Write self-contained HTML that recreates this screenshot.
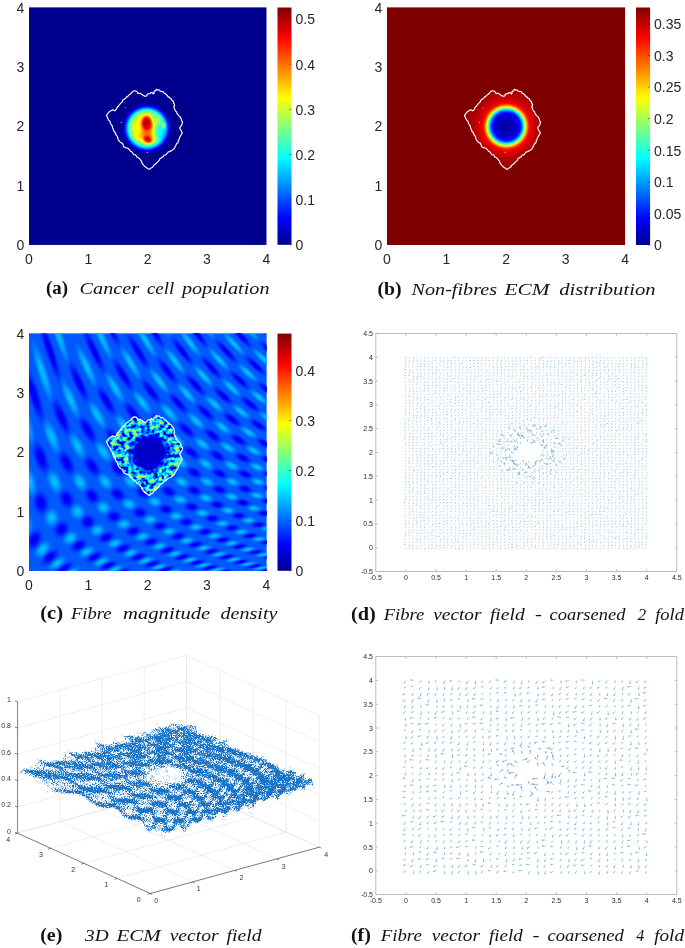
<!DOCTYPE html>
<html lang="en"><head><meta charset="utf-8"><title>Figure</title>
<style>
html,body{margin:0;padding:0;background:#fff}
svg{display:block}
.L{font-family:"Liberation Sans",sans-serif;font-size:14px;fill:#262626}
.S{font-family:"Liberation Sans",sans-serif;font-size:7px;fill:#2a2a2a}
.T{font-family:"Liberation Sans",sans-serif;font-size:7px;fill:#333}
.CB{font-family:"Liberation Serif",serif;font-weight:bold;font-size:18px;fill:#111}
.CI{font-family:"Liberation Serif",serif;font-style:italic;font-size:17px;fill:#111}
</style></head>
<body>
<svg width="685" height="948" viewBox="0 0 685 948">
<defs>
<linearGradient id="jet" x1="0" y1="1" x2="0" y2="0"><stop offset="0" stop-color="#00008f"/><stop offset="0.111" stop-color="#0000ff"/><stop offset="0.365" stop-color="#00ffff"/><stop offset="0.619" stop-color="#ffff00"/><stop offset="0.873" stop-color="#ff0000"/><stop offset="1" stop-color="#800000"/></linearGradient>
<filter id="jm" color-interpolation-filters="sRGB" x="0" y="0" width="1" height="1"><feComponentTransfer><feFuncR type="table" tableValues="0 0 0 0 0.5 1 1 1 0.5"/><feFuncG type="table" tableValues="0 0 0.5 1 1 1 0.5 0 0"/><feFuncB type="table" tableValues="0.5 1 1 1 0.5 0 0 0 0"/></feComponentTransfer></filter>
<filter id="bl1" x="-0.5" y="-0.5" width="2" height="2"><feGaussianBlur stdDeviation="1.2"/></filter>
<filter id="bl2" x="-0.5" y="-0.5" width="2" height="2"><feGaussianBlur stdDeviation="2.2"/></filter>
<clipPath id="cpA"><rect x="29" y="7.5" width="237.4" height="237.3"/></clipPath>
<clipPath id="ctA"><path d="M106.4 115.9l0.3 -0.9l0.7 -0.8l0.7 -1l1.3 -1.5l0.9 -0.5l0.6 -0.4l1.6 -1.1l0.8 0.3l1.4 0.8l1.3 -1l0.5 -1l0.4 -1l0.9 -1.3l0.7 -0.2l0.6 -1.4l0.7 -0.4l0.9 -1.5l0.6 -0.3l1 -0.8l0.2 -1.6l1 -0.5l1.3 -1l0.9 -0.5l0.7 -1.4l1.2 -0.3l0.6 -0.8l1.1 -1.1l0.9 -0.3l1.5 -1.8l0.5 -0.4l0.7 -1l1.5 -0.4l1.6 0.2l0.6 0.4l0.9 0.9l0.6 1.4l1.1 -0.4l1.1 -0.1l0.9 0.9l1.2 0.6l1.1 0.9l1.1 0.6l0.8 0l1.3 -0.3l0.8 -1.8l0.8 -0.4l1.4 0.1l1 -0.8l0.5 -0.5l1.3 0.4l0.9 1.1l0.7 -0.9l-0.2 -1.5l0.7 -0.5l1.2 -0.5l0.5 -1.4l0.7 0.7l1.5 0l0.9 0.1l0.8 1.2l1.2 0.2l1.4 0.1l0.7 0.6l0.8 1.1l1.3 0.6l1.1 1.4l0.6 0.2l0.9 1.6l0.8 -0.1l1.2 1.5l1.1 0.4l0.5 1.4l1.3 1.1l0.6 0.6l-0.1 1.7l1 0.6l-0.5 1.5l0.4 0.3l-0.7 1.1l0.4 1l0.6 1.1l0.2 0.8l0.6 1.1l1.1 0.9l0.1 1l0.6 1.2l0.5 0.5l1 1.2l1.3 1l0.3 0.4l0.6 1.5l0.4 1.1l0.1 1l1 0.8l-0.1 0.5l-0.3 1.4l-0.3 1l-0.6 0.8l-0.7 1.4l-0.9 0.8l-0.1 0.4l1.2 2l0.3 0.5l0.1 0.9l0.8 0.8l0.3 1.2l-0.8 0.8l-0.6 1.2l-0.5 0.9l-0.7 0.9l0 0.5l-0.8 1.5l-0.1 1.3l-0.6 0.4l0 1.3l-0.4 0.6l-1.4 1.2l-0.4 1.1l-0.2 0.5l-0.9 1.2l-0.3 1.2l-0.4 0.7l-0.7 0.4l-1.1 1.1l-1.2 0.6l-0.4 0.3l-1.3 0.5l-1.3 0.4l-0.7 0.8l-1 1l-0.6 1.1l-1.7 0.1l-0.6 1l-0.6 0.9l-1 0.4l-1.3 0.9l-1.1 0.8l0 0.9l-1.1 1.2l-0.9 0.7l-0.6 0.7l-0.7 0.8l-0.5 0.4l-2 1.6l-0.4 0.2l-0.3 1.3l-1.2 0.7l-0.7 0.2l-0.3 0.4l-1.2 1.1l-0.8 0l-1.3 -0.8l-1 -0.7l-1.2 -0.7l-1 -0.9l-0.8 -1.1l-0.4 -0.2l-0.7 -1.3l-0.8 -0.9l-0.1 -1.5l-0.4 -0.2l-0.9 -1.2l-0.3 -0.3l-0.8 -1.1l-1.1 -0.8l-1.3 -0.5l-0.6 -1.2l-0.3 -0.5l-0.7 -0.5l-1.2 0l-0.8 -1l-0.7 -1.2l-1 -1l-1 -0.3l-0.5 -0.8l-0.7 -1l-1.3 -1.1l-0.9 -0.4l-1 0l-1.2 -0.7l-1.1 -0.4l-0.3 -1.1l-0.3 -0.6l-0.8 -1.9l-1.1 -0.4l-0.6 -0.3l-1.4 -1.4l-0.2 -0.5l-0.8 -0.9l-0.3 -1.1l-0.4 -0.9l-0.2 -1.5l-1.2 -0.9l0 -0.5l-0.9 -1.5l0.4 -0.1l-1 -1.4l-0.9 -0.9l-0.3 -1.2l-0.3 -0.8l-0.6 -1l-0.2 -1.6l-0.6 -1l-0.8 -1.2l-0.6 -0.7l-0.1 -1.1l-0.4 -1.1l-1.3 -1.2l-0.2 -0.6l-0.8 -1.1l-0.2 -1.4z"/></clipPath>
<clipPath id="cpB"><rect x="387" y="7.5" width="238.1" height="237.5"/></clipPath>
<clipPath id="ctB"><path d="M464.4 115.9l0.3 -0.9l0.7 -0.8l0.7 -1l1.3 -1.5l0.9 -0.5l0.6 -0.4l1.6 -1.1l0.8 0.3l1.4 0.8l1.3 -1l0.5 -1l0.4 -1l0.9 -1.3l0.7 -0.2l0.6 -1.4l0.7 -0.4l0.9 -1.5l0.6 -0.3l1 -0.8l0.2 -1.6l1 -0.5l1.3 -1l0.9 -0.5l0.7 -1.4l1.2 -0.3l0.6 -0.8l1.1 -1.1l0.9 -0.3l1.5 -1.8l0.5 -0.4l0.7 -1l1.5 -0.4l1.6 0.2l0.6 0.4l0.9 0.9l0.6 1.4l1.1 -0.4l1.1 -0.1l0.9 0.9l1.2 0.6l1.1 0.9l1.1 0.6l0.8 0l1.3 -0.3l0.8 -1.8l0.8 -0.4l1.4 0.1l1 -0.8l0.5 -0.5l1.3 0.4l0.9 1.1l0.7 -0.9l-0.2 -1.5l0.7 -0.5l1.2 -0.5l0.5 -1.4l0.7 0.7l1.5 0l0.9 0.1l0.8 1.2l1.2 0.2l1.4 0.1l0.7 0.6l0.8 1.1l1.3 0.6l1.1 1.4l0.6 0.2l0.9 1.6l0.8 -0.1l1.2 1.5l1.1 0.4l0.5 1.4l1.3 1.1l0.6 0.6l-0.1 1.7l1 0.6l-0.5 1.5l0.4 0.3l-0.7 1.1l0.4 1l0.6 1.1l0.2 0.8l0.6 1.1l1.1 0.9l0.1 1l0.6 1.2l0.5 0.5l1 1.2l1.3 1l0.3 0.4l0.6 1.5l0.4 1.1l0.1 1l1 0.8l-0.1 0.5l-0.3 1.4l-0.3 1l-0.6 0.8l-0.7 1.4l-0.9 0.8l-0.1 0.4l1.2 2l0.3 0.5l0.1 0.9l0.8 0.8l0.3 1.2l-0.8 0.8l-0.6 1.2l-0.5 0.9l-0.7 0.9l0 0.5l-0.8 1.5l-0.1 1.3l-0.6 0.4l0 1.3l-0.4 0.6l-1.4 1.2l-0.4 1.1l-0.2 0.5l-0.9 1.2l-0.3 1.2l-0.4 0.7l-0.7 0.4l-1.1 1.1l-1.2 0.6l-0.4 0.3l-1.3 0.5l-1.3 0.4l-0.7 0.8l-1 1l-0.6 1.1l-1.7 0.1l-0.6 1l-0.6 0.9l-1 0.4l-1.3 0.9l-1.1 0.8l0 0.9l-1.1 1.2l-0.9 0.7l-0.6 0.7l-0.7 0.8l-0.5 0.4l-2 1.6l-0.4 0.2l-0.3 1.3l-1.2 0.7l-0.7 0.2l-0.3 0.4l-1.2 1.1l-0.8 0l-1.3 -0.8l-1 -0.7l-1.2 -0.7l-1 -0.9l-0.8 -1.1l-0.4 -0.2l-0.7 -1.3l-0.8 -0.9l-0.1 -1.5l-0.4 -0.2l-0.9 -1.2l-0.3 -0.3l-0.8 -1.1l-1.1 -0.8l-1.3 -0.5l-0.6 -1.2l-0.3 -0.5l-0.7 -0.5l-1.2 0l-0.8 -1l-0.7 -1.2l-1 -1l-1 -0.3l-0.5 -0.8l-0.7 -1l-1.3 -1.1l-0.9 -0.4l-1 0l-1.2 -0.7l-1.1 -0.4l-0.3 -1.1l-0.3 -0.6l-0.8 -1.9l-1.1 -0.4l-0.6 -0.3l-1.4 -1.4l-0.2 -0.5l-0.8 -0.9l-0.3 -1.1l-0.4 -0.9l-0.2 -1.5l-1.2 -0.9l0 -0.5l-0.9 -1.5l0.4 -0.1l-1 -1.4l-0.9 -0.9l-0.3 -1.2l-0.3 -0.8l-0.6 -1l-0.2 -1.6l-0.6 -1l-0.8 -1.2l-0.6 -0.7l-0.1 -1.1l-0.4 -1.1l-1.3 -1.2l-0.2 -0.6l-0.8 -1.1l-0.2 -1.4z"/></clipPath>
<clipPath id="cpC"><rect x="29" y="333.6" width="237.4" height="237.2"/></clipPath>
<clipPath id="ctC"><path d="M106.4 442l0.3 -0.9l0.7 -0.8l0.7 -1l1.3 -1.5l0.9 -0.5l0.6 -0.4l1.6 -1.1l0.8 0.3l1.4 0.8l1.3 -1l0.5 -1l0.4 -1l0.9 -1.3l0.7 -0.2l0.6 -1.4l0.7 -0.4l0.9 -1.5l0.6 -0.3l1 -0.8l0.2 -1.6l1 -0.5l1.3 -1l0.9 -0.5l0.7 -1.4l1.2 -0.3l0.6 -0.8l1.1 -1.1l0.9 -0.3l1.5 -1.8l0.5 -0.4l0.7 -1l1.5 -0.4l1.6 0.2l0.6 0.4l0.9 0.9l0.6 1.4l1.1 -0.4l1.1 -0.1l0.9 0.9l1.2 0.6l1.1 0.9l1.1 0.6l0.8 0l1.3 -0.3l0.8 -1.8l0.8 -0.4l1.4 0.1l1 -0.8l0.5 -0.5l1.3 0.4l0.9 1.1l0.7 -0.9l-0.2 -1.5l0.7 -0.5l1.2 -0.5l0.5 -1.4l0.7 0.7l1.5 0l0.9 0.1l0.8 1.2l1.2 0.2l1.4 0.1l0.7 0.6l0.8 1.1l1.3 0.6l1.1 1.4l0.6 0.2l0.9 1.6l0.8 -0.1l1.2 1.5l1.1 0.4l0.5 1.4l1.3 1.1l0.6 0.6l-0.1 1.7l1 0.6l-0.5 1.5l0.4 0.3l-0.7 1.1l0.4 1l0.6 1.1l0.2 0.8l0.6 1.1l1.1 0.9l0.1 1l0.6 1.2l0.5 0.5l1 1.2l1.3 1l0.3 0.4l0.6 1.5l0.4 1.1l0.1 1l1 0.8l-0.1 0.5l-0.3 1.4l-0.3 1l-0.6 0.8l-0.7 1.4l-0.9 0.8l-0.1 0.4l1.2 2l0.3 0.5l0.1 0.9l0.8 0.8l0.3 1.2l-0.8 0.8l-0.6 1.2l-0.5 0.9l-0.7 0.9l0 0.5l-0.8 1.5l-0.1 1.3l-0.6 0.4l0 1.3l-0.4 0.6l-1.4 1.2l-0.4 1.1l-0.2 0.5l-0.9 1.2l-0.3 1.2l-0.4 0.7l-0.7 0.4l-1.1 1.1l-1.2 0.6l-0.4 0.3l-1.3 0.5l-1.3 0.4l-0.7 0.8l-1 1l-0.6 1.1l-1.7 0.1l-0.6 1l-0.6 0.9l-1 0.4l-1.3 0.9l-1.1 0.8l0 0.9l-1.1 1.2l-0.9 0.7l-0.6 0.7l-0.7 0.8l-0.5 0.4l-2 1.6l-0.4 0.2l-0.3 1.3l-1.2 0.7l-0.7 0.2l-0.3 0.4l-1.2 1.1l-0.8 0l-1.3 -0.8l-1 -0.7l-1.2 -0.7l-1 -0.9l-0.8 -1.1l-0.4 -0.2l-0.7 -1.3l-0.8 -0.9l-0.1 -1.5l-0.4 -0.2l-0.9 -1.2l-0.3 -0.3l-0.8 -1.1l-1.1 -0.8l-1.3 -0.5l-0.6 -1.2l-0.3 -0.5l-0.7 -0.5l-1.2 0l-0.8 -1l-0.7 -1.2l-1 -1l-1 -0.3l-0.5 -0.8l-0.7 -1l-1.3 -1.1l-0.9 -0.4l-1 0l-1.2 -0.7l-1.1 -0.4l-0.3 -1.1l-0.3 -0.6l-0.8 -1.9l-1.1 -0.4l-0.6 -0.3l-1.4 -1.4l-0.2 -0.5l-0.8 -0.9l-0.3 -1.1l-0.4 -0.9l-0.2 -1.5l-1.2 -0.9l0 -0.5l-0.9 -1.5l0.4 -0.1l-1 -1.4l-0.9 -0.9l-0.3 -1.2l-0.3 -0.8l-0.6 -1l-0.2 -1.6l-0.6 -1l-0.8 -1.2l-0.6 -0.7l-0.1 -1.1l-0.4 -1.1l-1.3 -1.2l-0.2 -0.6l-0.8 -1.1l-0.2 -1.4z"/></clipPath>
<radialGradient id="gA"><stop offset="0" stop-color="#a1a1a1"/><stop offset="0.42" stop-color="#9e9e9e"/><stop offset="0.55" stop-color="#919191"/><stop offset="0.64" stop-color="#787878"/><stop offset="0.71" stop-color="#5c5c5c"/><stop offset="0.78" stop-color="#383838"/><stop offset="0.85" stop-color="#1c1c1c"/><stop offset="0.92" stop-color="#0a0a0a"/><stop offset="1" stop-color="#040404"/></radialGradient>
<radialGradient id="gB"><stop offset="0.000" stop-color="#080808"/><stop offset="0.130" stop-color="#0d0d0d"/><stop offset="0.239" stop-color="#171717"/><stop offset="0.304" stop-color="#242424"/><stop offset="0.337" stop-color="#383838"/><stop offset="0.374" stop-color="#606060"/><stop offset="0.404" stop-color="#858585"/><stop offset="0.430" stop-color="#a3a3a3"/><stop offset="0.461" stop-color="#c2c2c2"/><stop offset="0.500" stop-color="#dddddd"/><stop offset="0.554" stop-color="#e6e6e6"/><stop offset="0.630" stop-color="#eeeeee"/><stop offset="0.761" stop-color="#f5f5f5"/><stop offset="1.000" stop-color="#f9f9f9"/></radialGradient>
<radialGradient id="gcb"><stop offset="0.000" stop-color="#515151" stop-opacity="1.000"/><stop offset="0.125" stop-color="#515151" stop-opacity="0.962"/><stop offset="0.250" stop-color="#515151" stop-opacity="0.854"/><stop offset="0.375" stop-color="#515151" stop-opacity="0.691"/><stop offset="0.500" stop-color="#515151" stop-opacity="0.500"/><stop offset="0.625" stop-color="#515151" stop-opacity="0.309"/><stop offset="0.750" stop-color="#515151" stop-opacity="0.146"/><stop offset="0.875" stop-color="#515151" stop-opacity="0.038"/><stop offset="1.000" stop-color="#515151" stop-opacity="0.000"/></radialGradient>
<radialGradient id="gcd"><stop offset="0.000" stop-color="#1b1b1b" stop-opacity="1.000"/><stop offset="0.125" stop-color="#1b1b1b" stop-opacity="0.962"/><stop offset="0.250" stop-color="#1b1b1b" stop-opacity="0.854"/><stop offset="0.375" stop-color="#1b1b1b" stop-opacity="0.691"/><stop offset="0.500" stop-color="#1b1b1b" stop-opacity="0.500"/><stop offset="0.625" stop-color="#1b1b1b" stop-opacity="0.309"/><stop offset="0.750" stop-color="#1b1b1b" stop-opacity="0.146"/><stop offset="0.875" stop-color="#1b1b1b" stop-opacity="0.038"/><stop offset="1.000" stop-color="#1b1b1b" stop-opacity="0.000"/></radialGradient>
<circle id="sb" r="1" fill="url(#gcb)"/><circle id="sd" r="1" fill="url(#gcd)"/>
<filter id="nz" color-interpolation-filters="sRGB" x="0" y="0" width="1" height="1"><feTurbulence type="fractalNoise" baseFrequency="0.24" numOctaves="2" seed="11"/><feColorMatrix type="matrix" values="1.15 0 0 0 -0.265 1.15 0 0 0 -0.265 1.15 0 0 0 -0.265 0 0 0 0 1"/></filter>
<radialGradient id="gcore"><stop offset="0.000" stop-color="#0e0e0e" stop-opacity="0.95"/><stop offset="0.462" stop-color="#0e0e0e" stop-opacity="0.93"/><stop offset="0.577" stop-color="#0e0e0e" stop-opacity="0.85"/><stop offset="0.673" stop-color="#0e0e0e" stop-opacity="0.6"/><stop offset="0.769" stop-color="#0e0e0e" stop-opacity="0.3"/><stop offset="0.885" stop-color="#0e0e0e" stop-opacity="0.08"/><stop offset="1.000" stop-color="#0e0e0e" stop-opacity="0"/></radialGradient>
<filter id="spk" x="0" y="0" width="1" height="1" color-interpolation-filters="sRGB"><feTurbulence type="fractalNoise" baseFrequency="0.9" numOctaves="2" seed="4" result="n"/><feColorMatrix in="n" type="matrix" values="0 0 0 0 0 0 0 0 0 0 0 0 0 0 0 1 0 0 0 0" result="na"/><feComposite in="na" in2="SourceGraphic" operator="arithmetic" k1="0" k2="5" k3="3.8" k4="-3.6" result="m"/><feFlood flood-color="#1873c6" result="f"/><feComposite in="f" in2="m" operator="in" result="o"/><feComponentTransfer in="SourceGraphic" result="sa"><feFuncA type="linear" slope="7" intercept="-0.35"/></feComponentTransfer><feComposite in="o" in2="sa" operator="in"/></filter>
<filter id="ble" x="-0.1" y="-0.1" width="1.2" height="1.2"><feGaussianBlur stdDeviation="1.1"/></filter>
<clipPath id="cpE"><path d="M18.7 769.4L21.6 768.6L25.1 765.1L31.2 761.4L34.1 760.7L36.5 757.6L42.5 756.6L46.9 754.4L49.9 753.0L54.9 754.3L59.4 752.6L63.2 751.2L66.8 748.5L72.3 749.0L75.7 746.0L79.4 745.5L83.5 746.4L87.4 745.7L93.2 742.2L96.0 742.6L99.2 741.5L105.4 739.4L108.5 738.3L112.4 739.7L115.4 735.8L119.0 736.4L122.8 733.9L128.0 735.4L132.2 732.2L137.2 729.7L141.4 728.4L145.9 729.4L149.3 727.1L155.6 724.8L159.5 726.6L166.3 722.8L169.9 724.5L173.1 722.4L177.0 720.7L183.2 722.2L187.9 721.5L191.3 724.8L196.4 724.3L200.4 726.9L204.8 725.3L209.2 727.9L212.2 729.1L216.1 731.1L219.0 733.7L222.9 735.7L226.6 737.3L232.5 738.0L236.1 739.1L240.1 741.6L242.6 745.3L246.9 745.3L252.0 747.3L255.4 748.6L259.7 750.8L261.5 755.0L265.4 756.9L271.0 757.7L272.0 757.9L276.0 760.9L280.6 764.7L283.5 764.0L287.5 765.9L289.8 769.2L295.6 769.4L299.2 773.2L304.3 773.9L308.8 774.9L311.9 779.7L315.8 781.7L309.6 782.6L306.5 785.3L302.5 787.4L298.8 788.2L292.6 788.5L289.6 790.2L285.5 791.6L281.9 796.7L278.2 799.4L273.0 802.2L271.4 803.4L266.0 804.2L262.6 803.4L257.4 805.7L252.1 807.0L248.7 805.8L244.2 807.7L239.9 809.7L234.9 811.1L231.9 813.5L227.7 814.8L225.2 815.6L221.8 815.2L217.3 818.6L212.5 818.4L206.0 818.1L202.5 818.6L197.1 821.6L194.2 824.7L189.1 827.9L186.0 830.4L181.2 833.5L178.7 836.0L174.6 837.0L167.2 836.9L163.8 836.8L159.9 833.6L155.4 831.9L153.3 833.3L147.6 831.2L143.6 829.1L139.1 828.1L134.5 825.6L130.9 824.0L127.0 824.0L122.2 819.0L120.4 816.4L115.3 816.6L112.4 812.2L107.3 810.0L104.2 810.0L102.3 808.3L98.4 807.2L94.7 805.5L91.2 801.2L84.6 800.3L80.5 799.6L74.9 799.3L70.9 795.8L66.4 795.1L63.0 794.0L58.4 791.3L54.1 790.3L49.3 789.5L45.0 787.9L41.8 783.8L37.3 782.3L32.5 780.9L29.8 779.1L26.3 774.3L22.4 772.0z"/></clipPath>
<mask id="mE" maskUnits="userSpaceOnUse" x="0" y="640" width="343" height="300"><rect x="0" y="640" width="343" height="300" fill="#fff"/><ellipse cx="166" cy="775.5" rx="27" ry="12" fill="url(#ghm)"/></mask>
<radialGradient id="ghm"><stop offset="0" stop-color="#000" stop-opacity="0.9"/><stop offset="0.5" stop-color="#000" stop-opacity="0.8"/><stop offset="0.7" stop-color="#000" stop-opacity="0.45"/><stop offset="1" stop-color="#000" stop-opacity="0"/></radialGradient>
<filter id="blw" x="-0.05" y="-0.1" width="1.1" height="1.2"><feGaussianBlur stdDeviation="0.8"/></filter>
</defs>
<rect width="685" height="948" fill="#fff"/>
<rect x="29" y="7.5" width="237.4" height="237.3" fill="#00008f"/>
<g clip-path="url(#cpA)"><g filter="url(#jm)"><rect x="29" y="7.5" width="237.4" height="237.3" fill="#040404"/><circle cx="146.8" cy="128.3" r="26.5" fill="url(#gA)"/><ellipse cx="160" cy="131.2" rx="5.3" ry="9.1" fill="#000" opacity="0.32" filter="url(#bl2)"/><ellipse cx="153.4" cy="118.8" rx="3.2" ry="4.4" fill="#000" opacity="0.12" filter="url(#bl1)"/><ellipse cx="146.8" cy="129" rx="5" ry="13.9" fill="#fff" opacity="0.42" filter="url(#bl2)" transform="rotate(-4 146.8 129)"/><ellipse cx="146.8" cy="123.2" rx="5" ry="6.7" fill="#fff" opacity="0.62" filter="url(#bl1)"/><ellipse cx="146.4" cy="122.4" rx="2" ry="2.6" fill="#fff" opacity="0.55" filter="url(#bl1)"/><ellipse cx="147.8" cy="139.5" rx="4.4" ry="2.9" fill="#fff" opacity="0.62" filter="url(#bl1)" transform="rotate(28 147.8 139.5)"/><ellipse cx="138.8" cy="136.3" rx="5.3" ry="2.9" fill="#fff" opacity="0.1" filter="url(#bl1)" transform="rotate(-15 138.8 136.3)"/><ellipse cx="163.6" cy="125.4" rx="1.3" ry="2.5" fill="#fff" opacity="0.42" filter="url(#bl1)"/></g></g><path d="M106.4 115.9l0.3 -0.9l0.7 -0.8l0.7 -1l1.3 -1.5l0.9 -0.5l0.6 -0.4l1.6 -1.1l0.8 0.3l1.4 0.8l1.3 -1l0.5 -1l0.4 -1l0.9 -1.3l0.7 -0.2l0.6 -1.4l0.7 -0.4l0.9 -1.5l0.6 -0.3l1 -0.8l0.2 -1.6l1 -0.5l1.3 -1l0.9 -0.5l0.7 -1.4l1.2 -0.3l0.6 -0.8l1.1 -1.1l0.9 -0.3l1.5 -1.8l0.5 -0.4l0.7 -1l1.5 -0.4l1.6 0.2l0.6 0.4l0.9 0.9l0.6 1.4l1.1 -0.4l1.1 -0.1l0.9 0.9l1.2 0.6l1.1 0.9l1.1 0.6l0.8 0l1.3 -0.3l0.8 -1.8l0.8 -0.4l1.4 0.1l1 -0.8l0.5 -0.5l1.3 0.4l0.9 1.1l0.7 -0.9l-0.2 -1.5l0.7 -0.5l1.2 -0.5l0.5 -1.4l0.7 0.7l1.5 0l0.9 0.1l0.8 1.2l1.2 0.2l1.4 0.1l0.7 0.6l0.8 1.1l1.3 0.6l1.1 1.4l0.6 0.2l0.9 1.6l0.8 -0.1l1.2 1.5l1.1 0.4l0.5 1.4l1.3 1.1l0.6 0.6l-0.1 1.7l1 0.6l-0.5 1.5l0.4 0.3l-0.7 1.1l0.4 1l0.6 1.1l0.2 0.8l0.6 1.1l1.1 0.9l0.1 1l0.6 1.2l0.5 0.5l1 1.2l1.3 1l0.3 0.4l0.6 1.5l0.4 1.1l0.1 1l1 0.8l-0.1 0.5l-0.3 1.4l-0.3 1l-0.6 0.8l-0.7 1.4l-0.9 0.8l-0.1 0.4l1.2 2l0.3 0.5l0.1 0.9l0.8 0.8l0.3 1.2l-0.8 0.8l-0.6 1.2l-0.5 0.9l-0.7 0.9l0 0.5l-0.8 1.5l-0.1 1.3l-0.6 0.4l0 1.3l-0.4 0.6l-1.4 1.2l-0.4 1.1l-0.2 0.5l-0.9 1.2l-0.3 1.2l-0.4 0.7l-0.7 0.4l-1.1 1.1l-1.2 0.6l-0.4 0.3l-1.3 0.5l-1.3 0.4l-0.7 0.8l-1 1l-0.6 1.1l-1.7 0.1l-0.6 1l-0.6 0.9l-1 0.4l-1.3 0.9l-1.1 0.8l0 0.9l-1.1 1.2l-0.9 0.7l-0.6 0.7l-0.7 0.8l-0.5 0.4l-2 1.6l-0.4 0.2l-0.3 1.3l-1.2 0.7l-0.7 0.2l-0.3 0.4l-1.2 1.1l-0.8 0l-1.3 -0.8l-1 -0.7l-1.2 -0.7l-1 -0.9l-0.8 -1.1l-0.4 -0.2l-0.7 -1.3l-0.8 -0.9l-0.1 -1.5l-0.4 -0.2l-0.9 -1.2l-0.3 -0.3l-0.8 -1.1l-1.1 -0.8l-1.3 -0.5l-0.6 -1.2l-0.3 -0.5l-0.7 -0.5l-1.2 0l-0.8 -1l-0.7 -1.2l-1 -1l-1 -0.3l-0.5 -0.8l-0.7 -1l-1.3 -1.1l-0.9 -0.4l-1 0l-1.2 -0.7l-1.1 -0.4l-0.3 -1.1l-0.3 -0.6l-0.8 -1.9l-1.1 -0.4l-0.6 -0.3l-1.4 -1.4l-0.2 -0.5l-0.8 -0.9l-0.3 -1.1l-0.4 -0.9l-0.2 -1.5l-1.2 -0.9l0 -0.5l-0.9 -1.5l0.4 -0.1l-1 -1.4l-0.9 -0.9l-0.3 -1.2l-0.3 -0.8l-0.6 -1l-0.2 -1.6l-0.6 -1l-0.8 -1.2l-0.6 -0.7l-0.1 -1.1l-0.4 -1.1l-1.3 -1.2l-0.2 -0.6l-0.8 -1.1l-0.2 -1.4z" fill="none" stroke="#fff" stroke-width="1.15" stroke-linejoin="round"/><circle cx="125.2" cy="107.8" r="0.55" fill="#fff" opacity="0.85"/><circle cx="121.3" cy="122.4" r="0.55" fill="#fff" opacity="0.85"/><circle cx="147.3" cy="152.4" r="0.55" fill="#fff" opacity="0.85"/>
<text x="29" y="264.1" text-anchor="middle" class="L">0</text>
<text x="24.3" y="249.9" text-anchor="end" class="L">0</text>
<text x="88.3" y="264.1" text-anchor="middle" class="L">1</text>
<text x="24.3" y="190.6" text-anchor="end" class="L">1</text>
<text x="147.7" y="264.1" text-anchor="middle" class="L">2</text>
<text x="24.3" y="131.2" text-anchor="end" class="L">2</text>
<text x="207" y="264.1" text-anchor="middle" class="L">3</text>
<text x="24.3" y="71.9" text-anchor="end" class="L">3</text>
<text x="266.4" y="264.1" text-anchor="middle" class="L">4</text>
<text x="24.3" y="12.6" text-anchor="end" class="L">4</text>
<rect x="277.5" y="7.5" width="14" height="237.3" fill="url(#jet)"/>
<text x="295.5" y="250.1" class="L">0</text>
<path d="M289.1 244.8h2.4" stroke="#262626" stroke-width="0.5"/>
<text x="295.5" y="204.9" class="L">0.1</text>
<path d="M289.1 199.6h2.4" stroke="#262626" stroke-width="0.5"/>
<text x="295.5" y="159.8" class="L">0.2</text>
<path d="M289.1 154.5h2.4" stroke="#262626" stroke-width="0.5"/>
<text x="295.5" y="114.6" class="L">0.3</text>
<path d="M289.1 109.3h2.4" stroke="#262626" stroke-width="0.5"/>
<text x="295.5" y="69.5" class="L">0.4</text>
<path d="M289.1 64.2h2.4" stroke="#262626" stroke-width="0.5"/>
<text x="295.5" y="24.3" class="L">0.5</text>
<path d="M289.1 19h2.4" stroke="#262626" stroke-width="0.5"/>
<rect x="387" y="7.5" width="238.1" height="237.5" fill="#800000"/>
<g clip-path="url(#cpB)"><g filter="url(#jm)"><rect x="387" y="7.5" width="238.1" height="237.5" fill="#ffffff"/><g clip-path="url(#ctB)"><ellipse cx="506.3" cy="126.4" rx="46.0" ry="46.0" fill="url(#gB)"/></g></g></g><path d="M464.4 115.9l0.3 -0.9l0.7 -0.8l0.7 -1l1.3 -1.5l0.9 -0.5l0.6 -0.4l1.6 -1.1l0.8 0.3l1.4 0.8l1.3 -1l0.5 -1l0.4 -1l0.9 -1.3l0.7 -0.2l0.6 -1.4l0.7 -0.4l0.9 -1.5l0.6 -0.3l1 -0.8l0.2 -1.6l1 -0.5l1.3 -1l0.9 -0.5l0.7 -1.4l1.2 -0.3l0.6 -0.8l1.1 -1.1l0.9 -0.3l1.5 -1.8l0.5 -0.4l0.7 -1l1.5 -0.4l1.6 0.2l0.6 0.4l0.9 0.9l0.6 1.4l1.1 -0.4l1.1 -0.1l0.9 0.9l1.2 0.6l1.1 0.9l1.1 0.6l0.8 0l1.3 -0.3l0.8 -1.8l0.8 -0.4l1.4 0.1l1 -0.8l0.5 -0.5l1.3 0.4l0.9 1.1l0.7 -0.9l-0.2 -1.5l0.7 -0.5l1.2 -0.5l0.5 -1.4l0.7 0.7l1.5 0l0.9 0.1l0.8 1.2l1.2 0.2l1.4 0.1l0.7 0.6l0.8 1.1l1.3 0.6l1.1 1.4l0.6 0.2l0.9 1.6l0.8 -0.1l1.2 1.5l1.1 0.4l0.5 1.4l1.3 1.1l0.6 0.6l-0.1 1.7l1 0.6l-0.5 1.5l0.4 0.3l-0.7 1.1l0.4 1l0.6 1.1l0.2 0.8l0.6 1.1l1.1 0.9l0.1 1l0.6 1.2l0.5 0.5l1 1.2l1.3 1l0.3 0.4l0.6 1.5l0.4 1.1l0.1 1l1 0.8l-0.1 0.5l-0.3 1.4l-0.3 1l-0.6 0.8l-0.7 1.4l-0.9 0.8l-0.1 0.4l1.2 2l0.3 0.5l0.1 0.9l0.8 0.8l0.3 1.2l-0.8 0.8l-0.6 1.2l-0.5 0.9l-0.7 0.9l0 0.5l-0.8 1.5l-0.1 1.3l-0.6 0.4l0 1.3l-0.4 0.6l-1.4 1.2l-0.4 1.1l-0.2 0.5l-0.9 1.2l-0.3 1.2l-0.4 0.7l-0.7 0.4l-1.1 1.1l-1.2 0.6l-0.4 0.3l-1.3 0.5l-1.3 0.4l-0.7 0.8l-1 1l-0.6 1.1l-1.7 0.1l-0.6 1l-0.6 0.9l-1 0.4l-1.3 0.9l-1.1 0.8l0 0.9l-1.1 1.2l-0.9 0.7l-0.6 0.7l-0.7 0.8l-0.5 0.4l-2 1.6l-0.4 0.2l-0.3 1.3l-1.2 0.7l-0.7 0.2l-0.3 0.4l-1.2 1.1l-0.8 0l-1.3 -0.8l-1 -0.7l-1.2 -0.7l-1 -0.9l-0.8 -1.1l-0.4 -0.2l-0.7 -1.3l-0.8 -0.9l-0.1 -1.5l-0.4 -0.2l-0.9 -1.2l-0.3 -0.3l-0.8 -1.1l-1.1 -0.8l-1.3 -0.5l-0.6 -1.2l-0.3 -0.5l-0.7 -0.5l-1.2 0l-0.8 -1l-0.7 -1.2l-1 -1l-1 -0.3l-0.5 -0.8l-0.7 -1l-1.3 -1.1l-0.9 -0.4l-1 0l-1.2 -0.7l-1.1 -0.4l-0.3 -1.1l-0.3 -0.6l-0.8 -1.9l-1.1 -0.4l-0.6 -0.3l-1.4 -1.4l-0.2 -0.5l-0.8 -0.9l-0.3 -1.1l-0.4 -0.9l-0.2 -1.5l-1.2 -0.9l0 -0.5l-0.9 -1.5l0.4 -0.1l-1 -1.4l-0.9 -0.9l-0.3 -1.2l-0.3 -0.8l-0.6 -1l-0.2 -1.6l-0.6 -1l-0.8 -1.2l-0.6 -0.7l-0.1 -1.1l-0.4 -1.1l-1.3 -1.2l-0.2 -0.6l-0.8 -1.1l-0.2 -1.4z" fill="none" stroke="#fff" stroke-width="1.15" stroke-linejoin="round"/><circle cx="483.2" cy="107.8" r="0.55" fill="#fff" opacity="0.85"/><circle cx="479.3" cy="122.4" r="0.55" fill="#fff" opacity="0.85"/><circle cx="505.3" cy="152.4" r="0.55" fill="#fff" opacity="0.85"/>
<text x="387" y="264.3" text-anchor="middle" class="L">0</text>
<text x="382.3" y="250.1" text-anchor="end" class="L">0</text>
<text x="446.5" y="264.3" text-anchor="middle" class="L">1</text>
<text x="382.3" y="190.7" text-anchor="end" class="L">1</text>
<text x="506.1" y="264.3" text-anchor="middle" class="L">2</text>
<text x="382.3" y="131.3" text-anchor="end" class="L">2</text>
<text x="565.6" y="264.3" text-anchor="middle" class="L">3</text>
<text x="382.3" y="72" text-anchor="end" class="L">3</text>
<text x="625.1" y="264.3" text-anchor="middle" class="L">4</text>
<text x="382.3" y="12.6" text-anchor="end" class="L">4</text>
<rect x="636" y="7.5" width="14.1" height="237.5" fill="url(#jet)"/>
<text x="654" y="250.3" class="L">0</text>
<path d="M647.7 245h2.4" stroke="#262626" stroke-width="0.5"/>
<text x="654" y="218.7" class="L">0.05</text>
<path d="M647.7 213.4h2.4" stroke="#262626" stroke-width="0.5"/>
<text x="654" y="187.1" class="L">0.1</text>
<path d="M647.7 181.8h2.4" stroke="#262626" stroke-width="0.5"/>
<text x="654" y="155.5" class="L">0.15</text>
<path d="M647.7 150.2h2.4" stroke="#262626" stroke-width="0.5"/>
<text x="654" y="123.9" class="L">0.2</text>
<path d="M647.7 118.6h2.4" stroke="#262626" stroke-width="0.5"/>
<text x="654" y="92.3" class="L">0.25</text>
<path d="M647.7 87h2.4" stroke="#262626" stroke-width="0.5"/>
<text x="654" y="60.7" class="L">0.3</text>
<path d="M647.7 55.4h2.4" stroke="#262626" stroke-width="0.5"/>
<text x="654" y="29.1" class="L">0.35</text>
<path d="M647.7 23.8h2.4" stroke="#262626" stroke-width="0.5"/>
<rect x="29" y="333.6" width="237.4" height="237.2" fill="#0057ff"/>
<g clip-path="url(#cpC)"><g filter="url(#jm)"><rect x="29" y="333.6" width="237.4" height="237.2" fill="#363636"/><use href="#sd" transform="matrix(11.46 -12.34 3.99 4.29 19.4 574.3)"/><use href="#sb" transform="matrix(12.31 -11.49 3.71 3.46 25.3 580.2)"/><use href="#sb" transform="matrix(7.39 -11.49 6.19 9.62 25.3 527.1)"/><use href="#sd" transform="matrix(8.17 -10.39 5.60 7.12 34.3 539.8)"/><use href="#sb" transform="matrix(8.88 -9.56 5.15 5.54 42.5 549.4)"/><use href="#sd" transform="matrix(9.54 -8.90 4.79 4.47 50.1 557.0)"/><use href="#sb" transform="matrix(10.15 -8.36 4.50 3.71 57.2 563.3)"/><use href="#sd" transform="matrix(10.73 -7.91 4.26 3.14 63.9 568.5)"/><use href="#sb" transform="matrix(11.28 -7.52 4.05 2.70 70.3 572.9)"/><use href="#sd" transform="matrix(11.81 -7.19 3.87 2.36 76.4 576.8)"/><use href="#sd" transform="matrix(4.65 -13.03 9.82 27.49 15.2 449.2)"/><use href="#sb" transform="matrix(5.51 -11.01 8.30 16.60 29.0 481.8)"/><use href="#sd" transform="matrix(6.24 -9.71 7.32 11.38 40.9 502.8)"/><use href="#sb" transform="matrix(6.90 -8.78 6.62 8.43 51.6 517.8)"/><use href="#sd" transform="matrix(7.50 -8.08 6.09 6.56 61.3 529.2)"/><use href="#sb" transform="matrix(8.06 -7.52 5.67 5.29 70.3 538.2)"/><use href="#sd" transform="matrix(8.58 -7.07 5.33 4.39 78.7 545.6)"/><use href="#sb" transform="matrix(9.07 -6.68 5.04 3.71 86.6 551.8)"/><use href="#sd" transform="matrix(9.54 -6.36 4.79 3.19 94.2 557.0)"/><use href="#sb" transform="matrix(9.98 -6.07 4.58 2.79 101.3 561.6)"/><use href="#sd" transform="matrix(10.40 -5.83 4.39 2.46 108.2 565.6)"/><use href="#sb" transform="matrix(10.81 -5.61 4.23 2.19 114.8 569.2)"/><use href="#sd" transform="matrix(11.21 -5.41 4.08 1.97 121.2 572.3)"/><use href="#sb" transform="matrix(11.59 -5.23 3.94 1.78 127.3 575.2)"/><use href="#sb" transform="matrix(4.10 -11.49 11.13 31.18 25.3 420.9)"/><use href="#sd" transform="matrix(4.86 -9.71 9.41 18.82 40.9 457.9)"/><use href="#sb" transform="matrix(5.51 -8.56 8.30 12.91 54.4 481.8)"/><use href="#sd" transform="matrix(6.09 -7.75 7.51 9.55 66.5 498.8)"/><use href="#sb" transform="matrix(6.62 -7.13 6.91 7.44 77.5 511.7)"/><use href="#sd" transform="matrix(7.11 -6.63 6.43 6.00 87.7 521.9)"/><use href="#sb" transform="matrix(7.57 -6.23 6.04 4.97 97.3 530.3)"/><use href="#sd" transform="matrix(8.00 -5.89 5.71 4.21 106.3 537.3)"/><use href="#sb" transform="matrix(8.41 -5.61 5.43 3.62 114.8 543.3)"/><use href="#sd" transform="matrix(8.80 -5.36 5.19 3.16 123.0 548.4)"/><use href="#sb" transform="matrix(9.18 -5.14 4.98 2.79 130.7 553.0)"/><use href="#sd" transform="matrix(9.54 -4.94 4.79 2.48 138.2 557.0)"/><use href="#sb" transform="matrix(9.88 -4.77 4.62 2.23 145.4 560.6)"/><use href="#sd" transform="matrix(10.22 -4.61 4.47 2.02 152.4 563.9)"/><use href="#sb" transform="matrix(10.54 -4.47 4.33 1.84 159.2 566.8)"/><use href="#sd" transform="matrix(10.86 -4.34 4.21 1.68 165.7 569.5)"/><use href="#sb" transform="matrix(11.16 -4.22 4.09 1.55 172.1 572.0)"/><use href="#sd" transform="matrix(11.46 -4.11 3.99 1.43 178.2 574.3)"/><use href="#sb" transform="matrix(2.88 -13.42 15.89 74.16 13.0 318.9)"/><use href="#sd" transform="matrix(3.71 -10.39 12.31 34.47 34.3 395.7)"/><use href="#sb" transform="matrix(4.39 -8.78 10.40 20.81 51.6 436.6)"/><use href="#sd" transform="matrix(4.98 -7.75 9.17 14.27 66.5 463.0)"/><use href="#sb" transform="matrix(5.51 -7.01 8.30 10.56 79.9 481.8)"/><use href="#sd" transform="matrix(5.99 -6.45 7.63 8.22 92.1 496.0)"/><use href="#sb" transform="matrix(6.43 -6.00 7.11 6.63 103.3 507.4)"/><use href="#sd" transform="matrix(6.84 -5.64 6.68 5.50 113.9 516.6)"/><use href="#sb" transform="matrix(7.24 -5.33 6.31 4.65 123.8 524.3)"/><use href="#sd" transform="matrix(7.61 -5.07 6.01 4.00 133.3 531.0)"/><use href="#sb" transform="matrix(7.96 -4.85 5.74 3.49 142.3 536.7)"/><use href="#sd" transform="matrix(8.30 -4.65 5.50 3.08 150.9 541.7)"/><use href="#sb" transform="matrix(8.63 -4.47 5.30 2.75 159.2 546.2)"/><use href="#sd" transform="matrix(8.94 -4.32 5.11 2.47 167.1 550.2)"/><use href="#sb" transform="matrix(9.24 -4.17 4.94 2.23 174.8 553.8)"/><use href="#sd" transform="matrix(9.54 -4.05 4.79 2.03 182.3 557.0)"/><use href="#sb" transform="matrix(9.82 -3.93 4.65 1.86 189.5 560.0)"/><use href="#sd" transform="matrix(10.10 -3.82 4.52 1.71 196.5 562.7)"/><use href="#sb" transform="matrix(10.37 -3.72 4.41 1.58 203.4 565.3)"/><use href="#sd" transform="matrix(10.63 -3.63 4.30 1.47 210.1 567.6)"/><use href="#sb" transform="matrix(10.89 -3.54 4.20 1.37 216.6 569.8)"/><use href="#sd" transform="matrix(11.14 -3.46 4.10 1.28 222.9 571.8)"/><use href="#sb" transform="matrix(11.38 -3.39 4.01 1.20 229.1 573.7)"/><use href="#sb" transform="matrix(3.41 -9.56 13.38 37.47 42.5 372.7)"/><use href="#sd" transform="matrix(4.04 -8.08 11.31 22.62 61.3 417.2)"/><use href="#sb" transform="matrix(4.58 -7.13 9.97 15.52 77.5 445.8)"/><use href="#sd" transform="matrix(5.06 -6.45 9.02 11.48 92.1 466.3)"/><use href="#sb" transform="matrix(5.51 -5.93 8.30 8.94 105.3 481.8)"/><use href="#sd" transform="matrix(5.91 -5.52 7.73 7.21 117.6 494.1)"/><use href="#sb" transform="matrix(6.30 -5.18 7.26 5.98 129.0 504.1)"/><use href="#sd" transform="matrix(6.66 -4.90 6.86 5.06 139.9 512.5)"/><use href="#sb" transform="matrix(7.00 -4.66 6.53 4.35 150.1 519.7)"/><use href="#sd" transform="matrix(7.32 -4.46 6.24 3.80 159.9 526.0)"/><use href="#sb" transform="matrix(7.63 -4.28 5.98 3.35 169.2 531.4)"/><use href="#sd" transform="matrix(7.93 -4.11 5.76 2.99 178.2 536.3)"/><use href="#sb" transform="matrix(8.22 -3.97 5.56 2.68 186.9 540.6)"/><use href="#sd" transform="matrix(8.50 -3.84 5.37 2.43 195.3 544.5)"/><use href="#sb" transform="matrix(8.77 -3.72 5.21 2.21 203.4 548.1)"/><use href="#sd" transform="matrix(9.03 -3.61 5.06 2.02 211.3 551.3)"/><use href="#sb" transform="matrix(9.29 -3.51 4.92 1.86 218.9 554.3)"/><use href="#sd" transform="matrix(9.54 -3.42 4.79 1.72 226.3 557.0)"/><use href="#sb" transform="matrix(9.78 -3.34 4.67 1.60 233.6 559.6)"/><use href="#sd" transform="matrix(10.01 -3.26 4.56 1.49 240.7 561.9)"/><use href="#sb" transform="matrix(10.24 -3.19 4.46 1.39 247.6 564.1)"/><use href="#sd" transform="matrix(10.47 -3.12 4.36 1.30 254.3 566.2)"/><use href="#sb" transform="matrix(10.69 -3.05 4.27 1.22 261.0 568.1)"/><use href="#sd" transform="matrix(10.90 -2.99 4.19 1.15 267.4 569.9)"/><use href="#sb" transform="matrix(11.12 -2.94 4.11 1.09 273.8 571.6)"/><use href="#sd" transform="matrix(11.32 -2.88 4.03 1.03 280.0 573.3)"/><use href="#sd" transform="matrix(3.18 -8.90 14.37 40.25 50.1 351.4)"/><use href="#sb" transform="matrix(3.76 -7.52 12.15 24.30 70.3 399.2)"/><use href="#sd" transform="matrix(4.26 -6.63 10.71 16.67 87.7 430.0)"/><use href="#sb" transform="matrix(4.71 -6.00 9.69 12.33 103.3 451.9)"/><use href="#sd" transform="matrix(5.13 -5.52 8.91 9.60 117.6 468.6)"/><use href="#sb" transform="matrix(5.51 -5.14 8.30 7.75 130.7 481.8)"/><use href="#sd" transform="matrix(5.86 -4.83 7.80 6.42 143.1 492.6)"/><use href="#sb" transform="matrix(6.20 -4.57 7.37 5.43 154.7 501.6)"/><use href="#sd" transform="matrix(6.51 -4.34 7.01 4.68 165.7 509.3)"/><use href="#sb" transform="matrix(6.82 -4.15 6.70 4.08 176.2 516.0)"/><use href="#sd" transform="matrix(7.11 -3.98 6.43 3.60 186.3 521.9)"/><use href="#sb" transform="matrix(7.39 -3.83 6.19 3.21 195.9 527.1)"/><use href="#sd" transform="matrix(7.66 -3.70 5.97 2.88 205.2 531.8)"/><use href="#sb" transform="matrix(7.91 -3.57 5.77 2.61 214.2 536.0)"/><use href="#sd" transform="matrix(8.17 -3.46 5.60 2.37 222.9 539.8)"/><use href="#sb" transform="matrix(8.41 -3.36 5.43 2.17 231.4 543.3)"/><use href="#sd" transform="matrix(8.65 -3.27 5.28 2.00 239.6 546.5)"/><use href="#sb" transform="matrix(8.88 -3.19 5.15 1.85 247.6 549.4)"/><use href="#sd" transform="matrix(9.10 -3.11 5.02 1.71 255.4 552.1)"/><use href="#sb" transform="matrix(9.32 -3.03 4.90 1.60 263.0 554.7)"/><use href="#sd" transform="matrix(9.54 -2.97 4.79 1.49 270.4 557.0)"/><use href="#sb" transform="matrix(9.75 -2.90 4.69 1.40 277.7 559.2)"/><use href="#sb" transform="matrix(2.99 -8.36 15.30 42.85 57.2 331.5)"/><use href="#sd" transform="matrix(3.53 -7.07 12.93 25.87 78.7 382.4)"/><use href="#sb" transform="matrix(4.01 -6.23 11.41 17.74 97.3 415.1)"/><use href="#sd" transform="matrix(4.43 -5.64 10.32 13.13 113.9 438.5)"/><use href="#sb" transform="matrix(4.81 -5.18 9.49 10.22 129.0 456.2)"/><use href="#sd" transform="matrix(5.17 -4.83 8.83 8.25 143.1 470.3)"/><use href="#sb" transform="matrix(5.51 -4.53 8.30 6.83 156.2 481.8)"/><use href="#sd" transform="matrix(5.82 -4.29 7.85 5.78 168.5 491.4)"/><use href="#sb" transform="matrix(6.12 -4.08 7.47 4.98 180.3 499.6)"/><use href="#sd" transform="matrix(6.40 -3.90 7.13 4.34 191.5 506.8)"/><use href="#sb" transform="matrix(6.68 -3.74 6.84 3.83 202.2 513.0)"/><use href="#sd" transform="matrix(6.94 -3.60 6.59 3.41 212.4 518.5)"/><use href="#sb" transform="matrix(7.19 -3.47 6.35 3.07 222.4 523.5)"/><use href="#sd" transform="matrix(7.43 -3.36 6.15 2.78 231.9 528.0)"/><use href="#sb" transform="matrix(7.67 -3.25 5.96 2.53 241.2 532.0)"/><use href="#sd" transform="matrix(7.90 -3.16 5.78 2.31 250.2 535.7)"/><use href="#sb" transform="matrix(8.12 -3.07 5.63 2.13 258.9 539.1)"/><use href="#sd" transform="matrix(8.34 -2.99 5.48 1.97 267.4 542.3)"/><use href="#sb" transform="matrix(8.55 -2.92 5.34 1.82 275.7 545.2)"/><use href="#sb" transform="matrix(3.34 -6.68 13.67 27.34 86.6 366.5)"/><use href="#sd" transform="matrix(3.79 -5.89 12.06 18.76 106.3 401.1)"/><use href="#sb" transform="matrix(4.19 -5.33 10.91 13.88 123.8 425.8)"/><use href="#sd" transform="matrix(4.55 -4.90 10.03 10.80 139.9 444.6)"/><use href="#sb" transform="matrix(4.89 -4.57 9.34 8.72 154.7 459.4)"/><use href="#sd" transform="matrix(5.21 -4.29 8.77 7.23 168.5 471.6)"/><use href="#sb" transform="matrix(5.51 -4.06 8.30 6.11 181.6 481.8)"/><use href="#sd" transform="matrix(5.79 -3.86 7.89 5.26 194.0 490.5)"/><use href="#sb" transform="matrix(6.06 -3.69 7.54 4.59 205.8 498.0)"/><use href="#sd" transform="matrix(6.32 -3.54 7.23 4.05 217.2 504.6)"/><use href="#sb" transform="matrix(6.56 -3.40 6.96 3.61 228.0 510.5)"/><use href="#sd" transform="matrix(6.80 -3.28 6.72 3.24 238.5 515.7)"/><use href="#sb" transform="matrix(7.03 -3.18 6.50 2.93 248.6 520.4)"/><use href="#sd" transform="matrix(7.26 -3.08 6.30 2.67 258.4 524.7)"/><use href="#sb" transform="matrix(7.47 -2.99 6.11 2.45 267.9 528.6)"/><use href="#sd" transform="matrix(7.68 -2.91 5.95 2.25 277.2 532.2)"/><use href="#sd" transform="matrix(3.18 -6.36 14.37 28.75 94.2 351.4)"/><use href="#sb" transform="matrix(3.60 -5.61 12.68 19.72 114.8 387.8)"/><use href="#sd" transform="matrix(3.98 -5.07 11.47 14.59 133.3 413.8)"/><use href="#sb" transform="matrix(4.33 -4.66 10.55 11.36 150.1 433.5)"/><use href="#sd" transform="matrix(4.65 -4.34 9.82 9.16 165.7 449.2)"/><use href="#sb" transform="matrix(4.95 -4.08 9.22 7.60 180.3 461.9)"/><use href="#sd" transform="matrix(5.24 -3.86 8.72 6.43 194.0 472.6)"/><use href="#sb" transform="matrix(5.51 -3.67 8.30 5.53 207.0 481.8)"/><use href="#sd" transform="matrix(5.76 -3.51 7.93 4.83 219.5 489.7)"/><use href="#sb" transform="matrix(6.01 -3.36 7.61 4.26 231.4 496.6)"/><use href="#sd" transform="matrix(6.24 -3.24 7.32 3.79 242.8 502.8)"/><use href="#sb" transform="matrix(6.47 -3.12 7.06 3.41 253.8 508.3)"/><use href="#sd" transform="matrix(6.69 -3.02 6.83 3.08 264.5 513.3)"/><use href="#sb" transform="matrix(6.90 -2.93 6.62 2.81 274.8 517.8)"/><use href="#sb" transform="matrix(3.04 -6.07 15.04 30.09 101.3 337.1)"/><use href="#sd" transform="matrix(3.44 -5.36 13.27 20.64 123.0 375.2)"/><use href="#sb" transform="matrix(3.81 -4.85 12.00 15.27 142.3 402.4)"/><use href="#sd" transform="matrix(4.14 -4.46 11.04 11.89 159.9 423.0)"/><use href="#sb" transform="matrix(4.45 -4.15 10.28 9.59 176.2 439.3)"/><use href="#sd" transform="matrix(4.73 -3.90 9.65 7.95 191.5 452.7)"/><use href="#sb" transform="matrix(5.00 -3.69 9.13 6.73 205.8 463.9)"/><use href="#sd" transform="matrix(5.26 -3.51 8.69 5.79 219.5 473.5)"/><use href="#sb" transform="matrix(5.51 -3.35 8.30 5.05 232.5 481.8)"/><use href="#sd" transform="matrix(5.74 -3.21 7.96 4.46 244.9 489.0)"/><use href="#sb" transform="matrix(5.97 -3.09 7.66 3.97 256.9 495.5)"/><use href="#sd" transform="matrix(6.18 -2.98 7.39 3.57 268.4 501.3)"/><use href="#sb" transform="matrix(6.39 -2.89 7.15 3.23 279.6 506.5)"/><use href="#sd" transform="matrix(2.91 -5.83 15.68 31.37 108.2 323.3)"/><use href="#sb" transform="matrix(3.30 -5.14 13.83 21.52 130.7 363.1)"/><use href="#sd" transform="matrix(3.65 -4.65 12.51 15.92 150.9 391.4)"/><use href="#sb" transform="matrix(3.97 -4.28 11.51 12.39 169.2 412.9)"/><use href="#sd" transform="matrix(4.26 -3.98 10.71 10.00 186.3 430.0)"/><use href="#sb" transform="matrix(4.54 -3.74 10.06 8.29 202.2 443.9)"/><use href="#sd" transform="matrix(4.80 -3.54 9.52 7.01 217.2 455.6)"/><use href="#sb" transform="matrix(5.05 -3.36 9.05 6.04 231.4 465.6)"/><use href="#sd" transform="matrix(5.28 -3.21 8.65 5.27 244.9 474.2)"/><use href="#sb" transform="matrix(5.51 -3.08 8.30 4.65 257.9 481.8)"/><use href="#sd" transform="matrix(5.72 -2.97 7.99 4.14 270.4 488.5)"/><use href="#sd" transform="matrix(3.18 -4.94 14.37 22.36 138.2 351.4)"/><use href="#sb" transform="matrix(3.51 -4.47 13.00 16.55 159.2 380.9)"/><use href="#sd" transform="matrix(3.82 -4.11 11.96 12.88 178.2 403.2)"/><use href="#sb" transform="matrix(4.10 -3.83 11.13 10.39 195.9 420.9)"/><use href="#sd" transform="matrix(4.37 -3.60 10.46 8.61 212.4 435.4)"/><use href="#sb" transform="matrix(4.62 -3.40 9.89 7.29 228.0 447.6)"/><use href="#sd" transform="matrix(4.86 -3.24 9.41 6.27 242.8 457.9)"/><use href="#sb" transform="matrix(5.08 -3.09 8.99 5.47 256.9 466.9)"/><use href="#sd" transform="matrix(5.30 -2.97 8.62 4.83 270.4 474.8)"/><use href="#sb" transform="matrix(3.07 -4.77 14.90 23.17 145.4 340.2)"/><use href="#sd" transform="matrix(3.39 -4.32 13.47 17.15 167.1 370.7)"/><use href="#sb" transform="matrix(3.69 -3.97 12.39 13.35 186.9 393.9)"/><use href="#sd" transform="matrix(3.96 -3.70 11.54 10.77 205.2 412.3)"/><use href="#sb" transform="matrix(4.22 -3.47 10.84 8.93 222.4 427.3)"/><use href="#sd" transform="matrix(4.46 -3.28 10.25 7.55 238.5 439.9)"/><use href="#sb" transform="matrix(4.69 -3.12 9.75 6.50 253.8 450.6)"/><use href="#sd" transform="matrix(4.90 -2.98 9.32 5.67 268.4 459.9)"/><use href="#sd" transform="matrix(2.97 -4.61 15.40 23.96 152.4 329.4)"/><use href="#sb" transform="matrix(3.28 -4.17 13.93 17.73 174.8 360.9)"/><use href="#sd" transform="matrix(3.57 -3.84 12.82 13.80 195.3 384.9)"/><use href="#sb" transform="matrix(3.83 -3.57 11.93 11.13 214.2 403.9)"/><use href="#sd" transform="matrix(4.08 -3.36 11.21 9.23 231.9 419.4)"/><use href="#sb" transform="matrix(4.31 -3.18 10.60 7.81 248.6 432.4)"/><use href="#sd" transform="matrix(4.53 -3.02 10.08 6.72 264.5 443.5)"/><use href="#sb" transform="matrix(4.74 -2.89 9.63 5.86 279.6 453.1)"/><use href="#sb" transform="matrix(2.88 -4.47 15.89 24.72 159.2 318.9)"/><use href="#sd" transform="matrix(3.18 -4.05 14.37 18.29 182.3 351.4)"/><use href="#sb" transform="matrix(3.46 -3.72 13.22 14.24 203.4 376.1)"/><use href="#sd" transform="matrix(3.71 -3.46 12.31 11.49 222.9 395.7)"/><use href="#sb" transform="matrix(3.95 -3.25 11.56 9.52 241.2 411.8)"/><use href="#sd" transform="matrix(4.18 -3.08 10.94 8.06 258.4 425.2)"/><use href="#sb" transform="matrix(4.39 -2.93 10.40 6.94 274.8 436.6)"/><use href="#sb" transform="matrix(3.09 -3.93 14.80 18.84 189.5 342.2)"/><use href="#sd" transform="matrix(3.36 -3.61 13.62 14.66 211.3 367.7)"/><use href="#sb" transform="matrix(3.60 -3.36 12.68 11.83 231.4 387.8)"/><use href="#sd" transform="matrix(3.84 -3.16 11.91 9.81 250.2 404.3)"/><use href="#sb" transform="matrix(4.06 -2.99 11.26 8.30 267.9 418.2)"/><use href="#sd" transform="matrix(3.00 -3.82 15.22 19.37 196.5 333.3)"/><use href="#sb" transform="matrix(3.26 -3.51 14.00 15.08 218.9 359.4)"/><use href="#sd" transform="matrix(3.51 -3.27 13.03 12.16 239.6 380.2)"/><use href="#sb" transform="matrix(3.73 -3.07 12.24 10.08 258.9 397.2)"/><use href="#sd" transform="matrix(3.95 -2.91 11.58 8.53 277.2 411.4)"/><use href="#sb" transform="matrix(2.92 -3.72 15.63 19.89 203.4 324.6)"/><use href="#sd" transform="matrix(3.18 -3.42 14.37 15.48 226.3 351.4)"/><use href="#sb" transform="matrix(3.41 -3.19 13.38 12.49 247.6 372.7)"/><use href="#sd" transform="matrix(3.63 -2.99 12.57 10.35 267.4 390.1)"/><use href="#sd" transform="matrix(2.85 -3.63 16.02 20.39 210.1 316.1)"/><use href="#sb" transform="matrix(3.10 -3.34 14.74 15.87 233.6 343.6)"/><use href="#sd" transform="matrix(3.33 -3.11 13.72 12.81 255.4 365.5)"/><use href="#sb" transform="matrix(3.55 -2.92 12.89 10.61 275.7 383.3)"/><use href="#sd" transform="matrix(3.03 -3.26 15.09 16.25 240.7 336.0)"/><use href="#sb" transform="matrix(3.25 -3.03 14.05 13.11 263.0 358.4)"/><use href="#sb" transform="matrix(2.96 -3.19 15.44 16.63 247.6 328.6)"/><use href="#sd" transform="matrix(3.18 -2.97 14.37 13.42 270.4 351.4)"/><use href="#sd" transform="matrix(2.90 -3.12 15.78 16.99 254.3 321.3)"/><use href="#sb" transform="matrix(3.11 -2.90 14.69 13.71 277.7 344.7)"/><g clip-path="url(#ctC)"><rect x="103.8" y="412.8" width="81.8" height="84.7" filter="url(#nz)"/><ellipse cx="149.3" cy="452.5" rx="26.0" ry="24.7" fill="url(#gcore)" transform="rotate(-35 149.3 452.5)"/></g></g></g><path d="M106.4 442l0.3 -0.9l0.7 -0.8l0.7 -1l1.3 -1.5l0.9 -0.5l0.6 -0.4l1.6 -1.1l0.8 0.3l1.4 0.8l1.3 -1l0.5 -1l0.4 -1l0.9 -1.3l0.7 -0.2l0.6 -1.4l0.7 -0.4l0.9 -1.5l0.6 -0.3l1 -0.8l0.2 -1.6l1 -0.5l1.3 -1l0.9 -0.5l0.7 -1.4l1.2 -0.3l0.6 -0.8l1.1 -1.1l0.9 -0.3l1.5 -1.8l0.5 -0.4l0.7 -1l1.5 -0.4l1.6 0.2l0.6 0.4l0.9 0.9l0.6 1.4l1.1 -0.4l1.1 -0.1l0.9 0.9l1.2 0.6l1.1 0.9l1.1 0.6l0.8 0l1.3 -0.3l0.8 -1.8l0.8 -0.4l1.4 0.1l1 -0.8l0.5 -0.5l1.3 0.4l0.9 1.1l0.7 -0.9l-0.2 -1.5l0.7 -0.5l1.2 -0.5l0.5 -1.4l0.7 0.7l1.5 0l0.9 0.1l0.8 1.2l1.2 0.2l1.4 0.1l0.7 0.6l0.8 1.1l1.3 0.6l1.1 1.4l0.6 0.2l0.9 1.6l0.8 -0.1l1.2 1.5l1.1 0.4l0.5 1.4l1.3 1.1l0.6 0.6l-0.1 1.7l1 0.6l-0.5 1.5l0.4 0.3l-0.7 1.1l0.4 1l0.6 1.1l0.2 0.8l0.6 1.1l1.1 0.9l0.1 1l0.6 1.2l0.5 0.5l1 1.2l1.3 1l0.3 0.4l0.6 1.5l0.4 1.1l0.1 1l1 0.8l-0.1 0.5l-0.3 1.4l-0.3 1l-0.6 0.8l-0.7 1.4l-0.9 0.8l-0.1 0.4l1.2 2l0.3 0.5l0.1 0.9l0.8 0.8l0.3 1.2l-0.8 0.8l-0.6 1.2l-0.5 0.9l-0.7 0.9l0 0.5l-0.8 1.5l-0.1 1.3l-0.6 0.4l0 1.3l-0.4 0.6l-1.4 1.2l-0.4 1.1l-0.2 0.5l-0.9 1.2l-0.3 1.2l-0.4 0.7l-0.7 0.4l-1.1 1.1l-1.2 0.6l-0.4 0.3l-1.3 0.5l-1.3 0.4l-0.7 0.8l-1 1l-0.6 1.1l-1.7 0.1l-0.6 1l-0.6 0.9l-1 0.4l-1.3 0.9l-1.1 0.8l0 0.9l-1.1 1.2l-0.9 0.7l-0.6 0.7l-0.7 0.8l-0.5 0.4l-2 1.6l-0.4 0.2l-0.3 1.3l-1.2 0.7l-0.7 0.2l-0.3 0.4l-1.2 1.1l-0.8 0l-1.3 -0.8l-1 -0.7l-1.2 -0.7l-1 -0.9l-0.8 -1.1l-0.4 -0.2l-0.7 -1.3l-0.8 -0.9l-0.1 -1.5l-0.4 -0.2l-0.9 -1.2l-0.3 -0.3l-0.8 -1.1l-1.1 -0.8l-1.3 -0.5l-0.6 -1.2l-0.3 -0.5l-0.7 -0.5l-1.2 0l-0.8 -1l-0.7 -1.2l-1 -1l-1 -0.3l-0.5 -0.8l-0.7 -1l-1.3 -1.1l-0.9 -0.4l-1 0l-1.2 -0.7l-1.1 -0.4l-0.3 -1.1l-0.3 -0.6l-0.8 -1.9l-1.1 -0.4l-0.6 -0.3l-1.4 -1.4l-0.2 -0.5l-0.8 -0.9l-0.3 -1.1l-0.4 -0.9l-0.2 -1.5l-1.2 -0.9l0 -0.5l-0.9 -1.5l0.4 -0.1l-1 -1.4l-0.9 -0.9l-0.3 -1.2l-0.3 -0.8l-0.6 -1l-0.2 -1.6l-0.6 -1l-0.8 -1.2l-0.6 -0.7l-0.1 -1.1l-0.4 -1.1l-1.3 -1.2l-0.2 -0.6l-0.8 -1.1l-0.2 -1.4z" fill="none" stroke="#fff" stroke-width="1.15" stroke-linejoin="round"/><circle cx="125.2" cy="433.9" r="0.55" fill="#fff" opacity="0.85"/><circle cx="121.3" cy="448.5" r="0.55" fill="#fff" opacity="0.85"/><circle cx="147.3" cy="478.5" r="0.55" fill="#fff" opacity="0.85"/>
<text x="29" y="590.1" text-anchor="middle" class="L">0</text>
<text x="24.3" y="575.9" text-anchor="end" class="L">0</text>
<text x="88.3" y="590.1" text-anchor="middle" class="L">1</text>
<text x="24.3" y="516.6" text-anchor="end" class="L">1</text>
<text x="147.7" y="590.1" text-anchor="middle" class="L">2</text>
<text x="24.3" y="457.3" text-anchor="end" class="L">2</text>
<text x="207" y="590.1" text-anchor="middle" class="L">3</text>
<text x="24.3" y="398" text-anchor="end" class="L">3</text>
<text x="266.4" y="590.1" text-anchor="middle" class="L">4</text>
<text x="24.3" y="338.7" text-anchor="end" class="L">4</text>
<rect x="277.5" y="333.6" width="14" height="237.2" fill="url(#jet)"/>
<text x="295.5" y="576.1" class="L">0</text>
<path d="M289.1 570.8h2.4" stroke="#262626" stroke-width="0.5"/>
<text x="295.5" y="526" class="L">0.1</text>
<path d="M289.1 520.7h2.4" stroke="#262626" stroke-width="0.5"/>
<text x="295.5" y="475.8" class="L">0.2</text>
<path d="M289.1 470.5h2.4" stroke="#262626" stroke-width="0.5"/>
<text x="295.5" y="425.7" class="L">0.3</text>
<path d="M289.1 420.4h2.4" stroke="#262626" stroke-width="0.5"/>
<text x="295.5" y="375.5" class="L">0.4</text>
<path d="M289.1 370.2h2.4" stroke="#262626" stroke-width="0.5"/>
<text x="46" y="294.3" class="CB" textLength="22" lengthAdjust="spacingAndGlyphs">(a)</text>
<text y="294.3" class="CI"><tspan x="79.6" textLength="59.6" lengthAdjust="spacingAndGlyphs">Cancer</tspan> <tspan x="146.9" textLength="27.3" lengthAdjust="spacingAndGlyphs">cell</tspan> <tspan x="181.9" textLength="87.6" lengthAdjust="spacingAndGlyphs">population</tspan></text>
<text x="377.4" y="294.5" class="CB" textLength="24.1" lengthAdjust="spacingAndGlyphs">(b)</text>
<text y="294.5" class="CI"><tspan x="411.6" textLength="85.4" lengthAdjust="spacingAndGlyphs">Non-fibres</tspan> <tspan x="504.5" textLength="45.1" lengthAdjust="spacingAndGlyphs">ECM</tspan> <tspan x="559.2" textLength="96.4" lengthAdjust="spacingAndGlyphs">distribution</tspan></text>
<text x="40.2" y="619.4" class="CB" textLength="22.8" lengthAdjust="spacingAndGlyphs">(c)</text>
<text y="619.4" class="CI"><tspan x="71" textLength="40.6" lengthAdjust="spacingAndGlyphs">Fibre</tspan> <tspan x="123" textLength="87.3" lengthAdjust="spacingAndGlyphs">magnitude</tspan> <tspan x="220.5" textLength="56.9" lengthAdjust="spacingAndGlyphs">density</tspan></text>
<text x="351" y="620" class="CB" textLength="24.8" lengthAdjust="spacingAndGlyphs">(d)</text>
<text y="620" class="CI"><tspan x="383.7" textLength="40.7" lengthAdjust="spacingAndGlyphs">Fibre</tspan> <tspan x="433.3" textLength="48.2" lengthAdjust="spacingAndGlyphs">vector</tspan> <tspan x="489.9" textLength="34.8" lengthAdjust="spacingAndGlyphs">field</tspan> <tspan x="535.1" textLength="6.9" lengthAdjust="spacingAndGlyphs">-</tspan> <tspan x="549.5" textLength="75.9" lengthAdjust="spacingAndGlyphs">coarsened</tspan> <tspan x="637.8" textLength="8.4" lengthAdjust="spacingAndGlyphs">2</tspan> <tspan x="655.2" textLength="28.8" lengthAdjust="spacingAndGlyphs">fold</tspan></text>
<text x="40.2" y="941.2" class="CB" textLength="22.1" lengthAdjust="spacingAndGlyphs">(e)</text>
<text y="941.2" class="CI"><tspan x="85" textLength="23.6" lengthAdjust="spacingAndGlyphs">3D</tspan> <tspan x="116.5" textLength="44.4" lengthAdjust="spacingAndGlyphs">ECM</tspan> <tspan x="169.7" textLength="48.9" lengthAdjust="spacingAndGlyphs">vector</tspan> <tspan x="226.6" textLength="34.9" lengthAdjust="spacingAndGlyphs">field</tspan></text>
<text x="351" y="941" class="CB" textLength="19.8" lengthAdjust="spacingAndGlyphs">(f)</text>
<text y="941" class="CI"><tspan x="380.7" textLength="41.2" lengthAdjust="spacingAndGlyphs">Fibre</tspan> <tspan x="431.8" textLength="48.2" lengthAdjust="spacingAndGlyphs">vector</tspan> <tspan x="488.9" textLength="33.8" lengthAdjust="spacingAndGlyphs">field</tspan> <tspan x="532.6" textLength="6.9" lengthAdjust="spacingAndGlyphs">-</tspan> <tspan x="547.5" textLength="76.4" lengthAdjust="spacingAndGlyphs">coarsened</tspan> <tspan x="636.3" textLength="8" lengthAdjust="spacingAndGlyphs">4</tspan> <tspan x="654.2" textLength="29.8" lengthAdjust="spacingAndGlyphs">fold</tspan></text>
<rect x="375.8" y="333.5" width="301" height="238" fill="none" stroke="#b4b4b4" stroke-width="0.9"/>
<text x="375.8" y="579.8" text-anchor="middle" class="S">-0.5</text>
<text x="373" y="574" text-anchor="end" class="S">-0.5</text>
<text x="405.9" y="579.8" text-anchor="middle" class="S">0</text>
<text x="373" y="550.2" text-anchor="end" class="S">0</text>
<text x="436" y="579.8" text-anchor="middle" class="S">0.5</text>
<text x="373" y="526.4" text-anchor="end" class="S">0.5</text>
<text x="466.1" y="579.8" text-anchor="middle" class="S">1</text>
<text x="373" y="502.6" text-anchor="end" class="S">1</text>
<text x="496.2" y="579.8" text-anchor="middle" class="S">1.5</text>
<text x="373" y="478.8" text-anchor="end" class="S">1.5</text>
<text x="526.3" y="579.8" text-anchor="middle" class="S">2</text>
<text x="373" y="455" text-anchor="end" class="S">2</text>
<text x="556.4" y="579.8" text-anchor="middle" class="S">2.5</text>
<text x="373" y="431.2" text-anchor="end" class="S">2.5</text>
<text x="586.5" y="579.8" text-anchor="middle" class="S">3</text>
<text x="373" y="407.4" text-anchor="end" class="S">3</text>
<text x="616.6" y="579.8" text-anchor="middle" class="S">3.5</text>
<text x="373" y="383.6" text-anchor="end" class="S">3.5</text>
<text x="646.7" y="579.8" text-anchor="middle" class="S">4</text>
<text x="373" y="359.8" text-anchor="end" class="S">4</text>
<text x="676.8" y="579.8" text-anchor="middle" class="S">4.5</text>
<text x="373" y="336" text-anchor="end" class="S">4.5</text>
<path d="M405.9 571.5v-2.4M405.9 333.5v2.4M375.8 547.7h2.4M676.8 547.7h-2.4M436 571.5v-2.4M436 333.5v2.4M375.8 523.9h2.4M676.8 523.9h-2.4M466.1 571.5v-2.4M466.1 333.5v2.4M375.8 500.1h2.4M676.8 500.1h-2.4M496.2 571.5v-2.4M496.2 333.5v2.4M375.8 476.3h2.4M676.8 476.3h-2.4M526.3 571.5v-2.4M526.3 333.5v2.4M375.8 452.5h2.4M676.8 452.5h-2.4M556.4 571.5v-2.4M556.4 333.5v2.4M375.8 428.7h2.4M676.8 428.7h-2.4M586.5 571.5v-2.4M586.5 333.5v2.4M375.8 404.9h2.4M676.8 404.9h-2.4M616.6 571.5v-2.4M616.6 333.5v2.4M375.8 381.1h2.4M676.8 381.1h-2.4M646.7 571.5v-2.4M646.7 333.5v2.4M375.8 357.3h2.4M676.8 357.3h-2.4" stroke="#b4b4b4" stroke-width="0.8" fill="none"/>
<path d="M405.9 547.7l0 1.8m3.8-1.8l.1 1.1m3.7-1.1l-1.9 .4m5.8-.4l-.5 1.5m4.3-1.5l-1.1 .8m4.9-.8l-.7 1.7m4.5-1.7l-.4 1m4.3-1l-1.6 1.2m5.4-1.2l-.8 1.4m4.6-1.4l-.9 1.5m4.7-1.5l-1.4 0m5.2 0l-1.2 .7m5.1-.7l-.9 1.1m4.7-1.1l-.3 1.4m4.1-1.4l-.9 1.8m4.7-1.8l0 1.1m3.9-1.1l-.7 .8m4.5-.8l-.6 1.1m4.4-1.1l-1.3 .5m5.1-.5l0 1.2m3.8-1.2l.1 1.1m3.8-1.1l-1.2 1.1m5-1.1l-.8 1.4m4.6-1.4l-1 .7m4.8-.7l.2 1.2m3.7-1.2l-1.5 .2m5.3-.2l0 1.5m3.8-1.5l-.6 1m4.4-1l-1.7-.2m5.5 .2l0 1.2m3.9-1.2l-.7 1.1m4.5-1.1l-1.9 .6m5.7-.6l0 1.5m3.8-1.5l-1.2 .8m5.1-.8l-1.5 .3m5.3-.3l-1.4 1.1m5.2-1.1l-1 1.5m4.8-1.5l0 1.4m3.8-1.4l-1.3 1.3m5.2-1.3l-.8 1.5m4.6-1.5l-.9 1m4.7-1l0 1.7m3.8-1.7l-1.1 1.4m5-1.4l-1 1.6m4.8-1.6l-1.5 .6m5.3-.6l-1.1 1.6m4.9-1.6l-.1 1.8m3.9-1.8l-.2 1.7m4.1-1.7l0 1.7m3.8-1.7l-1.2 .9m5-.9l-1 1.3m4.8-1.3l-.4 1.1m4.3-1.1l-1 .7m4.8-.7l-.4 1.6m4.2-1.6l-.6 .9m4.4-.9l-.9 .8m4.7-.8l-1.4 .9m5.3-.9l-.4 1.6m4.2-1.6l-.4 1.8m4.2-1.8l-1.3 .9m5.1-.9l-1.5 .6m5.4-.6l-1.2-.2m5 .2l-.6 1.5m4.4-1.5l-.9 .9m-239.9-3.9l-2 .1m5.8-.1l-.6 1.9m4.4-1.9l-1.5 1.3m5.4-1.3l-.9 .9m4.7-.9l-1.4 1.1m5.2-1.1l-.9 1m4.7-1l-.4 1.3m4.3-1.3l-1.6 0m5.4 0l-.2 1.8m4-1.8l-.5 1.5m4.3-1.5l-1 1.1m4.8-1.1l-.1 1.1m4-1.1l.2 1.9m3.6-1.9l-.9 1.2m4.7-1.2l-.1 1.5m3.9-1.5l-1.4 1.3m5.3-1.3l-.6 1m4.4-1l-.3 1.3m4.1-1.3l-1.5-.1m5.3 .1l-.3 1.2m4.1-1.2l-.6 1.2m4.5-1.2l-.1 1.1m3.9-1.1l-1.6 .6m5.4-.6l-1.7-.1m5.5 .1l-.5 1.3m4.4-1.3l-1 1.1m4.8-1.1l-.5 1.1m4.3-1.1l-1.4 .9m5.2-.9l-1.5-.1m5.3 .1l-.4 1.9m4.3-1.9l-.8 1m4.6-1l.1 1.6m3.7-1.6l-.9 1m4.7-1l-.5 1.2m4.4-1.2l-.6 1.6m4.4-1.6l-.7 .9m4.5-.9l-.6 1.8m4.4-1.8l-.6 .9m4.4-.9l-1.6 1.1m5.5-1.1l-1.6 1.1m5.4-1.1l-1.7-.2m5.5 .2l-1.3 1.1m5.1-1.1l-1.5 1m5.4-1l-.4 1.8m4.2-1.8l-.2 1.8m4-1.8l-1.1 .7m4.9-.7l-1.8 .2m5.6-.2l.1 1.7m3.8-1.7l-.5 1.1m4.3-1.1l-1.4 1.3m5.2-1.3l-1 .8m4.8-.8l-.8 .8m4.7-.8l-.9 1.5m4.7-1.5l.1 1.2m3.7-1.2l-1.1 1.4m4.9-1.4l-1.1 .7m4.9-.7l-.7 1.3m4.6-1.3l-.5 1.7m4.3-1.7l-1.3 1m5.1-1l-.4 1.9m4.2-1.9l-.8 1.2m4.7-1.2l.2 1.6m3.6-1.6l-1.6 1m5.4-1l-1.3-.2m-239.5-2.8l-1.1 .7m4.9-.7l-1 .6m4.8-.6l-1 1.1m4.9-1.1l-.9 .8m4.7-.8l-1.8 .3m5.6-.3l-1 1.1m4.8-1.1l-1.1 1.3m5-1.3l-1.3 1.3m5.1-1.3l-.9 .8m4.7-.8l-.4 1.2m4.2-1.2l-1.3 .8m5.1-.8l-1.5 .9m5.4-.9l-1.1 .9m4.9-.9l-1.4 1.1m5.2-1.1l-1.8 .3m5.6-.3l-.9 1.4m4.8-1.4l-.1 1.3m3.9-1.3l-1 .7m4.8-.7l-.8 1.1m4.6-1.1l-.2 1.1m4-1.1l-1.4 1.2m5.3-1.2l-.5 1.4m4.3-1.4l-1.4 .8m5.2-.8l-.7 1.4m4.5-1.4l-.4 1.9m4.3-1.9l-1.5 1.2m5.3-1.2l-1.3 1.2m5.1-1.2l.2 1.6m3.6-1.6l-.3 1.1m4.1-1.1l-1 1.1m4.9-1.1l-1.1 .8m4.9-.8l-.5 1.7m4.3-1.7l-1.6 1.2m5.4-1.2l-1.4 .2m5.3-.2l-1.1 .1m4.9-.1l-1.2 1.5m5-1.5l-.5 1.6m4.3-1.6l0 1.4m3.8-1.4l-.2 1.3m4.1-1.3l-1.2 .7m5-.7l-.1 1.5m3.9-1.5l.2 1.7m3.6-1.7l0 1.4m3.9-1.4l-.2 1.3m4-1.3l-1.2 1.1m5-1.1l-.6 1.9m4.4-1.9l-.8 1.6m4.6-1.6l-1.6 .6m5.5-.6l-.1 1.3m3.9-1.3l-2-.1m5.8 .1l-1.3 .7m5.1-.7l.1 1.9m3.8-1.9l-1.4 .9m5.2-.9l-.5 1.8m4.3-1.8l-1.3 1m5.1-1l-1.1 1.4m4.9-1.4l-1.2 1.4m5.1-1.4l-.3 1.4m4.1-1.4l-1.4 0m5.2 0l-1.1-.1m4.9 .1l-.1 1.3m4-1.3l-.1 1.7m3.9-1.7l-1.3 1.3m5.1-1.3l-.9 1.4m-239.9-4.5l-1.1 1.5m4.9-1.5l-1 .7m4.8-.7l-.8 .9m4.7-.9l0 1.8m3.8-1.8l-1.6 .6m5.4-.6l-1 .6m4.8-.6l-1.2 1.2m5.1-1.2l-1.2 1.1m5-1.1l-.9 1.1m4.7-1.1l.2 1.9m3.6-1.9l0 1.4m3.8-1.4l-.5 1.7m4.4-1.7l-1.2 1m5-1l-.2 1.4m4-1.4l-1.1 .1m4.9-.1l-.7 .9m4.6-.9l-1.4 1.4m5.2-1.4l-.6 1m4.4-1l-.8 1.6m4.6-1.6l-1.2 .9m5-.9l-.6 1.2m4.5-1.2l-.8 .8m4.6-.8l-1.5 .3m5.3-.3l-.9 1.2m4.7-1.2l-1.6 .3m5.5-.3l-.9 1.2m4.7-1.2l-1.4 .5m5.2-.5l.1 1.2m3.7-1.2l-1 1.7m4.8-1.7l-1.2 1m5.1-1l-.5 1.1m4.3-1.1l-1.4 1.3m5.2-1.3l-1.6 .9m5.4-.9l-.5 1.2m4.4-1.2l-1.3-.2m5.1 .2l-.8 1.2m4.6-1.2l-1.4 1.4m5.2-1.4l-1.4 .9m5.2-.9l-1.1 1.2m5-1.2l-.9 1m4.7-1l-.6 1.4m4.4-1.4l-.9 1.2m4.7-1.2l0 1.2m3.9-1.2l-1 1m4.8-1l-1.2 1.2m5-1.2l-1.2 1.3m5-1.3l-1.3 .5m5.1-.5l-1.5-.2m5.4 .2l-.5 1.9m4.3-1.9l0 1.2m3.8-1.2l-.2 1.3m4-1.3l-1.2 .8m5.1-.8l-1.3 0m5.1 0l-.6 1.8m4.4-1.8l-.8 1m4.6-1l-1.9 .1m5.7-.1l-1.5 .9m5.4-.9l-1.6 1m5.4-1l-1.6-.2m5.4 .2l-.2 1.6m4-1.6l-1.2-.1m5.1 .1l-1.3 .8m5.1-.8l-1.1 .3m4.9-.3l-1.8-.2m-239-2.8l-1.5 .9m5.3-.9l-1.2 .1m5-.1l-.6 1.1m4.5-1.1l-1.3 .8m5.1-.8l-.5 1.1m4.3-1.1l-.3 1.6m4.1-1.6l-1.2 1m5.1-1l-1.7 .2m5.5-.2l0 1.4m3.8-1.4l-1.4 1.3m5.2-1.3l-.2 2m4-2l-.3 1.1m4.2-1.1l-1.1 .2m4.9-.2l-1.1 1.3m4.9-1.3l-.9 .8m4.7-.8l-.4 1.8m4.3-1.8l-1.6 1.1m5.4-1.1l-1.2 .1m5-.1l-1.4 .8m5.2-.8l-1.3 1.4m5.1-1.4l-.7 1.6m4.6-1.6l-.8 1.8m4.6-1.8l-1.2 1m5-1l-1.3 .9m5.1-.9l-1.2 1.5m5.1-1.5l-.2 1.2m4-1.2l-1.5 .1m5.3-.1l-.2 1.3m4-1.3l-1.3 1.3m5.1-1.3l-1.4 1m5.3-1l-.6 1.1m4.4-1.1l-1.2 1.2m5-1.2l-.7 .9m4.5-.9l-.9 .8m4.8-.8l-.8 1.1m4.6-1.1l-.3 1.9m4.1-1.9l-1.4 1.2m5.2-1.2l-1.4 1.4m5.2-1.4l0 1.8m3.9-1.8l-1.9 0m5.7 0l-.9 1.4m4.7-1.4l-.3 1.7m4.1-1.7l-.6 1.4m4.5-1.4l0 1.9m3.8-1.9l-.2 1.2m4-1.2l-1.3 .4m5.1-.4l-.4 1.6m4.2-1.6l-1.5 .9m5.4-.9l-.3 1.5m4.1-1.5l-.4 1.6m4.2-1.6l-.7 .9m4.5-.9l-1.1-.1m5 .1l-.6 1.4m4.4-1.4l-.3 1.5m4.1-1.5l0 1.7m3.8-1.7l-.1 1.9m3.9-1.9l-1 1.7m4.9-1.7l-.9 .8m4.7-.8l-.9 .7m4.7-.7l-.9 1.2m4.7-1.2l-1.6 .5m5.5-.5l-1 1m4.8-1l0 1.7m3.8-1.7l0 1.9m-240.8-4.9l-.4 1.7m4.2-1.7l-1.5 .3m5.3-.3l-1.4 1.1m5.3-1.1l-1.3 1.4m5.1-1.4l-.9 1.1m4.7-1.1l-1.1 .6m4.9-.6l-1.4 .8m5.3-.8l-1.9 0m5.7 0l-1 .6m4.8-.6l-.3 1.8m4.1-1.8l-1.6 .3m5.4-.3l-1.3 1.3m5.2-1.3l-.6 1m4.4-1l-1 1.3m4.8-1.3l-.3 1.4m4.1-1.4l-.5 1.6m4.4-1.6l-.7 1.5m4.5-1.5l-.7 1.4m4.5-1.4l-1.1 .8m4.9-.8l-.8 1m4.6-1l-1.5 1.2m5.4-1.2l-1.5 1.3m5.3-1.3l-1.4 1m5.2-1l-.7 1.2m4.5-1.2l.1 1.2m3.8-1.2l-1.4 1.1m5.2-1.1l-1.3 1.3m5.1-1.3l-.1 1.6m3.9-1.6l-1.2 .8m5-.8l-1.2 1.1m5.1-1.1l-1.3 1.2m5.1-1.2l-1.1 1.6m4.9-1.6l-.9 1m4.7-1l-.9 .9m4.8-.9l-.3 1.8m4.1-1.8l.1 1.3m3.7-1.3l-.8 .9m4.6-.9l-1.1 1.6m4.9-1.6l-1.1 1.7m5-1.7l0 1.5m3.8-1.5l-1.4 1.3m5.2-1.3l-1 1.1m4.8-1.1l-.3 1.1m4.2-1.1l-.5 1.5m4.3-1.5l.1 1.8m3.7-1.8l-.8 .9m4.6-.9l-.9 1m4.7-1l-1.6 1.2m5.5-1.2l-.8 .8m4.6-.8l-.7 1.2m4.5-1.2l-1.7 1.1m5.5-1.1l-1.7 .5m5.6-.5l-.9 .7m4.7-.7l-.2 1.1m4-1.1l-1.7 .5m5.5-.5l-1.4 .2m5.2-.2l-1.1 .7m5-.7l-1.1 .7m4.9-.7l-1.8 .2m5.6-.2l-.4 1.4m4.2-1.4l.1 1.8m3.8-1.8l-1.4 .8m5.2-.8l-1 .8m4.8-.8l-.2 1.3m-240.6-4.3l-.6 1m4.4-1l0 1.5m3.8-1.5l-.1 1.2m4-1.2l-.2 1.2m4-1.2l-1.1 1.1m4.9-1.1l-1.1 1.2m4.9-1.2l-1.2 1m5.1-1l-.6 1.4m4.4-1.4l-1.6 1.1m5.4-1.1l-.3 1.1m4.1-1.1l-1.4 1.3m5.2-1.3l-1 1.3m4.9-1.3l-1.5 1.2m5.3-1.2l-1.1 1.1m4.9-1.1l-.1 1.5m3.9-1.5l.2 1.6m3.7-1.6l-.1 1.4m3.9-1.4l-1.1 1.3m4.9-1.3l-1.7 .4m5.5-.4l-1.1 1.3m4.9-1.3l-.5 1.5m4.4-1.5l0 1.5m3.8-1.5l-1.3 1.5m5.1-1.5l.1 1.2m3.7-1.2l-.3 1.8m4.2-1.8l-1.2 1.2m5-1.2l-1.8 .5m5.6-.5l-1 1.7m4.8-1.7l-.9 1.3m4.7-1.3l.1 1.7m3.8-1.7l-.3 1.7m4.1-1.7l-.7 1.2m4.5-1.2l-1.6 1.1m5.4-1.1l-.7 1.1m4.6-1.1l.1 1.5m3.7-1.5l-.8 .7m4.6-.7l-1.4 1.2m5.2-1.2l-1.1 .8m4.9-.8l-.6 1.4m4.5-1.4l-.7 1m4.5-1l-.3 1.9m4.1-1.9l-1.9-.3m5.7 .3l-1.6 1.2m5.5-1.2l0 1.1m3.8-1.1l.2 1.9m3.6-1.9l-1.4 .2m5.2-.2l-1 1.1m4.8-1.1l-1.4 .1m5.3-.1l-.9 .8m4.7-.8l-1.5 .3m5.3-.3l-.2 1.4m4-1.4l-1.2 .8m5.1-.8l-.4 1.3m4.2-1.3l-.7 1.7m4.5-1.7l-1.6 1m5.4-1l-.7 .9m4.5-.9l-1.1 .2m5-.2l-1.3 .2m5.1-.2l-.9 .9m4.7-.9l-1.5 .5m5.3-.5l-.9 1.6m4.8-1.6l-2 0m5.8 0l-1.9 .6m5.7-.6l-1.3 1.1m-239.5-4.2l-.6 1.3m4.4-1.3l-1.2 .9m5-.9l-1.4 1.3m5.3-1.3l.1 1.1m3.7-1.1l-1.4 1m5.2-1l-.3 1.7m4.1-1.7l-1 .7m4.9-.7l-1.3 .5m5.1-.5l-.9 1.3m4.7-1.3l-1.1 .4m4.9-.4l-.9 1.1m4.7-1.1l-1 1.2m4.9-1.2l-.4 1.9m4.2-1.9l.2 1.7m3.6-1.7l-.1 1.3m3.9-1.3l-1.5 .9m5.4-.9l-1 .6m4.8-.6l-1.2 1.2m5-1.2l-.7 1.9m4.5-1.9l-.1 1.4m3.9-1.4l-.1 1.2m4-1.2l-1.1 1.3m4.9-1.3l-1.5 1.3m5.3-1.3l-.2 1.7m4-1.7l-1.4 .9m5.3-.9l-1.8 .3m5.6-.3l-.3 1.5m4.1-1.5l-.2 1.2m4-1.2l0 1.6m3.8-1.6l-.5 1.1m4.4-1.1l-1.5 1m5.3-1l-.3 1.2m4.1-1.2l-1.1 1.3m4.9-1.3l-1.2 1.4m5.1-1.4l-1.8-.1m5.6 .1l-.4 1.2m4.2-1.2l.1 1.6m3.7-1.6l-.1 1.5m3.9-1.5l-.3 1.1m4.2-1.1l-1 1.3m4.8-1.3l-.4 1.4m4.2-1.4l-.4 1.9m4.2-1.9l.1 1.9m3.8-1.9l-.3 1.9m4.1-1.9l-.2 2m4-2l-1.4 1m5.2-1l-1.3-.1m5.1 .1l0 1.4m3.9-1.4l-.6 1.1m4.4-1.1l-1.3 .3m5.1-.3l-1.3 .2m5.1-.2l-1.2 .2m5.1-.2l-.5 1m4.3-1l-.8 .8m4.6-.8l-.5 1.6m4.3-1.6l-.2 1.7m4-1.7l-1.2-.1m5.1 .1l-1.9-.3m5.7 .3l-1.4 .3m5.2-.3l-.1 1.5m3.9-1.5l-.8 1.3m4.7-1.3l-1.2 .5m5-.5l-.4 1.5m4.2-1.5l-.8 1m-240-4l-.4 1.9m4.2-1.9l-1.4 0m5.2 0l-.7 1.3m4.6-1.3l-1.2 .3m5-.3l-1.1 .9m4.9-.9l-.2 1.3m4-1.3l-1.2 .8m5.1-.8l-.6 1.7m4.4-1.7l-1.8 .7m5.6-.7l-1.9 .2m5.7-.2l-.6 1.7m4.4-1.7l-1.5 .3m5.4-.3l-1 1m4.8-1l-1.3 1.3m5.1-1.3l-.1 1.6m3.9-1.6l-.3 1.5m4.2-1.5l-.2 1.4m4-1.4l.2 2m3.6-2l-1.2-.2m5 .2l-1.3 .2m5.1-.2l-1 .7m4.9-.7l-1.4 1m5.2-1l-1.9 .4m5.7-.4l-.5 1.4m4.3-1.4l-.8 1.3m4.7-1.3l-.5 1.2m4.3-1.2l-.4 1.2m4.2-1.2l-.4 1.9m4.2-1.9l-1.2 1m5-1l-1.4 .9m5.3-.9l-1.4 .2m5.2-.2l-.6 1.5m4.4-1.5l-1.3 1.3m5.1-1.3l-1.3 1m5.2-1l-1 1m4.8-1l-1.6 .1m5.4-.1l-.4 1.2m4.2-1.2l-.8 1m4.6-1l-.4 1.2m4.3-1.2l-1.5 1m5.3-1l-1.1 1.6m4.9-1.6l-.5 1.9m4.3-1.9l-1.2 .2m5.1-.2l-.5 1.1m4.3-1.1l-1.1 .2m4.9-.2l-1.7 .5m5.5-.5l.1 1.5m3.7-1.5l-.9 1.5m4.8-1.5l-1.4 .9m5.2-.9l-.6 1.7m4.4-1.7l-.3 1.5m4.1-1.5l-.4 1.5m4.3-1.5l-.7 1.6m4.5-1.6l-1 1.7m4.8-1.7l-.4 1.5m4.2-1.5l-1.9 .3m5.7-.3l-.3 1.2m4.2-1.2l-.6 1.8m4.4-1.8l.2 1.4m3.6-1.4l-.5 1.5m4.3-1.5l-.5 1.6m4.4-1.6l-.9 1.1m4.7-1.1l-.8 1.1m4.6-1.1l-1.6 1.1m-239.2-4.1l-1.5 1.2m5.3-1.2l-1.2 1m5-1l-.9 .8m4.8-.8l-.6 1.8m4.4-1.8l-.6 1.7m4.4-1.7l-1.7 .1m5.5-.1l0 1.4m3.9-1.4l-.6 1m4.4-1l-1.4 1.3m5.2-1.3l-1.2 .7m5-.7l-.1 1.6m3.9-1.6l-1.7 1m5.6-1l-1.5 1.1m5.3-1.1l0 1.2m3.8-1.2l-1.5 1m5.3-1l-1.3 1.2m5.2-1.2l-.6 1.1m4.4-1.1l-1.2 .5m5-.5l-1.6 1.1m5.4-1.1l-1.5 .2m5.3-.2l-1.5 1.1m5.4-1.1l.2 1.8m3.6-1.8l-.2 1.3m4-1.3l-1.1 .1m4.9-.1l-1.5 .3m5.4-.3l-.2 1.5m4-1.5l-1.7 .5m5.5-.5l-.9 1m4.7-1l-1.8-.1m5.6 .1l-1.1 .6m5-.6l-.4 1.6m4.2-1.6l0 1.8m3.8-1.8l-.6 1.2m4.4-1.2l-1.7 1m5.6-1l-.1 1.9m3.9-1.9l-1.5 1.3m5.3-1.3l-.9 1.4m4.7-1.4l-.6 1.7m4.4-1.7l-.8 1.7m4.7-1.7l-.5 1.7m4.3-1.7l-.4 1.5m4.2-1.5l-.9 .9m4.7-.9l-.9 .6m4.8-.6l-.8 1.3m4.6-1.3l-.8 .8m4.6-.8l-1.3 1.1m5.1-1.1l-1.4 1.3m5.2-1.3l-1.5 1.2m5.4-1.2l.2 1.7m3.6-1.7l-.4 1.5m4.2-1.5l-1.5 .3m5.3-.3l-.6 1.6m4.5-1.6l-1.1 1m4.9-1l-.8 1.4m4.6-1.4l-.1 1.6m3.9-1.6l-.5 1.6m4.3-1.6l-.4 1.6m4.3-1.6l-.2 1.1m4-1.1l0 1.8m3.8-1.8l.2 1.3m3.6-1.3l-.7 1m4.6-1l-.7 1.1m4.5-1.1l-.1 1.1m3.9-1.1l-.2 1.5m-240.6-4.5l-1.3 .4m5.1-.4l-.8 1.5m4.6-1.5l.1 1.8m3.8-1.8l-1 1.3m4.8-1.3l-1.6 .1m5.4-.1l-1.8 .2m5.6-.2l-.2 1.5m4.1-1.5l.1 1.1m3.7-1.1l-.6 1.4m4.4-1.4l-.9 1.3m4.7-1.3l-1.2 1.1m5-1.1l-1.2 .8m5.1-.8l-1.8 .3m5.6-.3l-1.3 1.3m5.1-1.3l-1.4 1m5.2-1l-1.4 1.1m5.3-1.1l-1.5 .2m5.3-.2l-1.3 1.5m5.1-1.5l-.9 .6m4.7-.6l-1 1.5m4.8-1.5l-1 .8m4.9-.8l-1.1 1m4.9-1l-1.2-.1m5 .1l-.9 1m4.7-1l-1.2 .2m5.1-.2l-.2 1.3m4-1.3l-1.3 1.3m5.1-1.3l-.7 1.6m4.5-1.6l-.8 1.1m4.6-1.1l0 1.1m3.9-1.1l-1.5 .2m5.3-.2l-1.3 1.4m5.1-1.4l-1.2 .1m5-.1l-1 .6m4.9-.6l-1.2-.1m5 .1l-1 .8m4.8-.8l-1.3 1.3m5.1-1.3l-.7 1.7m4.5-1.7l-1.2 .2m5.1-.2l-.8 1.1m4.6-1.1l-.9 1.2m4.7-1.2l-.3 1.2m4.1-1.2l-.1 1.4m4-1.4l-.9 1m4.7-1l-.9 .7m4.7-.7l-.4 1.1m4.2-1.1l-1.2 .9m5-.9l.1 1.6m3.8-1.6l-.7 1.5m4.5-1.5l-1.6 .5m5.4-.5l-.8 .9m4.6-.9l-.7 1.8m4.6-1.8l-.9 1.4m4.7-1.4l-1.3 0m5.1 0l-.9 1.2m4.7-1.2l-1.3 .9m5.1-.9l.1 1.6m3.8-1.6l-1.4 1.3m5.2-1.3l-.2 1.1m4-1.1l.1 1.5m3.7-1.5l-.9 1.5m4.8-1.5l-1.2 1.4m5-1.4l-1.1 1.5m4.9-1.5l-.2 1.4m-240.6-4.4l-.8 1.2m4.6-1.2l-1.2-.1m5 .1l-1.1 .6m5-.6l-.8 1m4.6-1l-1.6 1.1m5.4-1.1l-1.4 .9m5.2-.9l-1.3 1.2m5.2-1.2l-.6 1.5m4.4-1.5l-1.5 .5m5.3-.5l-1 1.3m4.8-1.3l-1.3 1.2m5.1-1.2l-1 .8m4.9-.8l-.7 .9m4.5-.9l0 1.2m3.8-1.2l-.4 1.1m4.2-1.1l0 1.2m3.9-1.2l-1.2 0m5 0l-.4 1.7m4.2-1.7l-1.8-.1m5.6 .1l-.2 1.4m4-1.4l-1.5 .4m5.4-.4l-1.2 .1m5-.1l-1.2 1.1m5-1.1l.1 2m3.7-2l-1.4 0m5.3 0l-1.8 .2m5.6-.2l-1.3 1.5m5.1-1.5l-.9 1.4m4.7-1.4l-.3 1.2m4.1-1.2l-.1 1.5m4-1.5l-1.3-.2m5.1 .2l-1.4 .3m5.2-.3l-.2 1.8m4-1.8l-.6 1.7m4.5-1.7l-.7 .9m4.5-.9l-.9 .9m4.7-.9l-.6 1.5m4.4-1.5l-1 .8m4.8-.8l-1 1.7m4.9-1.7l-1.3 .2m5.1-.2l-1.1 1.3m4.9-1.3l-1.4 1m5.2-1l0 1.1m3.9-1.1l-1.6 .1m5.4-.1l-1.2-.1m5 .1l-.9 1m4.7-1l-.4 1.7m4.2-1.7l-1.3 .4m5.2-.4l-1.1 1.6m4.9-1.6l-1.9 .2m5.7-.2l-1.6 .1m5.4-.1l-1.6-.2m5.5 .2l-1 .9m4.8-.9l-1.3 1.2m5.1-1.2l-1.3 .4m5.1-.4l0 1.2m3.8-1.2l-.6 1.8m4.5-1.8l-.8 1.7m4.6-1.7l-1.8 0m5.6 0l-1.4 .9m5.2-.9l-.9 1.4m4.8-1.4l-1.1 1.1m4.9-1.1l-1.2 .3m5-.3l.2 2m-241-5.1l-.9 .9m4.7-.9l-.9 1.4m4.7-1.4l-1.7 .5m5.6-.5l-.2 1.1m4-1.1l-.3 1.5m4.1-1.5l-1.1 1.5m4.9-1.5l-1 1.2m4.9-1.2l-1.1 .8m4.9-.8l-.4 1.6m4.2-1.6l-.4 1.3m4.2-1.3l-1.2-.1m5 .1l-1 1.3m4.9-1.3l-1.9-.2m5.7 .2l-1.2 1m5-1l.2 1.3m3.6-1.3l-.2 1.7m4.1-1.7l-1 1.5m4.8-1.5l-.8 1.5m4.6-1.5l-1.1 .7m4.9-.7l0 1.3m3.8-1.3l-1.1 .7m5-.7l-1.7 1m5.5-1l-.3 1.5m4.1-1.5l-2-.1m5.8 .1l-2-.2m5.9 .2l-.2 1.5m4-1.5l-1.1 .4m4.9-.4l-.7 1.8m4.5-1.8l-1.3 1.1m5.1-1.1l-1.9 0m5.8 0l-.9 .7m4.7-.7l-1.1 .7m4.9-.7l-1.1 .8m4.9-.8l-1 1.2m4.9-1.2l-1.8 .6m5.6-.6l-1.6 0m5.4 0l-2 0m5.8 0l-1 1.3m4.8-1.3l-.7 1.1m4.6-1.1l-1.5 .1m5.3-.1l-1.7 .3m5.5-.3l-.3 1.2m4.1-1.2l.1 1.6m3.8-1.6l-1.9 .4m5.7-.4l-1.6 .4m5.4-.4l-1 .6m4.8-.6l-1 1.1m4.8-1.1l-.4 1.6m4.3-1.6l-1.9-.2m5.7 .2l-.6 1.1m4.4-1.1l-1.5 1m5.3-1l-1.6 .3m5.5-.3l-1.7 0m5.5 0l-1 1.1m4.8-1.1l-1.4 .9m5.2-.9l-1.3 1.1m5.1-1.1l-1.4 .9m5.3-.9l.2 1.4m3.6-1.4l-1.1 .7m4.9-.7l-1.6 1.1m5.4-1.1l-.2 1.3m4.1-1.3l-.2 1.1m4-1.1l-.7 .9m4.5-.9l-.3 1.3m-240.5-4.3l-1.5 .4m5.3-.4l-.4 1.2m4.2-1.2l-1.2 1.1m5.1-1.1l-1.1 1m4.9-1l-1.3 .4m5.1-.4l-1 1.2m4.8-1.2l-.6 1.7m4.5-1.7l-.4 1m4.2-1l-1.3 .2m5.1-.2l-.9 1.1m4.7-1.1l-1.2-.2m5 .2l-1 1.1m4.9-1.1l-1.2 .3m5-.3l-1.2 1.2m5-1.2l-1 1.6m4.8-1.6l-1.4 1m5.3-1l0 1.1m3.8-1.1l-1.3 1.3m5.1-1.3l-1.4 .8m5.2-.8l-.7 1.2m4.5-1.2l.1 1.1m3.8-1.1l-.5 1.1m4.3-1.1l-1.2 1.6m5-1.6l-.9 1.7m4.7-1.7l-.2 1.2m4.1-1.2l-.3 1.6m4.1-1.6l-.1 1.9m3.9-1.9l.2 1.9m3.6-1.9l-1.9-.2m5.7 .2l-.4 1.3m4.3-1.3l-1 .7m4.8-.7l.1 2m3.7-2l-.6 1m4.4-1l-1.3-.1m5.2 .1l-.9 1.5m4.7-1.5l-.7 1.7m4.5-1.7l-.8 1.3m4.6-1.3l-.7 1.4m4.5-1.4l-1.3 1.2m5.2-1.2l-1.4 1.1m5.2-1.1l-.1 1.7m3.9-1.7l-1.1 1.4m4.9-1.4l-1.4 .3m5.3-.3l-1.2 .8m5-.8l-.2 1.3m4-1.3l-.1 1.8m3.9-1.8l-.7 1.5m4.5-1.5l-1.2 1m5.1-1l-1.1 .9m4.9-.9l-1.8 .6m5.6-.6l-.1 1.1m3.9-1.1l-1.6 0m5.5 0l-1.5 .1m5.3-.1l-1.4 .5m5.2-.5l-1 1.3m4.8-1.3l-1.4 1.4m5.2-1.4l-.3 1.2m4.2-1.2l-1.5-.1m5.3 .1l-1.4 .8m5.2-.8l-1 1.5m4.8-1.5l-.7 1.1m4.6-1.1l.1 1.6m3.7-1.6l-1.4 .1m5.2-.1l-1.9-.2m-238.9-2.8l-.9 .7m4.7-.7l-1 1.5m4.8-1.5l-.7 1m4.6-1l-1.8-.2m5.6 .2l-.4 1.9m4.2-1.9l-1.5 .3m5.3-.3l-1.2 .3m5.1-.3l-.9 .9m4.7-.9l-.1 1.7m3.9-1.7l-1.3 .3m5.1-.3l-.4 1m4.2-1l-1 1.7m4.9-1.7l-.5 1.1m4.3-1.1l-.4 1.2m4.2-1.2l-.4 1.1m4.2-1.1l-1.3 .9m5.2-.9l-.3 1.6m4.1-1.6l.1 1.3m3.7-1.3l-.3 1.4m4.1-1.4l-1.5-.1m5.3 .1l-.9 1.1m4.8-1.1l-.4 1.1m4.2-1.1l-1.9 .2m5.7-.2l-.1 1.8m3.9-1.8l-.1 1.3m4-1.3l-.3 1.6m4.1-1.6l-.7 1.1m4.5-1.1l-.2 1.2m4-1.2l-.6 1.4m4.4-1.4l-.7 1.3m4.6-1.3l-1.3 .9m5.1-.9l-1.6 .1m5.4-.1l-1.4-.1m5.2 .1l.1 1.5m3.8-1.5l-1.8-.2m5.6 .2l-1.9-.1m5.7 .1l-1.3 1m5.1-1l-.5 1.6m4.3-1.6l-.5 1.5m4.4-1.5l-1.3 1.1m5.1-1.1l-1.4-.2m5.2 .2l-1.4 .1m5.2-.1l-.8 .7m4.7-.7l-1.5 .1m5.3-.1l-1.7 .6m5.5-.6l-1.4 1.2m5.2-1.2l-.5 1.2m4.3-1.2l-1 1.1m4.9-1.1l-1.1 1.6m4.9-1.6l-.8 1m4.6-1l-.2 1.8m4-1.8l.1 1.8m3.8-1.8l-.5 1.2m4.3-1.2l-.9 1.5m4.7-1.5l-1.3 .3m5.1-.3l-.2 1.6m4-1.6l-1.1 1.7m5-1.7l-1.2 1m5-1l-.6 1.2m4.4-1.2l-1.2 1m5-1l-.8 1.3m4.7-1.3l-.9 .8m4.7-.8l.2 1.5m3.6-1.5l-.6 1m-240.2-4l-1.9-.3m5.7 .3l-1.3 1.2m5.1-1.2l.1 1.5m3.8-1.5l-.8 1m4.6-1l-1.3 .8m5.1-.8l-.7 1.3m4.5-1.3l-1.1 1.3m5-1.3l-1.3 1m5.1-1l-1.4 1m5.2-1l-.2 1.2m4-1.2l-1.6 .5m5.4-.5l-1.8 .5m5.7-.5l-1.9 0m5.7 0l.2 1.7m3.6-1.7l-.7 .9m4.5-.9l.1 1.8m3.8-1.8l-.3 1.9m4.1-1.9l-1.1 1.4m4.9-1.4l-1 1.3m4.8-1.3l-1.3 .9m5.1-.9l-.1 1.2m4-1.2l-.8 1.6m4.6-1.6l-1.6 .5m5.4-.5l-1 1.4m4.8-1.4l-.5 1.4m4.4-1.4l-.1 1.7m3.9-1.7l-1.2 1.4m5-1.4l-1.1 .9m4.9-.9l-.3 1.2m4.1-1.2l.1 1.5m3.8-1.5l-.6 1m4.4-1l-.3 1.1m4.1-1.1l-.5 1.3m4.3-1.3l.1 1.6m3.8-1.6l-.5 1.1m4.3-1.1l-.4 1.8m4.2-1.8l0 1.7m3.8-1.7l-.9 1.4m4.7-1.4l-1.9 .2m5.8-.2l-.3 1.1m4.1-1.1l-.4 1.3m4.2-1.3l.2 1.7m3.6-1.7l-1.1 .6m5-.6l-1.2 1.6m5-1.6l-.7 1.7m4.5-1.7l-1.4 1.4m5.2-1.4l-.7 1.4m4.5-1.4l-.4 1.4m4.3-1.4l-.5 1.5m4.3-1.5l-.8 1.5m4.6-1.5l-1.2 .1m5-.1l-1.2 1.3m5.1-1.3l-.6 1.2m4.4-1.2l-.2 1.3m4-1.3l-.9 1.6m4.7-1.6l-1.5 .4m5.3-.4l.1 1.8m3.8-1.8l-1.8-.1m5.6 .1l-1.4 1m5.2-1l-1.7 1m5.5-1l-1.8-.2m5.7 .2l-1.3 1.1m5.1-1.1l-1 .6m4.8-.6l-.3 2m-240.5-5.1l-1.6 .2m5.4-.2l-.6 1.5m4.4-1.5l-.3 1.5m4.2-1.5l-1.6 1.1m5.4-1.1l-1 1.5m4.8-1.5l-.9 .7m4.7-.7l-1.6 .6m5.5-.6l-1.3 1.5m5.1-1.5l-.8 1.4m4.6-1.4l-.9 1.4m4.7-1.4l-1.4 .9m5.2-.9l-1 .7m4.9-.7l-.5 1.2m4.3-1.2l-.8 1m4.6-1l-.6 1.3m4.4-1.3l-1.2 .8m5.1-.8l-1.1 .8m4.9-.8l-1.8 .1m5.6-.1l-1.7-.1m5.5 .1l-.8 1.7m4.6-1.7l-.5 1m4.4-1l-.1 1.2m3.9-1.2l-1.3 .9m5.1-.9l-1.4 1.1m5.2-1.1l-1.4 1m5.3-1l-.9 .6m4.7-.6l-.7 1.5m4.5-1.5l-.6 1.1m4.4-1.1l-.7 1.3m4.5-1.3l-.5 1.4m4.4-1.4l-1 .7m4.8-.7l-2-.2m5.8 .2l-.3 1.5m4.1-1.5l-.9 1m4.8-1l-.6 1.8m4.4-1.8l0 1.8m3.8-1.8l-1.7 .4m5.5-.4l-.8 1.5m4.6-1.5l-1.5 1.2m5.4-1.2l-.5 1.3m4.3-1.3l-1.2 1.1m5-1.1l.1 1.3m3.7-1.3l-1.3 1m5.2-1l-.7 .9m4.5-.9l-1.3 1.4m5.1-1.4l-1 1.6m4.8-1.6l-.4 1.1m4.2-1.1l0 1.2m3.9-1.2l-1.1 .9m4.9-.9l-1 1.4m4.8-1.4l.2 1.4m3.6-1.4l-1.1 .8m5-.8l-1.4 .1m5.2-.1l-.4 2m4.2-2l-1 1.1m4.8-1.1l-.8 1.1m4.6-1.1l-1.1 .9m5-.9l-.6 1.3m4.4-1.3l-.2 1.2m4-1.2l.2 1.2m3.6-1.2l-1.4 .5m5.3-.5l.1 1.1m3.7-1.1l-1.2 .1m5-.1l-1.4 1m-239.4-4l-.2 1.6m4-1.6l-.8 1m4.6-1l-1.2 .2m5.1-.2l-.3 1.4m4.1-1.4l-.9 .8m4.7-.8l.2 1.3m3.6-1.3l-.5 1.5m4.4-1.5l-.2 1.3m4-1.3l-1 1.1m4.8-1.1l-.7 1.3m4.5-1.3l-1.3-.1m5.1 .1l-1.3 1m5.2-1l-1.1 1.2m4.9-1.2l0 1.2m3.8-1.2l-.4 1.7m4.2-1.7l-.1 1.5m4-1.5l-.3 1.8m4.1-1.8l-1.3 1.5m5.1-1.5l-1.4 .9m5.2-.9l-.4 1.4m4.2-1.4l-.9 .9m4.8-.9l-.3 1.3m4.1-1.3l-1.3 1.4m5.1-1.4l-1 1.2m4.8-1.2l-1.6-.1m5.5 .1l-.1 1.3m3.9-1.3l-1 1m4.8-1l-1.4 .2m5.2-.2l-.2 1.6m4-1.6l0 1.6m3.9-1.6l-1 .9m4.8-.9l-.2 1.5m4-1.5l-1.6-.2m5.4 .2l.2 1.6m3.7-1.6l-.7 1.3m4.5-1.3l-1.3 1.1m5.1-1.1l-1.3 1.1m5.1-1.1l-1.2 1.4m5-1.4l-.2 1.3m4.1-1.3l-.5 1.7m4.3-1.7l-.6 1.6m4.4-1.6l-1.9 .1m5.7-.1l-1.1 .9m5-.9l-1.2 1.3m5-1.3l-1.7 .4m5.5-.4l-.9 1.2m4.7-1.2l-.1 1.1m3.9-1.1l-1.9-.3m5.8 .3l-1.5 .1m5.3-.1l-1.3 1m5.1-1l-1.5 1.2m5.3-1.2l-1.1 1.2m5-1.2l-1.6 .6m5.4-.6l-1.3 1.1m5.1-1.1l-.8 1.8m4.6-1.8l-.4 1.2m4.2-1.2l-.3 2m4.2-2l-1.5 1.2m5.3-1.2l-.2 1.3m4-1.3l-1 1.3m4.8-1.3l-1.7-.2m5.6 .2l-1 1.2m4.8-1.2l-1.1 1m4.9-1l-.4 1.4m-240.4-4.4l-1 1.2m4.8-1.2l-1 .7m4.8-.7l-1 .8m4.9-.8l-.1 1.1m3.9-1.1l-1.4 1m5.2-1l-1.3 .1m5.1-.1l-1.1 .9m5-.9l-.6 1.9m4.4-1.9l-1.4 1m5.2-1l-1.5 1.3m5.3-1.3l-1.2 1.6m5-1.6l-.8 1.4m4.7-1.4l-1.2-.2m5 .2l-.8 1.5m4.6-1.5l-.3 1.5m4.1-1.5l-1.1 .3m5-.3l-1.2 0m5 0l-.4 1.5m4.2-1.5l-1.1 1.2m4.9-1.2l-.5 1.3m4.3-1.3l-1.1-.1m5 .1l-1.2 .4m5-.4l-.7 1m4.5-1l-1.1 .9m4.9-.9l-.9 .7m4.8-.7l-1.5 .4m5.3-.4l-.5 1.4m4.3-1.4l-1 1.1m4.8-1.1l-1 1.6m4.8-1.6l-1.9 .1m5.8-.1l-.7 1.3m4.5-1.3l-1.4 1.2m5.2-1.2l-1 .7m4.8-.7l-.5 1.3m4.4-1.3l-.3 1.8m4.1-1.8l-1.6 .3m5.4-.3l-1.5 1.2m5.3-1.2l-.1 1.2m3.9-1.2l-1 .9m4.9-.9l-.9 1.1m4.7-1.1l0 1.5m3.8-1.5l-1.2 1.3m5-1.3l-1.2 .3m5.1-.3l-1.3 1m5.1-1l-.2 1.7m4-1.7l-1.3 1m5.1-1l-1.3 1.4m5.1-1.4l-.3 1.2m4.2-1.2l-1.5 .2m5.3-.2l-.9 .9m4.7-.9l0 1.8m3.8-1.8l-1.4 .2m5.3-.2l-1.2 1.1m5-1.1l-.9 .9m4.7-.9l0 1.4m3.8-1.4l-1.5 1m5.3-1l0 1.6m3.9-1.6l-1.1 1.2m4.9-1.2l.1 1.6m3.7-1.6l0 1.1m3.8-1.1l0 1.9m3.9-1.9l-1.2 1.6m5-1.6l-1.7-.3m5.5 .3l-1.1 1.2m-239.7-4.2l-1.2-.2m5 .2l-.3 1.8m4.1-1.8l-1.6 1m5.5-1l-.3 1.6m4.1-1.6l-.8 1.2m4.6-1.2l-.8 1.6m4.6-1.6l-.9 .7m4.8-.7l0 1.5m3.8-1.5l-1.2 1.3m5-1.3l-.3 1.1m4.1-1.1l-1.1 .3m4.9-.3l-.7 1.2m4.6-1.2l-.8 1.6m4.6-1.6l-1.2-.2m5 .2l0 1.2m3.8-1.2l-1.8 .5m5.7-.5l-.3 1.5m4.1-1.5l-.5 1.3m4.3-1.3l-1.5 1m5.3-1l-1.3 .8m5.1-.8l-.2 1.5m4.1-1.5l-1.4 1.4m5.2-1.4l-.1 1.7m3.9-1.7l-1 .8m4.8-.8l-.6 1m4.5-1l-.5 1m4.3-1l-1.1 1.2m4.9-1.2l-1.5 0m5.3 0l-1.3 1.4m5.1-1.4l-1.2 .8m5.1-.8l-.8 1.8m4.6-1.8l-1.3 1.5m5.1-1.5l-.8 1.4m4.6-1.4l-1.1 1.3m5-1.3l-1.2 .2m5-.2l-1 1.7m4.8-1.7l-1.1 1.3m4.9-1.3l-1.3-.1m5.1 .1l-1.6 .2m5.5-.2l-1.3 1.1m5.1-1.1l-.4 1.6m4.2-1.6l-.9 1.6m4.7-1.6l-.1 1.3m4-1.3l-1.2 1.4m5-1.4l-.2 1.1m4-1.1l-.1 1.2m3.9-1.2l-1.7 .5m5.5-.5l-1.1 1m5-1l-1.1 1.5m4.9-1.5l-1.5 1.1m5.3-1.1l-1.1 1.3m4.9-1.3l0 1.6m3.9-1.6l-1 1.6m4.8-1.6l.1 1.2m3.7-1.2l-1.2 1.4m5-1.4l0 1.4m3.8-1.4l-.3 1.7m4.2-1.7l-.1 1.7m3.9-1.7l-.2 1.7m4-1.7l-1.4 1m5.2-1l-1.4 .9m5.3-.9l-1.2 .8m5-.8l-.2 1.4m4-1.4l-.7 1.1m-240.1-4.1l-1.3 .9m5.1-.9l-.9 1.1m4.7-1.1l-.6 1.9m4.5-1.9l-1.4 1.2m5.2-1.2l-.5 1.4m4.3-1.4l.2 1.8m3.6-1.8l-.9 1.8m4.8-1.8l0 1.9m3.8-1.9l-.2 1.6m4-1.6l-.8 1.7m4.6-1.7l-.7 1m4.5-1l.2 2m3.7-2l-1.5 1.1m5.3-1.1l-1.5 .2m5.3-.2l-.9 1.3m4.7-1.3l-1 1m4.9-1l-1.2 1.3m5-1.3l-.3 1.3m4.1-1.3l-.1 1.6m3.9-1.6l-1.5 1.1m5.3-1.1l-.5 1.2m4.4-1.2l-1.5 0m5.3 0l-.7 1.3m4.5-1.3l-.9 1.1m4.7-1.1l-.4 1.9m4.3-1.9l0 1.8m3.8-1.8l0 1.8m3.8-1.8l0 1.8m3.8-1.8l-1.1 .4m4.9-.4l-.8 .9m4.7-.9l-.9 1m4.7-1l-.7 1.2m4.5-1.2l-1.3 .8m5.1-.8l-1.9-.1m5.8 .1l-.8 .9m4.6-.9l.1 1.6m3.7-1.6l-1.2 1.1m5-1.1l-.9 1.4m4.7-1.4l-.9 1m4.8-1l-1.9 .4m5.7-.4l-.9 1.4m4.7-1.4l-1.8-.2m5.6 .2l-1 1.2m4.9-1.2l-1.3 .9m5.1-.9l-.7 1.4m4.5-1.4l-1.4 .4m5.2-.4l-.9 .9m4.7-.9l-.2 1.2m4.1-1.2l-1 .7m4.8-.7l-.2 1.5m4-1.5l-1.2 1.2m5-1.2l.2 2m3.7-2l-.9 .8m4.7-.8l-.2 1.1m4-1.1l-1.4 .3m5.2-.3l-1.6 1.2m5.4-1.2l-.6 .9m4.5-.9l-1.5 1.1m5.3-1.1l-.2 1.7m4-1.7l-.1 2m3.9-2l-1.2 1.3m5.1-1.3l-.3 1.6m4.1-1.6l.1 1.3m3.7-1.3l0 1.9m-240.8-5l-1.3 .1m5.1-.1l-.3 1.7m4.1-1.7l-1.1 .7m5-.7l-1.1 .6m4.9-.6l-.5 1.8m4.3-1.8l-.5 1.8m4.3-1.8l-1.2-.1m5.1 .1l0 1.5m3.8-1.5l-1.8 .5m5.6-.5l-.7 1m4.5-1l-1 .9m4.8-.9l.1 1.4m3.8-1.4l-.4 1.1m4.2-1.1l.2 1.7m3.6-1.7l0 2m3.8-2l-.8 1.5m4.7-1.5l-1.4 .5m5.2-.5l-.9 1.5m4.7-1.5l-1.2 1.6m5-1.6l-.7 1.5m4.5-1.5l-1.4 1.3m5.3-1.3l-1.1 1.2m4.9-1.2l-.8 1.6m4.6-1.6l-1.3 .4m5.1-.4l-.1 1.8m4-1.8l-.9 1.4m4.7-1.4l-.8 1.1m4.6-1.1l-1.3 .1m5.1-.1l0 1.2m3.8-1.2l-1.2 1.2m5.1-1.2l-.6 1.7m8.2-1.7l-.5 1.4m4.3-1.4l-.7 1.2m4.6-1.2l-1 .9m4.8-.9l-1.1 .9m4.9-.9l-.1 1.7m3.9-1.7l-1.2 1.2m5-1.2l-1.8 .5m5.7-.5l-1.2 1.4m5-1.4l-.1 1.1m3.9-1.1l-1.8 .1m5.6-.1l-.1 1.4m4-1.4l-1.3 .9m5.1-.9l-.8 1m4.6-1l0 1.5m3.8-1.5l-.7 1.2m4.5-1.2l-.9 1.5m4.8-1.5l-1.1 1.4m4.9-1.4l-.9 1.4m4.7-1.4l-.6 1.4m4.4-1.4l-1.2 0m5.1 0l-.6 1.4m4.4-1.4l-.8 .9m4.6-.9l-.9 1m4.7-1l-1.2 1.4m5-1.4l.1 1.7m3.8-1.7l-.2 1.6m4-1.6l-1 1.6m4.8-1.6l-.5 1.3m4.3-1.3l-.6 1.1m4.5-1.1l-.3 1.9m4.1-1.9l-1.5 .4m5.3-.4l-.6 1.2m-240.2-4.2l.2 1.7m3.6-1.7l-1.7 .7m5.5-.7l-.6 1.5m4.5-1.5l-.5 1.5m4.3-1.5l-1 .8m4.8-.8l-1.3-.1m5.1 .1l-2 .3m5.9-.3l-1.5 1m5.3-1l-.6 1.1m4.4-1.1l-1.3 0m5.1 0l-1.7 0m5.5 0l-.1 1.2m4-1.2l-.6 1m4.4-1l0 1.4m3.8-1.4l-.8 1.1m4.6-1.1l-1 .8m4.9-.8l-.9 1.3m4.7-1.3l-.3 1.6m4.1-1.6l-1.3 1m5.1-1l-.4 1.8m4.2-1.8l-1.1 1.4m5-1.4l-1.3 0m5.1 0l-.5 1m4.3-1l-1.5 .9m5.3-.9l-.4 1.2m4.3-1.2l-.5 1.4m4.3-1.4l-1.3 .2m5.1-.2l-1.7 .5m5.5-.5l-1.7 .2m13.2-.2l-1.2 1.2m5-1.2l-.9 1.4m4.7-1.4l-.1 1.9m4-1.9l-1.4 .9m9-.9l-.6 1.3m4.4-1.3l-.1 1.5m3.9-1.5l-.5 1.5m4.4-1.5l-.9 1.4m4.7-1.4l-.9 1.8m4.7-1.8l-.9 .7m4.7-.7l-.3 1.5m4.2-1.5l.2 1.7m3.6-1.7l-1.3-.1m5.1 .1l-1.2 1.2m5-1.2l.2 1.7m3.6-1.7l-.6 1.8m4.5-1.8l-1.4 .3m5.2-.3l-.1 1.9m3.9-1.9l-1.3 .9m5.1-.9l-1.3 .8m5.2-.8l-1.5 .6m5.3-.6l-1 .6m4.8-.6l-1.4 1.3m5.2-1.3l-2 .4m5.8-.4l-1.5 1.3m5.4-1.3l-1.4 1.1m5.2-1.1l-1.8-.1m5.6 .1l.1 1.3m3.7-1.3l-1 1.4m4.9-1.4l-.3 1.7m4.1-1.7l-1.1 .2m4.9-.2l-1.2 .3m-239.6-3.3l-.5 1.1m4.3-1.1l-1.6 .9m5.4-.9l-2-.1m5.9 .1l-.4 1.5m4.2-1.5l-.5 1.7m4.3-1.7l-.9 1.8m4.7-1.8l-1.4 1.1m5.3-1.1l-1.2 1m5-1l-1.1 .8m4.9-.8l-1.1 .4m4.9-.4l-1.5 1m5.3-1l-1.4 1.1m5.3-1.1l-1.8 .3m5.6-.3l-.1 1.2m3.9-1.2l-1.5 1.3m5.3-1.3l-.8 1.5m4.7-1.5l-.5 1.8m4.3-1.8l-.6 1.6m4.4-1.6l-.9 1.3m4.7-1.3l-1.4 .9m5.2-.9l-1.9-.1m5.8 .1l-1.1 1.1m4.9-1.1l-1.9-.3m5.7 .3l-.9 1.1m4.7-1.1l-1.7 1m5.6-1l-.4 1.9m4.2-1.9l-1.2 .9m5-.9l-1.2 1.2m8.8-1.2l-1.4 .2m5.3-.2l-1.2-.1m8.8 .1l-1.4 1.3m12.9-1.3l-.6 1.8m8.2-1.8l-.6 1.8m4.4-1.8l-1.4 1.3m5.3-1.3l-1.1 .7m4.9-.7l-.2 1.7m4-1.7l.2 1.9m3.6-1.9l-.9 1.7m4.8-1.7l-1.5 1.2m5.3-1.2l-.4 1.2m4.2-1.2l-1.7 .4m5.5-.4l-.9 1.7m4.7-1.7l0 1.3m3.9-1.3l-.1 1.5m3.9-1.5l-1.6 .1m5.4-.1l-1.5 .1m5.3-.1l-1.7 .6m5.6-.6l-1.1 .7m4.9-.7l.1 1.3m3.7-1.3l-1.6 .5m5.4-.5l0 1.5m3.8-1.5l-1.2 .3m5.1-.3l-1 .7m4.8-.7l-1.1 .9m4.9-.9l-1.6 1.2m5.4-1.2l-1.6 .1m5.5-.1l-.8 1.3m4.6-1.3l-.8 1.2m4.6-1.2l-1.6 .5m-239.2-3.5l.1 2m3.7-2l-1.4 .5m5.2-.5l-1.2 .3m5.1-.3l-.8 1.1m4.6-1.1l-1.3 .8m5.1-.8l-.9 1.7m4.7-1.7l-.1 1.4m4-1.4l-1.6 .9m5.4-.9l-.4 1.7m4.2-1.7l0 1.8m3.8-1.8l-1.3 .1m5.1-.1l-1 .6m4.9-.6l-.8 1.3m4.6-1.3l-1 1.1m4.8-1.1l-.4 1.5m4.2-1.5l-.8 1.6m4.7-1.6l-1.3 1.4m5.1-1.4l-1.3 1.2m5.1-1.2l-.8 .9m4.6-.9l-1.6 .3m5.4-.3l-.2 1.6m4.1-1.6l-.4 1.3m4.2-1.3l-1.1 .1m4.9-.1l.1 1.7m3.7-1.7l-.6 .9m4.5-.9l-1.3 .9m5.1-.9l-1.9 .2m5.7-.2l-1 .8m4.8-.8l-1.2 .2m12.7-.2l-1.2 .8m12.7-.8l-1 .6m20.1-.6l0 1.9m3.8-1.9l-1.2 .1m5-.1l-1.3-.1m5.1 .1l-1.4 .9m5.3-.9l.1 1.4m3.7-1.4l-1 1.1m4.8-1.1l-.5 1.8m4.3-1.8l-.5 1.3m4.3-1.3l-1.1 .3m5-.3l-1 .9m4.8-.9l-1.2-.1m5 .1l-1 .6m4.8-.6l-1.2 1.5m5.1-1.5l-.3 1.5m4.1-1.5l-.6 1m4.4-1l-.8 1.2m4.6-1.2l-.8 .9m4.6-.9l-1 1.3m4.9-1.3l-.8 1.4m4.6-1.4l-1.5 1.2m5.3-1.2l-1.1 .3m4.9-.3l-1.6 1m5.5-1l-1.1 .8m4.9-.8l-.4 1.4m4.2-1.4l-1.2 1m-239.6-4.1l-.9 1.8m4.7-1.8l-.3 1.3m4.1-1.3l-.9 .7m4.8-.7l-.8 1.6m4.6-1.6l-1.4 .1m5.2-.1l-.5 1.5m4.3-1.5l-.5 1.1m4.4-1.1l-.9 1.1m4.7-1.1l-1.8 .4m5.6-.4l-.9 1.6m4.7-1.6l-1.4 1.4m5.2-1.4l-1.5 .3m5.4-.3l0 1.6m3.8-1.6l-1.2 1.5m5-1.5l-.2 1.8m4-1.8l-1.1 .7m5-.7l.2 1.9m3.6-1.9l-1.8 .4m5.6-.4l.1 1.9m3.7-1.9l-1.2 .2m5-.2l-.8 1.2m4.7-1.2l-1 1.2m4.8-1.2l-.4 1.3m4.2-1.3l-.8 .9m4.6-.9l-.6 1.2m4.5-1.2l-.4 1.4m4.2-1.4l-.6 1m4.4-1l.1 1.1m3.7-1.1l0 1.6m7.7-1.6l-1.3 0m5.1 0l-.1 1.1m7.7-1.1l0 1.7m7.7-1.7l-.6 1.2m8.2-1.2l-1.6 .4m13.1-.4l-1.4 1.1m5.2-1.1l-1.5 .5m5.3-.5l-.2 1.2m4.1-1.2l-.6 1.9m4.4-1.9l-1.5 1.1m5.3-1.1l-1.2 .9m5-.9l-.4 1.1m4.2-1.1l-.2 1.2m4.1-1.2l-1.3 1.2m5.1-1.2l-.3 1.7m4.1-1.7l.1 1.3m3.7-1.3l-.8 1.6m4.7-1.6l-.2 1.8m4-1.8l.2 1.7m3.6-1.7l-.9 .8m4.7-.8l-1.8-.1m5.6 .1l-.5 1.7m4.4-1.7l-1.5 .4m5.3-.4l-.5 1.8m4.3-1.8l-1.4 1m5.2-1l-.4 1.8m4.3-1.8l-1.2 .2m5-.2l-1 .7m4.8-.7l.1 1.4m-240.9-4.4l-.4 1.4m4.2-1.4l-.5 1m4.3-1l0 1.9m3.9-1.9l-.2 1.5m4-1.5l-1 1m4.8-1l-1.1 .2m4.9-.2l-.2 1.2m4.1-1.2l-1 .8m4.8-.8l-.6 1.3m4.4-1.3l-.3 1.4m4.1-1.4l-1.1 1.5m4.9-1.5l0 1.2m3.9-1.2l-1 1.2m4.8-1.2l0 1.6m3.8-1.6l-.9 .6m4.7-.6l-1.1 .8m5-.8l-1.3 1.4m5.1-1.4l-.7 1.4m4.5-1.4l-1.4-.2m5.2 .2l-1.1 .8m4.9-.8l-.9 1.6m4.8-1.6l-1.6-.1m5.4 .1l-1.5 .9m5.3-.9l-1 1m4.8-1l-1.2 .2m16.5-.2l-1.3 1.5m9-1.5l-1 .8m27.7-.8l-1.3 1.3m9-1.3l-.2 1.5m4-1.5l-1.2 1.4m5-1.4l-.5 1.2m4.3-1.2l-.4 1.5m4.3-1.5l-.7 .9m4.5-.9l-1.8-.1m5.6 .1l.1 2m3.7-2l-1.8 .4m5.6-.4l-.1 1.8m4-1.8l-.9 1.5m4.7-1.5l.1 1.4m3.7-1.4l-.7 .8m4.5-.8l-1.4 1m5.3-1l-.4 1.6m4.2-1.6l-.9 1.3m4.7-1.3l-1.4 1.4m5.2-1.4l-.5 1.3m4.3-1.3l-.9 .9m4.8-.9l-.2 1.4m4-1.4l-1.5 1.2m5.3-1.2l-1 .6m4.8-.6l.1 1.9m3.8-1.9l-.9 1.2m4.7-1.2l-1.2 .7m5-.7l-1.3 1m-239.5-4l-1 1.6m4.8-1.6l-1.3 1.3m5.1-1.3l-.7 1.2m4.6-1.2l-1.2 1.2m5-1.2l-2-.2m5.8 .2l-.6 1m4.4-1l-.1 1.6m4-1.6l-.5 1.8m4.3-1.8l-1.6 .6m5.4-.6l-1.4 1.1m5.2-1.1l-.4 1.5m4.2-1.5l-1.2 .9m5.1-.9l-.5 1.1m4.3-1.1l-1.9-.1m5.7 .1l-.4 1m4.2-1l-1.9 .1m5.8-.1l-.2 1.2m4-1.2l-1 1.1m4.8-1.1l-1.3 1.1m5.1-1.1l-.7 .9m4.5-.9l-1.4 .8m5.3-.8l-.7 1.4m4.5-1.4l0 1.3m3.8-1.3l-.7 1.7m4.5-1.7l-.3 1.3m15.6-1.3l-1.1 1.4m4.9-1.4l-1.5 .3m5.4-.3l.1 1.9m19-1.9l.2 1.9m3.6-1.9l-1.8-.2m5.6 .2l-1 1.7m4.8-1.7l-1.1 .9m8.8-.9l-.7 1.1m4.5-1.1l-.2 1.3m4-1.3l-1.3 1.4m5.2-1.4l-1.3 1.3m5.1-1.3l-1.3 1.3m5.1-1.3l-1.5 .3m5.3-.3l-.9 1.1m4.7-1.1l-.6 1m4.5-1l-.8 .9m4.6-.9l-.1 1.2m3.9-1.2l-.1 1.5m3.9-1.5l-.3 1.5m4.2-1.5l-1.1 1.2m4.9-1.2l-.9 .7m4.7-.7l-1.4 1.1m5.2-1.1l.1 1.9m3.7-1.9l-1.3 1m5.2-1l0 1.2m3.8-1.2l-.2 1.6m4-1.6l-1.6 .4m5.4-.4l-.2 1.4m4.1-1.4l-.3 1.1m4.1-1.1l-1 1.6m4.8-1.6l-1.9 .1m-238.9-3.1l.1 1.1m3.7-1.1l-1.7 0m5.5 0l-1.1 .7m5-.7l-1.5 1.2m5.3-1.2l-.4 1.2m4.2-1.2l-.6 1.5m4.4-1.5l-.5 1.7m4.4-1.7l-1.4 .4m5.2-.4l-.1 1.7m3.9-1.7l-.2 1.5m4-1.5l-1.2 1.4m5-1.4l-.2 1.4m4.1-1.4l-.9 1.2m4.7-1.2l-.4 1m4.2-1l-.5 1.9m4.3-1.9l-1.9 0m5.8 0l-1.5 1.2m5.3-1.2l-.7 .9m4.5-.9l-.2 1.5m4-1.5l-1.6-.1m5.4 .1l-1.2 1.3m5.1-1.3l-.8 .9m4.6-.9l-1.5 1m9.1-1l-1.4 1.2m9.1-1.2l-1.8 0m5.6 0l-1.3 .1m12.8-.1l-1 1.7m12.4-1.7l-.7 1m4.6-1l-.2 1.2m11.6-1.2l-.3 1.3m15.6-1.3l-1.8 .1m5.6-.1l-.7 1.6m4.6-1.6l.1 1.6m3.7-1.6l-.2 1.3m4-1.3l-1.1 .4m4.9-.4l-.1 1.8m3.9-1.8l-1.3 1.4m5.2-1.4l-1.2 .7m5-.7l-1.1 .8m4.9-.8l-.8 1m4.6-1l.1 2m3.8-2l-1 .7m4.8-.7l-1.4 1.2m5.2-1.2l-1.4 0m5.2 0l.1 1.8m3.7-1.8l-1.1 1.6m5-1.6l-.7 1.8m4.5-1.8l-1.9 .2m5.7-.2l-1.2 .1m5-.1l-1 1.6m4.9-1.6l-.6 1.2m4.4-1.2l-.8 .8m4.6-.8l-.1 1.2m-240.7-4.2l-.6 1m4.4-1l-.9 1.5m4.7-1.5l-1.5-.2m5.4 .2l-.4 1.8m4.2-1.8l-1.2 .3m5-.3l-1.3 1m5.1-1l-.6 1.6m4.5-1.6l.2 1.5m3.6-1.5l-.8 1.6m4.6-1.6l-.2 1.4m4-1.4l-.5 1.7m4.3-1.7l-1 1.3m4.9-1.3l-1 .9m4.8-.9l-1.9 .3m5.7-.3l-1.2 1.3m5-1.3l.1 1.2m3.8-1.2l-.2 1.9m4-1.9l-.9 1.6m4.7-1.6l-1.9 .3m5.7-.3l-1.2 1.5m5-1.5l-.9 .9m4.8-.9l-.4 1.8m4.2-1.8l-1.3 .2m5.1-.2l-1.2 .8m5-.8l.1 1.5m3.8-1.5l-1.3 .3m43.3-.3l-.1 1.2m15.4-1.2l-.6 1.4m8.2-1.4l-.8 .9m4.7-.9l-.6 1m4.4-1l-.9 .6m4.7-.6l-.6 1.4m4.4-1.4l-.9 1.7m4.7-1.7l-1.4 1.1m5.3-1.1l-1.1 1.1m4.9-1.1l.2 1.6m3.6-1.6l-1.1 .8m4.9-.8l-.3 1.4m4.2-1.4l-.3 1.1m4.1-1.1l.1 1.2m3.7-1.2l-.7 1.8m4.5-1.8l-.8 .8m4.6-.8l-.4 1.3m4.3-1.3l-1.5 .9m5.3-.9l-.9 .9m4.7-.9l-1 1m4.8-1l-.4 1.3m4.3-1.3l.1 1.9m3.7-1.9l-2-.1m5.8 .1l-1 .9m-239.8-4l-1.1 1m4.9-1l-.9 1.6m4.7-1.6l-1 .8m4.9-.8l-1.1 1.6m4.9-1.6l-1.3 1.5m5.1-1.5l-1.2 1.5m5-1.5l-1.6 1.1m5.5-1.1l-.7 1.8m4.5-1.8l-1.4 .1m5.2-.1l-.8 .9m4.6-.9l-.5 1.5m4.3-1.5l-1.4 1.1m5.3-1.1l-.9 1.3m4.7-1.3l-.8 .9m4.6-.9l-1 1.4m4.8-1.4l-.8 1.1m4.7-1.1l-.6 1.5m4.4-1.5l-1.6 1.2m5.4-1.2l.2 1.6m3.6-1.6l-1.1 .9m4.9-.9l-1.1 1.5m5-1.5l-.6 1.4m8.2-1.4l-.4 1.2m11.9-1.2l-.4 1.2m8-1.2l-.7 1.1m42.8-1.1l-1.7 1.1m5.5-1.1l-.7 1.1m12.2-1.1l.2 1.3m3.6-1.3l-.9 .8m4.7-.8l-.8 1.7m4.6-1.7l-.4 1.3m4.2-1.3l-.9 1.2m4.8-1.2l-1 1.5m4.8-1.5l-.4 1.9m4.2-1.9l-1 .8m4.8-.8l-.5 1.6m4.4-1.6l-1.1 .3m4.9-.3l-.8 1.7m4.6-1.7l-1.8 .5m5.6-.5l-.7 1.7m4.5-1.7l-.7 1.7m4.6-1.7l-.7 .9m4.5-.9l-.6 1.2m4.4-1.2l.2 1.5m3.6-1.5l-.9 1.6m4.8-1.6l-1 .9m4.8-.9l-.4 1.9m4.2-1.9l-1.8-.1m-239-2.9l-1.3 .1m5.1-.1l-.8 1m4.6-1l-1.2 1.4m5.1-1.4l-1.1 1.3m4.9-1.3l-.9 1.6m4.7-1.6l-.8 .8m4.6-.8l.2 1.7m3.7-1.7l-.4 1.5m4.2-1.5l-.1 1.2m3.9-1.2l-1 .7m4.8-.7l-.6 1.3m4.4-1.3l-.8 1.7m4.7-1.7l-1.1 .9m4.9-.9l-1 1.2m4.8-1.2l-.6 1.8m4.4-1.8l-1.2 1.3m5.1-1.3l-.7 1.7m4.5-1.7l-1.3 0m5.1 0l-1.3 1.1m5.1-1.1l.1 1.3m3.7-1.3l-1.7 .6m5.6-.6l-1.1 1.4m4.9-1.4l-.5 1.4m12-1.4l-1.3 1.1m47.1-1.1l0 1.9m11.5-1.9l-.9 .9m8.5-.9l-.2 2m4.1-2l-.5 1m4.3-1l-1.3 1.1m5.1-1.1l.2 1.7m3.6-1.7l-1.3 .9m5.1-.9l-1.4 .3m5.3-.3l-1.6 .1m5.4-.1l-1.3 .1m5.1-.1l.2 1.9m3.6-1.9l-.2 1.3m4.1-1.3l-1.1 .3m4.9-.3l-1.6 0m5.4 0l-1.3 .4m5.1-.4l-.6 1.2m4.4-1.2l-.2 1.6m4.1-1.6l-1 1.1m4.8-1.1l.2 2m3.6-2l-1 1.1m4.8-1.1l-1.6 1m5.5-1l-.4 1.2m4.2-1.2l-.4 1.4m4.2-1.4l-.3 1.2m-240.5-4.2l-.9 1.2m4.7-1.2l-.7 1.2m4.5-1.2l-.3 1.3m4.2-1.3l-1.3 1.4m5.1-1.4l-1.8-.1m5.6 .1l-.9 1.7m4.7-1.7l-.5 1m4.4-1l-1.2 .9m5-.9l-1.5 1.1m5.3-1.1l-1.4 .1m5.2-.1l-.1 1.6m3.9-1.6l-.1 1.5m4-1.5l.1 1.4m3.7-1.4l-.1 1.4m3.9-1.4l-1.1-.1m4.9 .1l-.4 1.7m4.3-1.7l-1 1.3m4.8-1.3l-.6 1.3m4.4-1.3l-.9 1.1m4.7-1.1l-.8 .9m4.6-.9l-1.3 1.3m5.2-1.3l-.8 1.1m8.4-1.1l-1.5 .1m5.3-.1l-1.5 1.1m5.4-1.1l-1.5 1.1m5.3-1.1l-.8 1.2m39-1.2l-1.2 1m5-1l-.3 1.7m8-1.7l-1.3 1m5.1-1l-1.2 1.6m5-1.6l-1.3 1m5.1-1l-.6 1.4m4.5-1.4l-1.6 .6m5.4-.6l0 1.7m3.8-1.7l-1.1 1.3m4.9-1.3l-1.3 1.5m5.1-1.5l-1.4 1m5.3-1l-1.9-.3m5.7 .3l-.1 1.3m3.9-1.3l-1.6-.1m5.4 .1l-.8 1.6m4.7-1.6l-.5 1.4m4.3-1.4l-.9 1.5m4.7-1.5l-1.3 1.2m5.1-1.2l-.4 1.4m4.2-1.4l-.7 1.8m4.6-1.8l-.1 1.8m3.9-1.8l-1 .7m4.8-.7l-1.1 .8m4.9-.8l-.6 1.4m4.5-1.4l-1.1 1.4m4.9-1.4l-.3 1.4m4.1-1.4l.2 1.9m-241-4.9l-1.1 .7m4.9-.7l-.5 1m4.3-1l-1.8 .7m5.7-.7l-.5 1.2m4.3-1.2l-.4 1.1m4.2-1.1l-.9 1.6m4.7-1.6l-.6 1.2m4.5-1.2l.2 1.9m3.6-1.9l-1.1 .9m4.9-.9l-.6 1.3m4.4-1.3l-1.2 1.6m5-1.6l-.6 1.3m4.5-1.3l-.3 1.6m4.1-1.6l-.2 1.4m4-1.4l-1.3 .4m5.1-.4l.1 1.8m3.8-1.8l-1.1 .6m4.9-.6l-.2 2m4-2l-.8 1.3m4.6-1.3l0 1.3m3.8-1.3l-1.8 .3m5.7-.3l-.3 1.2m4.1-1.2l-.3 1.3m7.9-1.3l-.7 1m4.6-1l-1.3 1.2m58.6-1.2l-1.9-.1m5.7 .1l.2 1.3m3.6-1.3l-1.2 .7m5.1-.7l0 1.4m3.8-1.4l-1.4 1m5.2-1l-1.8 .5m5.6-.5l-.4 1.6m4.2-1.6l-1.5 1.2m5.4-1.2l-.6 1.9m4.4-1.9l-.3 1.4m4.1-1.4l-.9 .9m4.7-.9l-1.5 .9m5.4-.9l-.3 1.2m4.1-1.2l-1.4 1.4m5.2-1.4l-.1 1.1m3.9-1.1l-.9 .7m4.7-.7l-.8 1m4.7-1l-1.3 1.2m5.1-1.2l-.6 1m4.4-1l-1.2 .8m5-.8l-.7 1.3m4.6-1.3l-.9 1.6m4.7-1.6l-1.2 1.2m5-1.2l-1.1 1.2m-239.7-4.3l-1.1 .4m4.9-.4l-1.5 1.3m5.3-1.3l.1 1.1m3.8-1.1l-1 1.3m4.8-1.3l0 1.5m3.8-1.5l-1.7-.2m5.5 .2l-.5 1.5m4.4-1.5l-1.3 1.5m5.1-1.5l-1.4-.1m5.2 .1l-1.9 .1m5.7-.1l-.9 1.2m4.7-1.2l-.9 1.6m4.8-1.6l.1 1.8m3.7-1.8l-1.2 1.5m5-1.5l-.8 1.4m4.6-1.4l-.4 1.8m4.3-1.8l-1.1 .8m4.9-.8l-1.3 1.1m5.1-1.1l-.2 1.6m4-1.6l0 1.4m3.8-1.4l.2 1.5m3.7-1.5l-1.2 1.4m5-1.4l-1.3 1.3m5.1-1.3l-.3 1.3m11.8-1.3l-1.2 .9m5-.9l-1.3 .8m35.7-.8l-1.3-.1m5.1 .1l-.7 1.2m4.5-1.2l-1.1 .7m16.4-.7l-.1 1.2m4-1.2l-1.8 .2m5.6-.2l-.9 .7m4.7-.7l-.5 1.9m4.3-1.9l-1.3 1.3m5.1-1.3l-.8 1.7m4.7-1.7l-.9 .6m4.7-.6l-1.4-.2m5.2 .2l-.1 1.4m3.9-1.4l-.6 1.3m4.5-1.3l.1 1.8m3.7-1.8l-.5 1.1m4.3-1.1l0 1.2m3.8-1.2l-.7 1.5m4.5-1.5l-.8 .9m4.7-.9l-.3 1.4m4.1-1.4l-1.1 0m4.9 0l-.6 1.1m4.4-1.1l-1.2 1.1m5.1-1.1l-1.2 1.2m5-1.2l-1.7-.2m5.5 .2l-.8 1.4m-240-4.4l-1 1.5m4.8-1.5l-.7 1.5m4.5-1.5l-.9 1.7m4.8-1.7l-1 1.6m4.8-1.6l-.5 1m4.3-1l-.8 .8m4.6-.8l-.6 1.4m4.5-1.4l-2 .4m5.8-.4l-.9 .8m4.7-.8l.1 2m3.7-2l-.9 1.7m4.7-1.7l-1.9-.3m5.8 .3l-.6 1.4m4.4-1.4l-1 .8m4.8-.8l-.8 1.5m4.6-1.5l-.8 1m4.7-1l-1.9 .3m5.7-.3l-1.2 0m5 0l-1.5 1.2m5.3-1.2l-.6 1.4m4.4-1.4l-.6 1.2m4.5-1.2l-.6 .9m4.4-.9l-.2 1.4m4-1.4l-1 1.4m27.8-1.4l-.1 1.9m19.2-1.9l.1 1.9m7.5-1.9l-.1 1.6m3.9-1.6l-.5 1.2m15.8-1.2l-1 .6m4.9-.6l-1.1 1.6m4.9-1.6l-1 1.4m4.8-1.4l.2 1.9m3.6-1.9l0 1.4m3.8-1.4l-.3 1.3m4.2-1.3l-1.5-.2m5.3 .2l.2 1.8m3.6-1.8l-1.5 1.2m5.3-1.2l-1 1m4.9-1l-.5 1.5m4.3-1.5l-.9 1.1m4.7-1.1l-1.5 1.1m5.3-1.1l-1 1.2m4.8-1.2l-.4 1.4m4.3-1.4l-1.3 1.5m5.1-1.5l-1 1.5m4.8-1.5l-1.1 1.3m4.9-1.3l-.6 1.7m4.5-1.7l-.3 1.3m4.1-1.3l-1 .9m4.8-.9l-1.2 .4m-239.6-3.4l-1.6-.1m5.4 .1l-1.3 1m5.1-1l-.4 1.3m4.3-1.3l-1.1 1m4.9-1l-.9 1m4.7-1l-1.9 .5m5.7-.5l-1 .7m4.9-.7l-1.3 .5m5.1-.5l-.5 1.3m4.3-1.3l0 1.7m3.8-1.7l-.8 1.7m4.6-1.7l-1.8 .2m5.7-.2l-1.5 .1m5.3-.1l-.4 1.4m4.2-1.4l-.4 1.4m4.2-1.4l-.9 1.1m4.8-1.1l-2-.1m5.8 .1l-.3 1.3m4.1-1.3l-.9 .9m4.7-.9l-.9 1.7m4.7-1.7l-1.6 1.1m5.5-1.1l-.1 1.6m3.9-1.6l-.4 1.1m4.2-1.1l-.6 1.2m4.4-1.2l-1 .6m8.7-.6l-1.7-.2m5.5 .2l-1.9 .3m9.5-.3l-.2 2m30.8-2l-.6 1.3m4.4-1.3l0 1.2m15.3-1.2l-2 .1m5.9-.1l-1.9 .4m5.7-.4l0 1.7m3.8-1.7l-1 1.5m4.8-1.5l.1 1.7m3.7-1.7l-.3 1.1m4.2-1.1l-1.5 1.2m5.3-1.2l-1 1.3m4.8-1.3l.1 2m3.7-2l-.9 1.1m4.8-1.1l-.7 1.1m4.5-1.1l-1 1.4m4.8-1.4l-1.3 1.2m5.1-1.2l-1.7 .6m5.5-.6l-.7 1.5m4.6-1.5l-1.2 .8m5-.8l-1.2 .8m5-.8l-.4 1.8m4.2-1.8l-.6 1.9m4.5-1.9l-1.9 .2m5.7-.2l-.2 1.5m4-1.5l-.2 1.9m-240.6-4.9l-1.3 1.4m5.1-1.4l.2 1.9m3.6-1.9l-.7 1.8m4.6-1.8l-.6 1.6m4.4-1.6l-1 1.1m4.8-1.1l-.7 1.1m4.5-1.1l-.1 1.5m4-1.5l-1.5 1.2m5.3-1.2l-1.2 1.3m5-1.3l-1 1m4.8-1l-1.5-.2m5.3 .2l-.5 1m4.4-1l-.6 1.1m4.4-1.1l-1.2 1.5m5-1.5l-1 1.2m4.8-1.2l.1 1.4m3.8-1.4l-1.3 .5m5.1-.5l-1.5 1.2m5.3-1.2l-1.3-.1m5.1 .1l-1.7 1m5.5-1l-1.9 .3m5.8-.3l-.2 1.8m4-1.8l-1 .8m4.8-.8l-.8 1.1m31.4-1.1l-.5 1.9m4.3-1.9l-.3 1.8m4.1-1.8l-1.4 .4m9.1-.4l-.7 .9m12.1-.9l-1 1.3m8.7-1.3l-1.4 1m5.2-1l-.4 1.2m4.2-1.2l-.6 1.4m4.5-1.4l-.3 1.7m4.1-1.7l-1.2 1.3m5-1.3l-1.1 1.5m4.9-1.5l-.8 1.3m4.6-1.3l0 1.5m3.9-1.5l-.5 1.1m4.3-1.1l-.4 1.1m4.2-1.1l-1.6 0m5.4 0l-.1 1.8m4-1.8l-.1 1.2m3.9-1.2l-1.4 .2m5.2-.2l-1.8 .3m5.6-.3l-1.4 1.1m5.2-1.1l-1.5 1.1m5.4-1.1l-1 .8m4.8-.8l-1.3 1m5.1-1l-.1 1.2m3.9-1.2l-.3 1.9m4.2-1.9l-1 1.3m4.8-1.3l-.8 .8m4.6-.8l-1.9-.2m-238.9-2.8l-1 1.1m4.8-1.1l-.4 1.8m4.2-1.8l-.8 1.3m4.7-1.3l-1.1 .9m4.9-.9l-1.2 1.4m5-1.4l-.7 1.4m4.5-1.4l-.3 1.3m4.2-1.3l-1.6 1m5.4-1l-.8 1.1m4.6-1.1l.2 1.9m3.6-1.9l-.8 .9m4.6-.9l-1.5 .3m5.4-.3l-1 1.3m4.8-1.3l.3 1.9m3.5-1.9l-.1 2m3.9-2l-1.1 1m5-1l-.5 1.1m4.3-1.1l.1 1.5m3.7-1.5l-1.6 1.2m5.4-1.2l-.9 1m4.7-1l-1.2 .5m5.1-.5l-1.6 .3m5.4-.3l-1.1 1.2m4.9-1.2l-.9 1.5m4.7-1.5l-1.3 1m5.2-1l-.6 1.7m4.4-1.7l-1.2 .1m5-.1l-1.5-.2m13 .2l-.2 1.2m4-1.2l-1.8-.3m9.4 .3l-1.5 .5m13-.5l.2 1.9m3.6-1.9l-.5 1.4m12-1.4l-.6 1.5m4.4-1.5l.1 1.3m3.7-1.3l-.3 1.1m4.2-1.1l-.9 .7m4.7-.7l-1 1.4m4.8-1.4l-1 1.5m4.8-1.5l-1.8 .3m5.6-.3l-1.3 1.4m5.2-1.4l-.9 1.2m4.7-1.2l-.8 1.2m4.6-1.2l-1.2 1.1m5-1.1l-1.1 .7m5-.7l-1.3 .1m5.1-.1l-1.1 1.3m4.9-1.3l-.7 .9m4.5-.9l-.8 1.7m4.6-1.7l-.3 1.9m4.2-1.9l-.7 1.1m4.5-1.1l-1.1 1m4.9-1l-1.1 .8m4.9-.8l-.7 1.1m4.6-1.1l-.7 1.8m4.5-1.8l-.2 1.2m4-1.2l-.6 1.7m-240.2-4.8l-.9 1.6m4.7-1.6l-1.4 .5m5.2-.5l-.3 1.4m4.2-1.4l-.8 1.4m4.6-1.4l-.3 1.3m4.1-1.3l0 1.3m3.8-1.3l-1.3 1.3m5.2-1.3l-.8 .8m4.6-.8l-.2 1.2m4-1.2l-.3 1.6m4.1-1.6l-1 1.2m4.8-1.2l-.7 1.4m4.6-1.4l-.1 1.1m3.9-1.1l-.3 1.5m4.1-1.5l-.5 1.3m4.3-1.3l-1.9 .3m5.8-.3l-1.5 1.2m5.3-1.2l-.6 1.2m4.4-1.2l.2 1.8m3.6-1.8l0 1.2m3.8-1.2l-1 1.2m4.9-1.2l-1.8 .6m5.6-.6l-1.3 1m5.1-1l-.3 1.5m4.1-1.5l-.1 1.9m4-1.9l-.1 1.5m3.9-1.5l-.7 .9m19.8-.9l-1.3 .1m8.9-.1l-1.1 1.5m20.2-1.5l-1.2 .1m8.9-.1l-.5 1.9m4.3-1.9l-1 .7m4.8-.7l-1.5 .6m5.4-.6l-.5 1.4m4.3-1.4l-1.4 .9m5.2-.9l-1 1.1m4.8-1.1l-.5 1.8m4.3-1.8l-.4 1.9m4.3-1.9l-1.1 1.5m4.9-1.5l-1.2 1.6m5-1.6l-1.2 .9m5-.9l-1.3 1.4m5.2-1.4l-.8 1.3m4.6-1.3l.1 1.2m3.7-1.2l-1.5 1.3m5.3-1.3l.1 1.8m3.7-1.8l-1.1 1.5m5-1.5l-1.3 .5m5.1-.5l-1.6-.1m5.4 .1l-1.7 1.1m5.5-1.1l-.8 .7m4.7-.7l-.7 1.4m4.5-1.4l-.5 1m4.3-1l-.9 1.2m-239.9-4.2l-1.3 1.2m5.1-1.2l-1.3 .8m5.1-.8l-1.8 .1m5.7-.1l.1 1.1m3.7-1.1l-1 1m4.8-1l-1.5 .4m5.3-.4l.1 1.9m3.8-1.9l-.7 1.4m4.5-1.4l.2 1.5m3.6-1.5l-1.9 .1m5.7-.1l-1 .8m4.8-.8l-1 .6m4.9-.6l-.7 1.8m4.5-1.8l-1 .8m4.8-.8l-1.4 1.1m5.2-1.1l-1.4 .8m5.3-.8l-.3 1.4m4.1-1.4l-1.2 .4m5-.4l-.7 1.3m4.5-1.3l-1.6 .2m5.4-.2l-.1 1.9m4-1.9l-.6 1.3m4.4-1.3l-1.1 1.1m4.9-1.1l-1.2 1.1m5-1.1l-1.4 .9m5.3-.9l-1.1 .9m4.9-.9l-1.3 1.1m5.1-1.1l-.9 1.2m4.7-1.2l0 1.2m3.8-1.2l-.6 1.2m4.5-1.2l-1.4 1.2m31.9-1.2l-.5 1.3m4.4-1.3l-1.5 1.1m5.3-1.1l-.8 1.4m4.6-1.4l-1.6 .5m5.4-.5l-1 1m4.9-1l-.6 1.2m4.4-1.2l-.9 1.5m4.7-1.5l-1.3 .3m5.1-.3l-1.1 .9m4.9-.9l-1.2 .7m5.1-.7l-1.6-.3m5.4 .3l-1 .7m4.8-.7l-1.5 0m5.3 0l.2 1.8m3.7-1.8l-1.8 .2m5.6-.2l-.1 1.4m3.9-1.4l-1.5 .1m5.3-.1l-1.1 .9m4.9-.9l-1.7 0m5.6 0l-.2 1.8m4-1.8l-.1 1.4m3.9-1.4l.1 1.6m3.7-1.6l-1 .4m4.9-.4l-1.1 .7m4.9-.7l-1.5 1.3m5.3-1.3l-.5 1.1m-240.3-4.1l-2 .2m5.8-.2l-1.2 .9m5-.9l-1.3-.2m5.2 .2l-.7 1m4.5-1l-1 .9m4.8-.9l-1.2 .9m5-.9l-.7 .9m4.6-.9l-1.6 .5m5.4-.5l-.7 1.3m4.5-1.3l-1.8 .2m5.6-.2l-.2 1.1m4-1.1l-.7 1.4m4.6-1.4l-.9 1.3m4.7-1.3l-1.1 .8m4.9-.8l-1.3 .2m5.1-.2l-1.1 1m5-1l-.3 1.2m4.1-1.2l-1.2 .8m5-.8l-1.7-.3m5.5 .3l-1.3 .5m5.1-.5l-1.6 .4m5.5-.4l-.2 1.9m4-1.9l-.5 1.6m4.3-1.6l0 1.3m3.8-1.3l-.5 1.5m4.4-1.5l-1 1.7m4.8-1.7l-.1 1.6m3.9-1.6l.2 1.8m3.6-1.8l-1.7-.1m5.5 .1l-1.1 1.2m5-1.2l-1.8-.1m5.6 .1l-.8 1.7m12.3-1.7l-.3 1.3m4.1-1.3l-1.5 1m5.3-1l-.2 1.2m4-1.2l-1.2 1.1m5-1.1l-1.1 .3m5-.3l-1.4 1.4m5.2-1.4l-1.2 .9m5-.9l-1.6 .6m5.4-.6l-1.3 .8m5.2-.8l-.8 .8m4.6-.8l-.2 1.1m4-1.1l-.9 1m4.7-1l-1 1.1m4.8-1.1l-.5 1.5m4.4-1.5l-.7 1m4.5-1l-.5 1m4.3-1l-1.2 .8m5-.8l0 1.9m3.9-1.9l-.5 1.9m4.3-1.9l-1.9-.3m5.7 .3l-1.8 .1m5.6-.1l-1 .6m4.8-.6l0 1.2m3.9-1.2l.1 1.6m3.7-1.6l-.2 1.8m4-1.8l-.3 1.9m4.1-1.9l-1.2 .8m5.1-.8l-1.8-.2m5.6 .2l-1.4 1.1m5.2-1.1l-1.1 .3m-239.7-3.3l-.6 1.1m4.4-1.1l-1.7-.1m5.5 .1l-1.1 .3m5-.3l-1.5 1.4m5.3-1.4l-1 1.1m4.8-1.1l-1.2 1.4m5-1.4l-2-.2m5.9 .2l-1.7-.2m5.5 .2l-.1 1.5m3.9-1.5l-1 1.6m4.8-1.6l-.7 .8m4.5-.8l-.8 1.7m4.7-1.7l-1 1.4m4.8-1.4l-1.8 .1m5.6-.1l.1 1.9m3.7-1.9l0 1.6m3.9-1.6l-.2 1.2m4-1.2l-1.2 1.3m5-1.3l-.1 1.1m3.9-1.1l-1.7 0m5.5 0l-.4 1.1m4.3-1.1l-1.2 1m5-1l-.3 1.4m4.1-1.4l-1.1 1.7m4.9-1.7l-1.5 1.2m5.4-1.2l-.9 1m4.7-1l-.9 1m4.7-1l-1.1 1m4.9-1l-1 .6m4.8-.6l-1.7 1m5.6-1l-.8 .8m12.2-.8l-1.8 .1m5.7-.1l-1.1 1.1m4.9-1.1l-.4 1.1m4.2-1.1l-.8 1.1m4.6-1.1l-.9 .8m4.7-.8l-.9 .7m4.8-.7l-.2 1.4m4-1.4l-1.3 .8m5.1-.8l-.5 1.6m4.3-1.6l0 1.4m3.9-1.4l-1.5 .4m5.3-.4l-.8 1.5m4.6-1.5l.1 1.1m3.7-1.1l-1.1 1.6m4.9-1.6l-.5 1.8m4.4-1.8l-.6 1.7m4.4-1.7l-.7 1.6m4.5-1.6l-1.3 0m5.1 0l-1.3 1.4m5.2-1.4l-1.1 1.4m4.9-1.4l-.2 1.5m4-1.5l.1 1.5m3.7-1.5l-1.1 .7m4.9-.7l-1.4 1.2m5.3-1.2l-1.2 1.5m5-1.5l-1.5 1.3m5.3-1.3l-1.3 .5m5.1-.5l-1 .6m4.9-.6l-.4 1.9m4.2-1.9l-1.9-.1m5.7 .1l-1.4 .9m-239.4-4l-.9 1.1m4.7-1.1l-1.1 1.5m4.9-1.5l-.4 1.4m4.3-1.4l-1.5 .6m5.3-.6l-1.1 .6m4.9-.6l-.6 1.1m4.4-1.1l-1.4-.2m5.3 .2l-1.6 1.2m5.4-1.2l-.9 1.7m4.7-1.7l-.8 1.3m4.6-1.3l0 1.8m3.8-1.8l-.8 1.6m4.7-1.6l.1 1.1m3.7-1.1l.1 1.9m3.7-1.9l-.6 1.3m4.4-1.3l-.8 1.2m4.7-1.2l-.6 1.5m4.4-1.5l-1.1 1.4m4.9-1.4l-1.5 .9m5.3-.9l-1.2 1.2m5-1.2l-.1 1.8m4-1.8l-.1 1.8m3.9-1.8l0 1.9m3.8-1.9l.1 1.1m3.7-1.1l-.4 1.2m4.3-1.2l-.6 1.7m4.4-1.7l.2 1.7m3.6-1.7l-.9 1.4m4.7-1.4l-1.6 .4m5.4-.4l-1.1 1.5m5-1.5l-1.7 .2m5.5-.2l-.6 1.2m4.4-1.2l-.6 1.1m4.4-1.1l-1.3 .9m5.2-.9l-1.9-.3m5.7 .3l-.4 1.9m4.2-1.9l.1 1.8m3.7-1.8l.2 1.7m3.6-1.7l-.3 1.1m4.2-1.1l-1.8 .7m5.6-.7l-1.2-.1m5 .1l-.9 .7m4.7-.7l-.8 .9m4.7-.9l-.6 .9m4.4-.9l-1.2 1m5-1l-.6 1.2m4.4-1.2l-1 1.2m4.8-1.2l-1.1 .9m5-.9l-.6 1.3m4.4-1.3l.1 1.6m3.7-1.6l-.3 1.4m4.1-1.4l-.6 1.1m4.5-1.1l-1 1.7m4.8-1.7l-1 1.4m4.8-1.4l-1 .9m4.8-.9l-.7 1.4m4.5-1.4l-1.3 1.5m5.2-1.5l-.1 1.4m3.9-1.4l-.5 1.4m4.3-1.4l-1.1 1.6m4.9-1.6l-1 1.5m4.9-1.5l-2 .2m5.8-.2l-1.4 1.4m5.2-1.4l-1.4 1.1m-239.4-4.1l-1.4-.2m5.2 .2l0 1.5m3.8-1.5l-.2 1.6m4.1-1.6l-.4 1.7m4.2-1.7l.3 1.9m3.5-1.9l-.1 1.9m3.9-1.9l-1.3 .3m5.2-.3l-1 1.4m4.8-1.4l.1 1.2m3.7-1.2l-.5 1.1m4.3-1.1l-1.5 .5m5.3-.5l-1.9 0m5.8 0l-.4 1.8m4.2-1.8l-.5 1.4m4.3-1.4l-1.1 1.6m4.9-1.6l-1.2 .8m5.1-.8l-1.3 0m5.1 0l0 1.7m3.8-1.7l-.8 1.1m4.6-1.1l-1.4 1.3m5.2-1.3l-.9 .8m4.8-.8l-1.1 1.1m4.9-1.1l-.1 1.7m3.9-1.7l-1.5-.2m5.3 .2l-1.3 .9m5.2-.9l-1.6 .1m5.4-.1l-.2 1.7m4-1.7l-.9 1.7m4.7-1.7l-.5 1.3m4.3-1.3l.1 1.1m3.8-1.1l-1.4 .2m5.2-.2l-.7 1.3m4.5-1.3l-.7 1.2m4.5-1.2l-1.2 .4m5.1-.4l-1.3 .2m5.1-.2l-1.5 .2m5.3-.2l-1.1 .3m4.9-.3l-.7 1.2m4.5-1.2l-.7 1m4.6-1l-.2 1.8m4-1.8l-1.3 1.3m5.1-1.3l-1.1 .1m4.9-.1l-.4 1.3m4.3-1.3l-.4 1.6m4.2-1.6l-1 1.7m4.8-1.7l-.5 1.2m4.3-1.2l-1.1 .2m4.9-.2l-.9 .7m4.8-.7l-.3 1.5m4.1-1.5l-1.2-.2m5 .2l-.3 1.7m4.1-1.7l.2 1.8m3.7-1.8l.2 2m3.6-2l-.5 1.6m4.3-1.6l-1.3 .8m5.1-.8l-1.6 .3m5.4-.3l-.6 1.6m4.5-1.6l-.6 1.3m4.4-1.3l-1.2-.1m5 .1l-1.7 .2m5.5-.2l-1.2 1m5.1-1l-1.6 .2m5.4-.2l-1.5-.1m5.3 .1l-.2 1.3m-240.6-4.3l-1.4 0m5.2 0l-.3 1.9m4.1-1.9l-1.1 1m5-1l-.8 1.2m4.6-1.2l-1.2 .8m5-.8l-.5 1.8m4.3-1.8l-.9 1.2m4.8-1.2l.1 1.2m3.7-1.2l-.5 1m4.3-1l-.2 1.1m4-1.1l-1.5 .5m5.3-.5l-1.8 .5m5.7-.5l-.9 1.3m4.7-1.3l-1.3 .2m5.1-.2l-1.2 1.2m5-1.2l-1.5 1.3m5.4-1.3l-1.2 1.2m5-1.2l-.7 1.5m4.5-1.5l-1.2 .8m5-.8l-1 1m4.8-1l-1.5 .3m5.4-.3l-1.1 .9m4.9-.9l-.7 1.8m4.5-1.8l-1.6 1m5.4-1l.2 1.1m3.7-1.1l-1.1 1.3m4.9-1.3l-.7 1.1m4.5-1.1l-.9 .7m4.7-.7l-1.3 1.2m5.1-1.2l-.5 1.2m4.4-1.2l-1.2 0m5 0l-.5 1.1m4.3-1.1l-1.5 .5m5.3-.5l-1.6 .2m5.5-.2l-.5 1.1m4.3-1.1l-1.3 .3m5.1-.3l.2 1.2m3.6-1.2l-1.2 .3m5-.3l-.5 1m4.4-1l-1.1 .7m4.9-.7l-.8 .9m4.6-.9l-.2 1.4m4-1.4l-.6 1.7m4.5-1.7l-.9 1m4.7-1l-.8 1.3m4.6-1.3l-1.8-.2m5.6 .2l-1 1.2m4.8-1.2l-1.3 1.3m5.2-1.3l-1.1 1m4.9-1l-1.7 1m5.5-1l-1.1 .7m4.9-.7l-1.1 1m5-1l-.4 1.3m4.2-1.3l-.3 1.6m4.1-1.6l-1.1 .9m4.9-.9l-.8 1.4m4.6-1.4l-1 1.5m4.9-1.5l-.7 1.8m4.5-1.8l-1.2 .2m5-.2l-.7 1.5m4.5-1.5l-1.5 .9m5.4-.9l-.1 1.3m3.9-1.3l-.8 1.7m4.6-1.7l-1.3 1.3m-239.5-4.3l-.1 1.5m3.9-1.5l-.8 1.3m4.6-1.3l-.1 1.4m4-1.4l-1.4 .2m5.2-.2l-1.4-.1m5.2 .1l-.5 1.9m4.3-1.9l.1 1.6m3.8-1.6l0 1.5m3.8-1.5l-.9 1.4m4.7-1.4l-1.4-.2m5.2 .2l-.4 1.5m4.2-1.5l-1.1 .8m5-.8l-.4 1.9m4.2-1.9l-.7 1.8m4.5-1.8l-1.3 1.2m5.1-1.2l-1 1.3m4.9-1.3l-1.1 .8m4.9-.8l-.9 1m4.7-1l-.3 1.2m4.1-1.2l-.7 .9m4.5-.9l-1.6 1m5.5-1l-.2 1.8m4-1.8l0 1.3m3.8-1.3l0 1.5m3.8-1.5l-1.7 1m5.6-1l-1.1 1.2m4.9-1.2l-1.2 1.5m5-1.5l-.7 1.1m4.5-1.1l-1.7 .4m5.5-.4l-1.3 .8m5.2-.8l-1.1 1.1m4.9-1.1l-.3 1.3m4.1-1.3l-1.1 1.6m4.9-1.6l-.9 1.1m4.8-1.1l-.1 1.8m3.9-1.8l-.6 1m4.4-1l0 1.4m3.8-1.4l-1.2 .1m5-.1l-.9 1.7m4.8-1.7l-1.6 0m5.4 0l-.1 1.7m3.9-1.7l-.8 1.7m4.6-1.7l-.8 1.2m4.7-1.2l-1.5 0m5.3 0l-1.2 .9m5-.9l-.7 1.2m4.5-1.2l-.6 1.4m4.4-1.4l-1.2-.1m5.1 .1l0 1.2m3.8-1.2l-1.6 0m5.4 0l-.7 1.1m4.5-1.1l-.9 1m4.8-1l-.1 1.1m3.9-1.1l-.4 1.1m4.2-1.1l-.7 1.2m4.5-1.2l-.8 .8m4.6-.8l-1.1 1m5-1l-1.7-.2m5.5 .2l-.6 1.2m4.4-1.2l-1.5 .9m5.3-.9l.1 1.1m3.8-1.1l-1 1.1m4.8-1.1l-1 1.5m4.8-1.5l-.3 1.7m-240.5-4.7l-.9 1.3m4.7-1.3l-.9 1.4m4.7-1.4l-.1 1.4m4-1.4l-.6 1.2m4.4-1.2l-1.3 1.4m5.1-1.4l.1 1.8m3.7-1.8l-.9 .7m4.8-.7l-1 .7m4.8-.7l-.7 1.2m4.5-1.2l-1.3 .3m5.1-.3l0 1.7m3.8-1.7l-1.2 .2m5.1-.2l-1.4 .3m5.2-.3l-.9 1m4.7-1l-1.1 .1m4.9-.1l-1.7-.2m5.6 .2l-.6 1m4.4-1l-1.1 1.6m4.9-1.6l-1.1 0m4.9 0l-1.1 0m4.9 0l-.5 1.9m4.4-1.9l-.5 1m4.3-1l-.8 1.6m4.6-1.6l-1.3 1m5.1-1l-.6 1.3m4.5-1.3l-1.3 .8m5.1-.8l-1 .9m4.8-.9l-1.8 .2m5.6-.2l-1.7 1.1m5.5-1.1l-.5 1.3m4.4-1.3l-.5 1.2m4.3-1.2l-1.1 1.4m4.9-1.4l-.7 1.7m4.5-1.7l-1.8-.2m5.7 .2l.2 1.6m3.6-1.6l-.5 1.1m4.3-1.1l-.9 .9m4.7-.9l-.9 1.1m4.7-1.1l-1.7 0m5.6 0l0 2m3.8-2l-1.7 1m5.5-1l-.7 1.5m4.5-1.5l-.7 1m4.6-1l-.6 1.1m4.4-1.1l-1.6 .2m5.4-.2l-1.7-.1m5.5 .1l-.4 1.8m4.2-1.8l-1.2-.1m5.1 .1l.1 1.2m3.7-1.2l-1.4 .2m5.2-.2l-.8 1.6m4.6-1.6l-1.3 1m5.2-1l-.6 1m4.4-1l-.5 1.5m4.3-1.5l-.7 1m4.5-1l-1.2 1.2m5-1.2l-.9 1.5m4.8-1.5l-.6 1.4m4.4-1.4l-1.6 1.1m5.4-1.1l-.2 1.5m4-1.5l-.4 1.6m4.3-1.6l-1.8 .7m5.6-.7l-1.4 1.4m5.2-1.4l-2 .2m-238.8-3.3l-1.3 .2m5.1-.2l-.3 1.9m4.1-1.9l-1.5 1m5.4-1l0 2m3.8-2l-.3 1.1m4.1-1.1l-1.6 .1m5.4-.1l-.4 1.3m4.3-1.3l-1.3 0m5.1 0l-.2 1.1m4-1.1l-.2 1.2m4-1.2l-1.1 1.6m4.9-1.6l-.9 1.1m4.8-1.1l-1.9 0m5.7 0l-.2 1.5m4-1.5l-1.2 .9m5-.9l-1.3 0m5.2 0l-1.2-.1m5 .1l.1 1.6m3.7-1.6l-.9 1.6m4.7-1.6l-1.1 .4m4.9-.4l0 1.2m3.9-1.2l-1.2 .1m5-.1l-2-.2m5.8 .2l-1 .7m4.8-.7l-1 1.1m4.9-1.1l-.6 1.3m4.4-1.3l-.4 1.2m4.2-1.2l-.4 1.6m4.2-1.6l-.7 1m4.5-1l-.5 1.8m4.4-1.8l-.6 1m4.4-1l-1.2 .8m5-.8l-.8 1.8m4.6-1.8l-1.3 1.2m5.2-1.2l-1 1.1m4.8-1.1l-1.6 .4m5.4-.4l-.7 1.3m4.5-1.3l-1.2 1.5m5-1.5l-1.1 1m5-1l-1.2 1m5-1l-.5 1.9m4.3-1.9l-.7 1.6m4.5-1.6l-1.5 .3m5.4-.3l-.9 1.3m4.7-1.3l-1.2 1.4m5-1.4l-.9 1.3m4.7-1.3l-1.1 .1m4.9-.1l-.5 1m4.4-1l-1.3 .8m5.1-.8l-.8 1.2m4.6-1.2l-1 .7m4.8-.7l-1.5 .6m5.4-.6l-1.4 .8m5.2-.8l-.3 1.6m4.1-1.6l-.4 1.1m4.2-1.1l-1.1 .7m4.9-.7l-.4 1.7m4.3-1.7l-.6 1.1m4.4-1.1l-.7 1.1m4.5-1.1l-1.9-.2m5.7 .2l-.8 1.3m4.7-1.3l-.5 1m4.3-1l-1.7 .2m5.5-.2l-.8 1m-240-4l.2 1.6m3.6-1.6l-.3 1.7m4.1-1.7l-.8 1.3m4.7-1.3l-1.3 .9m5.1-.9l-.8 1.2m4.6-1.2l-1 .7m4.8-.7l-2 .3m5.9-.3l-.8 1.4m4.6-1.4l-1 .9m4.8-.9l-.3 1.1m4.1-1.1l-1.1 .9m4.9-.9l-1.2-.1m5.1 .1l-1.4 .1m5.2-.1l0 1.2m3.8-1.2l-.6 1.6m4.4-1.6l-.7 1.3m4.6-1.3l-1.3 .4m5.1-.4l-.8 1.1m4.6-1.1l-1.1 1.4m4.9-1.4l-1.5 0m5.3 0l-.5 1.8m4.4-1.8l-1.6-.3m5.4 .3l-.9 .9m4.7-.9l-1 .9m4.8-.9l-1.2 1.2m5.1-1.2l.2 1.7m3.6-1.7l-.5 1.5m4.3-1.5l-1.1 .8m4.9-.8l-1.8-.3m5.6 .3l-.2 1.4m4.1-1.4l-1.5 1.1m5.3-1.1l-1.6 0m5.4 0l-1 1.4m4.8-1.4l-.2 1.8m4.1-1.8l-.2 1.4m4-1.4l0 1.5m3.8-1.5l-.8 1.1m4.6-1.1l-1.4 .8m5.2-.8l-.9 1.3m4.8-1.3l-1 1m4.8-1l-.4 1.1m4.2-1.1l-.1 1.9m3.9-1.9l-.6 1.2m4.5-1.2l-1.3 .8m5.1-.8l-1.8-.3m5.6 .3l0 1.4m3.8-1.4l-1.1 1.2m4.9-1.2l-1.9-.3m5.8 .3l-.5 1m4.3-1l-1.5 1m5.3-1l-.2 1.3m4-1.3l-1.2 1.4m5.1-1.4l-1.4 1.3m5.2-1.3l-.6 1.1m4.4-1.1l-.5 1.5m4.3-1.5l0 2m3.8-2l-1.2 .8m5.1-.8l-1.8 .7m5.6-.7l-1.9 0m5.7 0l-.6 1.2m4.4-1.2l-.1 1.6m4-1.6l-.4 1.7m4.2-1.7l-1 1m4.8-1l-1.2 .2m-239.6-3.2l-1.4 1.2m5.2-1.2l-1.4 .1m5.2-.1l-.2 1.7m4.1-1.7l-.1 1.7m3.9-1.7l-.7 1.4m4.5-1.4l-.2 1.4m4-1.4l-1.1 .8m5-.8l-1.5 1m5.3-1l-.3 1.3m4.1-1.3l-.2 1.7m4-1.7l-1.1 1.1m4.9-1.1l-.8 .9m4.7-.9l-.8 .8m4.6-.8l-.2 1.8m4-1.8l-1.3-.2m5.1 .2l-1.2 .4m5.1-.4l.1 1.4m3.7-1.4l-1.2 1.3m5-1.3l-1 1.3m4.8-1.3l-1.1-.2m4.9 .2l0 1.4m3.9-1.4l-.1 1.7m3.9-1.7l-.3 1.4m4.1-1.4l-.6 1.7m4.4-1.7l-1.5 1.2m5.4-1.2l-1.5 0m5.3 0l-.5 1.9m4.3-1.9l-1.6 1.2m5.4-1.2l-.7 1.8m4.5-1.8l-.6 1.7m4.5-1.7l.1 1.4m3.7-1.4l-.6 1.4m4.4-1.4l0 1.4m3.8-1.4l-.9 1.1m4.8-1.1l-1.3 1m5.1-1l0 1.2m3.8-1.2l-1.9 .4m5.7-.4l-1.9 .2m5.7-.2l-.7 .9m4.6-.9l-1.4 .8m5.2-.8l-1.5 .6m5.3-.6l.2 1.7m3.6-1.7l-1.4 1.3m5.3-1.3l-1.6 .2m5.4-.2l-.9 .6m4.7-.6l-.8 1m4.6-1l-.8 1m4.6-1l-.7 1m4.6-1l-1.2 1.5m5-1.5l-.9 1.1m4.7-1.1l-2 0m5.8 0l-.8 .9m4.7-.9l-1.1 .8m4.9-.8l.1 1.7m3.7-1.7l-.7 1.1m4.5-1.1l-1 1.3m4.8-1.3l-.8 1.2m4.7-1.2l-1 .9m4.8-.9l-.2 1.3m4-1.3l-1.3 1m5.1-1l-.5 1.7m4.4-1.7l-.1 1.2m3.9-1.2l-.3 1.2m4.1-1.2l-1.8 .5m-239-3.5l-.1 1.8m3.9-1.8l0 1.8m3.8-1.8l-.4 1.5m4.3-1.5l-.1 1.3m3.9-1.3l-.9 .7m4.7-.7l-.7 1.1m4.5-1.1l-1 1.3m4.9-1.3l-.8 1.4m4.6-1.4l-1.4 .2m5.2-.2l-1.6 .6m5.4-.6l-.6 1m4.4-1l.2 1.9m3.7-1.9l-1.1 1.1m4.9-1.1l-.9 1.3m4.7-1.3l-1.3 .2m5.1-.2l-.8 1.6m4.7-1.6l-1.2 1.4m5-1.4l-1.6 0m5.4 0l-.7 1.2m4.5-1.2l.1 1.1m3.7-1.1l-1.1 .8m5-.8l-1.9 .5m5.7-.5l-.4 1.3m4.2-1.3l0 1.5m3.8-1.5l-.1 1.5m4-1.5l-1.9 .3m5.7-.3l-1.4 .9m5.2-.9l-1.4 1.2m5.2-1.2l-.9 1.5m4.7-1.5l-.4 1m4.3-1l-.6 1.2m4.4-1.2l-1 .6m4.8-.6l-1.6 .2m5.4-.2l-.3 1.1m4.2-1.1l-1.5 1m5.3-1l-.2 1.6m4-1.6l-1.2 .9m5-.9l-.7 1.2m4.5-1.2l0 1.4m3.9-1.4l.1 1.6m3.7-1.6l.1 2m3.7-2l-.8 1.3m4.6-1.3l-1.8 .5m5.7-.5l-.4 1.5m4.2-1.5l-1.2 .7m5-.7l0 1.9m3.8-1.9l-1 1m4.8-1l-.7 1.9m4.6-1.9l-.7 1m4.5-1l-.8 1.4m4.6-1.4l-2-.3m5.8 .3l-1.5-.2m5.4 .2l0 1.8m3.8-1.8l-.2 1.3m4-1.3l.1 1.2m3.7-1.2l-.1 1.6m3.9-1.6l-.4 1.1m4.3-1.1l-.4 1.4m4.2-1.4l-.8 .8m4.6-.8l-1.6 0m5.4 0l-.8 1.2m4.7-1.2l-1.6 1.1m5.4-1.1l-.6 1.5m4.4-1.5l-.5 1.3m-240.3-4.4l-1 .9m4.8-.9l-.8 1.8m4.6-1.8l-.2 1.5m4.1-1.5l-.8 1.2m4.6-1.2l-1.3 .7m5.1-.7l-1.5 1m5.3-1l-1.7 1m5.6-1l-.9 1.1m4.7-1.1l-1.5 1.3m5.3-1.3l-1 .6m4.8-.6l-.2 1.9m4-1.9l-1.2-.1m5.1 .1l-.2 1.1m4-1.1l-1 .8m4.8-.8l.2 1.7m3.6-1.7l-1.4 .9m5.3-.9l-.8 1.5m4.6-1.5l-1.4 1.2m5.2-1.2l-1.6 1m5.4-1l-.4 1.5m4.2-1.5l-.4 1.8m4.3-1.8l-1.7-.2m5.5 .2l-.5 1.4m4.3-1.4l-.2 1.7m4-1.7l.1 1.3m3.8-1.3l-.8 1.5m4.6-1.5l-.6 1.1m4.4-1.1l-.9 .8m4.7-.8l-1.3 1.3m5.1-1.3l-.1 1.3m4-1.3l0 1.8m3.8-1.8l-1.8-.3m5.6 .3l-1.2 .4m5-.4l0 1.6m3.9-1.6l-.3 1.2m4.1-1.2l-1.5-.2m5.3 .2l.1 1.4m3.7-1.4l.1 1.2m3.7-1.2l-.6 1.4m4.5-1.4l-1.5 1.2m5.3-1.2l-1.3 1.4m5.1-1.4l.2 1.8m3.6-1.8l-1.2 .9m5.1-.9l-.6 1.2m4.4-1.2l-1.5 1.2m5.3-1.2l-1.1 .9m4.9-.9l-.6 1.8m4.4-1.8l-1.3-.1m5.2 .1l-1.2 1.3m5-1.3l-1.3 0m5.1 0l-.9 1.8m4.7-1.8l-.8 1m4.7-1l-1 1m4.8-1l-.3 1.5m4.1-1.5l-.5 1.7m4.3-1.7l-.9 1.6m4.7-1.6l-1.2 .2m5.1-.2l-.6 1.9m4.4-1.9l-1.3 .1m5.1-.1l-1 1.1m4.8-1.1l-1.1 1.4m5-1.4l-.4 1.1m4.2-1.1l-1.1 0m4.9 0l-.4 1.5m-240.4-4.5l-.7 1.2m4.5-1.2l.1 1.2m3.7-1.2l-.2 1.6m4.1-1.6l-.9 1.4m4.7-1.4l-1.3 .9m5.1-.9l-1.1 1.7m4.9-1.7l-.9 1.6m4.8-1.6l-.7 .9m4.5-.9l-1.1 .9m4.9-.9l-1 1.2m4.8-1.2l-.2 1.7m4-1.7l-1.1 .7m5-.7l-1.1 .4m4.9-.4l-1.2 1m5-1l-.7 1.2m4.5-1.2l.2 1.9m3.7-1.9l-1.1 .7m4.9-.7l-.4 1.4m4.2-1.4l-1.1-.1m4.9 .1l-.9 .9m4.7-.9l0 1.8m3.9-1.8l-1.5-.1m5.3 .1l-1.2 .8m5-.8l-1.4 1.3m5.2-1.3l-.8 1.1m4.7-1.1l-.9 1.2m4.7-1.2l-.2 1.8m4-1.8l-.9 1.2m4.7-1.2l-.7 1.6m4.5-1.6l-1.3 .9m5.2-.9l-1.7 .2m5.5-.2l-1.1 .2m4.9-.2l-.7 1.1m4.5-1.1l-1.7 0m5.6 0l-.9 .8m4.7-.8l-.9 1.6m4.7-1.6l-1.2 1.1m5-1.1l-.9 .6m4.7-.6l-1 .8m4.9-.8l-1.1 1.2m4.9-1.2l-1.3 1.1m5.1-1.1l-1.3 .8m5.1-.8l-1.5 .2m5.4-.2l-1.3 1.5m5.1-1.5l.1 1.1m3.7-1.1l-1.1 .8m4.9-.8l-.3 1.7m4.1-1.7l-.9 1.3m4.8-1.3l.1 1.2m3.7-1.2l-.3 1.7m4.1-1.7l-1 1m4.8-1l-.1 1.5m4-1.5l-.1 1.2m3.9-1.2l-1.4 .9m5.2-.9l-1 1.1m4.8-1.1l0 1.3m3.8-1.3l-1.8 .3m5.7-.3l-.8 1.7m4.6-1.7l-1.7 .4m5.5-.4l-.5 1.5m4.3-1.5l-1.1 1.5m5-1.5l-.7 1.1m4.5-1.1l-.8 1.1m4.6-1.1l-1.3-.1m-239.5-2.9l-.9 1.3m4.7-1.3l-.8 .9m4.6-.9l-1 1m4.9-1l-1.2 .2m5-.2l-.8 .9m4.6-.9l-.9 1.4m4.7-1.4l-.8 1.5m4.7-1.5l-.7 1.8m4.5-1.8l-.2 2m4-2l-1.1 .9m4.9-.9l.1 1.2m3.7-1.2l-1.3 .9m5.2-.9l-.8 1.1m4.6-1.1l-1.2 1.3m5-1.3l-.1 1.7m3.9-1.7l-.3 1.1m4.2-1.1l-.4 1.4m4.2-1.4l-1.1 1.5m4.9-1.5l-.5 1.1m4.3-1.1l-.9 .7m4.7-.7l-1.4 1.2m5.3-1.2l-1 1.6m4.8-1.6l-.5 1.9m4.3-1.9l-1 1.2m4.8-1.2l-.9 1.6m4.8-1.6l-1.3 1.3m5.1-1.3l.2 1.4m3.6-1.4l.1 1.4m3.7-1.4l-.2 1.8m4-1.8l-.7 .9m4.6-.9l-1 1m4.8-1l-1.8-.2m5.6 .2l-1.1 1m4.9-1l-.2 1.3m4.1-1.3l-.3 1.7m4.1-1.7l0 1.7m3.8-1.7l.1 1.4m3.7-1.4l.1 1.4m3.7-1.4l.1 1.2m3.8-1.2l-.1 1.6m3.9-1.6l.1 1.2m3.7-1.2l-1.9-.2m5.7 .2l-.4 1.4m4.3-1.4l-1.1 1.3m4.9-1.3l-.6 1.5m4.4-1.5l-.8 1.8m4.6-1.8l-.9 .6m4.7-.6l-.8 1m4.7-1l-.3 1.6m4.1-1.6l.1 1.6m3.7-1.6l-.8 1.7m4.6-1.7l-.6 1m4.5-1l-1 1.2m4.8-1.2l-1.4 0m5.2 0l-.4 1m4.2-1l-1.6 1m5.4-1l-.9 1.2m4.8-1.2l-.5 1.1m4.3-1.1l-.1 1.2m3.9-1.2l-.5 1m4.3-1l-.3 1.4m4.2-1.4l-.7 1.7m4.5-1.7l-1.1 1.5m4.9-1.5l-.9 1.5m-239.9-4.5l-.7 1.5m4.5-1.5l-1.4-.2m5.2 .2l-1 .6m4.9-.6l-.6 1.9m4.4-1.9l-.3 1.1m4.1-1.1l-.3 1.7m4.1-1.7l-1.5 1.2m5.4-1.2l0 1.8m3.8-1.8l-1.1 1.1m4.9-1.1l-.9 1.3m4.7-1.3l-1.1 0m4.9 0l-.7 1.3m4.6-1.3l-1.9 .3m5.7-.3l-.8 .9m4.6-.9l-1 1.5m4.8-1.5l-.9 1m4.8-1l-1.1 1.3m4.9-1.3l-.8 1.5m4.6-1.5l-1.2 0m5 0l-1 1.4m4.8-1.4l-1.9 .2m5.8-.2l-.9 1.1m4.7-1.1l-1.2 1.2m5-1.2l-1 .6m4.8-.6l-2 0m5.9 0l-1.2 .3m5-.3l-.8 1.3m4.6-1.3l-1.4-.2m5.2 .2l.1 1.1m3.7-1.1l-.6 1.4m4.5-1.4l-1.5-.1m5.3 .1l-1.7-.2m5.5 .2l-1.1 1m4.9-1l-.3 1.7m4.2-1.7l-1.1 1m4.9-1l-1 1.3m4.8-1.3l-1.2 1m5-1l.2 1.3m3.6-1.3l-.1 1.4m4-1.4l-.5 1.3m4.3-1.3l.2 1.6m3.6-1.6l-1.2 .7m5-.7l-1 1.5m4.9-1.5l-.9 1.3m4.7-1.3l-1.5 .4m5.3-.4l-.6 1m4.4-1l-1.5 0m5.3 0l-.8 .8m4.7-.8l.1 1.9m3.7-1.9l-.5 1.4m4.3-1.4l-1.6 .1m5.4-.1l-.5 1.3m4.4-1.3l-.8 1.4m4.6-1.4l-1.9 .7m5.7-.7l-1.3 .9m5.1-.9l-1.9-.1m5.7 .1l-.9 1.1m4.8-1.1l-1.7 0m5.5 0l-1.2 1.4m5-1.4l-1.2 .7m5-.7l-1.1 1.3m5-1.3l-1.6 .4m5.4-.4l-.3 1.2m4.1-1.2l-1 1.3m-239.8-4.3l-1.2-.1m5 .1l-.7 1.2m4.5-1.2l-.6 1.8m4.5-1.8l-1.4 .8m5.2-.8l-.7 1m4.5-1l-1.7 .2m5.5-.2l-1.4 .2m5.3-.2l-1.4 1m5.2-1l-1.2 1.4m5-1.4l-1.4 .2m5.2-.2l-.9 .9m4.7-.9l-1.3 1.3m5.2-1.3l-1 1.2m4.8-1.2l-2 .3m5.8-.3l-1.2-.1m5 .1l-1.4-.1m5.3 .1l-.8 1.5m4.6-1.5l-.2 1.4m4-1.4l-1.4 1m5.2-1l-.6 1m4.4-1l-.9 1.4m4.8-1.4l.3 2m3.5-2l-1.3 1.4m5.1-1.4l-1.4 1.3m5.2-1.3l-.9 1.7m4.8-1.7l-1.6 1.1m5.4-1.1l-.9 1.3m4.7-1.3l-1.1 1.1m4.9-1.1l-1.4 .4m5.2-.4l-.7 .9m4.6-.9l-1.3-.1m5.1 .1l-1.3 1.1m5.1-1.1l-.5 1.3m4.3-1.3l.1 1.4m3.8-1.4l-1.2 1.4m5-1.4l-.6 .9m4.4-.9l-1.6 1.2m5.4-1.2l.1 1.8m3.7-1.8l-.4 1.1m4.3-1.1l-1.2 1.2m5-1.2l.1 1.5m3.7-1.5l-.9 1.2m4.7-1.2l-.9 .8m4.8-.8l-.2 1.8m4-1.8l-1.1 .8m4.9-.8l-.1 1.4m3.9-1.4l-.4 1.7m4.2-1.7l-.1 1.3m4-1.3l-.8 1.4m4.6-1.4l-1.2-.2m5 .2l.2 1.9m3.6-1.9l-1.8-.2m5.7 .2l-1 1.5m4.8-1.5l-.1 1.3m3.9-1.3l-1.6 1.2m5.4-1.2l.1 1.6m3.7-1.6l-2 0m5.9 0l-.9 .6m4.7-.6l-1.4 0m5.2 0l-.8 1m4.6-1l-1.2 .7m5.1-.7l-.6 .9m4.4-.9l0 1.4m3.8-1.4l-1.1 .6m-239.7-3.7l-1.7 .5m5.5-.5l-1.4 .5m5.2-.5l-.2 1.7m4.1-1.7l-.2 2m4-2l-.5 1.8m4.3-1.8l-1.2 .9m5-.9l-.9 1.2m4.8-1.2l-.7 1.2m4.5-1.2l0 1.2m3.8-1.2l-.8 1.2m4.6-1.2l-.3 1.1m4.1-1.1l-.1 1.7m4-1.7l-1.6 1.1m5.4-1.1l-.2 1.1m4-1.1l-.6 1.5m4.4-1.5l-.9 .9m4.8-.9l-.4 1.7m4.2-1.7l-.6 1.5m4.4-1.5l.2 1.9m3.6-1.9l-1 1.5m4.8-1.5l-1.5 1m5.4-1l-.5 1.7m4.3-1.7l-.9 1.3m4.7-1.3l-.9 .7m4.7-.7l-.6 1m4.5-1l-.9 1.2m4.7-1.2l-1.3 .9m5.1-.9l0 1.6m3.8-1.6l-1.1 1.5m4.9-1.5l-1.4 1.3m5.3-1.3l-.6 1.1m4.4-1.1l-.2 1.5m4-1.5l-.9 1.8m4.7-1.8l.1 1.6m3.8-1.6l-1.3 1.2m5.1-1.2l-.8 .8m4.6-.8l.1 1.2m3.7-1.2l-1.6-.3m5.4 .3l-1.4 .1m5.3-.1l-1.3 1.2m5.1-1.2l-1.8 .7m5.6-.7l-.8 1.2m4.6-1.2l-.1 1.8m4-1.8l-.5 1.1m4.3-1.1l-1 1.5m4.8-1.5l-1.5 .2m5.3-.2l0 1.6m3.8-1.6l-1.6 .1m5.5-.1l-1.5 1.1m5.3-1.1l-1.5 .9m5.3-.9l-1.7 .4m5.5-.4l-.2 1.9m4.1-1.9l-1 1.2m4.8-1.2l.2 1.5m3.6-1.5l-.9 .9m4.7-.9l-.2 1.4m4-1.4l-1 .7m4.9-.7l-1.1 0m4.9 0l-.3 1.3m4.1-1.3l-.8 1.1m4.6-1.1l-1.2 .9m5.1-.9l-.8 1.6m4.6-1.6l-.2 1.7m4-1.7l-.7 1.4m-240.1-4.4l-.3 1.1m4.1-1.1l-.5 1.7m4.3-1.7l0 1.6m3.9-1.6l-.2 1.4m4-1.4l-.4 1.9m4.2-1.9l-.2 1.5m4-1.5l.1 1.3m3.8-1.3l-.5 1.5m4.3-1.5l-1.5 1m5.3-1l-.5 1.6m4.3-1.6l.1 1.2m3.7-1.2l-.7 1.9m4.6-1.9l-1 .9m4.8-.9l-1.1 1.2m4.9-1.2l-1.1 .2m4.9-.2l-1.3 1.2m5.2-1.2l-1.2 .3m5-.3l.2 1.4m3.6-1.4l-1.1 .7m4.9-.7l.2 1.8m3.6-1.8l0 1.1m3.9-1.1l-.8 .9m4.6-.9l-1.3 1.4m5.1-1.4l-.7 1.6m4.5-1.6l-.6 1.4m4.5-1.4l.1 1.4m3.7-1.4l-1 .6m4.8-.6l-1.1 1.6m4.9-1.6l-1 .7m4.8-.7l-1.3 .2m5.2-.2l.1 1.5m3.7-1.5l-1 1.7m4.8-1.7l-1.3 1.5m5.1-1.5l-.7 1.4m4.6-1.4l.1 1.4m3.7-1.4l-1 1.3m4.8-1.3l-.9 .6m4.7-.6l-1.2 1.4m5-1.4l-.3 1.3m4.2-1.3l-1 .9m4.8-.9l-1.3 .4m5.1-.4l-1.5 1m5.3-1l0 1.6m3.9-1.6l-.5 1.4m4.3-1.4l-1.7 .1m5.5-.1l-1 1.6m4.8-1.6l-1 1.5m4.8-1.5l0 1.7m3.9-1.7l-1.3-.1m5.1 .1l-.9 1.6m4.7-1.6l-.6 1.5m4.4-1.5l-.3 1.6m4.2-1.6l-.5 1m4.3-1l-1.7 1m5.5-1l.2 1.9m3.6-1.9l-1 .9m4.8-.9l-.9 .7m4.8-.7l-.5 1.1m4.3-1.1l-1.4 .5m5.2-.5l-.9 1.3m4.7-1.3l-1.4 .3m5.3-.3l-.3 1.7m4.1-1.7l-1.2 1.2m5-1.2l-.8 1.2m-240-4.2l-2 .2m5.8-.2l0 1.9m3.8-1.9l-1.3 1.4m5.2-1.4l-1.5 1.3m5.3-1.3l-1.3 1.4m5.1-1.4l-1.3 1m5.1-1l-1.1 .7m5-.7l-1.2 .8m5-.8l-.7 1.7m4.5-1.7l-1 1.4m4.8-1.4l-1.5 .9m5.3-.9l-1.2 1.3m5.1-1.3l-.6 1.3m4.4-1.3l-.7 1.5m4.5-1.5l-.7 1.2m4.5-1.2l-1.2 1m5.1-1l0 1.1m3.8-1.1l-1.2 1.5m5-1.5l-1.1 .9m4.9-.9l-.5 1.5m4.3-1.5l-1.6 .3m5.5-.3l-.1 2m3.9-2l-.1 1.1m3.9-1.1l-1.2 1m5-1l-.7 1.6m4.6-1.6l-.1 1.6m3.9-1.6l-1.3 1.1m5.1-1.1l-.6 1.6m4.4-1.6l-.1 1.4m3.9-1.4l-1.8 .6m5.7-.6l-.8 1.4m4.6-1.4l-1.5 .4m5.3-.4l-1.5 .5m5.3-.5l-1.5 0m5.4 0l-.9 1.3m4.7-1.3l-1.4 .3m5.2-.3l-.7 .9m4.5-.9l-.9 .8m4.7-.8l-.9 .8m4.8-.8l-1.3 1.2m5.1-1.2l-.9 1.5m4.7-1.5l-.9 1.2m4.7-1.2l-.9 .7m4.8-.7l-1.2 1m5-1l-1 1.4m4.8-1.4l-1.4 1.3m5.2-1.3l-.5 1.6m4.3-1.6l-1.4 1.4m5.3-1.4l-.3 1.3m4.1-1.3l-.3 1.6m4.1-1.6l-.5 1.8m4.3-1.8l-1.6 .6m5.5-.6l-.6 1.6m4.4-1.6l.1 1.9m3.7-1.9l-.7 .8m4.5-.8l-2 .2m5.8-.2l-.3 1.9m4.2-1.9l.2 1.5m3.6-1.5l-.7 .8m4.5-.8l-.9 .7m4.7-.7l-1.1 1.2m5-1.2l-.5 1.6m4.3-1.6l-1.4 1m5.2-1l-1.5 .5m-239.3-3.5l-1 1.5m4.8-1.5l-1 1.1m4.8-1.1l-1 .8m4.9-.8l-.7 .9m4.5-.9l-1.9 .3m5.7-.3l-1.1 .4m4.9-.4l-1.3 .9m5.2-.9l-.7 1.6m4.5-1.6l.1 1.5m3.7-1.5l-1.2-.2m5 .2l-.5 1m4.3-1l-.3 1.9m4.2-1.9l-1.5 .9m5.3-.9l-.8 1m4.6-1l-.3 1.4m4.1-1.4l-.5 1.3m4.4-1.3l-.8 1.4m4.6-1.4l-.8 1.6m4.6-1.6l-1.7 0m5.5 0l-.6 1.1m4.4-1.1l-1 .6m4.9-.6l-.9 .7m4.7-.7l-1.3 .2m5.1-.2l-.5 1.7m4.3-1.7l-.3 1.4m4.2-1.4l-.2 1.7m4-1.7l.2 1.4m3.6-1.4l-1.5 .3m5.3-.3l-1.5 0m5.3 0l-1.5 .5m5.4-.5l-.9 1.1m4.7-1.1l-1.7 .6m5.5-.6l-.7 .9m4.5-.9l-.5 1.1m4.4-1.1l-.1 1.9m3.9-1.9l-1.9 .5m5.7-.5l-.3 1.6m4.1-1.6l-.2 1.3m4-1.3l-1 1.5m4.9-1.5l-.6 1.5m4.4-1.5l-1.2 .8m5-.8l0 1.4m3.8-1.4l-1.1-.1m5 .1l-.9 .7m4.7-.7l-.9 .7m4.7-.7l-1 .6m4.8-.6l-.2 1.2m4-1.2l-.5 1.9m4.4-1.9l-.5 1.6m4.3-1.6l.2 1.7m3.6-1.7l-.9 1.5m4.7-1.5l-1.6-.2m5.5 .2l0 1.7m3.8-1.7l-1.8 .4m5.6-.4l-.3 1.5m4.1-1.5l-1.1 .7m4.9-.7l-1.6-.2m5.5 .2l-.9 .7m4.7-.7l-1.3-.2m5.1 .2l-.4 1.9m4.2-1.9l.1 1.9m3.8-1.9l-.9 1.6m4.7-1.6l-.4 1.6m4.2-1.6l-.9 1.2m-239.9-4.3l-.1 1.8m3.9-1.8l-1 .8m4.8-.8l-1 .9m4.9-.9l-1.2 1.1m5-1.1l-.4 1.6m4.2-1.6l-.4 1.5m4.2-1.5l.1 1.1m3.8-1.1l-1.1 .2m4.9-.2l-.8 .8m4.6-.8l-1.1 .7m4.9-.7l-1 1.3m4.8-1.3l-1.4 1.1m5.3-1.1l-.1 1.7m3.9-1.7l-1 .7m4.8-.7l-.4 1.7m4.2-1.7l-1.8-.2m5.7 .2l-.8 .9m4.6-.9l-.7 1.3m4.5-1.3l-.8 1m4.6-1l-1.6 .4m5.4-.4l-.8 1.2m4.7-1.2l-1.4 1.2m5.2-1.2l-.8 1.3m4.6-1.3l-1.4 1.4m5.2-1.4l-1.5 1.3m5.4-1.3l-.7 1.8m4.5-1.8l-.9 .7m4.7-.7l-.3 1.4m4.1-1.4l.1 1.7m3.7-1.7l-.6 1.7m4.5-1.7l-1 1.2m4.8-1.2l-1.1 1.4m4.9-1.4l-1.7 0m5.5 0l-1 .7m4.9-.7l-1.1 .9m4.9-.9l-.9 1m4.7-1l-.3 1.7m4.1-1.7l0 1.8m3.8-1.8l-.5 1.1m4.4-1.1l-.9 1.7m4.7-1.7l-.1 1.7m3.9-1.7l-1.4 .1m5.2-.1l-1.9 .7m5.8-.7l-1.8 .4m5.6-.4l-1.1 1.5m4.9-1.5l-1.2 .8m5-.8l-.4 1.1m4.2-1.1l-.4 1.4m4.3-1.4l.1 1.2m3.7-1.2l-.6 1.8m4.4-1.8l-1.7-.2m5.5 .2l-1.8 .2m5.7-.2l-1.6 0m5.4 0l-1 1.5m4.8-1.5l-.2 1.4m4-1.4l-.5 1.5m4.3-1.5l-1.1 1.6m5-1.6l-.1 1.5m3.9-1.5l-.9 .8m4.7-.8l.2 1.9m3.6-1.9l-.8 1.6m4.7-1.6l-1 .9m4.8-.9l-.1 1.8m3.9-1.8l.1 1.7m-240.9-4.7l0 1.4m3.8-1.4l-.9 1.4m4.7-1.4l-.7 1.7m4.6-1.7l-.5 1.4m4.3-1.4l-1.6-.3m5.4 .3l-1 .7m4.8-.7l-.5 1.2m4.4-1.2l-.7 1.3m4.5-1.3l-1.5 1m5.3-1l-.2 1.2m4-1.2l-.6 1.8m4.4-1.8l.2 1.9m3.7-1.9l-1.7 0m5.5 0l-1.6 1.2m5.4-1.2l-1.2 .4m5-.4l-.8 1.3m4.7-1.3l-1 .6m4.8-.6l-1.9 .4m5.7-.4l-1.7 .2m5.5-.2l-1.9-.2m5.7 .2l-1.6 1.1m5.5-1.1l-1.6 0m5.4 0l-1.4 .1m5.2-.1l-.8 1m4.6-1l-1.5 .9m5.4-.9l-.1 1.6m3.9-1.6l0 1.1m3.8-1.1l-.7 1.1m4.5-1.1l0 1.2m3.8-1.2l-1 1.3m4.9-1.3l-.4 1.2m4.2-1.2l-.8 .8m4.6-.8l-1.7 .7m5.5-.7l-.7 1.3m4.6-1.3l-1.3 .1m5.1-.1l-.7 1m4.5-1l-.3 1.2m4.1-1.2l.2 1.7m3.6-1.7l-.3 1.6m4.2-1.6l-1.6 1m5.4-1l0 2m3.8-2l-1.1 .7m4.9-.7l-.6 1.1m4.5-1.1l-2-.1m5.8 .1l.1 1.7m3.7-1.7l-.1 1.5m3.9-1.5l-.7 1.8m4.5-1.8l-1.3 1.1m5.2-1.1l-.1 1.4m3.9-1.4l-.3 1.8m4.1-1.8l-1.2 1.6m5-1.6l-1.1 1.5m5-1.5l-1.6-.1m5.4 .1l-.6 1m4.4-1l-1.4 1m5.2-1l0 1.1m3.8-1.1l-.2 1.3m4.1-1.3l-1.3 .1m5.1-.1l-1.4 0m5.2 0l-.2 1.2m4-1.2l-1.7-.2m5.6 .2l-.2 1.3m4-1.3l-.8 1.6m4.6-1.6l-.4 1.2m-240.4-4.2l-.3 1.8m4.1-1.8l-.2 1.2m4-1.2l0 1.6m3.9-1.6l-1.3 1.2m5.1-1.2l-1 1.1m4.8-1.1l-1.1 .8m4.9-.8l-1.3 .9m5.2-.9l.1 1.2m3.7-1.2l-1.1 1.2m4.9-1.2l-.4 1.2m4.2-1.2l-.6 1m4.4-1l-.5 1.2m4.4-1.2l-1.2 .8m5-.8l-1.7-.1m5.5 .1l-.8 1.4m4.6-1.4l-1.1 1.1m5-1.1l-1.3 .2m5.1-.2l-1.6 .6m5.4-.6l-1.7 .6m5.5-.6l-1 1m4.8-1l-.3 2m4.2-2l0 1.4m3.8-1.4l-1.1 1.3m4.9-1.3l-1.2 .1m5-.1l-.2 1.6m4.1-1.6l-.6 1m4.4-1l-1.5 1.3m5.3-1.3l-1.2 1m5-1l-1 1.1m4.8-1.1l-1.7 1m5.6-1l-1.5 .9m5.3-.9l-1 .8m4.8-.8l-1.4 .8m5.2-.8l-1.9-.3m5.8 .3l-.6 1.2m4.4-1.2l.2 2m3.6-2l-2 0m5.8 0l-.2 1.2m4-1.2l-1.4 .2m5.3-.2l-.2 1.6m4-1.6l-1.1 1m4.9-1l-1.5 1.1m5.3-1.1l.1 1.4m3.8-1.4l-1 1.3m4.8-1.3l-.4 1.9m4.2-1.9l-.3 1.4m4.1-1.4l-1.7 .6m5.5-.6l.1 1.8m3.8-1.8l-1.2-.1m5 .1l-1.6 .5m5.4-.5l-1.2 .2m5-.2l-1.2 .9m5.1-.9l.1 1.2m3.7-1.2l-1.2 1.5m5-1.5l-1 1.1m4.8-1.1l-1 .6m4.8-.6l-.5 1.3m4.4-1.3l-1.4 .5m5.2-.5l-.4 1.2m4.2-1.2l-1.2 1.4m5-1.4l-1.1 1.3m5-1.3l-.4 1.6m4.2-1.6l-1.6 .4m5.4-.4l.2 1.8" stroke="#3b8bd0" stroke-width="0.75" opacity="0.6" fill="none"/><path d="M520.6 460.1l-.4 .5m4.2-.5l-.2 .9m4-.9l-.3 .5m4.1-.5l.1 .6m3.8-.6l-.5 .5m-18.7-3.6l-.4 .4m4.3-.4l-.5 .4m4.3-.4l-.7 .2m4.5-.2l-.8 .5m4.6-.5l-.6 .4m4.5-.4l-.4 .8m4.2-.8l-.5 .8m-22.5-3.8l-.6 .1m4.5-.1l-.4 .5m4.2-.5l-.6 .8m4.4-.8l-.3 .6m4.1-.6l-.8 .5m4.7-.5l-.7 .1m4.5-.1l-.9 .1m-22.1-3.1l-.3 .5m4.2-.5l0 .6m3.8-.6l-.7 .3m4.5-.3l-.1 .9m3.9-.9l-.3 .9m4.2-.9l-.5 .8m4.3-.8l-.6 .5m-22.4-3.5l-.2 .8m4.1-.8l-.8 0m4.6 0l-.6 .7m4.4-.7l0 .6m3.8-.6l-.4 .7m4.3-.7l-.7 .7m4.5-.7l-.4 .9m-18.7-4l-.9-.1m4.7 .1l-.1 .6m3.9-.6l-.3 .6m4.1-.6l-.1 .7m4-.7l-1 .2m-10.5-3.2l.1 1m3.7-1l-.4 .6m4.2-.6l0 .6" stroke="#3b8bd0" stroke-width="0.5" opacity="0.12" fill="none"/><path d="M524.4 484.2l-.4-1.6m-7.3-1.4l0 2.4m3.9-2.4l1-.7m18.1 .7l-1.5 2m-25.3-5l-.3-1.3m11.8 1.3l1-.8m6.6 .8l1.5 1.6m2.4-1.6l-3.1-1m10.7 1l-.6 1.1m-26.2-4.1l3.2-1.2m.7 1.2l-1.9-1.8m9.5 1.8l-.5 1.6m4.3-1.6l-2.1 1.9m9.8-1.9l-.2 1.3m4-1.3l-1.1 .5m4.9-.5l-.2 1.9m4-1.9l-1-2.5m-33.4-.6l2.9 .7m8.6-.7l-3.8 .3m11.5-.3l-1.9-.5m9.5 .5l.4 1.7m7.2-1.7l-.4-1.9m4.3 1.9l1.6 .3m-55.1-3.3l1.2 2.1m2.6-2.1l3.1 1.6m.7-1.6l-.7 1.2m8.3-1.2l-3.9-.3m11.6 .3l-2.5 .7m6.3-.7l.3-3.2m3.5 3.2l-3.6-2.4m7.5 2.4l-1.1 1m4.9-1l-1.3 2.2m5.1-2.2l-1.6-1.1m9.2 1.1l.6 .9m-50.2-3.9l-2.3-.3m6.1 .3l-1.4-3.5m5.2 3.5l.3 3.8m15-3.8l1.2-1.8m2.6 1.8l-2.4-3.4m6.2 3.4l2.4-.2m1.5 .2l-.7-4m19.8 4l.8-1.1m-62-1.9l-.2-1.7m7.9 1.7l-.1-1.9m11.5 1.9l3.4 1.4m.4-1.4l.8 2.9m6.9-2.9l-1.7-2.7m5.5 2.7l1.4-1.6m10.1 1.6l2.5-4.6m1.3 4.6l4.3 1.4m3.3-1.4l-1.5 .8m5.4-.8l2 2.2m1.8-2.2l1.6-2m-55.1-1l1.6-1.1m2.2 1.1l3.9 .7m-.1-.7l1.1 4.5m2.7-4.5l-4.5 1.1m27.5-1.1l-4.3 1.6m11.9-1.6l4.1-2.1m-.3 2.1l3.4 1.5m.5-1.5l-.2-1.6m7.8 1.6l2.4-1.7m-75-1.4l-1 0m8.6 0l1 2.3m2.9-2.3l2.4 1.7m5.2-1.7l-4.1 .9m38.5-.9l.4-1.8m3.4 1.8l-1.1 1.6m4.9-1.6l-1.4-.1m12.9 .1l-1-.6m4.8 .6l-1 .9m-71.6-3.9l-2.7-1.2m6.5 1.2l-1 1.8m8.7-1.8l.4 1.4m3.4-1.4l1.5 4.1m2.3-4.1l-1.3-2.2m31.9 2.2l-2.1 1.2m9.7-1.2l3.3-2.6m.6 2.6l-3.1 2.6m10.7-2.6l.7 .7m-73.3-3.7l0 2.4m19.1-2.4l.4-2.6m3.4 2.6l4.1-2m34.1 2l2.4-.6m-59.7-2.4l-.6-1.8m12.1 1.8l-3.5 .1m7.3-.1l-4.3 2.6m8.1-2.6l3.4 1.3m27.2-1.3l3.5-3.2m.3 3.2l-3.6-.1m7.4 .1l.8 4.4m3.1-4.4l-.7-1.8m-56.7-1.3l-1.5-1.5m5.4 1.5l-3.3-1m14.7 1l2.2 2.4m1.6-2.4l.7 3m22.3-3l3.2 .3m12.1-.3l0-1.6m3.8 1.6l1.5-2.1m2.3 2.1l-2.1 .5m-62.9-3.5l.8-1.7m3.1 1.7l-2.2-.4m6 .4l-1.9 .1m5.7-.1l-2.5-.8m6.3 .8l-2.8-.6m6.6 .6l1.5 .7m17.7-.7l-5.4 1m13-1l-.3-1.7m11.8 1.7l-1.5 1.3m5.3-1.3l.1 2.3m3.7-2.3l.5-1.9m-61.6-1.1l-2.3 1.2m13.7-1.2l2.8 3.4m4.9-3.4l-1.1-4m4.9 4l-3-3.6m6.8 3.6l-1 2.4m4.8-2.4l2.6 2.5m1.3-2.5l1.8-1.3m2 1.3l-1.9 1.6m5.7-1.6l-.5 4m12-4l1.7-1m2.1 1l-3-.7m6.8 .7l1.3-1.2m-66.3-1.8l-1.2 .2m5.1-.2l-.4-2.1m4.2 2.1l-2.9 0m6.7 0l1-1.1m2.8 1.1l-1.6 .9m5.4-.9l1.9-3.1m2 3.1l3-.6m12.3 .6l-3.5-1.7m11.1 1.7l-2.5 .5m6.3-.5l1.7-2.6m6 2.6l-.3 1m-41.8-4l-2.3 2.7m6.1-2.7l2.5 3.1m9-3.1l-.6-3.8m8.3 3.8l1.3-.6m2.5 .6l.8 1.7m10.6-1.7l.4-1.4m3.5 1.4l-1-1.2m-44.9-1.9l.5-2.4m3.3 2.4l2.1-.3m1.7 .3l-1.9 1.8m5.8-1.8l-.7-3.3m8.3 3.3l3.1 1.4m4.6-1.4l1.7-1.3m2.1 1.3l.8-3m3 3l-1.9 2.1m5.7-2.1l-.5 1.1m8.2-1.1l-2.5 .7m-28.1-3.7l-.6-1.2m4.4 1.2l-2 1.7m5.8-1.7l2.6-1.5m1.3 1.5l-1.4-1.9m5.2 1.9l1.9-.3m1.9 .3l2.7-1.2m1.1 1.2l-.9-.9m-18.2-2.1l.6 .9m3.2-.9l.6 1m-8.2-4l-1.3 .4m5.1-.4l-.9-1.4" stroke="#2e7fc6" stroke-width="0.6" opacity="0.7" fill="none"/><path d="M524.1 483.3l-.2-.6m-7.1 0l0 .9m4.4-2.8l.4-.3m17.2 2l-.6 .8m-25.5-5.9l-.1-.5m12.4 .8l.4-.3m7.5 1.8l.6 .6m.5-2.2l-1.2-.4m10.3 1.6l-.2 .4m-24.2-4.8l1.2-.5m-.5 .2l-.7-.7m9.2 2.8l-.2 .6m3-.4l-.8 .7m9.7-1.1l-.1 .5m3.3-1.1l-.4 .2m4.8 .8l-.1 .7m3.4-3.5l-.4-.9m-31.6-.1l1.1 .3m6.3-.6l-1.4 .1m10.1-.5l-.7-.2m9.8 1.5l.1 .6m7.1-2.8l-.2-.7m5.3 2l.6 .1m-54.4-2l.4 .8m4.6-1.1l1.2 .6m.3-.8l-.3 .5m5.9-1.5l-1.5-.1m10 .8l-1 .3m6.6-2.7l.1-1.2m1.3 1.6l-1.4-.9m6.7 3l-.4 .4m4.2 .4l-.5 .8m4.1-2.8l-.6-.4m9.6 1.6l.2 .3m-51.7-4.1l-.9-.1m5.3-1.9l-.5-1.3m5.4 5.9l.1 1.4m15.8-4.9l.5-.7m1-.3l-.9-1.3m7.7 3.3l.9-.1m1-2.3l-.3-1.5m20.4 3.3l.3-.4m-62.1-2.9l-.1-.6m7.8 .4l-.1-.7m13.7 2.7l1.3 .5m1 .5l.3 1.1m5.8-4.6l-.6-1m6.3 1.7l.5-.6m11.6-1.3l1-1.7m3.9 5.4l1.6 .5m2.5-.8l-.6 .3m6.6 .6l.8 .8m2.8-3.5l.6-.8m-54.1-1.6l.6-.4m4.6 1.5l1.5 .3m.6 2.1l.4 1.7m-.1-3.8l-1.7 .4m24.8-.1l-1.6 .6m14.5-2.9l1.6-.8m1.7 3l1.3 .6m.3-2.5l-.1-.6m9.4 .5l.9-.7m-75.7-1.3l-.4 0m9.4 1.5l.4 .9m4.2-1.3l.9 .7m2.8-1.2l-1.6 .3m38.8-2l.2-.7m2.6 2.8l-.4 .6m4-1.7l-.6-.1m12.4-.1l-.4-.2m4.2 1.1l-.4 .3m-73.3-4.7l-1-.5m5.9 2.4l-.4 .7m8.9-.9l.1 .5m4.4 1.1l.6 1.6m1.5-5.4l-.5-.8m30.6 2.9l-.8 .5m11.8-2.9l1.2-1m-1.3 4.2l-1.2 1m11.1-2.1l.3 .3m-73.3-2.3l0 .9m19.4-4l.2-1m5.9 1.4l1.6-.8m35.5 1.6l.9-.2m-60.1-3.5l-.2-.7m9.9 1.9l-1.3 .1m4.6 1.4l-1.6 1m10.2-1.8l1.3 .5m29.4-3.3l1.3-1.2m-1.9 3.1l-1.4 0m7.9 2.8l.3 1.7m2.7-5.6l-.2-.7m-57.7-2.1l-.6-.6m3.3 1l-1.3-.4m16.2 2.5l.8 .9m2.1-.6l.3 1.2m24.1-2.9l1.2 .1m12.2-1.3l0-.6m4.7 .4l.6-.8m1 2.4l-.8 .2m-62.3-4.6l.3-.7m1.6 1.5l-.9-.2m4.9 .5l-.7 .1m4.1-.7l-1-.3m4.7 .5l-1.1-.2m7.6 1l.6 .3m14.2-.2l-2 .4m12.8-2.1l-.1-.7m10.8 2.6l-.6 .5m5.4 .2l0 .9m4.1-3.6l.2-.7m-63-.4l-.9 .4m15.4 1l1.1 1.3m4.2-5.9l-.4-1.5m3 1.7l-1.2-1.4m6.3 5.2l-.4 .9m6.5-.8l1 1m2.3-3.4l.7-.5m.8 2.3l-.7 .6m5.4 .9l-.2 1.5m13-4.6l.7-.4m.2 .6l-1.1-.3m7.6 0l.5-.4m-67-1.8l-.4 .1m4.7-1.6l-.2-.8m2.5 2.2l-1.1 0m7.3-.7l.4-.4m1.8 1.6l-.6 .3m6.6-2.7l.7-1.2m3.8 2.7l1.1-.2m10.2-.5l-1.3-.6m9.6 2l-.9 .2m7.3-2.1l.6-1m5.8 3.2l-.1 .4m-43.2-2.4l-.9 1m7.7-.7l.9 1.2m8.7-5.5l-.2-1.4m8.9 3.4l.5-.2m3.1 1.6l.3 .7m10.9-2.6l.2-.5m2.7 .6l-.4-.4m-44.5-3.3l.2-.9m4.6 2.2l.8-.1m.5 1.3l-.7 .7m5.3-3.8l-.3-1.3m10.3 4.2l1.2 .5m5.6-2.2l.6-.5m2.7-.5l.3-1.1m1.8 4.3l-.7 .8m5.4-1.5l-.2 .4m6.6-.7l-1 .3m-28.4-4.4l-.2-.4m3.2 2.2l-.7 .7m7.3-2.7l1-.6m.4 .3l-.5-.7m6.4 1.7l.7-.1m3.6-.4l1-.4m.6 .6l-.3-.3m-17.9-1.6l.2 .3m3.6-.3l.2 .4m-9-3.8l-.5 .2m4.5-1.3l-.3-.5" stroke="#2e7fc6" stroke-width="1.1" opacity="0.4" fill="none"/>
<rect x="375.8" y="656.6" width="301" height="238" fill="none" stroke="#b4b4b4" stroke-width="0.9"/>
<text x="375.8" y="902.9" text-anchor="middle" class="S">-0.5</text>
<text x="373" y="897.1" text-anchor="end" class="S">-0.5</text>
<text x="405.9" y="902.9" text-anchor="middle" class="S">0</text>
<text x="373" y="873.3" text-anchor="end" class="S">0</text>
<text x="436" y="902.9" text-anchor="middle" class="S">0.5</text>
<text x="373" y="849.5" text-anchor="end" class="S">0.5</text>
<text x="466.1" y="902.9" text-anchor="middle" class="S">1</text>
<text x="373" y="825.7" text-anchor="end" class="S">1</text>
<text x="496.2" y="902.9" text-anchor="middle" class="S">1.5</text>
<text x="373" y="801.9" text-anchor="end" class="S">1.5</text>
<text x="526.3" y="902.9" text-anchor="middle" class="S">2</text>
<text x="373" y="778.1" text-anchor="end" class="S">2</text>
<text x="556.4" y="902.9" text-anchor="middle" class="S">2.5</text>
<text x="373" y="754.3" text-anchor="end" class="S">2.5</text>
<text x="586.5" y="902.9" text-anchor="middle" class="S">3</text>
<text x="373" y="730.5" text-anchor="end" class="S">3</text>
<text x="616.6" y="902.9" text-anchor="middle" class="S">3.5</text>
<text x="373" y="706.7" text-anchor="end" class="S">3.5</text>
<text x="646.7" y="902.9" text-anchor="middle" class="S">4</text>
<text x="373" y="682.9" text-anchor="end" class="S">4</text>
<text x="676.8" y="902.9" text-anchor="middle" class="S">4.5</text>
<text x="373" y="659.1" text-anchor="end" class="S">4.5</text>
<path d="M405.9 894.6v-2.4M405.9 656.6v2.4M375.8 870.8h2.4M676.8 870.8h-2.4M436 894.6v-2.4M436 656.6v2.4M375.8 847h2.4M676.8 847h-2.4M466.1 894.6v-2.4M466.1 656.6v2.4M375.8 823.2h2.4M676.8 823.2h-2.4M496.2 894.6v-2.4M496.2 656.6v2.4M375.8 799.4h2.4M676.8 799.4h-2.4M526.3 894.6v-2.4M526.3 656.6v2.4M375.8 775.6h2.4M676.8 775.6h-2.4M556.4 894.6v-2.4M556.4 656.6v2.4M375.8 751.8h2.4M676.8 751.8h-2.4M586.5 894.6v-2.4M586.5 656.6v2.4M375.8 728h2.4M676.8 728h-2.4M616.6 894.6v-2.4M616.6 656.6v2.4M375.8 704.2h2.4M676.8 704.2h-2.4M646.7 894.6v-2.4M646.7 656.6v2.4M375.8 680.4h2.4M676.8 680.4h-2.4" stroke="#b4b4b4" stroke-width="0.8" fill="none"/>
<path d="M405.9 870.8l-2.2 1.5m10-1.5l-.1 3m7.8-3l-2.5 1.5m10.3-1.5l-1.4 2.7m9.2-2.7l-3.7 .4m11.4-.4l-.1 3.1m7.9-3.1l-.8 3.2m8.6-3.2l-2.3 2.1m10-2.1l.4 3.7m7.4-3.7l.3 3.4m7.5-3.4l-2.4 1.8m10.1-1.8l-3.1-.2m10.9 .2l-2.6 1.9m10.4-1.9l-3.2 .5m10.9-.5l-1.8 2.1m9.6-2.1l-3.7-.3m11.5 .3l-2.1 3.2m9.9-3.2l.4 3.4m7.3-3.4l-.7 3.5m8.5-3.5l-2.9 1.9m10.7-1.9l-.3 2.4m8-2.4l-.1 2.7m7.9-2.7l-1.5 2.6m9.3-2.6l.1 3.2m7.6-3.2l-2.3 1.8m10.1-1.8l-1.6 3.5m9.4-3.5l-.9 2.6m8.6-2.6l-2.3 1.8m10.1-1.8l-2.1 2.8m9.9-2.8l-1.9 3m9.6-3l-2.4 .5m10.2-.5l-1.2 2.3m-239.6-8.4l-2.8 .7m10.6-.7l-3.2 2.1m10.9-2.1l-1 3.3m8.8-3.3l-2.8 .1m10.6-.1l-3.2 2.2m10.9-2.2l-.8 2.9m8.6-2.9l-.3 3.3m8.1-3.3l-2.3 2.4m10-2.4l-3.2 2m11-2l-2.9-.2m10.7 .2l-2.8 2.2m10.5-2.2l0 3.1m7.8-3.1l-2.7 2.4m10.5-2.4l-1.9 2m9.6-2l-2.5 0m10.3 0l-3 .7m10.8-.7l-3.7-.2m11.5 .2l-.9 2.8m8.6-2.8l-1.9 2.5m9.7-2.5l-2.9-.3m10.7 .3l-1.2 2.8m8.9-2.8l-1.7 3.1m9.5-3.1l-3.5 1m11.3-1l-3.5 1.1m11.2-1.1l-1.7 1.4m9.5-1.4l-1.2 2.3m9-2.3l-1.4 2.3m9.1-2.3l-1.9 3.4m9.7-3.4l-.1 2.4m7.9-2.4l-.3 3.8m8-3.8l-.2 3.6m8-3.6l-1.5 3.1m-239.3-9.3l-2.3 1.8m10.1-1.8l-1.9 3.3m9.6-3.3l-3.4 .6m11.2-.6l-3.2 1m11-1l-1.1 3.6m8.8-3.6l-2.8-.2m10.6 .2l-2.2 .4m10-.4l-3.6 0m11.3 0l0 2.7m7.8-2.7l-.7 3.9m8.5-3.9l-.1 3.9m7.8-3.9l-1.4 1.9m9.2-1.9l-2.8 .5m10.6-.5l-.5 3.4m8.2-3.4l-1.5 2.5m9.3-2.5l-3.6 .9m11.4-.9l-2.8-.4m10.6 .4l-.3 3.6m8-3.6l-.9 3.2m8.7-3.2l-3.3 .5m11.1-.5l-1.1 2.2m8.8-2.2l-.1 3.3m7.9-3.3l-1.8 2.1m9.6-2.1l-3.3 2.3m11-2.3l-2.2 .2m10-.2l-1.7 3.3m9.5-3.3l-.4 2.9m8.1-2.9l-1.5 1.7m9.3-1.7l-1.7 2.8m9.5-2.8l-1.7 2m9.4-2l-.9 3.4m8.7-3.4l-.8 2.3m-240-8.4l-.7 2.2m8.5-2.2l-.3 2.7m8-2.7l-2.6-.4m10.4 .4l-2.3 3m10.1-3l-3.4 .1m11.1-.1l-.4 2.4m8.2-2.4l-2.4 1.6m10.2-1.6l-1.4 2.8m9.1-2.8l.2 3.9m7.6-3.9l-.2 2.2m8-2.2l-3.6-.5m11.3 .5l-1.1 2.6m8.9-2.6l.2 2.2m7.6-2.2l-1.9 3.3m9.6-3.3l-.7 2.3m8.5-2.3l-.8 2.2m8.6-2.2l-2.9 .5m10.7-.5l-3.5 1.2m11.2-1.2l-1.1 3.6m8.9-3.6l-.8 2.2m8.6-2.2l-.4 2.2m8.1-2.2l-3.2 2.3m11-2.3l-1.8 2.3m9.6-2.3l-2.6 .4m10.3-.4l-1.6 2.4m9.4-2.4l-.6 2.9m8.4-2.9l-1 3.3m8.7-3.3l-1.5 1.9m9.3-1.9l-2.8 .4m10.6-.4l-.2 2.7m7.9-2.7l-3.1 0m10.9 0l-.1 3.7m-240.7-9.9l-.7 3m8.5-3l-3.6 1.3m11.3-1.3l-1.8 1.5m9.6-1.5l-2.4 2.9m10.2-2.9l0 3.4m7.7-3.4l-.3 2.9m8.1-2.9l-2.5 1.6m10.3-1.6l-3.8 1.3m11.5-1.3l-2.5 .4m10.3-.4l-.4 2.3m8.2-2.3l-2.8 .2m10.5-.2l-2.9 2.7m10.7-2.7l-2.5 0m10.3 0l-1.7 2.9m9.4-2.9l-1.1 2.4m8.9-2.4l0 2.9m7.8-2.9l-3 2.2m10.8-2.2l.3 2.3m7.4-2.3l-3.7-.2m11.5 .2l-3.2 .4m11-.4l-.9 2.1m8.6-2.1l-1.2 2.2m9-2.2l0 3.7m7.8-3.7l-1.7 3.3m9.4-3.3l-3.4-.4m11.2 .4l-1.3 2.9m9.1-2.9l-2.5 2.7m10.2-2.7l-.2 3.2m8-3.2l-2.3 1.7m10.1-1.7l-3.7-.1m11.4 .1l.4 3.4m7.4-3.4l-2.6 1.7m-238.2-7.8l-2.3 1.8m10.1-1.8l-2.5 2.9m10.2-2.9l-.9 3m8.7-3l-1.8 1.5m9.6-1.5l-1.5 1.9m9.2-1.9l-1.6 2.9m9.4-2.9l-2.1 1.4m9.9-1.4l-1.9 2.5m9.6-2.5l-2.3 1.6m10.1-1.6l-3.7-.1m11.5 .1l-2.3 1.9m10-1.9l-1.6 2.1m9.4-2.1l.1 2.2m7.7-2.2l-1.7 3.3m9.4-3.3l-1 2.2m8.8-2.2l-2 3.2m9.8-3.2l-2.6 3m10.4-3l-1 2.8m8.7-2.8l-3.9 0m11.7 0l-2 2.1m9.8-2.1l.4 3.5m7.3-3.5l-1.1 2.4m8.9-2.4l-1.2 3.2m9-3.2l-.4 3.3m8.1-3.3l-2.3 3.3m10.1-3.3l-1.9 2.1m9.7-2.1l-1.6 2.1m9.3-2.1l-1.6 2.4m9.4-2.4l-1.3 3m9.1-3l-3.7 .5m11.4-.5l-2 1.9m9.8-1.9l.4 2.7m-241.2-8.9l-3.3 1.1m11.1-1.1l-1 2.1m8.7-2.1l-3 2.4m10.8-2.4l-.7 2.7m8.5-2.7l-2.5 2.5m10.2-2.5l-1 2.1m8.8-2.1l-2.5 .7m10.3-.7l-1.6 1.9m9.3-1.9l-2.4 .3m10.2-.3l-2.2 2.2m10-2.2l-1.9 1.8m9.6-1.8l-1.7 2.8m9.5-2.8l-3.2 2.3m11-2.3l-3.4 1.2m11.1-1.2l-1.3 2.8m9.1-2.8l-2.2 .7m10-.7l-.7 2.2m8.5-2.2l-2 1.6m9.7-1.6l-1.5 2.1m9.3-2.1l-1 3.6m8.8-3.6l-1.7 2.6m9.4-2.6l-3 2.1m10.8-2.1l-2.4-.1m10.2 .1l-2.4 2.6m10.1-2.6l-2.5 2.1m10.3-2.1l-2 2.3m9.8-2.3l-1.2 2.7m8.9-2.7l-1.1 1.9m8.9-1.9l-1.2 3.2m9-3.2l-1.5 2.4m9.2-2.4l-1.2 1.9m9-1.9l-4 .1m-236.8-6.2l-2.3 3m10.1-3l-1.4 2.5m9.1-2.5l-3.2 1.9m11-1.9l-1.6 1.6m9.4-1.6l-1.7 2.7m9.4-2.7l-2.1 1.8m9.9-1.8l-2.6 2.7m10.4-2.7l-1.6 2.5m9.3-2.5l-.4 3.5m8.2-3.5l-3.2-.1m11 .1l.3 2.8m7.4-2.8l-2.5 .4m10.3-.4l-1.4 3m9.2-3l-2.8 1m10.5-1l-2.7 1.9m10.5-1.9l-.8 2.6m8.6-2.6l-1.5 3m9.3-3l-3.2 .9m10.9-.9l.2 2.3m7.6-2.3l-3.4 .9m11.2-.9l-1.4 2.6m9.1-2.6l-2.5 2.5m10.3-2.5l-2.5 1.5m10.3-1.5l-1.9 3m9.6-3l-2.3 1.8m10.1-1.8l-1.8 3.2m9.6-3.2l-1.7 2.4m9.4-2.4l-2.5-.3m10.3 .3l-2.4 3.1m10.2-3.1l-3 .3m10.7-.3l-.9 2.8m8.7-2.8l-1.7 3.4m-239.1-9.5l-2 2.8m9.8-2.8l-2.7-.1m10.4 .1l-1.5 3.4m9.3-3.4l-2.5 2.5m10.3-2.5l-3 2.1m10.7-2.1l-3.9-.1m11.7 .1l-2.2 .4m10-.4l-.5 2.8m8.2-2.8l-2.5 3m10.3-3l-1 2.6m8.8-2.6l-2.8 .8m10.5-.8l-2.2 2.7m10-2.7l-1.3 1.8m9.1-1.8l-1.4 2.6m9.1-2.6l-1.6 1.6m9.4-1.6l-2.2 2m10-2l.4 3.3m7.4-3.3l.3 2.5m7.4-2.5l-1.6 1.7m9.4-1.7l-3.2-.2m11 .2l-2.3 .4m10-.4l-1.4 2.2m9.2-2.2l-2 3.4m9.8-3.4l-.7 2.3m8.4-2.3l-2.3 2.4m10.1-2.4l-2.1 1.4m9.9-1.4l-.3 3.2m8-3.2l-2.7 .2m10.5-.2l-1.9 3.3m9.7-3.3l-.6 3.2m8.3-3.2l-.9 3.9m8.7-3.9l-.9 2.5m-239.9-8.7l-3.9 .2m11.7-.2l-.5 2.7m8.2-2.7l-2.6 2.9m10.4-2.9l-2.1 2.2m9.9-2.2l-3.7 1.3m11.4-1.3l-2.9 1.7m10.7-1.7l-1 3.5m8.8-3.5l-2.4 2.8m10.1-2.8l.1 3m7.7-3l-1.8 2m9.6-2l-.9 2.1m8.6-2.1l-.7 3.2m8.5-3.2l-3.1 2.2m10.9-2.2l-.6 3.6m8.3-3.6l-2 1.5m9.8-1.5l.4 3.4m7.4-3.4l-1.7 2.9m9.5-2.9l-2.1 2.1m9.8-2.1l-1.1 2.6m8.9-2.6l-2.2 1.4m10-1.4l-4-.2m11.7 .2l-.1 2.6m7.9-2.6l-1 3.1m8.8-3.1l-2.3-.3m10 .3l-1.9 1.2m9.7-1.2l-2.3 3m10.1-3l-.6 3.8m8.3-3.8l-.2 3m8-3l-2.6 1.7m10.4-1.7l-3 2.6m10.7-2.6l-3.3 .2m11.1-.2l-2.4 .4m-238.4-6.5l.2 2.3m7.6-2.3l.3 2.6m7.4-2.6l-1.4 2.2m9.2-2.2l-3.1 .4m10.9-.4l-1.1 2.2m8.8-2.2l-2.9 2.7m10.7-2.7l-1.4 2.1m9.2-2.1l-3 2.6m10.7-2.6l-2.8 2.7m10.6-2.7l-2 2.4m9.8-2.4l-2.7-.2m10.4 .2l-1.7 1.8m9.5-1.8l-.6 2.3m8.4-2.3l-2.4 .8m10.1-.8l-2.1 2.1m9.9-2.1l-1.8 3.4m9.6-3.4l-1.4 1.9m9.2-1.9l-3 .2m10.7-.2l-1.5 1.8m9.3-1.8l-1.4 1.8m9.2-1.8l-1.6 2.6m9.3-2.6l.2 2.8m7.6-2.8l-2.9 2m10.7-2l-1.6 2.6m9.3-2.6l0 3.2m7.8-3.2l-.9 2.2m8.7-2.2l.3 3.8m7.4-3.8l-1.5 2m9.3-2l.2 2.8m7.6-2.8l-1.3 3.4m9-3.4l-1.4 3.3m9.2-3.3l-2.5 1.9m-238.3-8.1l-2 1.7m9.8-1.7l-1.9 3.3m9.6-3.3l-2.5 2.5m10.3-2.5l-2.6 .1m10.4-.1l-1.9 2.6m9.6-2.6l-.8 3m8.6-3l-.6 2.8m8.4-2.8l-.7 3.4m8.4-3.4l-2.1 1.9m9.9-1.9l0 3.6m7.8-3.6l-.9 3.5m8.6-3.5l-3.4 0m11.2 0l-.1 2.8m7.9-2.8l-.1 3.8m7.8-3.8l-.9 2.6m8.7-2.6l-2.3 1.6m10.1-1.6l-3.7 1.2m11.5-1.2l-1.7 2.8m9.4-2.8l-.5 2.5m8.3-2.5l-1.9 2m9.7-2l-2.1 2.7m9.8-2.7l-2.1 2.9m9.9-2.9l.3 3.4m7.5-3.4l.2 3.7m7.5-3.7l-1.5 2.6m9.3-2.6l-2.6-.4m10.4 .4l-2.6 1.5m10.3-1.5l-.4 2.7m8.2-2.7l-1.3 2m9.1-2l-3.1 1.1m10.8-1.1l-2.6 2.3m10.4-2.3l-2.7 2.2m-238.1-8.3l-3.1 .4m10.9-.4l-2.5 2.4m10.2-2.4l-1.9 1.4m9.7-1.4l-.2 2.2m8-2.2l-2.2 1.7m9.9-1.7l-2.3 .1m10.1-.1l-2.7 2.1m10.5-2.1l-2.2 1.3m9.9-1.3l-1.6 1.7m9.4-1.7l-1.5 3.2m9.3-3.2l-2.8 2.8m10.5-2.8l-2.2 1.6m10-1.6l-2.2 1.8m10-1.8l-2.9 2m10.6-2l-.7 2.2m31.8-2.2l-.5 3.5m8.3-3.5l-1.6 1.8m9.4-1.8l-1.9 1.6m9.6-1.6l-3.7 0m11.5 0l-2 1.9m9.8-1.9l-2.6 .9m10.3-.9l-1 2.1m8.8-2.1l-1.5 1.7m9.3-1.7l-2.8-.4m10.5 .4l-.3 3.6m8.1-3.6l-.3 3.5m8.1-3.5l-2.5 2.3m10.2-2.3l-1.4 2.5m9.2-2.5l.1 3.7m-240.9-9.8l-3 .9m10.8-.9l-.6 2.5m8.3-2.5l-1.4 1.7m9.2-1.7l-3 .9m10.8-.9l-2.9 0m10.6 0l-1.6 2.1m9.4-2.1l-2.3-.4m10.1 .4l.2 3.4m7.5-3.4l-2.4 .2m10.2-.2l-2.4 2.8m10.2-2.8l-2.9 2m10.6-2l.2 2.2m62-2.2l-1.9 1.6m9.7-1.6l-2.6 .1m10.3-.1l-.9 2.1m8.7-2.1l-2.7 2.2m10.5-2.2l-1.6 2.3m9.3-2.3l-3.8-.1m11.6 .1l-1.6 3.2m9.4-3.2l-1.5 1.8m9.2-1.8l-.7 3.6m8.5-3.6l-.5 2.3m8.3-2.3l-1.8 2.2m9.5-2.2l.1 3.6m7.7-3.6l-2.1 .7m-238.7-6.9l-1.3 2.1m9.1-2.1l-3.4 .5m11.1-.5l-1 3.5m8.8-3.5l-2.3 2.6m10.1-2.6l-3.7 1.2m11.4-1.2l0 2.9m7.8-2.9l-2.2 2.7m10-2.7l.3 2.2m7.4-2.2l-2.5 1.7m10.3-1.7l-.6 3m8.4-3l-2.3 2.7m10-2.7l.2 3.5m77.5-3.5l-1 2.6m8.8-2.6l-3 2.4m10.8-2.4l-3.2-.1m10.9 .1l-1.1 2.2m8.9-2.2l-1.5 3.3m9.3-3.3l-1 2.6m8.7-2.6l-3.5 .2m11.3-.2l-1.8 1.4m9.6-1.4l-3.6-.5m11.3 .5l-3.8 .8m11.6-.8l-1.3 1.9m-239.5-8l-3.1-.5m10.9 .5l-1.5 3.1m9.2-3.1l-2.6 1.7m10.4-1.7l-2.6 .3m10.4-.3l-2.2 1.4m9.9-1.4l-2.1 1.3m9.9-1.3l-.4 3.1m8.2-3.1l-2 1.2m9.7-1.2l-1.8 1.6m9.6-1.6l-.9 3.1m8.7-3.1l-2.6 2.4m80.3-2.4l-.5 3.7m8.2-3.7l-1.2 3.8m9-3.8l-1.2 2.8m9-2.8l-.6 2.1m8.3-2.1l-1.5 1.9m9.3-1.9l-.7 2.9m8.5-2.9l-4-.3m11.7 .3l-3.7-.5m11.5 .5l-3 2.4m10.8-2.4l-3 .1m10.7-.1l-1.6 1.8m9.4-1.8l-3.2 1m-237.6-7.2l-.8 2.5m8.6-2.5l-1.7 1.7m9.4-1.7l-2.3 2.3m10.1-2.3l.1 2.4m7.7-2.4l-2 1.6m9.7-1.6l-2.4 2.7m10.2-2.7l-.9 3.2m8.7-3.2l-3.6 .4m11.3-.4l.3 3.2m7.5-3.2l-1.2 2.7m9-2.7l-1 2.9m8.7-2.9l-.3 3.9m85.8-3.9l-3.7 .3m11.5-.3l0 3.7m7.7-3.7l-3.6-.5m11.4 .5l-1.7 2m9.5-2l-2 2.5m9.7-2.5l-.1 3.8m7.9-3.8l-1.3 3.3m9.1-3.3l.4 2.9m7.3-2.9l-3.1 2.2m10.9-2.2l-1.3 1.8m-239.5-7.9l-2.5 1m10.3-1l-2.5 1.4m10.2-1.4l-.7 2.7m8.5-2.7l-2.5 2.6m10.3-2.6l-1.3 2.7m9-2.7l-2.1 3.3m9.9-3.3l-2.4 1.5m10.2-1.5l-.1 3.9m7.8-3.9l-3.8-.3m11.6 .3l-2.6 2m10.4-2l-2.7 2m10.4-2l-1.3 2.7m79-2.7l-2.5 2.4m10.3-2.4l-1 2.2m8.8-2.2l-2.2 1.9m9.9-1.9l-2.6 2.1m10.4-2.1l.1 2.3m7.7-2.3l-2.5 3m10.2-3l-.4 2.9m8.2-2.9l-2.4 .8m10.2-.8l-.3 3.9m8-3.9l-.6 3.4m8.4-3.4l-.7 3.6m-240.1-9.8l-.5 2.4m8.3-2.4l-3.9-.6m11.6 .6l-1.8 2.2m9.6-2.2l-3.4-.6m11.2 .6l-1.8 2.1m9.5-2.1l-.2 2.2m8-2.2l-2 3.2m9.8-3.2l-1.5 1.9m9.2-1.9l-2.7 2.8m10.5-2.8l-2.5-.2m10.3 .2l-.6 2.6m8.3-2.6l-1.9 1.5m79.6-1.5l-1.8 2.7m9.6-2.7l-2.2 2m10-2l-2.3 2.5m10-2.5l-2.4 2.8m10.2-2.8l-1.6 2.1m9.4-2.1l-2.1 2m9.8-2l-.6 3.4m8.4-3.4l-3.5-.2m11.3 .2l-2.4 1.9m10.1-1.9l-1 3.6m8.8-3.6l-1.7 1.4m-239.1-7.5l-1.2 2.7m9-2.7l-1.7 2.3m9.4-2.3l-1.3 2.2m9.1-2.2l-1.9 2.4m9.7-2.4l-1.5 3.5m9.2-3.5l-3.7-.4m11.5 .4l.2 4m7.6-4l-2.9 1.7m10.6-1.7l-2.8 2m10.6-2l-1.8 2.3m9.6-2.3l-.5 2.3m8.2-2.3l-3.5 0m19.1 0l-1.8 2.4m56.2-2.4l-1 2.8m8.7-2.8l-2.4 2.2m10.2-2.2l-2.6 .4m10.4-.4l-.2 3.2m7.9-3.2l-2.6 1.6m10.4-1.6l-2.7 2.6m10.5-2.6l-2.2 1.8m9.9-1.8l-1.6 1.6m9.4-1.6l-1.4 2.9m9.2-2.9l-2.3 2m10-2l-2.2 2.9m10-2.9l-2.8 0m-238-6.1l-2.3 1.3m10.1-1.3l-1 3.5m8.7-3.5l-1.7 2m9.5-2l-.3 3.4m8.1-3.4l-2.3 3.2m10-3.2l-1.9 3.3m9.7-3.3l-1 3m8.8-3l-2.2 2.7m9.9-2.7l-2.2 1.8m10-1.8l-2.5 2.1m10.3-2.1l-.2 3.3m7.9-3.3l.2 3.5m7.6-3.5l-2.8 2.1m10.6-2.1l-1.7 3.1m48.3-3.1l-2.8 1.9m10.6-1.9l-1.8 2.6m9.5-2.6l-3.2 0m11 0l-1.9 2.2m9.7-2.2l-1.8 1.5m9.5-1.5l-2.2 2m10-2l-.5 3.9m8.3-3.9l.4 3.8m7.3-3.8l-.5 3.3m8.3-3.3l-2.3 .7m10.1-.7l-2.4 2m10.1-2l-3.9 .3m11.7-.3l.2 2.8m-241-9l-2.3 1.7m10.1-1.7l-2.7 2.3m10.4-2.3l.5 3.9m7.3-3.9l-3 2m10.8-2l-3 1.8m10.7-1.8l-2.7 .8m10.5-.8l-2.1 1.3m9.9-1.3l-2.5 3.1m10.2-3.1l-.9 3.5m8.7-3.5l-2.5 .2m10.3-.2l-.1 3.2m7.8-3.2l-1.3 3.4m9.1-3.4l-2.1 2.3m9.9-2.3l-2.5 2.8m10.2-2.8l-.8 2.5m8.6-2.5l-1.3 3.1m9.1-3.1l-.7 2.6m8.5-2.6l-3.6 1.2m11.3-1.2l-3.5-.2m11.3 .2l0 2.5m7.8-2.5l-2.6 .7m10.3-.7l-2.7 .1m10.5-.1l-2.9-.4m10.7 .4l-2 1.2m9.7-1.2l-3.1 2.2m10.9-2.2l-2.1 3.3m9.9-3.3l-2.7 2m10.4-2l-2.5 2.4m10.3-2.4l-1.8 1.5m9.6-1.5l-.3 3.3m8-3.3l0 3m7.8-3l-1.5 2.5m-239.3-8.6l.4 2.9m7.4-2.9l-2.6 2.3m10.3-2.3l-3.5 .9m11.3-.9l-2.5 2.2m10.3-2.2l-.1 3.4m7.8-3.4l-1.8 2.3m9.6-2.3l-1.9 3.5m9.7-3.5l-1.8 2.1m9.5-2.1l-1.8 1.4m9.6-1.4l-2.6 2.3m10.4-2.3l-1 2.5m8.7-2.5l-3.1 1.8m10.9-1.8l-3.2 .3m11-.3l.2 3.5m7.5-3.5l.2 3.1m7.6-3.1l-1.8 2.2m9.6-2.2l-2.4 1.7m10.2-1.7l-2.4 .9m10.1-.9l-1.3 2.5m9.1-2.5l.2 2.2m7.6-2.2l-1.8 1.7m9.5-1.7l-1.9 1.4m9.7-1.4l-2.3 .6m10.1-.6l0 3.2m7.7-3.2l-2.5 .4m10.3-.4l-3.2 2m11-2l-1.8 2.1m9.5-2.1l-.2 3.7m8-3.7l-.1 3.8m7.9-3.8l-2.4 .6m10.1-.6l-1.9 1.5m9.7-1.5l-1.5 2.6m-239.3-8.8l-1.7 1.6m9.5-1.6l-2.2 3.2m9.9-3.2l-2.4 .5m10.2-.5l-.1 2.8m7.9-2.8l-2.2 2.8m9.9-2.8l-2.2 1.4m10-1.4l-.6 3.4m8.4-3.4l-1.7 1.9m9.4-1.9l-3.2 2.3m11-2.3l-.8 2.3m8.6-2.3l-2.3-.3m10 .3l-2.8 2.5m10.6-2.5l-2.4 .5m10.2-.5l-1.1 2.5m8.8-2.5l-2.5 2.1m10.3-2.1l-2.5 .6m10.3-.6l-.1 2.3m7.9-2.3l-1.3 2.2m9-2.2l-1.6 1.9m9.4-1.9l-.8 3.2m8.6-3.2l-.4 3m8.1-3l-1.2 2.4m9-2.4l.1 3.4m7.7-3.4l-2.9 .8m10.6-.8l-1.6 1.8m9.4-1.8l.4 3.2m7.4-3.2l-.3 2.9m8-2.9l-2.2 2.2m10-2.2l-1.7 2.6m9.5-2.6l-.2 3.9m7.9-3.9l-3.9-.5m11.7 .5l-1.7 1.9m-239.1-8l0 3m7.8-3l-2.2 .3m9.9-.3l-3.6 1.2m11.4-1.2l-3.9 .5m11.7-.5l-1.7 1.6m9.4-1.6l-2.4 2.6m10.2-2.6l-1.5 2.7m9.3-2.7l0 3.7m7.7-3.7l-3.1 .6m10.9-.6l-2.8 .8m10.6-.8l-3.9-.1m11.6 .1l-1.2 2.4m9-2.4l-2.2 1.8m10-1.8l-2 2.8m9.7-2.8l-1.9 2.4m9.7-2.4l-1.4 3.2m9.2-3.2l-2.4 1.6m10.2-1.6l-1.9 2.5m9.6-2.5l-3.8 .9m11.6-.9l-3.5 1.1m11.3-1.1l-2.9-.4m10.6 .4l-.5 3.7m8.3-3.7l-3.3 2.1m11.1-2.1l-2.9 .1m10.6-.1l-2.9 2.5m10.7-2.5l.1 2.7m7.7-2.7l-1.1 3.7m8.8-3.7l-2.4 .3m10.2-.3l-.1 3.6m7.9-3.6l-1.2 2.4m8.9-2.4l-.6 3.1m8.4-3.1l-1.5 2m-239.3-8.1l-.9 3m8.7-3l-3.6 1m11.3-1l-1.8 1.8m9.6-1.8l-1.4 2.2m9.2-2.2l-2.8 .6m10.5-.6l-2.2 1.6m10-1.6l-2.9 2.3m10.7-2.3l-2.1 1.7m9.8-1.7l-.6 2.1m8.4-2.1l-3.4 0m11.2 0l-2.8 2.5m10.5-2.5l-.6 3.9m8.4-3.9l-3.2 1.9m11-1.9l-.8 3.4m8.5-3.4l-3.8 .9m11.6-.9l-.3 3.5m8.1-3.5l-1.9 2m9.7-2l.3 3.3m7.4-3.3l-2.7 2m10.5-2l-1.5 2.2m9.3-2.2l-3.7-.5m11.4 .5l-2.7 .2m10.5-.2l-2.6 2.3m10.4-2.3l-.9 3.9m8.6-3.9l-2.2 3m10-3l-.1 3m7.9-3l-2.5 2.2m10.2-2.2l.3 2.8m7.5-2.8l-2.1 2.5m9.9-2.5l-1.6 3m9.3-3l-2.1 3.3m9.9-3.3l-3.2 1.8m-237.6-8l-2.6 1.6m10.4-1.6l-2.3 1.4m10-1.4l-.4 3.9m8.2-3.9l-.7 2.2m8.5-2.2l-2 3.3m9.7-3.3l-3.3 1.3m11.1-1.3l.4 3m7.4-3l-3.1-.2m10.8 .2l-2.3 2.3m10.1-2.3l-3 2.1m10.8-2.1l.1 2.9m7.6-2.9l-.5 3.4m8.3-3.4l-3.2 .1m11-.1l-1.3 2.9m9-2.9l-2.3 2.1m10.1-2.1l-1.3 2.6m9.1-2.6l-2.5 1.7m10.3-1.7l-2.3 2.3m10-2.3l-1.4 2.4m9.2-2.4l.4 3.5m7.4-3.5l-2 2.8m9.7-2.8l-3.7 1.4m11.5-1.4l-3.7 1.1m11.5-1.1l-3.1 2.1m10.8-2.1l-.8 3.6m8.6-3.6l-3.1 1.8m10.9-1.8l.4 3.7m7.3-3.7l-2.8 2.6m10.6-2.6l-1.3 2.9m9.1-2.9l.3 2.9m7.4-2.9l-1.8 1.7m9.6-1.7l-1.6 2.4m-239.2-8.5l-1.8 3m9.6-3l-1.8 3.1m9.5-3.1l-.9 2.3m8.7-2.3l-3.3-.3m11.1 .3l.2 2.6m7.5-2.6l-1.9 2.4m9.7-2.4l-.7 2.4m8.5-2.4l-.2 3.5m7.9-3.5l-.7 2.8m8.5-2.8l-1.8 2.7m9.6-2.7l-3.4 .5m11.1-.5l-1 2.3m8.8-2.3l-2.2 3.2m10-3.2l-2.1 1.9m9.8-1.9l-1.1 2.9m8.9-2.9l-2.8 1m10.6-1l-1.8 2.5m9.6-2.5l-2.2-.1m9.9 .1l-.6 2.2m8.4-2.2l-1.4 2.4m9.2-2.4l-2.4 2m10.1-2l-1.3 1.8m9.1-1.8l-1.6 3.4m9.4-3.4l-2 2.5m9.7-2.5l-3.1 .9m10.9-.9l-1.2 2.1m9-2.1l-2.3 2.1m10-2.1l-1 2m8.8-2l-1.6 2.6m9.4-2.6l-3.4 1m11.1-1l-.2 3.9m8-3.9l-3.3 1.2m-237.5-7.4l-2.6 2.8m10.4-2.8l-1.9 3.4m9.6-3.4l-3.8-.6m11.6 .6l-1.3 3.5m9.1-3.5l-.3 3.9m8-3.9l-.4 2.6m8.2-2.6l-1.8 1.9m9.6-1.9l-2.4 .3m10.1-.3l0 2.8m7.8-2.8l-3.7-.1m11.5 .1l-2.9 .3m10.6-.3l-1.2 2m9-2l-1.6 2.9m9.4-2.9l-.9 2.1m8.6-2.1l-2.1 2.1m9.9-2.1l-1.7 3.1m9.5-3.1l-1.5 2.8m9.3-2.8l-2.3 3.2m10-3.2l-3.2 1.1m11-1.1l-1.5 1.7m9.3-1.7l-2.2 1.5m9.9-1.5l-2.9 .4m10.7-.4l-2.2-.1m10 .1l-2.8 .9m10.5-.9l-2.1 2.1m9.9-2.1l-2.3 2.6m10.1-2.6l-3.7-.6m11.4 .6l-2.4 2.4m10.2-2.4l-1.6 2.4m9.4-2.4l0 3.7m7.7-3.7l-3.8-.1m11.6 .1l-2.5 2.4m-238.3-8.5l-3.2 2.3m11-2.3l-1.8 2.7m9.5-2.7l-1.5 3.7m9.3-3.7l-2.3 2.6m10.1-2.6l-2.2 2.7m9.9-2.7l-1.8 2.7m9.6-2.7l-2.1 2.1m9.9-2.1l-.6 2.7m8.3-2.7l-2.3 3.2m10.1-3.2l-1.7 2.7m9.5-2.7l-1.7 1.5m9.4-1.5l-1.6 1.7m9.4-1.7l-2.6 .2m10.4-.2l-2.9 .1m10.6-.1l.5 3.6m7.3-3.6l-3 2.2m10.8-2.2l-3.4 .6m11.2-.6l.2 3.7m7.5-3.7l-2.5 2.1m10.3-2.1l-2 3.4m9.8-3.4l-2.5 2m10.2-2l-2.5 2.7m10.3-2.7l-.8 2.3m8.6-2.3l-2.5 2.1m10.2-2.1l-1.9 3m9.7-3l-.5 2.6m8.3-2.6l-.9 3.3m8.6-3.3l-1.8 3.2m9.6-3.2l-1.2 2m9-2l-3.1 2.5m10.8-2.5l.2 3.1m7.6-3.1l-3.8 .3m-237-6.5l-1.6 1.6m9.4-1.6l-2.2-.2m9.9 .2l-2.4 2.6m10.2-2.6l-.6 3.5m8.4-3.5l.3 3.6m7.4-3.6l0 2.7m7.8-2.7l-.5 3.7m8.3-3.7l-2.8 2.7m10.5-2.7l-2.5 3.1m10.3-3.1l-2.6 2.3m10.4-2.3l-2.5 .6m10.2-.6l-.8 2.7m8.6-2.7l-2.1 2.2m9.9-2.2l-2.4 1.7m10.1-1.7l-.9 2.3m8.7-2.3l-2.9 2.1m10.7-2.1l-2.7 1.7m10.5-1.7l0 2.6m7.7-2.6l-3.4 .8m11.2-.8l-.4 2.2m8.2-2.2l-1.6 3.6m9.3-3.6l-3 1m10.8-1l-1.6 2.2m9.4-2.2l-1.1 2.2m8.8-2.2l-2.4 1.9m10.2-1.9l-3 1.8m10.8-1.8l-1.8 1.8m9.5-1.8l-1.8 3.2m9.6-3.2l-1.1 3.2m8.9-3.2l-3.9 .3m11.6-.3l-.4 2.7m8.2-2.7l-2.4 1.8m-238.4-7.9l-1.9 2.8m9.7-2.8l-3.3-.6m11 .6l-1.6 1.8m9.4-1.8l-.5 2.8m8.3-2.8l-1.9 1.4m9.6-1.4l-.8 3.5m8.6-3.5l-2.7 .9m10.5-.9l-1.8 1.6m9.5-1.6l-1.8 3.4m9.6-3.4l-.6 3.8m8.4-3.8l-2.1 2.1m9.8-2.1l-2 2.2m9.8-2.2l-3.6-.5m11.4 .5l-3.2 1.9m10.9-1.9l-.9 2.7m8.7-2.7l-1.3 3.7m9.1-3.7l-2.1 1.7m9.9-1.7l-2.3 3.1m10-3.1l-2.9 2.7m10.7-2.7l-2.7-.3m10.5 .3l-.2 2.3m7.9-2.3l-3.5 1m11.3-1l-.6 2.6m8.4-2.6l-2.7-.5m10.4 .5l.3 3.9m7.5-3.9l-1.6 1.7m9.4-1.7l-2.3 2.3m10-2.3l-.9 2.1m8.7-2.1l-1.9 1.5m9.7-1.5l-1.8 3.1m9.5-3.1l-2.8 2.4m10.6-2.4l-2.5 2.1" stroke="#3b8bd0" stroke-width="0.6" opacity="0.7" fill="none"/><path d="M404.6 871.7l-.9 .6m9.9 .3l0 1.2m6.3-2.1l-1 .6m9.5 .1l-.5 1.1m6.9-2.4l-1.5 .2m11.4 1.4l0 1.3m7.3-1.3l-.3 1.3m7.2-1.9l-.9 .8m10.3 .1l.2 1.5m7.5-1.6l.1 1.4m6-2.4l-1 .7m8.4-1.9l-1.2-.1m9.3 1.3l-1 .8m8.4-1.6l-1.3 .2m9.9 .8l-.7 .8m7.3-2.3l-1.5-.1m10.2 2.2l-.8 1.3m10.1-1.1l.2 1.4m6.9-1.4l-.3 1.4m6.7-2.4l-1.2 .8m10.6-.4l-.1 1m8-.9l0 1.1m6.9-1.2l-.6 1m9.3-.6l0 1.3m6.4-2.1l-.9 .7m9.1 .3l-.6 1.4m8.7-1.9l-.4 1m7.3-1.5l-.9 .7m8.9-.1l-.8 1.1m8.6-1l-.7 1.2m8.2-2.7l-1 .2m9.5 .9l-.5 .9m-241.3-8l-1.1 .3m8.6 .5l-1.3 .9m10.4-.2l-.4 1.3m7.1-3.2l-1.1 0m8.6 1.3l-1.3 .9m10.5-.5l-.3 1.2m8.5-.9l-.1 1.3m6.6-1.9l-.9 .9m8.1-1.1l-1.3 .8m9.3-2.2l-1.2-.1m9 1.6l-1.1 .9m10.6-.4l0 1.2m6.1-1.6l-1.1 1m9.3-1.2l-.8 .8m8.3-2.1l-1 0m8.4 .5l-1.2 .3m8.5-.9l-1.5-.1m11 1.9l-.3 1.1m7.5-1.3l-.7 1m7.9-2.6l-1.2-.1m9.9 2l-.5 1.1m8-1l-.7 1.2m7.4-2.4l-1.4 .4m9.2-.4l-1.4 .4m10.2-.2l-.7 .6m8.8-.1l-.5 .9m8.1-.8l-.6 .9m8.1-.3l-.8 1.4m9.6-2l-.1 1m7.8-.2l-.1 1.5m7.9-1.6l-.1 1.4m7.1-1.7l-.6 1.3m-240.7-8.2l-.9 .7m8.9 .2l-.8 1.3m7.7-2.9l-1.4 .3m9.3-.1l-1.3 .4m10.3 1.2l-.4 1.4m7.1-3.7l-1.1-.1m9.3 .5l-.9 .2m7.8-.5l-1.5 0m11.4 1.7l0 1.1m7.4-.5l-.3 1.5m8.4-1.5l0 1.5m7-2.7l-.6 .7m7.5-1.5l-1.1 .2m10.3 1.6l-.2 1.4m7.3-2l-.6 1m7.2-2l-1.4 .3m9.6-1l-1.1-.2m10.4 2.6l-.1 1.5m7.5-1.8l-.3 1.3m6.6-2.9l-1.3 .2m10.4 .8l-.5 .9m8.9-.2l0 1.3m6.7-2l-.7 .8m7.6-.7l-1.3 .9m9.7-2.2l-.9 .1m9 1.8l-.7 1.3m9.2-1.6l-.2 1.1m7.3-1.8l-.6 .7m8.3 0l-.7 1.1m8.4-1.6l-.7 .8m9 0l-.4 1.3m8.2-1.9l-.3 .9m-240.4-7.1l-.3 .9m8.3-.6l-.1 1.1m6.5-3l-1-.2m9 2.3l-.9 1.2m7.9-3l-1.4 0m11 1.4l-.2 1m6.8-1.5l-.9 .6m9.2 .1l-.6 1.1m9.4-.4l.1 1.5m7.4-2.5l-.1 .9m5.8-2.5l-1.4-.2m10.7 2l-.4 1m9-1.2l.1 .9m6.3-.2l-.8 1.3m9.4-2l-.3 .9m8-.9l-.3 .9m6.8-1.9l-1.2 .2m8.6 .2l-1.4 .5m10.6 .9l-.4 1.4m8.3-2.2l-.3 .9m8.3-.9l-.2 .9m6.3-.8l-1.3 .9m9.9-.9l-.7 .9m8-2.1l-1.1 .2m9.4 1l-.7 1m9.1-.7l-.2 1.2m7.8-.9l-.4 1.3m7.8-2.2l-.6 .7m7.6-1.6l-1.1 .2m10.4 1.2l-.1 1.1m6.1-2.7l-1.3 0m10.9 2.2l0 1.5m-241.1-8l-.3 1.2m6.3-2.3l-1.4 .5m10.3-.4l-.7 .6m8.1 .3l-1 1.2m10.2-.9l0 1.4m7.6-1.7l-.1 1.2m6.5-2l-1 .6m8-.8l-1.5 .5m10.1-1l-1 .2m10 .9l-.1 .9m6.4-2.1l-1.1 .1m8.8 1.3l-1.1 1.1m9.1-2.7l-1 0m9.3 1.7l-.7 1.1m8.8-1.3l-.4 1m8.8-.7l0 1.1m6-1.6l-1.2 .9m10.9-.8l.1 .9m5.3-2.4l-1.5-.1m9.5 .5l-1.3 .2m10.5 .8l-.3 .8m7.9-.7l-.5 .9m9 0l0 1.5m6.7-1.8l-.7 1.3m7.5-3.5l-1.3-.1m10.3 2.1l-.5 1.2m7.5-1.3l-1 1.1m10.2-.9l-.1 1.3m6.6-2.1l-.9 .7m7.9-1.8l-1.5-.1m11.7 2.2l.2 1.3m5.8-2.3l-1 .7m-239.7-6.8l-.9 .7m8.6 0l-1 1.2m9.7-1.2l-.3 1.2m7.6-2.1l-.7 .6m8.6-.4l-.6 .8m8.3-.1l-.6 1.2m8.1-2.2l-.8 .6m8.6 .1l-.8 1m8.3-1.5l-.9 .6m7.9-1.6l-1.5 0m10.1 1.1l-.9 .8m9.1-.6l-.6 .9m9.4-.9l0 .9m6.7-.2l-.7 1.3m8.9-2l-.4 .9m7.5-.3l-.8 1.3m8.2-1.4l-1 1.2m9.7-1.3l-.4 1.1m6.5-2.8l-1.6 0m10.5 1.3l-.8 .9m10-.1l.2 1.4m6.7-2.1l-.4 1m8.1-.5l-.5 1.3m8.7-1.3l-.1 1.3m6.7-1.3l-.9 1.3m9-2l-.7 .8m8.6-.7l-.6 .9m8.4-.8l-.6 1m8.5-.6l-.5 1.2m6.9-2.7l-1.5 .2m10.2 .6l-.8 .8m10-.3l.1 1.1m-243.1-8.2l-1.3 .4m10.5 .2l-.4 .8m7-.6l-1.2 1m10.3-.8l-.3 1.1m7-1.2l-1 1m9.6-1.3l-.4 .9m7.3-1.8l-1 .3m9.3 .5l-.7 .8m8-1.8l-1 .1m8.9 1.1l-.9 .9m8.9-1.2l-.7 .7m8.5-.1l-.7 1.1m7.6-1.4l-1.3 .9m8.9-1.5l-1.4 .5m10.4 .4l-.5 1.1m7.8-2.3l-.9 .3m9.6 .5l-.3 .9m7.2-1.2l-.8 .6m8.9-.3l-.6 .8m8.7 .1l-.4 1.4m7.7-2l-.7 1m7.7-1.3l-1.2 .8m9.4-2.1l-1 0m8.7 1.6l-.9 1m8.6-1.3l-1 .8m9.1-.7l-.8 .9m9-.7l-.5 1.1m8.3-1.5l-.5 .8m8.3 0l-.5 1.3m8.1-1.8l-.6 1m8.5-1.3l-.5 .8m6.6-1.9l-1.6 0m-238.2-4.4l-.9 1.2m9.2-1.5l-.6 1m7.3-1.4l-1.3 .8m10.1-.9l-.6 .6m8.3 0l-.7 1.1m8.2-1.6l-.8 .7m8.3-.2l-1 1.1m9.3-1.2l-.6 1m9.1-.4l-.1 1.4m6.2-3.6l-1.3-.1m11.1 1.9l.1 1.1m6.1-2.6l-1 .2m9.4 1.4l-.6 1.2m7.5-2.4l-1.1 .4m9 .1l-1.1 .8m9.9-.3l-.3 1m7.7-.8l-.6 1.2m7.3-2.4l-1.3 .4m11.1 .4l.1 .9m5.6-1.7l-1.4 .4m10.3 .6l-.6 1m7.7-1.1l-1 1m8.8-1.6l-1 .6m9.1 .3l-.8 1.2m8.3-1.9l-.9 .7m9 .1l-.7 1.3m8.5-1.8l-.7 1m8-2.6l-1-.1m8.8 2.2l-1 1.3m8.5-3l-1.2 .1m10.2 1.4l-.3 1.1m7.6-.8l-.7 1.4m-240.3-7.9l-.8 1.1m8.1-2.8l-1.1 0m9.6 2.1l-.6 1.4m7.8-1.9l-1 1m8.5-1.3l-1.2 .8m8.4-2.1l-1.6 0m10.4 .3l-.9 .2m9.6 1.2l-.2 1.1m6.9-.9l-1 1.2m9.6-1.5l-.4 1m7.1-2.1l-1.1 .3m9.2 .9l-.9 1.1m9.2-1.6l-.5 .7m8.2-.3l-.6 1m8.3-1.6l-.6 .6m8-.4l-.9 .8m10.3 .1l.2 1.3m7.4-1.8l.1 1m6.6-1.5l-.6 .7m7.3-1.8l-1.3-.1m9.7 .4l-.9 .1m9.2 1l-.6 .9m8-.2l-.8 1.4m9.3-2.1l-.3 .9m7.2-.8l-.9 .9m8.7-1.5l-.8 .5m9.7 .6l-.1 1.3m6.4-3.1l-1.1 .1m9.4 1.7l-.8 1.3m9.3-1.3l-.2 1.3m7.8-.9l-.3 1.6m8.1-2.5l-.4 1m-242.3-8.4l-1.6 .1m11.5 1.4l-.2 1.1m6.7-1l-1 1.2m9-1.6l-.8 .9m7.7-1.5l-1.5 .5m9.7-.3l-1.1 .7m10 .4l-.4 1.4m7.3-1.8l-1 1.1m10.3-1l.1 1.2m6.5-1.8l-.7 .8m9-.7l-.4 .9m8.3-.3l-.3 1.3m6.7-1.8l-1.2 .9m10.4-.1l-.2 1.4m7.1-2.7l-.8 .6m10.1 .6l.2 1.4m6.2-1.7l-.7 1.2m8.3-1.7l-.8 .8m9.2-.5l-.4 1m7.5-1.7l-.9 .6m7.6-1.6l-1.6-.1m11.6 1.8l-.1 1m7.4-.7l-.4 1.2m7.4-3.2l-.9-.1m8.9 1l-.7 .5m8.2 .5l-.9 1.2m9.7-.7l-.3 1.5m8.3-2l-.1 1.2m6.5-2l-1 .7m8.5-.1l-1.2 1m8.8-2.4l-1.3 .1m9.5 0l-1 .2m-238.2-5.3l.1 .9m7.7-.6l.1 1.1m6.7-1.4l-.6 .9m7.4-2l-1.2 .2m10.1 .9l-.4 .9m7.1-.6l-1.2 1.1m9.9-1.5l-.6 .8m7.3-.5l-1.2 1m9.2-.9l-1.1 1.1m9.3-1.3l-.8 .9m8.2-2.4l-1.1-.1m9.4 1.3l-.7 .7m9.1-.4l-.2 .9m6.9-1.8l-1 .3m9 .4l-.8 .8m8.8 0l-.7 1.4m8.6-2.3l-.6 .8m7.5-1.8l-1.2 .1m9.8 .9l-.6 .7m8.5-.7l-.5 .7m8.1-.3l-.6 1m9.4-.8l.1 1.1m5.9-1.6l-1.2 .8m9.7-.5l-.6 1m9.3-.6l0 1.3m7.2-1.9l-.4 .9m9 .1l.1 1.5m6.5-2.6l-.6 .8m9.4-.4l.1 1.1m6.8-.7l-.5 1.3m8.2-1.3l-.5 1.3m7.6-2.2l-1 .8m-239.5-7.1l-.8 .7m8.6 .3l-.8 1.3m8.2-1.8l-1 1m8.8-2.4l-1 0m9.1 1.5l-.8 1m9.3-.8l-.3 1.2m8.1-1.3l-.2 1.1m8-.7l-.3 1.4m7.2-2.3l-.9 .8m9.9 .2l0 1.4m7.2-1.5l-.4 1.4m6.7-3.5l-1.4 0m11.2 1.7l0 1.1m7.7-.5l0 1.5m7.3-2.2l-.4 1m7.4-1.6l-.9 .6m7.8-.9l-1.5 .5m10.4 .5l-.7 1.1m9.2-1.2l-.2 1m7.2-1.3l-.8 .8m8.4-.5l-.8 1.1m8.6-.9l-.8 1.1m10-.8l.1 1.4m7.6-1.2l.1 1.5m6.6-2.2l-.6 1m7.7-2.8l-1.1-.1m8.9 1.3l-1 .6m10.1 .1l-.2 1.1m7.4-1.5l-.5 .8m7.2-1.4l-1.2 .4m9.3 .3l-1 .9m8.7-.9l-1.1 .9m-239.9-8.2l-1.2 .2m9.3 1.1l-1 1m9.1-1.7l-.7 .5m9.5 0l-.1 .9m6.6-1.2l-.9 .7m8.7-1.6l-.9 .1m8.4 1l-1.1 .8m9.2-1.2l-.9 .5m9-.3l-.7 .7m8.5 .2l-.6 1.3m7.6-1.5l-1.1 1.1m9.2-1.8l-.9 .7m8.7-.6l-.9 .7m8.3-.6l-1.1 .8m10.1-.7l-.3 .9m31.5-.1l-.2 1.4m7.4-2.4l-.6 .7m8.1-.8l-.7 .7m7.4-1.7l-1.5 0m10.3 1.1l-.8 .8m8.2-1.4l-1 .3m9.7 .5l-.4 .9m7.9-1.2l-.6 .7m7.6-2l-1.1-.2m10.4 2.6l-.1 1.4m7.8-1.4l-.1 1.4m6.5-2.1l-1 .9m9.5-.8l-.6 1m9.3-.3l0 1.5m-242.7-9.3l-1.2 .4m10.4 .6l-.2 1m7.5-1.5l-.6 .7m7.4-1.2l-1.2 .4m9-.9l-1.2 0m9.8 1.2l-.6 .8m7.9-2.3l-.9-.1m10.2 2.4l.1 1.4m6.1-3.3l-1 .1m8.7 1.5l-1 1.1m8.6-1.6l-1.1 .8m10.7-.7l.1 .9m60.7-1.3l-.8 .6m8.2-1.5l-1 0m9.8 1.2l-.3 .9m7-.8l-1.1 .9m9.5-.8l-.7 .9m7.1-2.4l-1.5 0m10.6 2l-.7 1.3m8.5-2.2l-.6 .7m8.9 .4l-.3 1.4m8.2-2.1l-.2 .9m7.2-1l-.7 .9m9.6-.1l0 1.4m6.4-3.2l-.9 .3m-239.4-5.5l-.5 .8m7-1.8l-1.4 .2m10.6 1.6l-.4 1.4m7.4-1.9l-.9 1m7.8-1.9l-1.5 .5m11.5 .6l0 1.2m6.5-1.4l-.9 1.1m10.1-1.4l.1 .9m6-1.2l-1 .7m10 .1l-.2 1.2m6.9-1.4l-.9 1.1m10.2-.6l.1 1.4m76.8-1.9l-.4 1m7-1.2l-1.2 .9m8.9-2.4l-1.3 0m10.3 1.4l-.4 .9m7.9-.2l-.6 1.3m8.6-1.7l-.4 1m6.7-2.5l-1.4 .1m10.2 .7l-.7 .6m7.4-1.8l-1.5-.2m9.2 1l-1.5 .3m10.7 .3l-.5 .7m-241.3-8.2l-1.2-.2m9.9 2.4l-.6 1.3m7.7-2.2l-1.1 .7m8.8-1.5l-1.1 .1m9.1 .5l-.9 .5m8.8-.5l-.8 .5m9.6 .6l-.2 1.3m7-2.5l-.8 .5m8.7-.3l-.7 .6m9 .4l-.3 1.3m7-1.8l-1.1 1m80.1-.2l-.2 1.5m7.5-1.5l-.5 1.5m8.3-2.1l-.5 1.1m8.6-1.5l-.3 .9m7.5-1l-.6 .8m8.8-.2l-.3 1.2m6.2-3.1l-1.6-.1m9.5 0l-1.5-.2m9.7 1.9l-1.2 1m9-2.4l-1.2 0m9.8 1l-.6 .7m7.4-1.1l-1.3 .4m-238.1-5.7l-.3 1m7.5-1.4l-.7 .7m8.1-.4l-.9 .9m10.1-.8l0 1m6.5-1.5l-.8 .6m8.4 0l-1 1.1m9.7-.7l-.4 1.3m6.5-3l-1.4 .2m11.5 1.5l.1 1.3m6.8-1.7l-.5 1.1m8.4-1l-.4 1.1m8.6-.4l-.1 1.6m83.5-3.8l-1.5 .1m11.5 2l0 1.5m5.6-4.1l-1.4-.2m10.3 1.7l-.7 .8m8.3-.5l-.8 1m9.7-.2l0 1.5m7-1.8l-.5 1.3m9.3-1.6l.1 1.1m5.6-1.4l-1.2 .9m10-1.2l-.5 .7m-241-7.3l-1 .4m8.8-.2l-1 .6m9.8 .2l-.3 1.1m7-1.1l-1 1m9.5-1l-.5 1.1m7.8-.7l-.8 1.3m8.4-2.4l-1 .6m10.1 .8l0 1.5m5.6-4l-1.5-.1m10 1.5l-1 .8m8.6-.8l-1.1 .8m9.8-.4l-.5 1.1m77.4-1.3l-1 1m9.7-1.1l-.4 .9m7.4-1l-.9 .8m8.4-.7l-1.1 .9m10.6-.8l0 .9m6.2-.5l-1 1.2m10-1.2l-.1 1.2m6.6-2.5l-1 .3m10.1 1.5l-.1 1.5m7.7-1.8l-.3 1.4m8-1.3l-.3 1.4m-240.4-8.2l-.2 .9m5.9-2.7l-1.6-.2m10.6 1.9l-.7 .9m7.6-2.6l-1.4-.2m10.1 1.8l-.7 .9m9.4-.8l-.1 .9m6.8-.3l-.8 1.3m8.9-2.1l-.6 .8m7.6-.3l-1.1 1.1m9-2.9l-1-.1m9.9 1.8l-.2 1m7.2-1.6l-.8 .6m78.5 0l-.7 1.1m8.3-1.5l-.9 .8m8.6-.4l-.9 1m8.6-.9l-1 1.1m9.2-1.5l-.6 .8m8.1-.8l-.8 .8m9.5 0l-.2 1.4m6.2-3.6l-1.4-.1m9.8 1.4l-1 .8m9.6 .2l-.4 1.4m7.8-2.7l-.7 .6m-239.8-6l-.5 1.1m8-1.3l-.7 .9m8.7-1l-.5 .9m7.9-.8l-.8 1m8.8-.3l-.6 1.4m7-3.8l-1.5-.2m11.6 2.9l.1 1.6m5.9-3l-1.1 .7m8.9-.5l-1.1 .8m9.4-.6l-.7 .9m9.3-.9l-.2 .9m6.2-2.3l-1.4 0m17.9 1.4l-.7 1m55.5-.7l-.4 1.1m7.4-1.5l-1 .9m8.7-1.9l-1 .2m10.1 1.4l-.1 1.3m6.5-2.2l-1 .7m8.7-.1l-1.1 1.1m9.1-1.6l-.9 .7m9.1-.8l-.6 .6m8.5 .2l-.6 1.2m7.8-1.8l-.9 .8m8.7-.3l-.9 1.1m8.3-2.8l-1.1 0m-239.4-5.3l-.9 .5m9.5 .8l-.4 1.4m7.7-2.4l-.7 .8m9.3 .1l-.1 1.4m6.7-1.5l-.9 1.3m8.9-1.3l-.8 1.3m9.1-1.5l-.4 1.2m7.4-1.3l-.9 1.1m8.7-1.6l-.9 .7m8.5-.6l-1 .9m10.1-.1l-.1 1.3m8.2-1.2l.1 1.4m5.8-2.3l-1.1 .9m9.6-.3l-.7 1.2m46.6-1.9l-1.1 .8m9.5-.4l-.7 1.1m7.6-2.6l-1.3 0m9.9 1.3l-.7 .9m8.5-1.3l-.7 .6m8.2-.3l-.9 .8m9.7 .3l-.2 1.5m8.5-1.6l.2 1.5m7-1.8l-.2 1.3m6.9-2.8l-.9 .3m8.6 .5l-1 .8m7.9-1.9l-1.6 .1m11.8 1.4l.1 1.1m-242.4-7.9l-.9 .7m8.4-.3l-1.1 .9m10.8 .1l.2 1.6m5.5-2.8l-1.2 .8m9-.9l-1.2 .7m9.1-1.3l-1.1 .3m9.2 0l-.9 .5m8.5 .6l-1 1.3m9.7-1.1l-.4 1.4m7.2-3.3l-1 .1m10.2 1.6l0 1.3m7-1.2l-.5 1.3m7.8-1.9l-.8 .9m8.4-.6l-1 1.1m9.8-1.3l-.3 1m7.7-.6l-.5 1.2m8.7-1.5l-.3 1m6.3-1.8l-1.5 .5m9.3-1.4l-1.4-.1m11.3 1.7l0 1m6.2-2.1l-1 .3m8.7-.6l-1.1 0m8.8-.3l-1.2-.1m9.5 1.1l-.8 .5m7.9 0l-1.2 .9m9.5-.2l-.8 1.3m8.2-2.1l-1.1 .8m9-.5l-1 1m9.2-1.6l-.7 .6m9.4 .5l-.1 1.3m8-1.5l0 1.2m6.9-1.5l-.6 1m-239.1-6.9l.2 1.2m5.8-1.5l-1.1 .9m8.3-1.8l-1.4 .4m9.8 .4l-1 .9m10.2-.2l-.1 1.4m6.9-2l-.7 .9m8.3-.2l-.8 1.4m8.7-2.3l-.7 .8m8.4-1.2l-.7 .6m8 0l-1.1 .9m9.9-.8l-.4 1m6.9-1.4l-1.2 .7m8.9-1.6l-1.3 .1m11.1 1.8l.1 1.4m7.7-1.6l.1 1.3m6.4-1.9l-.7 .9m8.2-1.2l-1 .7m8.7-1.2l-1 .4m9.4 .6l-.5 1m9.2-1.2l.1 .9m6.5-1.2l-.7 .7m8.4-.9l-.8 .6m8.3-1.1l-.9 .2m10.1 1.4l0 1.3m6.2-3l-1 .2m8.4 .8l-1.3 .8m9.9-.8l-.7 .8m9.4 .2l-.1 1.5m8-1.4l0 1.5m6.3-3.4l-1 .3m9.1 .2l-.8 .6m8.8 0l-.6 1m-240.3-7.7l-.7 .6m8.2 .4l-.9 1.3m8.5-3l-1 .2m10.1 1.2l-.1 1.1m6.6-1.1l-.9 1.1m8.7-1.9l-.9 .6m9.6 .6l-.3 1.4m7.4-2.3l-.7 .8m7.6-.6l-1.3 .9m10.5-.9l-.3 .9m7.2-2.4l-.9-.1m8.4 1.7l-1.1 1m9.1-2.2l-.9 .2m9.4 1l-.4 1m7.4-1.2l-1 .8m8.7-1.7l-1 .2m10.2 .8l0 .9m7-1l-.5 .9m8.2-1l-.6 .8m8.8-.1l-.3 1.3m8.3-1.4l-.1 1.2m7.4-1.5l-.5 .9m9-.3l0 1.4m6-3l-1.2 .3m9.8 .3l-.6 .7m9.5 .2l.2 1.3m7.2-1.5l-.1 1.2m6.7-1.6l-.9 .9m9-.7l-.7 1m9.3-.3l-.1 1.5m5.7-4.1l-1.6-.2m10.7 1.7l-.7 .7m-239.1-6.2l0 1.2m6.5-2.8l-.9 .1m7.8 .4l-1.4 .5m9-.9l-1.6 .2m10.7 .5l-.7 .6m8-.1l-1 1m9.3-.9l-.6 1.1m9.3-.5l0 1.5m5.9-3.4l-1.2 .2m9.1 0l-1.1 .3m8.2-.8l-1.6 0m11 1.4l-.5 1m7.7-1.3l-.9 .7m8.8-.1l-.8 1.1m8.6-1.3l-.7 1m8.8-.6l-.6 1.3m7.7-2.2l-1 .7m9.1-.2l-.8 1m7.4-2l-1.5 .4m9.5-.2l-1.4 .4m9.5-1.3l-1.1-.1m10.3 2.5l-.2 1.5m6.3-2.5l-1.3 .8m9.3-1.9l-1.2 0m9 1.4l-1.2 1m10.8-.9l0 1.1m7-.5l-.4 1.5m7.4-3.5l-1 .1m10.1 1.9l-.1 1.4m7.3-2.2l-.5 1m8.5-.5l-.3 1.2m7.6-1.9l-.6 .8m-239.8-6.3l-.4 1.2m6.5-2.5l-1.4 .4m10.3 .1l-.7 .7m8.7-.4l-.5 .9m7.4-1.9l-1.1 .2m9.2 .4l-.9 .6m8.3-.2l-1.1 .9m9.3-1.3l-.8 .7m9.5-.4l-.2 .9m6.3-2.2l-1.4 0m9.5 1.5l-1.1 1m10.2-.1l-.2 1.5m6.4-2.7l-1.3 .8m10.5 .1l-.3 1.3m6.2-2.8l-1.5 .4m11.5 1.2l-.1 1.4m6.9-2.3l-.8 .8m9.9-.1l.1 1.3m5.8-2.1l-1.1 .8m9.6-.7l-.6 .9m7-2.4l-1.5-.2m9.9 .6l-1.1 .1m8.9 1.1l-1.1 .9m9.9 .1l-.4 1.5m7.4-2l-.9 1.2m10-1.3l0 1.2m6.3-1.6l-1 .9m10.4-.6l.1 1.1m6.2-1.3l-.8 1m8.9-.7l-.7 1.2m8.2-1l-.8 1.3m7.9-2.1l-1.3 .7m-239.2-7l-1 .6m9-.7l-.9 .6m9.8 .9l-.2 1.6m7.8-2.7l-.3 .9m7.3-.2l-.8 1.3m7.8-2.5l-1.3 .5m11.2 .5l.2 1.2m5.5-3.1l-1.3-.1m9.6 1.6l-.9 .9m8.2-1l-1.2 .8m10.8-.4l0 1.1m7.5-.7l-.2 1.4m6.3-3.4l-1.3 0m10.2 1.7l-.5 1.2m7.7-1.7l-.9 .8m9.2-.5l-.5 1m7.6-1.6l-1 .7m8.9-.3l-.9 .9m9.2-.9l-.6 .9m9.4-.2l.1 1.4m6.3-1.8l-.8 1.1m7.5-1.9l-1.5 .6m9.2-.8l-1.5 .5m9.7 0l-1.2 .8m10.4 .2l-.3 1.4m6.7-2.5l-1.2 .7m11 .4l.2 1.5m5.6-2.2l-1.1 1m9.8-.7l-.5 1.2m9.2-1.3l.1 1.1m6.5-1.8l-.7 .7m8.5-.2l-.7 1m-240.2-6.8l-.7 1.2m8.5-1.2l-.7 1.2m9-1.7l-.4 .9m6.7-2.4l-1.3-.1m11.2 1.8l.1 1m6.4-1.1l-.7 1m9.2-1l-.3 1m8.4-.3l-.1 1.4m7.5-1.8l-.3 1.1m7.4-1.2l-.7 1.1m7.5-2.5l-1.4 .2m10.6 1l-.4 .9m7.5-.4l-.9 1.3m8.7-2.1l-.8 .8m9.2-.2l-.4 1.2m7.1-2.3l-1.1 .4m9.5 .5l-.7 1m8.2-2.6l-.9 0m9.7 1.4l-.2 .9m7.5-.8l-.5 1m7.6-1.2l-1 .8m9.5-.9l-.5 .7m8 .2l-.7 1.4m8.2-2l-.8 1m8-1.9l-1.2 .4m10.1 .3l-.5 .8m7.6-.8l-.9 .8m9.4-.8l-.4 .8m7.8-.5l-.6 1m7.3-1.9l-1.4 .4m11.1 1.3l-.1 1.6m6-3.2l-1.3 .5m-239.1-5.7l-1 1.1m9.2-.7l-.8 1.4m7.5-3.9l-1.5-.3m10.7 2.8l-.5 1.4m8.9-1.2l-.1 1.5m7.8-2.2l-.2 1m7.2-1.5l-.7 .7m8-1.6l-1 .1m10.3 1.4l0 1.1m5.5-2.8l-1.5 0m9.7 .2l-1.2 .1m10 1l-.5 .8m8.1-.3l-.6 1.2m8.7-1.7l-.4 .9m7.5-.9l-.8 .8m8.8-.2l-.7 1.2m8.6-1.4l-.6 1.1m7.9-.8l-.9 1.3m8.1-2.6l-1.3 .4m10.1 0l-.6 .7m7.9-.9l-.9 .6m8.3-1.3l-1.1 .1m9.3-.4l-.9-.1m8.3 .7l-1.1 .3m9.3 .5l-.8 .8m8.4-.5l-.9 1.1m7.8-3l-1.5-.2m10.1 2l-1 1m9.2-1.1l-.6 .9m9.4 0l0 1.5m5.4-3.8l-1.5 0m10.1 1.4l-1 .9m-240.2-7.1l-1.3 .9m9.9-.6l-.7 1.1m8.7-.5l-.6 1.5m7.8-2.1l-.9 1.1m8.7-1.1l-.9 1.1m8.9-1.1l-.7 1.1m8.3-1.4l-.8 .9m9.5-.6l-.2 1.1m6.9-.8l-.9 1.3m9.1-1.6l-.7 1.1m8.5-1.8l-.7 .6m8.5-.5l-.6 .7m7.7-1.6l-1.1 .1m8.8-.2l-1.1 0m10.8 2.2l.2 1.5m5.5-2.4l-1.2 .9m8.8-1.9l-1.3 .2m11.2 1.7l.1 1.5m6-2.5l-1 .8m9.1 0l-.8 1.4m8.2-2.2l-1 .8m8.8-.4l-1 1.1m9.8-1.3l-.3 .9m7-1.1l-1 .8m9.2-.2l-.8 1.2m9.4-1.5l-.2 1m7.7-.6l-.4 1.3m7.7-1.3l-.7 1.3m8.8-2l-.5 .8m7.1-.5l-1.2 1m11-.6l.1 1.2m5.2-2.9l-1.5 .1m-238-5.5l-.7 .6m8.1-1.7l-.9-.1m8.6 1.8l-1 1.1m9.8-.6l-.3 1.4m8.7-1.3l.1 1.4m7.4-2l0 1.1m7.5-.5l-.2 1.5m6.6-2l-1.1 1.1m9-.9l-1 1.2m8.8-1.6l-1 .9m8.8-2l-1 .2m9.7 1l-.3 1.1m7.4-1.3l-.8 .9m8.3-1.2l-1 .7m9.7-.4l-.4 .9m7-1l-1.1 .9m9-1.1l-1.1 .7m10.4-.2l0 1m5.8-2.1l-1.4 .3m10.9 .5l-.2 .9m7.3 0l-.7 1.4m7.6-3l-1.2 .4m9.8 .3l-.6 .9m8.7-.8l-.5 .9m7.5-1.1l-1 .7m8.4-.8l-1.2 .7m9.7-.7l-.7 .7m8.5 .2l-.7 1.3m8.9-1.3l-.4 1.3m6.4-3.1l-1.6 .1m11.5 1.4l-.2 1.1m6.7-1.7l-1 .7m-239.5-6.2l-.8 1.1m7.8-3.1l-1.3-.2m10.1 1.6l-.7 .7m9.1-.1l-.2 1.1m7.1-2l-.8 .6m9.3 .7l-.3 1.4m6.9-3l-1.1 .3m9.4 .2l-.7 .7m8.4 .4l-.7 1.4m9.3-1.2l-.2 1.5m7-2.5l-.8 .8m8.6-.8l-.8 .9m7.7-2.5l-1.4-.2m9.4 1.7l-1.3 .8m10.4-.4l-.3 1.1m7.8-.5l-.5 1.5m7.8-2.7l-.8 .7m8.5 .2l-.9 1.3m8.3-1.6l-1.2 1.1m9.1-2.9l-1.1-.1m10.3 1.7l-.1 .9m5.9-1.7l-1.4 .4m10.9 .6l-.2 1m6.7-2.9l-1.1-.2m10.7 2.8l.1 1.6m6.5-2.9l-.6 .7m8-.3l-.9 .9m9.5-1l-.4 .8m7.6-1.2l-.8 .6m8.6 .4l-.7 1.2m7.9-1.7l-1.1 .9m9-1l-1 .8" stroke="#3b8bd0" stroke-width="1.2" opacity="0.5" fill="none"/><path d="M522.4 797.1l-2.6-1m10.4 1l1.3-2.7m6.5 2.7l0 4.2m-38.9-10.3l-2.3 3.3m10.1-3.3l1.2 3.7m6.5-3.7l-1.9 4.5m9.7-4.5l-1.5-4.5m9.3 4.5l2.8 3.5m5-3.5l-3.3-4.3m11 4.3l3.7 .9m-50.3-7.1l3.4-1.8m4.4 1.8l2.2 2.3m5.5-2.3l-3.1 .2m10.9-.2l-6.5 .2m14.3-.2l-2.2-3.2m10 3.2l-6.4-.8m14.1 .8l3.2-2.4m4.6 2.4l-3.2-3.2m11 3.2l-1.5-1.6m-68.5-4.5l-3.5-1.3m11.3 1.3l-4.3 .9m12.1-.9l-2.9-1.6m10.6 1.6l2.1-4.6m21.3 4.6l-5.6 .1m13.3-.1l2.9 4.8m4.9-4.8l2.4-2.2m-56.8-4l3.8-3.1m4 3.1l1.2-2.8m6.5 2.8l-6.1 .6m37.2-.6l-1.7 6.5m9.5-6.5l-1.7 5.7m9.5-5.7l-2.6 4.3m10.3-4.3l.1-2.6m-70-3.5l-2.1-1.9m9.9 1.9l1.4-3.1m6.3 3.1l-4.9-2.8m28.3 2.8l-.5-3.4m8.2 3.4l-2.7-4m10.5 4l-1.6-2.5m9.4 2.5l2.5-.1m-64.7-6.1l-3.3 2.1m11.1-2.1l-4.5 1.5m12.2-1.5l1.8 2.4m6-2.4l5-1.7m2.8 1.7l-2.8 1.8m10.6-1.8l-3.3-2.7m11 2.7l1.8-4.1m6 4.1l-1-5.3m8.8 5.3l-1.7 1.5m-60.5-7.6l3-.3m12.5 .3l-2.3-3.9m10.1 3.9l-.9-2.6m8.7 2.6l.1-3.9m7.7 3.9l-.5 3.3m8.2-3.3l0-2.7m7.8 2.7l-2.6-1.8m-36.3-4.3l-3.5 .4m11.3-.4l-2.6-2.8m10.4 2.8l-2.4-1.8m10.2 1.8l2.7 1.2m5-1.2l4.5 .2" stroke="#2e7fc6" stroke-width="0.6" opacity="0.8" fill="none"/><path d="M520.8 796.5l-1-.4m11.2-.7l.5-1m6.5 5.3l0 1.6m-40.3-8.3l-.9 1.3m10.9-1.1l.5 1.4m5.3-.9l-.7 1.7m8.7-7.2l-.6-1.7m11 6.6l1.1 1.3m2.9-6.1l-1.2-1.6m13.3 4.8l1.4 .4m-48.2-8.2l1.3-.7m5.8 3.3l.8 .9m3.6-2.2l-1.2 .1m6.9-.2l-2.5 .1m12.9-2.2l-.8-1.2m6 2.7l-2.4-.3m16.1-.7l1.2-.9m2.6 .5l-1.2-1.2m10 2.1l-.6-.6m-70.6-5.3l-1.3-.5m8.6 1.8l-1.7 .3m10.4-1.8l-1.1-.6m11.9-1.3l.8-1.7m17.8 4.6l-2.1 0m15.1 2.9l1.1 1.8m6.4-6.1l.9-.8m-54.4-5.9l1.5-1.2m4.6 1.4l.5-1.1m2.7 3.2l-2.3 .2m36.1 3.5l-.7 2.5m8.5-3.1l-.7 2.1m7.9-2.9l-1 1.6m10.5-5.9l0-1m-71.3-4.7l-.8-.7m10.7 0l.5-1.2m3.4 1.3l-1.9-1.1m28 .8l-.2-1.3m6.6 .9l-1-1.5m9.4 2.4l-.6-1m10.9 2.5l1 0m-66.7-4.7l-1.3 .8m8.3-1.2l-1.7 .6m13.4-.1l.7 .9m9-3.4l1.9-.6m1 2.8l-1.1 .7m8.6-3.5l-1.2-1m12.1 .1l.7-1.6m5.4 .9l-.4-2m7.7 6.2l-.7 .6m-58.5-7.9l1.1-.1m11.1-2.1l-.9-1.5m9.6 2.3l-.3-1m8.6 .2l0-1.5m7.5 6l-.2 1.3m8.2-5l0-1m6.2 1.5l-1-.7m-38.4-4.1l-1.3 .2m9.6-2.2l-1-1m8.9 1.7l-.9-.7m11.8 2.5l1 .4m7.9-1l1.7 .1" stroke="#2e7fc6" stroke-width="1.2" opacity="0.55" fill="none"/>
<path d="M150.3 893.5L17.6 833.2M150.3 893.5L319.3 847.2M17.6 833.2L17.6 701.6M319.3 847.2L319.3 715.6M192.6 881.9L59.8 821.6M117.1 878.4L286.1 832.1M59.8 821.6L59.8 690.0M286.1 832.1L286.1 700.5M234.8 870.3L102.1 810.0M83.9 863.3L252.9 817.0M102.1 810.0L102.1 678.4M252.9 817.0L252.9 685.4M277.1 858.8L144.3 798.4M50.8 848.3L219.8 801.9M144.3 798.4L144.3 666.8M219.8 801.9L219.8 670.3M319.3 847.2L186.6 786.9M17.6 833.2L186.6 786.9M186.6 786.9L186.6 655.3M186.6 786.9L186.6 655.3M17.6 833.2L186.6 786.9M186.6 786.9L319.3 847.2M17.6 806.9L186.6 760.5M186.6 760.5L319.3 820.9M17.6 780.5L186.6 734.2M186.6 734.2L319.3 794.5M17.6 754.2L186.6 707.9M186.6 707.9L319.3 768.2M17.6 727.9L186.6 681.6M186.6 681.6L319.3 741.9M17.6 701.6L186.6 655.3M186.6 655.3L319.3 715.6" stroke="#e2e2e2" stroke-width="0.6" fill="none"/><g filter="url(#spk)"><g mask="url(#mE)"><path d="M163.9 833.2l2-1.6l2.1-.6l2.1-.6l2.1-.7l2.1-.8l2-1.5l2.1-1.9l2.1 .1l2.1 3l2.1 3l2.1-.9l2-4.8l2.1-4.7l2.1-1.5l2.1 .9l2.1 .6l2-.4l2.1-.8l2.1-.7l2.1-.7l2.1-.1l2.1 .9l2 .1l2.1-2.9l2.1-5.2l2.1-3.5l2.1 1.1l2 3.6l2.1 1.9l2.1-.9l2.1-2l2.1-1.3l2.1-.7l2-.7l2.1-.5l2.1-.9l2.1-2.1l2.1-2.8l2-.6l2.1 3.1l2.1 3.9l2.1 .5l2.1-3.6l2.1-4.3l2-1.9l2.1 0l2.1 .1l2.1-.6l2.1-.7l2-.9l2.1-.9l2.1 .1l2.1 1.7l2.1 1.3l2.1-2.3l2-5.5l2.1-4.5l2.1-.3l2.1 2.6l2.1 1.7l2-.5l2.1-1.3l2.1-.9l2.1-.7l2.1-.6l2.1-.2l2-.6l2.1-2.6l2.1-3.8l2.1-1.8l2.1 2.5l2 4.3M161.6 832l2.1-1.1l2-.7l2.1-.7l2.1-.3l2.1-.3l2.1-2l2.1-3.8l2-2.9l2.1 1l2.1 4l2.1 2.8l2.1-1l2.1-2.9l2.1-2.3l2-.8l2.1-.6l2.1-.6l2.1-.7l2.1-1.3l2.1-2.2l2-1.5l2.1 1.5l2.1 3.7l2.1 2.1l2.1-2.2l2.1-4.7l2-3.3l2.1-.6l2.1 .4l2.1-.3l2.1-.7l2.1-.7l2.1-1l2-.8l2.1 .9l2.1 2.2l2.1 .7l2.1-3.3l2.1-5.6l2-3.4l2.1 .4l2.1 1.9l2.1 .7l2.1-.7l2.1-.9l2-.8l2.1-.6l2.1-.1l2.1 .6l2.1-.4l2.1-3.4l2.1-5l2-2.5l2.1 1.9l2.1 3.4l2.1 1.4l2.1-1.3l2.1-1.9l2-1.1l2.1-.7l2.1-.6l2.1-.4l2.1-.9l2.1-2.5l2.1-3.3l2-1.1l2.1 2.7l2.1 4l2.1 1.2l2.1-2.6l2.1-3.5l2-1.8M159.3 830.6l2.1-.7l2.1-.8l2-.5l2.1 .5l2.1 1.3l2.1-.5l2.1-3.8l2.1-5.2l2.1-2.5l2.1 1.3l2 2.5l2.1 .8l2.1-1l2.1-1.1l2.1-.7l2.1-.7l2.1-.2l2.1 .5l2-.5l2.1-3.1l2.1-4.8l2.1-2.6l2.1 1.5l2.1 3.3l2.1 1.5l2-1.1l2.1-1.7l2.1-1.1l2.1-.7l2.1-.6l2.1-.2l2.1-.5l2.1-2.4l2-4l2.1-2.6l2.1 1.4l2.1 3.9l2.1 2.1l2.1-1.1l2.1-2.6l2-1.7l2.1-.7l2.1-.7l2.1-.6l2.1-.6l2.1-1.7l2.1-3l2.1-2.3l2 1.1l2.1 3.9l2.1 2.6l2.1-1.1l2.1-3.4l2.1-2.6l2.1-.9l2-.5l2.1-.6l2.1-.7l2.1-1.1l2.1-2.1l2.1-1.9l2.1 .7l2.1 3.4l2 2.8l2.1-1l2.1-4.1l2.1-3.6l2.1-1.1l2.1 0l2.1-.3l2-.7l2.1-.8M157 829.6l2.1-.8l2.1-1.2l2.1-1.2l2.1 .6l2.1 2.7l2 2.1l2.1-1.7l2.1-4.6l2.1-3.9l2.1-1.1l2.1 .6l2.1 .1l2.1-.6l2.1-.7l2-1l2.1-1.3l2.1-.1l2.1 2.1l2.1 2.5l2.1-.3l2.1-4.1l2.1-4.6l2.1-2l2 .4l2.1 .5l2.1-.4l2.1-.7l2.1-.8l2.1-1.2l2.1-.7l2.1 1.3l2.1 2.7l2 .8l2.1-3.1l2.1-5l2.1-3.1l2.1-.1l2.1 .9l2.1 0l2.1-.7l2.1-.7l2.1-1l2-1l2.1 .5l2.1 2.4l2.1 1.7l2.1-2l2.1-4.8l2.1-4.1l2.1-.9l2.1 1l2 .4l2.1-.5l2.1-.7l2.1-.8l2.1-1.1l2.1-.1l2.1 1.8l2.1 2.1l2.1-.6l2-4.3l2.1-4.8l2.1-1.9l2.1 .7l2.1 1l2.1-.3l2.1-.7l2.1-.7l2.1-1l2-.6l2.1 1.1l2.1 2.3M154.7 828.7l2.1-1l2.1-2.1l2.1-2.7l2.1-.6l2.1 2.6l2.1 3.4l2.1 .7l2.1-2.6l2-3.2l2.1-1.6l2.1-.6l2.1-.7l2.1-.6l2.1-.6l2.1-1.8l2.1-3.2l2.1-2.3l2.1 1l2.1 3.6l2.1 2.3l2-1l2.1-2.7l2.1-2.1l2.1-.9l2.1-.6l2.1-.6l2.1-.4l2.1-1.2l2.1-3l2.1-3.6l2.1-1l2.1 2.6l2 3.3l2.1 .7l2.1-1.9l2.1-2.1l2.1-1.1l2.1-.7l2.1-.6l2.1-.2l2.1-.4l2.1-2.4l2.1-4.1l2.1-2.9l2 .8l2.1 3.2l2.1 2l2.1-.6l2.1-1.8l2.1-1.3l2.1-.7l2.1-.6l2.1-.1l2.1 .3l2.1-1.3l2.1-3.8l2-4.3l2.1-1.4l2.1 2.2l2.1 2.7l2.1 .5l2.1-1.2l2.1-1.3l2.1-.7l2.1-.7l2.1-.1l2.1 .7l2.1 .1l2-2.8l2.1-4.8l2.1-3.3l2.1 .4M152.4 828.2l2.1-.7l2.1-2.5l2.1-4.1l2.1-2.4l2.1 1.2l2.1 3.2l2.1 1.6l2.1-.9l2.1-1.7l2.1-1.1l2.1-.7l2.1-.6l2.1 .3l2.1 .6l2-1.1l2.1-4l2.1-4.4l2.1-1.6l2.1 1.8l2.1 2.1l2.1 .3l2.1-.9l2.1-.8l2.1-.7l2.1-.8l2.1 .3l2.1 1.7l2.1 1.1l2.1-2.2l2.1-4.7l2.1-3.8l2-.6l2.1 1.3l2.1 .6l2.1-.5l2.1-.7l2.1-.9l2.1-1.3l2.1-.5l2.1 1.7l2.1 2.8l2.1 .5l2.1-3.1l2.1-4.4l2.1-2.5l2.1-.2l2.1 .1l2.1-.5l2-.7l2.1-1l2.1-1.9l2.1-2.1l2.1 .3l2.1 2.9l2.1 2.9l2.1-.5l2.1-3.3l2.1-3.1l2.1-1.3l2.1-.5l2.1-.7l2.1-.6l2.1-.7l2.1-2.1l2.1-3.3l2.1-2.2l2 1.4l2.1 3.4l2.1 1.9l2.1-1.2l2.1-2.4l2.1-1.7M150.2 828.5l2 .4l2.1-2.2l2.1-4.5l2.1-3.6l2.1-.3l2.1 2l2.1 1.3l2.1-.3l2.1-.8l2.1-.7l2.1-1l2.1-.6l2.1 1.2l2.1 2.4l2.1 .8l2.1-2.7l2.1-4.5l2.1-2.9l2.1-.3l2.1 .3l2.1-.3l2.1-.7l2.1-.9l2.1-1.8l2.1-2.3l2.1-.5l2.1 2.4l2.1 3.1l2.1 .5l2.1-2.7l2-3.1l2.1-1.6l2.1-.7l2.1-.7l2.1-.4l2.1-.4l2.1-1.7l2.1-3.7l2.1-3.4l2.1-.2l2.1 2.8l2.1 2.4l2.1 0l2.1-1.6l2.1-1.3l2.1-.7l2.1-.7l2.1 .1l2.1 1l2.1 .3l2.1-2.6l2.1-4.6l2.1-3.3l2.1 .1l2.1 1.8l2.1 .8l2.1-.5l2.1-.7l2.1-.8l2-1.2l2.1-.4l2.1 1.6l2.1 2.6l2.1 .5l2.1-3.2l2.1-4.3l2.1-2.4l2.1-.2l2.1 0l2.1-.5l2.1-.7l2.1-1.1M147.9 828.7l2.1 1.6l2.1-1.1l2.1-4.1l2.1-4l2.1-1.3l2.1 .6l2.1 .3l2.1-.5l2.1-.7l2.1-1.1l2.1-2.2l2.1-1.9l2.1 .7l2.1 3.1l2.1 2.2l2.1-1.1l2.1-3.1l2.1-2.5l2.1-1l2-.7l2.1-.5l2.1-.1l2.1-.5l2.1-2.6l2.1-4.2l2.1-2.7l2.1 .8l2.1 2.7l2.1 1.3l2.1-.6l2.1-1.1l2.1-.7l2.1-.8l2.1-.4l2.1 1.1l2.1 2.1l2.1 .2l2.1-3.2l2.1-4.5l2.1-2.4l2.1 .1l2.1 .5l2.1-.3l2.1-.7l2.1-.9l2.1-2l2.1-2.3l2.1-.5l2.1 2.5l2.1 2.9l2.1 .2l2.1-2.6l2.1-2.8l2.1-1.4l2.1-.7l2.1-.6l2.1-.2l2.1-.1l2.1-1.7l2.1-4l2.1-3.6l2.1-.5l2.1 2.3l2.1 2l2.1 0l2.1-1.1l2.1-.8l2.1-.7l2.1-.7l2.1 .5l2.1 2.1l2.1 1.3M145.6 827.3l2.1 2.6l2.1-.2l2.1-3.4l2.1-3.7l2.1-1.7l2.1-.4l2.1-.6l2.1-.6l2.1-.5l2.1-1.5l2.1-3.4l2.1-3.4l2.1-.5l2.1 2.5l2.1 2.4l2.1 .1l2.1-1.5l2.1-1.1l2.1-.7l2.1-.7l2.1 .2l2.1 1.7l2.1 1.3l2.1-1.6l2.1-4.2l2.1-3.6l2.1-.9l2.1 .7l2.1 .1l2.1-.6l2.1-.7l2.1-1.5l2.1-2.6l2.1-2l2.1 .9l2.1 3l2.1 1.9l2.1-1.2l2.1-2.7l2.1-1.8l2.1-.9l2.1-.6l2.2-.2l2.1 .6l2.1-.1l2.1-2.7l2.1-4.4l2.1-2.8l2.1 .6l2.1 1.9l2.1 .7l2.1-.5l2.1-.7l2.1-1l2.1-1.5l2.1-.7l2.1 1.7l2.1 2.9l2.1 .7l2.1-2.6l2.1-3.7l2.1-2.2l2.1-.7l2.1-.5l2.1-.6l2.1-.4l2.1-1.1l2.1-3.1l2.1-3.9l2.1-1.5l2.1 1.9l2.1 2.6M143.3 824.1l2.1 2.8l2.1 .4l2.1-2.5l2.1-2.9l2.1-1.5l2.1-.7l2.1-.6l2.1 0l2.1 .6l2.1-1l2.1-3.6l2.1-4.1l2.2-1.3l2.1 1.4l2.1 1.6l2.1 .1l2.1-.7l2.1-.8l2.1-1.3l2.1-1.7l2.1-.1l2.1 2.4l2.1 2.5l2.1-.4l2.1-3.1l2.1-3l2.1-1.4l2.1-.7l2.1-.6l2.1-.1l2.1 .1l2.1-1.6l2.1-3.9l2.1-3.6l2.1-.6l2.1 2l2.1 1.6l2.2-.1l2.1-.7l2.1-.8l2.1-1.2l2.1-1.3l2.1 .5l2.1 2.7l2.1 2l2.1-1.3l2.1-3.6l2.1-2.9l2.1-1.2l2.1-.5l2.1-.7l2.1-.2l2.1-.3l2.1-2.2l2.1-4l2.1-3.1l2.1 .3l2.1 2.4l2.1 1.4l2.1-.3l2.1-.9l2.2-.7l2.1-1.1l2.1-.8l2.1 1l2.1 2.6l2.1 1.4l2.1-2l2.1-3.9l2.1-2.8l2.1-.8l2.1-.5M141 820.2l2.1 2.8l2.1 .7l2.1-1.6l2.1-1.8l2.1-.9l2.2-.7l2.1-.3l2.1 1.1l2.1 1.9l2.1 0l2.1-3.3l2.1-4.1l2.1-1.9l2.1 .1l2.1 .2l2.1-.6l2.1-.6l2.1-1.2l2.1-2.8l2.1-3.4l2.2-1.1l2.1 2l2.1 2.6l2.1 .4l2.1-1.4l2.1-1.3l2.1-.7l2.1-.8l2.1-.1l2.1 1.7l2.1 2.1l2.1-.4l2.1-3.6l2.1-3.8l2.1-1.6l2.1-.1l2.2-.3l2.1-.7l2.1-.5l2.1-1.4l2.1-3.4l2.1-3.5l2.1-.7l2.1 2.3l2.1 2.2l2.1 .2l2.1-1.2l2.1-.9l2.1-.7l2.1-1l2.1 .2l2.2 2.2l2.1 2.1l2.1-.9l2.1-3.7l2.1-3.4l2.1-1.4l2.1-.3l2.1-.6l2.1-.5l2.1-.4l2.1-1.7l2.1-3.8l2.1-3.4l2.1-.2l2.1 2.3l2.2 1.8l2.1-.1l2.1-.9l2.1-.7l2.1-1l2.1-1.2M138.7 817.5l2.1 2.6l2.1 .8l2.2-.8l2.1-1l2.1-.7l2.1-1.2l2.1-.5l2.1 1.6l2.1 2.6l2.1 .4l2.1-2.8l2.1-3.6l2.1-2l2.2-.7l2.1-.6l2.1-.4l2.1 .3l2.1-.7l2.1-3.1l2.1-4l2.1-1.7l2.1 1.3l2.1 1.8l2.1 .2l2.2-.6l2.1-.8l2.1-1.6l2.1-2.2l2.1-.9l2.1 1.9l2.1 2.6l2.1 .1l2.1-2.3l2.1-2.5l2.1-1.2l2.2-.7l2.1-.4l2.1 .9l2.1 1.5l2.1-.4l2.1-3.4l2.1-3.9l2.1-1.5l2.1 .5l2.1 .4l2.1-.5l2.2-.7l2.1-1.2l2.1-2.9l2.1-3.3l2.1-1l2.1 2.1l2.1 2.4l2.1 .2l2.1-1.4l2.1-1.1l2.1-.7l2.2-.9l2.1 0l2.1 2l2.1 2.2l2.1-.6l2.1-3.5l2.1-3.6l2.1-1.5l2.1-.4l2.1-.6l2.1-.4l2.2-.2l2.1-1.4l2.1-3.7l2.1-3.6M136.4 816.7l2.2 2.1l2.1 .6l2.1-.6l2.1-.7l2.1-1.3l2.1-2.2l2.1-1.3l2.1 1.4l2.1 2.7l2.2 .5l2.1-2.1l2.1-2.5l2.1-1.3l2.1-.7l2.1-.5l2.1 .9l2.1 1.9l2.2 .3l2.1-3l2.1-3.9l2.1-2l2.1 0l2.1 0l2.1-.6l2.1-.5l2.1-1l2.2-3l2.1-3.8l2.1-1.6l2.1 1.7l2.1 2.3l2.1 .6l2.1-.8l2.1-.7l2.1-1l2.2-1.5l2.1-.6l2.1 1.8l2.1 2.5l2.1 .1l2.1-2.9l2.1-3l2.1-1.6l2.2-.7l2.1-.6l2.1 .5l2.1 1.2l2.1-.4l2.1-3.2l2.1-3.9l2.1-1.4l2.1 .7l2.2 .7l2.1-.5l2.1-.6l2.1-1.2l2.1-2.8l2.1-3.4l2.1-1.1l2.1 2l2.1 2.3l2.2 .3l2.1-1.3l2.1-1l2.1-.8l2.1-1l2.1-.1l2.1 2l2.1 2.3l2.1-.4l2.2-3.3l2.1-3.4M134.2 817.3l2.1 1.2l2.1 0l2.1-.6l2.1-.9l2.1-2.3l2.1-3.4l2.2-1.8l2.1 1.3l2.1 2.6l2.1 .7l2.1-1.2l2.1-1.2l2.1-.7l2.2-1l2.1-.6l2.1 1.5l2.1 2.5l2.1 .4l2.1-2.8l2.1-3.5l2.2-1.9l2.1-.8l2.1-.6l2.1 .1l2.1 1l2.1-.2l2.1-2.9l2.2-3.8l2.1-1.7l2.1 .8l2.1 .8l2.1-.3l2.1-.7l2.1-1.1l2.1-2.6l2.2-3.6l2.1-1.5l2.1 1.7l2.1 2.4l2.1 .5l2.1-1.1l2.1-.9l2.2-.8l2.1-1.3l2.1-.5l2.1 1.8l2.1 2.4l2.1 0l2.1-3l2.2-3.2l2.1-1.5l2.1-.7l2.1-.6l2.1 .6l2.1 1.3l2.1-.3l2.2-3.2l2.1-3.7l2.1-1.4l2.1 .7l2.1 .3l2.1-.6l2.1-.6l2.2-1.3l2.1-3l2.1-3.6l2.1-1.2l2.1 2l2.1 2.3l2.1 .2l2.2-.9l2.1-.7M131.9 817.8l2.1 .3l2.1-.5l2.1-.6l2.1-.8l2.2-2.8l2.1-3.9l2.1-1.8l2.1 1.5l2.1 2.2l2.1 .7l2.2-.7l2.1-.7l2.1-1.4l2.1-2.3l2.1-1.4l2.1 1.4l2.2 2.4l2.1 .2l2.1-2l2.1-2.1l2.1-.9l2.1-.8l2.2-.3l2.1 1.5l2.1 2.3l2.1 .3l2.1-3.1l2.1-3.7l2.2-1.9l2.1-.5l2.1-.7l2.1-.2l2.1 .5l2.1-.4l2.2-3l2.1-3.7l2.1-1.3l2.1 1.2l2.1 1l2.1-.3l2.2-.6l2.1-1.1l2.1-2.8l2.1-3.5l2.1-1.3l2.1 1.8l2.1 2.3l2.2 .3l2.1-1.1l2.1-.8l2.1-.9l2.1-1.5l2.1-.5l2.2 1.9l2.1 2.2l2.1-.4l2.1-3l2.1-2.7l2.1-1.2l2.2-.7l2.1-.3l2.1 1.1l2.1 1.9l2.1-.4l2.1-3.3l2.2-3.6l2.1-1.3l2.1 .1l2.1-.4l2.1-.6l2.1-.2l2.2-1.3M129.6 817.8l2.1-.5l2.1-.5l2.1 .1l2.2-.3l2.1-2.8l2.1-3.7l2.1-1.5l2.1 1.2l2.2 1.4l2.1-.1l2.1-.6l2.1-1l2.1-2.6l2.2-3.6l2.1-1.7l2.1 1.6l2.1 2.4l2.1 .4l2.2-.9l2.1-.8l2.1-1l2.1-1.8l2.1-.9l2.1 1.6l2.2 2.3l2.1-.2l2.1-2.7l2.1-2.4l2.1-1.1l2.2-.7l2.1-.2l2.1 1.5l2.1 2.3l2.1-.1l2.2-3.2l2.1-3.6l2.1-1.7l2.1-.5l2.1-.6l2.1-.1l2.2 .6l2.1-.6l2.1-3.2l2.1-3.4l2.1-.9l2.2 1.2l2.1 .7l2.1-.5l2.1-.6l2.1-1.4l2.2-3.1l2.1-3.6l2.1-.8l2.1 2.1l2.1 2l2.2 .1l2.1-.8l2.1-.8l2.1-1.5l2.1-2.2l2.1-.5l2.2 2l2.1 1.9l2.1-.8l2.1-2.5l2.1-1.7l2.2-.8l2.1-.7l2.1 .2l2.1 2l2.1 2l2.2-.9M127.3 817l2.1-.6l2.2 .1l2.1 1.3l2.1 .2l2.1-2.7l2.1-3.6l2.2-1.4l2.1 .4l2.1 .1l2.1-.6l2.1-.4l2.2-.9l2.1-3.1l2.1-3.6l2.1-1.1l2.1 1.8l2.2 1.7l2.1 .1l2.1-.7l2.1-1l2.2-2.5l2.1-3.4l2.1-1.3l2.1 1.8l2.1 2.2l2.2 0l2.1-1.1l2.1-.8l2.1-1.1l2.1-1.7l2.2-.5l2.1 1.8l2.1 2l2.1-.8l2.2-2.8l2.1-2.2l2.1-.9l2.1-.7l2.1 .1l2.2 1.9l2.1 2.1l2.1-.7l2.1-3.6l2.1-3.3l2.2-1.3l2.1-.6l2.1-.6l2.1 .6l2.2 1.1l2.1-.8l2.1-3.4l2.1-3.1l2.1-.5l2.2 .7l2.1-.2l2.1-.6l2.1-.4l2.1-1.7l2.2-3.6l2.1-3.1l2.1 .1l2.1 2.2l2.2 1.3l2.1-.3l2.1-.7l2.1-1.4l2.1-3l2.2-2.9l2.1-.1l2.1 2.3l2.1 1.5l2.1-.7M125 816l2.1-.4l2.2 1.2l2.1 2.1l2.1 .2l2.1-3l2.2-3.6l2.1-1.6l2.1-.4l2.1-.6l2.2-.1l2.1 .8l2.1-.4l2.1-3l2.2-3.3l2.1-.8l2.1 1l2.1 .3l2.2-.6l2.1-.5l2.1-1.3l2.1-3.4l2.1-3.4l2.2-.5l2.1 2.2l2.1 1.5l2.1-.1l2.2-.7l2.1-1.2l2.1-2.9l2.1-3.3l2.2-.7l2.1 2.2l2.1 1.8l2.1-.3l2.2-1l2.1-.8l2.1-1.5l2.1-2l2.2-.3l2.1 2.1l2.1 1.4l2.1-1.4l2.1-2.4l2.2-1.3l2.1-.7l2.1-.9l2.1 .5l2.2 2.4l2.1 1.5l2.1-1.9l2.1-3.6l2.2-2.5l2.1-1l2.1-.6l2.1 .2l2.2 1.9l2.1 1.5l2.1-1.7l2.1-3.8l2.2-2.6l2.1-.6l2.1-.4l2.1-.6l2.1 .4l2.2 .4l2.1-1.9l2.1-3.6l2.1-2.1l2.2 .6l2.1 .9l2.1-.3l2.1-.6M122.7 815.1l2.2-.2l2.1 1.7l2.1 2.3l2.1-.3l2.2-3.5l2.1-3.3l2.1-1.5l2.1-.7l2.2-.3l2.1 1.1l2.1 2l2.2-.4l2.1-3.3l2.1-3.2l2.1-1.1l2.2-.3l2.1-.6l2.1 .1l2.1 .7l2.2-.8l2.1-3.3l2.1-2.8l2.1-.2l2.2 .9l2.1-.1l2.1-.6l2.1-.4l2.2-1.6l2.1-3.7l2.1-2.8l2.2 .5l2.1 2.1l2.1 .9l2.1-.5l2.2-.8l2.1-1.8l2.1-3.7l2.1-2.9l2.2 .5l2.1 2.5l2.1 1.2l2.1-.5l2.2-.7l2.1-1.2l2.1-2.7l2.1-2.5l2.2 .4l2.1 2.3l2.1 .8l2.2-1.3l2.1-1.2l2.1-.8l2.1-1.4l2.2-1.3l2.1 .8l2.1 2.2l2.1 .3l2.2-2.4l2.1-2.5l2.1-1.1l2.1-.7l2.2-.5l2.1 1.4l2.1 2.4l2.2 .2l2.1-3l2.1-3.5l2.1-1.7l2.2-.7l2.1-.4l2.1 1.1l2.1 2.2M120.5 813.7l2.1-.2l2.1 1.8l2.1 1.9l2.2-1.1l2.1-3.3l2.1-2.5l2.2-1l2.1-.6l2.1 .1l2.1 2.1l2.2 2l2.1-1.2l2.1-3.8l2.2-2.9l2.1-1.1l2.1-.7l2.1 0l2.2 1.7l2.1 1.8l2.1-1.2l2.2-3.7l2.1-2.8l2.1-.7l2.1-.6l2.2-.4l2.1 .9l2.1 .9l2.2-1.5l2.1-3.5l2.1-2.1l2.1 .1l2.2 .1l2.1-.6l2.1-.1l2.2 0l2.1-2.1l2.1-3.6l2.1-1.6l2.2 1.1l2.1 1.1l2.1-.2l2.2-.6l2.1-.9l2.1-2.7l2.2-3.7l2.1-1.5l2.1 1.8l2.1 1.9l2.2 .2l2.1-.7l2.1-1l2.2-2.8l2.1-3.8l2.1-1.4l2.1 1.8l2.2 2.2l2.1 .3l2.1-.7l2.2-.9l2.1-2.2l2.1-3.2l2.1-1.2l2.2 1.7l2.1 1.9l2.1-.3l2.2-1.2l2.1-.8l2.1-1.4l2.1-2.1l2.2-.6l2.1 1.8l2.1 1.4M118.2 811.7l2.1-.6l2.1 1.8l2.2 1.4l2.1-1.4l2.1-2.5l2.2-1.3l2.1-.8l2.1-1.1l2.2 .2l2.1 2.2l2.1 1.2l2.1-2.1l2.2-3.2l2.1-1.8l2.1-.8l2.2-.6l2.1 .7l2.1 2.5l2.2 1.1l2.1-2.5l2.1-3.7l2.2-2.1l2.1-.8l2.1-.5l2.2 .8l2.1 2.5l2.1 .9l2.1-2.6l2.2-3.8l2.1-2l2.1-.8l2.2-.6l2.1 .7l2.1 2.1l2.2 .6l2.1-2.7l2.1-3.6l2.2-1.6l2.1-.4l2.1-.6l2.2 .2l2.1 1.4l2.1 0l2.1-2.9l2.2-3.1l2.1-.8l2.1 .2l2.2-.5l2.1-.2l2.1 .5l2.2-.8l2.1-3.1l2.1-2.7l2.2 0l2.1 1l2.1-.1l2.2-.6l2.1-.2l2.1-1.6l2.1-3.5l2.2-2.4l2.1 .7l2.1 1.8l2.2 .3l2.1-.6l2.1-.7l2.2-2.2l2.1-3.8l2.1-2.3l2.2 1.2l2.1 2.3l2.1 .6M115.9 809l2.1-.7l2.2 1.8l2.1 1.2l2.1-1l2.2-1.5l2.1-.7l2.1-1.6l2.2-1.9l2.1 0l2.1 2l2.2 .5l2.1-1.8l2.1-1.9l2.2-.8l2.1-1.2l2.1-1.3l2.2 .8l2.1 2l2.1 0l2.2-2.6l2.1-2.2l2.1-.9l2.2-.9l2.1-.7l2.1 1.4l2.2 2.1l2.1-.7l2.1-3.1l2.2-2.6l2.1-.9l2.1-.8l2.2-.1l2.1 1.9l2.1 2l2.2-1.1l2.1-3.7l2.1-2.7l2.2-1l2.1-.6l2.1 .2l2.2 2.2l2.1 1.9l2.1-1.6l2.2-3.9l2.1-2.6l2.1-1l2.2-.7l2.1 .5l2.1 2.3l2.2 1.6l2.1-2l2.1-3.9l2.2-2.4l2.1-.9l2.1-.6l2.2 .4l2.1 2.2l2.1 1.1l2.2-2.3l2.1-3.7l2.1-2l2.2-.5l2.1-.7l2.1 .3l2.2 1.8l2.1 .6l2.1-2.6l2.2-3.4l2.1-1.3l2.1-.2l2.2-.6l2.1 .1M113.6 806.1l2.1-.3l2.2 2.3l2.1 1.2l2.1-.7l2.2-.8l2.1-1.2l2.2-2.9l2.1-2.6l2.1 .4l2.2 2.2l2.1 .5l2.1-1l2.2-.8l2.1-1.3l2.1-2.8l2.2-1.9l2.1 1l2.2 1.9l2.1-.2l2.1-1.3l2.2-.9l2.1-1.3l2.1-2.5l2.2-1.2l2.1 1.5l2.1 1.4l2.2-.9l2.1-1.6l2.2-.8l2.1-1.3l2.1-2.2l2.2-.4l2.1 1.8l2.1 .9l2.2-1.6l2.1-1.8l2.1-.9l2.2-1.3l2.1-1.6l2.2 .3l2.1 1.9l2.1 .2l2.2-2.2l2.1-1.9l2.1-.8l2.2-1.2l2.1-1.2l2.1 1l2.2 1.9l2.1-.5l2.1-2.7l2.2-2l2.1-.7l2.2-1.1l2.1-.6l2.1 1.6l2.2 1.7l2.1-1.2l2.1-3.2l2.2-1.9l2.1-.8l2.1-.9l2.2 .1l2.1 2l2.2 1.3l2.1-1.9l2.1-3.4l2.2-1.9l2.1-.7l2.1-.7l2.2 .6l2.1 2.4M111.3 803.8l2.2 .7l2.1 2.6l2.1 1l2.2-.6l2.1-.8l2.1-2.2l2.2-3.9l2.1-2.1l2.2 1.5l2.1 2.3l2.1 .4l2.2-.6l2.1-1l2.2-2.7l2.1-3.8l2.1-1.2l2.2 2.1l2.1 1.9l2.2-.1l2.1-.7l2.1-1.2l2.2-3.1l2.1-3.5l2.1-.3l2.2 2.4l2.1 1.4l2.2-.4l2.1-.7l2.1-1.6l2.2-3.5l2.1-2.9l2.2 .7l2.1 2.4l2.1 .8l2.2-.6l2.1-.8l2.1-2l2.2-3.7l2.1-2.1l2.2 1.5l2.1 2.1l2.1 .3l2.2-.8l2.1-.8l2.2-2.5l2.1-3.6l2.1-1.2l2.2 2l2.1 1.7l2.2-.2l2.1-.8l2.1-1.1l2.2-2.9l2.1-3.2l2.1-.3l2.2 2.3l2.1 1.1l2.2-.6l2.1-.7l2.1-1.4l2.2-3.2l2.1-2.7l2.2 .6l2.1 2.3l2.1 .5l2.2-.9l2.1-.7l2.1-1.7l2.2-3.4l2.1-1.9l2.2 1.3l2.1 2M109 802.9l2.2 1.6l2.1 2.4l2.2 .3l2.1-.6l2.1-1.1l2.2-3l2.1-3.8l2.2-.8l2.1 2.4l2.1 1.7l2.2-.2l2.1-.7l2.2-1.5l2.1-3.5l2.2-3.2l2.1 .5l2.1 2.5l2.2 1l2.1-.5l2.2-.8l2.1-2.1l2.1-3.8l2.2-2.2l2.1 1.6l2.2 2.2l2.1 .3l2.1-.6l2.2-1l2.1-2.8l2.2-3.7l2.1-.9l2.2 2.2l2.1 1.7l2.1-.3l2.2-.6l2.1-1.4l2.2-3.3l2.1-3.2l2.1 .4l2.2 2.3l2.1 .9l2.2-.5l2.1-.7l2.1-1.9l2.2-3.6l2.1-2.2l2.2 1.3l2.1 2.1l2.2 .2l2.1-.6l2.1-.8l2.2-2.5l2.1-3.6l2.2-1.1l2.1 2l2.1 1.5l2.2-.3l2.1-.6l2.2-1l2.1-3.2l2.1-3.1l2.2 .2l2.1 2.1l2.2 .8l2.1-.6l2.1-.5l2.2-1.6l2.1-3.5l2.2-2.2l2.1 1.1l2.2 1.8l2.1 .1M106.7 803.1l2.2 2l2.1 1.5l2.2-.3l2.1-.5l2.2-1.1l2.1-3.1l2.2-2.9l2.1 .4l2.1 2l2.2 .4l2.1-.6l2.2-.3l2.1-1.5l2.2-3.3l2.1-1.8l2.1 1.2l2.2 1.3l2.1-.4l2.2-.3l2.1-.2l2.2-2.2l2.1-3.1l2.2-.6l2.1 1.3l2.1 .3l2.2-.5l2.1 .2l2.2-.4l2.1-2.8l2.2-2.5l2.1 .2l2.1 .8l2.2-.4l2.1-.1l2.2 .7l2.1-1.1l2.2-3.1l2.1-1.7l2.2 .5l2.1 .1l2.1-.6l2.2 .8l2.1 .6l2.2-2l2.1-3l2.2-1l2.1 .2l2.1-.4l2.2 0l2.1 1.4l2.2 0l2.1-2.8l2.2-2.7l2.1-.5l2.1-.2l2.2-.5l2.1 1l2.2 1.6l2.1-1.1l2.2-3.4l2.1-2l2.2-.4l2.1-.6l2.1 .1l2.2 1.9l2.1 1l2.2-2.3l2.1-3.5l2.2-1.4l2.1-.6l2.1-.5l2.2 1.2M104.5 804l2.1 1.6l2.2 .4l2.1-.6l2.1 .2l2.2-.8l2.1-2.9l2.2-2.1l2.1 .6l2.2 .7l2.1-.5l2.2 .2l2.1 .7l2.2-1.6l2.1-3l2.2-1.2l2.1 .4l2.1-.3l2.2-.2l2.1 1.3l2.2 .4l2.1-2.5l2.2-2.8l2.1-.7l2.2-.2l2.1-.6l2.2 1.1l2.1 1.8l2.2-.8l2.1-3.4l2.1-2.3l2.2-.6l2.1-.6l2.2 .3l2.1 2.2l2.2 1.2l2.1-2.5l2.2-3.6l2.1-1.7l2.2-.7l2.1-.3l2.2 1.6l2.1 2.5l2.1-.6l2.2-3.8l2.1-3l2.2-1.1l2.1-.6l2.2 .5l2.1 2.6l2.2 1.3l2.1-2.6l2.2-3.9l2.1-2l2.2-.7l2.1-.4l2.1 1.6l2.2 2.4l2.1-.6l2.2-3.7l2.1-3.1l2.2-1l2.1-.7l2.2 .2l2.1 2.1l2.2 1.2l2.1-2.3l2.2-3.6l2.1-1.6l2.1-.8l2.2-.9l2.1 .8l2.2 2M102.2 804.7l2.1 .8l2.2-.5l2.1 .2l2.2 1.1l2.1-.7l2.2-3.1l2.1-1.8l2.2 0l2.1-.4l2.2-.1l2.1 1.7l2.2 1.1l2.1-2.3l2.2-3.3l2.1-1.4l2.2-.5l2.1-.4l2.2 1.6l2.1 2.3l2.2-.7l2.1-3.8l2.1-2.8l2.2-.9l2.1-.6l2.2 .8l2.1 2.6l2.2 1l2.1-3l2.2-3.8l2.1-1.7l2.2-.7l2.1-.1l2.2 1.9l2.1 2.2l2.2-1.5l2.1-4l2.2-2.4l2.1-.9l2.2-.7l2.1 .6l2.2 2.1l2.1 .3l2.2-3l2.1-2.9l2.2-1.1l2.1-1l2.2-.9l2.1 1.1l2.2 1.4l2.1-1.3l2.2-2.7l2.1-1.3l2.2-1l2.1-2l2.2-.7l2.1 1.5l2.1 .6l2.2-1.7l2.1-1.4l2.2-.9l2.1-2.4l2.2-2.5l2.1 .5l2.2 1.8l2.1-.1l2.2-1.2l2.1-.7l2.2-2.2l2.1-3.6l2.2-1.3l2.1 2l2.2 1.5M99.9 804.9l2.1-.2l2.2-.4l2.1 1.4l2.2 1.8l2.2-1.6l2.1-3.5l2.2-1.8l2.1-.6l2.2-.5l2.1 1.2l2.2 2.7l2.1-.1l2.2-3.7l2.1-3.2l2.2-1.1l2.1-.7l2.2 .6l2.1 2.6l2.2 1.2l2.1-2.9l2.2-3.9l2.1-1.7l2.2-.7l2.1-.4l2.2 1.6l2.1 1.9l2.2-1.5l2.1-3.6l2.2-2l2.1-.8l2.2-1.2l2.1-.2l2.2 1.7l2.1 .2l2.2-2.4l2.1-2l2.2-.8l2.1-1.9l2.2-1.9l2.1 .6l2.2 1.5l2.1-.7l2.2-1.5l2.1-.8l2.2-2.1l2.1-3.3l2.2-.9l2.1 1.9l2.2 1.1l2.1-.7l2.2-.7l2.2-1.9l2.1-3.9l2.2-2.4l2.1 1.5l2.2 2.4l2.1 .2l2.2-.6l2.1-1.4l2.2-3.5l2.1-3.5l2.2 .4l2.1 2.8l2.2 1l2.1-.5l2.2-.8l2.1-2.4l2.2-3.6l2.1-1l2.2 2.1l2.1 1.4l2.2-.5M97.6 804.3l2.2-.5l2.1 .3l2.2 2.6l2.1 1.2l2.2-2.9l2.1-3.7l2.2-1.6l2.1-.7l2.2 .1l2.1 2.3l2.2 2l2.2-2.1l2.1-4.1l2.2-2.2l2.1-.7l2.2-.7l2.1 1.1l2.2 2l2.1-.9l2.2-3.4l2.1-2.1l2.2-.8l2.1-1.6l2.2-.8l2.1 1.4l2.2 .6l2.2-1.9l2.1-1.7l2.2-.8l2.1-2.4l2.2-2.6l2.1 .4l2.2 1.8l2.1-.1l2.2-1l2.1-.9l2.2-2.7l2.1-3.8l2.2-.8l2.2 2.4l2.1 1.5l2.2-.4l2.1-.8l2.2-2.4l2.1-4.1l2.2-1.8l2.1 2.2l2.2 2.2l2.1-.1l2.2-.6l2.1-1.3l2.2-3.4l2.1-2.5l2.2 1.2l2.2 1.9l2.1 0l2.2-.4l2.1 .1l2.2-1.8l2.1-2.8l2.2-.6l2.1 1l2.2-.2l2.1-.1l2.2 1.4l2.1 0l2.2-2.8l2.2-2.3l2.1-.5l2.2-.4l2.1 0l2.2 2.2M95.3 803.5l2.2-.5l2.1 1.4l2.2 2.8l2.2-.3l2.1-3.9l2.2-3.2l2.1-1.1l2.2-.7l2.1 .6l2.2 2.2l2.1 .3l2.2-3.2l2.2-2.9l2.1-1l2.2-1.3l2.1-1.2l2.2 1l2.1 1l2.2-1.5l2.1-1.9l2.2-.9l2.2-2.1l2.1-3l2.2-.3l2.1 1.9l2.2 .4l2.1-.8l2.2-.9l2.2-2.5l2.1-4.2l2.2-1.1l2.1 2.4l2.2 1.8l2.1-.3l2.2-.7l2.1-2.2l2.2-4l2.2-1.7l2.1 2.1l2.2 2l2.1-.2l2.2-.4l2.1-.9l2.2-2.8l2.1-2.2l2.2 .8l2.2 1.2l2.1-.4l2.2 .2l2.1 1l2.2-1.3l2.1-2.9l2.2-1.1l2.2 0l2.1-.6l2.2 .9l2.1 2.5l2.2-.2l2.1-3.5l2.2-2.9l2.1-.9l2.2-.6l2.2 1l2.1 2.8l2.2 .5l2.1-3.6l2.2-3.5l2.1-1.3l2.2-.7l2.1 0l2.2 2l2.2 .9M93 802.5l2.2-.1l2.2 2l2.1 2l2.2-1.9l2.1-4l2.2-2l2.2-.8l2.1-1.1l2.2 .5l2.1 1.5l2.2-.9l2.1-2.7l2.2-1.3l2.2-1.2l2.1-2.8l2.2-1.4l2.1 1.5l2.2 .9l2.2-.9l2.1-.8l2.2-1.8l2.1-4.1l2.2-2.3l2.1 1.8l2.2 2.3l2.2 .1l2.1-.7l2.2-1.8l2.1-3.8l2.2-2.5l2.2 1.7l2.1 2.4l2.2-.1l2.1-.4l2.2-.4l2.1-2.4l2.2-2.5l2.2 .4l2.1 1.1l2.2-.5l2.1 .5l2.2 1.5l2.2-1l2.1-3.1l2.2-1.6l2.1-.3l2.2-.6l2.1 1.3l2.2 2.8l2.2-.3l2.1-3.9l2.2-3l2.1-1l2.2-.6l2.2 1.1l2.1 2.6l2.2-.2l2.1-3.8l2.2-2.9l2.2-1l2.1-1.1l2.2-.5l2.1 1.5l2.2 .4l2.1-2.3l2.2-2l2.2-.8l2.1-2.4l2.2-2.5l2.1 .5l2.2 1.7l2.2-.3M90.8 801.5l2.1 .1l2.2 2l2.1 .8l2.2-2.9l2.2-3l2.1-1l2.2-1.5l2.1-1.8l2.2 .5l2.2 1.2l2.1-1l2.2-1.4l2.2-.9l2.1-3l2.2-3.5l2.1 0l2.2 2.5l2.2 .7l2.1-.6l2.2-1.1l2.1-3.4l2.2-3.7l2.2 .4l2.1 2.9l2.2 .8l2.1-.5l2.2-.4l2.2-2l2.1-2.9l2.2-.2l2.1 1.5l2.2-.1l2.2-.1l2.1 1.6l2.2-.2l2.2-3l2.1-2l2.2-.4l2.1-.6l2.2 .9l2.2 2.9l2.1 .3l2.2-3.7l2.1-3.4l2.2-1.1l2.2-.6l2.1 .8l2.2 2.4l2.1 0l2.2-3.6l2.2-2.8l2.1-.9l2.2-1.5l2.1-1l2.2 1.1l2.2 .6l2.1-1.8l2.2-1.4l2.2-1.1l2.1-3.1l2.2-2.9l2.1 .9l2.2 2.1l2.2 0l2.1-.7l2.2-1.4l2.1-3.9l2.2-3.2l2.2 1.3l2.1 2.8l2.2 .4l2.1-.6M88.5 800.3l2.1 0l2.2 1.7l2.2-.4l2.1-2.8l2.2-1.6l2.2-1l2.1-2.9l2.2-2l2.1 1.3l2.2 1.2l2.2-.6l2.1-.7l2.2-2l2.2-4.3l2.1-2.2l2.2 2.2l2.2 2.3l2.1-.1l2.2-.6l2.1-1.6l2.2-3.4l2.2-1.5l2.1 1.8l2.2 1.2l2.2-.5l2.1 .7l2.2 .4l2.1-2.2l2.2-2.3l2.2-.3l2.1-.4l2.2 0l2.2 2.5l2.1 1.7l2.2-2.8l2.2-3.9l2.1-1.5l2.2-.7l2.1 .3l2.2 2.4l2.2 .9l2.1-3.2l2.2-3.4l2.2-1.1l2.1-1.2l2.2-1.4l2.2 .8l2.1 .8l2.2-1.5l2.1-1.5l2.2-.9l2.2-3.1l2.1-3.3l2.2 .6l2.2 2.3l2.1 .4l2.2-.7l2.2-1.4l2.1-3.8l2.2-3.1l2.1 1.3l2.2 2.7l2.2 .3l2.1-.5l2.2-.4l2.2-2.4l2.1-2.4l2.2 .6l2.2 .9l2.1-.5l2.2 .9l2.1 1.8M86.2 798.5l2.2 0l2.1 1.3l2.2-.8l2.2-1.9l2.1-.9l2.2-2.2l2.2-3.9l2.1-.9l2.2 2.4l2.1 1.1l2.2-.5l2.2-1l2.1-3.2l2.2-3.7l2.2 .3l2.1 2.8l2.2 .7l2.2-.5l2.1 .1l2.2-1.5l2.2-2.7l2.1-.3l2.2 .8l2.2-.5l2.1 .9l2.2 2.4l2.2-.7l2.1-3.6l2.2-2.3l2.2-.8l2.1-.3l2.2 2l2.2 2.4l2.1-1.8l2.2-4.3l2.2-2l2.1-.8l2.2-1.3l2.2 .5l2.1 1.2l2.2-1.3l2.2-2.2l2.1-.9l2.2-2.2l2.2-3.6l2.1-.5l2.2 2.2l2.2 .8l2.1-.6l2.2-1.2l2.2-3.4l2.1-3.7l2.2 .7l2.1 2.9l2.2 .6l2.2-.5l2.1-.3l2.2-2l2.2-2.5l2.1 .2l2.2 .9l2.2-.4l2.1 .9l2.2 2.1l2.2-1.1l2.1-3.5l2.2-1.8l2.2-.7l2.1-.2l2.2 2.3l2.2 2.2l2.1-2.2M83.9 796.3l2.2 .2l2.1 1.2l2.2-.7l2.2-1.1l2.1-1.1l2.2-3.7l2.2-3.5l2.2 1.1l2.1 2.8l2.2 .4l2.2-.7l2.1-1.3l2.2-3.3l2.2-2l2.1 1.7l2.2 1.4l2.2-.4l2.1 .8l2.2 .8l2.2-2.1l2.1-2.5l2.2-.6l2.2-.5l2.1 .4l2.2 2.9l2.2 1.2l2.2-3.6l2.1-3.8l2.2-1.2l2.2-.7l2.1 .2l2.2 1.9l2.2-.4l2.1-3.1l2.2-1.9l2.2-1l2.1-2.9l2.2-1.8l2.2 1.3l2.1 1.1l2.2-.7l2.2-.8l2.1-2.5l2.2-4.4l2.2-1.1l2.2 2.9l2.1 1.7l2.2-.5l2.2-.4l2.1-1.8l2.2-2.9l2.2-.3l2.1 1.5l2.2-.1l2.2 .2l2.1 2.1l2.2-.2l2.2-3.3l2.1-2.2l2.2-.7l2.2-.3l2.1 1.9l2.2 2.6l2.2-1.6l2.1-4.4l2.2-2.2l2.2-.8l2.2-1.1l2.1 .6l2.2 1.2l2.2-1.6l2.1-2.2M81.6 793.9l2.2 .8l2.2 1.5l2.1-.5l2.2-.8l2.2-2.1l2.1-4.4l2.2-1.7l2.2 2.7l2.2 2l2.1-.5l2.2-.2l2.2-1.3l2.1-2.7l2.2-.7l2.2 1.2l2.2-.3l2.1 .5l2.2 2.5l2.2-.1l2.1-3.6l2.2-2.5l2.2-.8l2.1-.3l2.2 1.9l2.2 2.2l2.2-2.1l2.1-4.1l2.2-1.6l2.2-1.1l2.1-1.9l2.2 .2l2.2 1.1l2.2-1l2.1-1.4l2.2-1l2.2-3.6l2.1-3.6l2.2 1.1l2.2 2.8l2.2 .3l2.1-.7l2.2-1.5l2.2-3.4l2.1-1.7l2.2 2l2.2 1.2l2.2-.4l2.1 1l2.2 .7l2.2-2.4l2.1-2.3l2.2-.6l2.2-.6l2.1 1l2.2 3.2l2.2 0l2.2-4.3l2.1-3.1l2.2-.8l2.2-1l2.1 .5l2.2 1.4l2.2-1.2l2.2-2.7l2.1-1.1l2.2-1.8l2.2-3.7l2.1-.8l2.2 2.2l2.2 .7l2.2-.6l2.1-1.2M79.3 791.8l2.2 1.9l2.2 1.4l2.2-.4l2.1-1l2.2-3l2.2-3.8l2.1 .4l2.2 2.9l2.2 .4l2.2-.2l2.1 .7l2.2-1.4l2.2-2.4l2.2-.5l2.1-.2l2.2-.2l2.2 2.5l2.2 2.1l2.1-2.7l2.2-4.2l2.2-1.5l2.1-.7l2.2 0l2.2 1.8l2.2-.2l2.1-3.1l2.2-1.8l2.2-1.1l2.2-3.3l2.1-2l2.2 1.7l2.2 1.2l2.2-.5l2.1-.9l2.2-3.1l2.2-4l2.1 .2l2.2 3l2.2 .7l2.2-.4l2.1 .3l2.2-1.5l2.2-2.4l2.2-.1l2.1 .1l2.2-.3l2.2 2.2l2.2 2.3l2.1-2.5l2.2-4.1l2.2-1.6l2.1-.7l2.2 .3l2.2 2.1l2.2-.1l2.1-3.4l2.2-2.2l2.2-1l2.2-2.9l2.1-1.8l2.2 1.4l2.2 1l2.2-.7l2.1-.9l2.2-3l2.2-4.2l2.1-.1l2.2 3.2l2.2 .9l2.2-.5l2.1 0l2.2-1.8M77.1 790.5l2.1 2.8l2.2 1l2.2-.6l2.2-1.2l2.1-3.3l2.2-2.3l2.2 1.7l2.2 1.6l2.1-.4l2.2 1.1l2.2 1.1l2.2-2.2l2.1-2.7l2.2-.8l2.2-.6l2.2 1.2l2.1 3.1l2.2-.6l2.2-4.5l2.2-2.5l2.1-.9l2.2-1.6l2.2 0l2.2 1.1l2.1-1.1l2.2-1.6l2.2-.9l2.2-3.5l2.1-3.8l2.2 1l2.2 2.9l2.2 .3l2.2-.7l2.1-1.4l2.2-3.3l2.2-1.1l2.2 1.9l2.1 .6l2.2-.2l2.2 2l2.2 .5l2.1-3.1l2.2-2.5l2.2-.7l2.2-.4l2.1 2l2.2 2.3l2.2-2.2l2.2-4.2l2.1-1.6l2.2-1.2l2.2-1.9l2.2 .4l2.1 .9l2.2-1.2l2.2-1l2.2-1.5l2.1-4.4l2.2-2.5l2.2 2.4l2.2 2.3l2.2-.3l2.1-.5l2.2-1.7l2.2-2.9l2.2-.2l2.1 1.6l2.2-.3l2.2 .7l2.2 2.5l2.1-.8l2.2-3.7M74.8 790.2l2.1 2.9l2.2 .3l2.2-.6l2.2-1.2l2.2-2.9l2.1-1l2.2 1.6l2.2 .1l2.2 .2l2.1 2.6l2.2 .2l2.2-3.7l2.2-2.5l2.2-.8l2.1-.2l2.2 2l2.2 1.5l2.2-3l2.2-3.4l2.1-1l2.2-2.2l2.2-2.4l2.2 .8l2.1 1.2l2.2-.7l2.2-.7l2.2-2.6l2.2-4.5l2.1-.5l2.2 3.2l2.2 1.1l2.2-.5l2.2 .4l2.1-1.4l2.2-2.4l2.2-.1l2.2 0l2.1-.1l2.2 2.7l2.2 1.8l2.2-3.3l2.2-3.9l2.1-1.2l2.2-.8l2.2 .2l2.2 1.6l2.1-1.1l2.2-2.8l2.2-1.1l2.2-2.1l2.2-4l2.1-.6l2.2 2.5l2.2 .8l2.2-.7l2.2-1.4l2.1-3.7l2.2-2l2.2 2.2l2.2 1.5l2.1-.4l2.2 1.2l2.2 .6l2.2-2.5l2.2-2.2l2.1-.6l2.2-.5l2.2 1.9l2.2 2.8l2.1-1.9l2.2-4.5l2.2-1.8M72.5 790.5l2.2 2.3l2.1-.4l2.2 0l2.2-1.1l2.2-2.5l2.2-.3l2.1 .5l2.2-.4l2.2 1.9l2.2 2.7l2.2-2.2l2.2-4.3l2.1-1.6l2.2-.8l2.2 .1l2.2 1.6l2.2-.6l2.1-3l2.2-1.3l2.2-1.8l2.2-4.1l2.2-1l2.1 2.5l2.2 1l2.2-.6l2.2-1.4l2.2-3.5l2.1-2l2.2 2.1l2.2 1.4l2.2-.4l2.2 1.5l2.1 .8l2.2-2.7l2.2-2.4l2.2-.8l2.2-.3l2.2 2l2.1 2.3l2.2-2.5l2.2-4.2l2.2-1.3l2.2-1.5l2.1-2.1l2.2 .5l2.2 .8l2.2-.9l2.2-.8l2.1-2.5l2.2-4.6l2.2-.8l2.2 3.3l2.2 1.2l2.1-.5l2.2 .1l2.2-1.7l2.2-2.1l2.2 .2l2.1 0l2.2 0l2.2 2.9l2.2 1.5l2.2-3.6l2.2-3.7l2.1-1.1l2.2-.7l2.2 .5l2.2 1.4l2.2-1.7l2.1-2.6l2.2-.9l2.2-2.8M70.2 791.1l2.2 1l2.2-.4l2.1 .8l2.2-1.2l2.2-2.4l2.2-.4l2.2-.4l2.2 .4l2.1 3.2l2.2 .8l2.2-4.3l2.2-3.3l2.2-.8l2.2-1.4l2.1-.1l2.2 1l2.2-1.3l2.2-1.5l2.2-1.1l2.2-4l2.1-3.4l2.2 2.1l2.2 2.6l2.2-.2l2.2-.4l2.2-1.5l2.1-2.6l2.2 0l2.2 1l2.2-.4l2.2 1.7l2.2 2.7l2.1-2.1l2.2-4.2l2.2-1.6l2.2-.7l2.2 .4l2.2 1.8l2.1-1.1l2.2-3.2l2.2-1.2l2.2-2l2.2-4.1l2.2-.4l2.1 2.6l2.2 .6l2.2-.7l2.2-1.7l2.2-3.6l2.2-1.1l2.1 2.4l2.2 .7l2.2-.1l2.2 2.2l2.2-.1l2.2-3.3l2.1-2l2.2-.7l2.2 .1l2.2 2.6l2.2 .9l2.2-3.8l2.1-3.1l2.2-.9l2.2-2.6l2.2-1.7l2.2 1.4l2.2 .5l2.1-.8l2.2-1.1l2.2-3.8l2.2-3.3M67.9 791.2l2.2 0l2.2 .5l2.2 1.2l2.2-1.8l2.1-2.6l2.2-.7l2.2-.5l2.2 1.6l2.2 2.8l2.2-1.8l2.2-4.5l2.1-1.6l2.2-1.4l2.2-2.3l2.2 .3l2.2 1l2.2-.8l2.2-.8l2.1-2.7l2.2-4.5l2.2-.1l2.2 3.4l2.2 .6l2.2-.2l2.2 .7l2.1-1.7l2.2-2.1l2.2-.2l2.2-.5l2.2 1.1l2.2 3.3l2.2-.7l2.1-4.7l2.2-2.3l2.2-1l2.2-1.6l2.2 .3l2.2 .6l2.2-1.4l2.1-.9l2.2-2.1l2.2-4.7l2.2-1.3l2.2 3.3l2.2 1.4l2.2-.5l2.1 0l2.2-1.8l2.2-1.9l2.2 .4l2.2-.2l2.2 .4l2.2 3.3l2.1 .5l2.2-4.4l2.2-3l2.2-.8l2.2-1l2.2 .6l2.2 .6l2.1-2l2.2-1.5l2.2-1.4l2.2-4.4l2.2-2.4l2.2 2.8l2.2 1.9l2.1-.5l2.2-.6l2.2-2.2l2.2-2.1l2.2 1M65.6 790.8l2.2-.4l2.2 1.8l2.2 1l2.2-3l2.2-2.5l2.2-.8l2.1-.2l2.2 2.3l2.2 1.1l2.2-3.6l2.2-2.9l2.2-1l2.2-3.1l2.2-2.1l2.2 1.7l2.1 1l2.2-.6l2.2-1.3l2.2-3.7l2.2-2.3l2.2 2.4l2.2 1.5l2.2-.3l2.1 1.8l2.2 .6l2.2-3.1l2.2-2.2l2.2-.7l2.2 .1l2.2 2.5l2.2 .8l2.2-3.9l2.1-2.8l2.2-1l2.2-3.1l2.2-1.7l2.2 1.8l2.2 .6l2.2-.6l2.2-1.5l2.1-4l2.2-2l2.2 2.7l2.2 1.4l2.2-.3l2.2 1.8l2.2 0l2.2-3l2.2-1.8l2.1-.6l2.2 .2l2.2 2.8l2.2 .4l2.2-4.1l2.2-2.6l2.2-1.1l2.2-3l2.1-1.2l2.2 1.6l2.2 .3l2.2-.7l2.2-1.7l2.2-4.2l2.2-1.6l2.2 3l2.1 1.2l2.2-.3l2.2 1.7l2.2-.4l2.2-3l2.2-1.4l2.2-.6M63.3 789.9l2.2 .3l2.2 2.9l2.2-.4l2.2-4l2.2-2.1l2.2-.7l2.2 .2l2.2 1.9l2.2-.8l2.2-3.4l2.1-1.2l2.2-2.3l2.2-4.2l2.2 0l2.2 2.8l2.2 .3l2.2-.6l2.2-1.8l2.2-3l2.2 .1l2.1 1.7l2.2-.3l2.2 1.6l2.2 2.7l2.2-2.3l2.2-4l2.2-1.4l2.2-.7l2.2 .7l2.2 1.4l2.2-2l2.1-2.6l2.2-1l2.2-3.5l2.2-3.5l2.2 1.7l2.2 2.5l2.2-.3l2.2-.6l2.2-2.2l2.2-2.4l2.2 1l2.1 .9l2.2-.2l2.2 2.8l2.2 1.4l2.2-3.8l2.2-3.3l2.2-.9l2.2-.7l2.2 1l2.2 .5l2.1-2.5l2.2-1.6l2.2-1.6l2.2-4.5l2.2-1.8l2.2 3l2.2 1.4l2.2-.5l2.2-.6l2.2-2.5l2.2-1.4l2.1 1.2l2.2-.1l2.2 .8l2.2 3.3l2.2-.5l2.2-4.6l2.2-2.3l2.2-.8l2.2-.6M61.1 789l2.2 1.7l2.1 2.9l2.2-2.4l2.2-4.3l2.2-1.3l2.2-.8l2.2 .2l2.2 1.1l2.2-1.8l2.2-2l2.2-1.1l2.2-4.2l2.2-3.1l2.2 2.6l2.2 2.2l2.2-.4l2.1-.2l2.2-1.7l2.2-1.9l2.2 .5l2.2 0l2.2 .5l2.2 3.5l2.2-.1l2.2-4.7l2.2-2.5l2.2-1l2.2-1.3l2.2 .5l2.2 .2l2.1-1.6l2.2-.9l2.2-3l2.2-4.6l2.2 .8l2.2 3.3l2.2 .2l2.2 .1l2.2 .1l2.2-2.1l2.2-1.3l2.2-.1l2.2-.3l2.2 2.7l2.2 2.1l2.1-3.7l2.2-3.9l2.2-1l2.2-2.1l2.2-1.2l2.2 1.2l2.2-.2l2.2-.9l2.2-1.7l2.2-4.5l2.2-1.7l2.2 3.3l2.2 1.2l2.2-.2l2.1 1.5l2.2-.8l2.2-2.8l2.2-1l2.2-.6l2.2 1.2l2.2 2.9l2.2-1.5l2.2-4.4l2.2-1.6l2.2-1.8l2.2-3.1l2.2 .5M58.8 788.4l2.2 3.1l2.2 1.5l2.2-4.2l2.2-3.4l2.2-.8l2.2-1.5l2.1 .2l2.2 .5l2.2-1.5l2.2-1l2.2-2.4l2.2-4.9l2.2 0l2.2 3.5l2.2 .5l2.2 0l2.2 .5l2.2-2l2.2-1.6l2.2-.2l2.2-.4l2.2 2.6l2.2 2.1l2.2-3.7l2.2-3.8l2.2-.9l2.2-2.6l2.2-1.5l2.1 1.4l2.2 .2l2.2-.7l2.2-1.9l2.2-4.3l2.2-.9l2.2 3.2l2.2 .5l2.2 .4l2.2 2.1l2.2-1.2l2.2-3.3l2.2-1.3l2.2-.5l2.2 1.4l2.2 2l2.2-2.6l2.2-3.4l2.2-1l2.2-3.3l2.2-3.1l2.2 1.9l2.2 1.8l2.1-.5l2.2-1l2.2-3l2.2-1.7l2.2 2l2.2 .4l2.2 .4l2.2 3.2l2.2-.4l2.2-4.4l2.2-2.1l2.2-.8l2.2-.1l2.2 1.3l2.2-1.1l2.2-2.5l2.2-.9l2.2-3.5l2.2-4.1l2.2 1.7l2.2 2.9M56.5 788.4l2.2 3.6l2.2-.7l2.2-4.9l2.2-2.1l2.2-1.3l2.2-2l2.2 .5l2.2 .5l2.2-1l2.2-1l2.2-3.9l2.2-3.2l2.2 2.5l2.2 2.2l2.2-.3l2.2 1.6l2.2 .2l2.2-3.1l2.2-1.6l2.2-.7l2.2 .8l2.1 2.6l2.2-1.3l2.2-4.1l2.2-1.3l2.2-2.5l2.2-3.8l2.2 1l2.2 2.2l2.2-.2l2.2-.9l2.2-2.7l2.2-2.2l2.2 1.7l2.2 .8l2.2 .1l2.2 3.3l2.2 .1l2.2-4.4l2.2-2.4l2.2-.8l2.2-.5l2.2 1.1l2.2-.8l2.2-2.2l2.2-1l2.2-3.7l2.2-4l2.2 2.1l2.2 2.8l2.2-.3l2.2 .2l2.2-.8l2.2-2.2l2.2-.2l2.2-.4l2.2 .8l2.2 3.5l2.2-.7l2.2-4.9l2.2-2l2.2-1.4l2.2-2.6l2.2 .5l2.2 .9l2.2-.7l2.2-1l2.2-3.7l2.2-3.1l2.2 2.4l2.2 2l2.2-.3M54.2 788.7l2.2 2.9l2.2-2.9l2.2-4.3l2.2-1.1l2.2-2.5l2.2-2l2.2 1.4l2.2 .5l2.2-.7l2.2-1.8l2.2-4l2.2-.5l2.2 2.9l2.2 .1l2.2 1l2.2 2.6l2.2-2.1l2.2-3.6l2.2-1.2l2.2-.5l2.2 1.3l2.2 .7l2.2-2.9l2.2-1.9l2.2-1.7l2.2-4.8l2.2-1l2.2 3.4l2.2 .8l2.2-.4l2.2-.6l2.2-2.3l2.2-.4l2.2 .4l2.2-.3l2.2 3.1l2.2 1.7l2.2-4.4l2.2-3.4l2.2-.9l2.2-2.3l2.2-.4l2.2 1l2.2-.7l2.2-.8l2.2-3l2.2-4.1l2.2 1.4l2.2 2.8l2.2-.2l2.2 1.5l2.2 1.2l2.2-3l2.2-2.4l2.2-.7l2.2 .2l2.2 2.3l2.2-.7l2.2-3.8l2.2-1.4l2.2-2.5l2.2-4.3l2.2 .8l2.2 2.8l2.2-.1l2.2-.5l2.2-2l2.2-2.1l2.2 1l2.2 .3l2.2 .4l2.2 3.6M51.9 788.8l2.2 1.3l2.2-4.2l2.2-2.8l2.2-1.3l2.2-3.8l2.2-.8l2.2 2.3l2.2 .2l2.3-.7l2.2-2.4l2.2-2.9l2.2 1.4l2.2 1.3l2.2-.1l2.2 3.1l2.2 .9l2.2-4.5l2.2-2.6l2.2-.9l2.2-.8l2.2 .9l2.2-.6l2.2-1.9l2.2-1l2.2-4.2l2.2-3.4l2.2 2.9l2.2 2.2l2.2-.3l2.2 1.1l2.2-.9l2.2-2.4l2.2-.7l2.2-.5l2.2 1.7l2.2 2.5l2.2-3.1l2.2-3.7l2.2-1.1l2.2-3.4l2.2-2.3l2.3 2.2l2.2 1l2.2-.6l2.2-1.6l2.2-3.2l2.2 0l2.2 1.9l2.2-.3l2.2 2.3l2.2 2.5l2.2-3.6l2.2-3.7l2.2-1l2.2-1.1l2.2 .4l2.2 .2l2.2-1.8l2.2-1l2.2-3.1l2.2-4.5l2.2 1.4l2.2 3.2l2.2-.2l2.2 .9l2.2 .2l2.2-2.5l2.2-1.4l2.2-.5l2.2 .8l2.2 2.9l2.2-1.4M49.6 788.5l2.2-.7l2.3-4.3l2.2-1.4l2.2-2.6l2.2-4.1l2.2 1.3l2.2 2.4l2.2-.3l2.2-.7l2.2-2.4l2.2-1.4l2.2 1.4l2.2-.2l2.2 1.6l2.2 3.4l2.2-2.6l2.2-4.6l2.2-1.2l2.2-1.8l2.2-.9l2.3 .9l2.2-.6l2.2-.9l2.2-2.5l2.2-4.4l2.2 .7l2.2 3.2l2.2-.2l2.2 1.6l2.2 1.5l2.2-3.2l2.2-2.5l2.2-.8l2.2 .2l2.2 2l2.2-1.2l2.2-3.3l2.2-1.1l2.3-3.5l2.2-3.9l2.2 2.2l2.2 2.5l2.2-.4l2.2 0l2.2-1.7l2.2-1.5l2.2 .3l2.2-.4l2.2 2.2l2.2 2.8l2.2-3.4l2.2-4.1l2.2-1l2.2-2.8l2.2-1.4l2.2 1.6l2.3 .1l2.2-.8l2.2-2.5l2.2-3.6l2.2 1.2l2.2 2.2l2.2-.3l2.2 2.7l2.2 1.3l2.2-4l2.2-2.8l2.2-.8l2.2-.4l2.2 1.2l2.2-1l2.2-2.3M47.4 787.4l2.2-2.3l2.2-3.2l2.2-1.1l2.2-4.3l2.2-2.6l2.2 3.1l2.2 1.4l2.2-.4l2.2-.4l2.2-2.1l2.2-.6l2.3 .3l2.2-.1l2.2 3.3l2.2 .9l2.2-4.8l2.2-2.6l2.2-1.4l2.2-3.2l2.2 .3l2.2 1.4l2.2-.4l2.2-1.2l2.2-3.5l2.3-1.7l2.2 2.6l2.2 .5l2.2 .9l2.2 3.3l2.2-1.9l2.2-4.4l2.2-1.2l2.2-1l2.2 .2l2.2 .4l2.2-1.9l2.2-1.1l2.3-2.8l2.2-4.8l2.2 1.3l2.2 3.3l2.2-.2l2.2 1.2l2.2 .4l2.2-2.8l2.2-1.5l2.2-.6l2.2 1.1l2.2 2.4l2.3-2.5l2.2-3.5l2.2-1.1l2.2-4l2.2-2.7l2.2 2.9l2.2 1.4l2.2-.6l2.2-.8l2.2-2.3l2.2-.3l2.2 .7l2.2-.2l2.3 3.4l2.2 1.1l2.2-4.9l2.2-2.7l2.2-1.3l2.2-2.6l2.2 .2l2.2 1l2.2-.6l2.2-1.2M45.1 785.6l2.2-2.9l2.2-1.9l2.2-1.9l2.2-5.1l2.2-.1l2.2 3.6l2.2 .2l2.3 .2l2.2-.1l2.2-2.2l2.2-.7l2.2-.5l2.2 1.2l2.2 3.1l2.2-2.4l2.2-4.2l2.2-1.1l2.3-3.5l2.2-2.5l2.2 2.4l2.2 1l2.2-.6l2.2-1.5l2.2-2.7l2.2 .6l2.2 1l2.3 0l2.2 3.6l2.2 .4l2.2-5l2.2-2.3l2.2-1.4l2.2-2l2.2 .7l2.2 .2l2.2-.8l2.3-1.7l2.2-4.4l2.2-.5l2.2 3.2l2.2 .1l2.2 1.6l2.2 2.3l2.2-3.2l2.2-3.2l2.3-.9l2.2-.4l2.2 1.2l2.2-.8l2.2-2.5l2.2-1l2.2-4.3l2.2-3.3l2.2 3.3l2.2 1.9l2.3-.2l2.2 1.3l2.2-1.4l2.2-2.3l2.2-.7l2.2-.2l2.2 2.6l2.2 .5l2.2-4.2l2.2-2l2.3-2.2l2.2-4.5l2.2 .8l2.2 2.8l2.2-.2l2.2-.4l2.2-1.9M42.8 783.5l2.2-2.6l2.2-1.1l2.2-3.5l2.2-4.3l2.3 2.4l2.2 2.7l2.2-.3l2.2 1.4l2.2-.8l2.2-2.6l2.2-.9l2.2-.3l2.3 2.2l2.2 .9l2.2-4l2.2-2.1l2.2-2.1l2.2-4.8l2.2 .7l2.2 3.1l2.3-.2l2.2-.1l2.2-1.5l2.2-1.6l2.2 .4l2.2-.4l2.2 2.3l2.2 2.6l2.3-4l2.2-3.6l2.2-1.1l2.2-3.6l2.2-.7l2.2 2.1l2.2 0l2.3-.9l2.2-2.8l2.2-1.8l2.2 2l2.2 .2l2.2 1.3l2.2 3.6l2.2-2.6l2.3-4.5l2.2-1.2l2.2-1.8l2.2-.6l2.2 .7l2.2-.8l2.2-.9l2.2-3.5l2.3-3.3l2.2 2.6l2.2 1.7l2.2 .1l2.2 3.1l2.2-.8l2.2-4.2l2.2-1.4l2.3-.8l2.2 .6l2.2 .4l2.2-2.4l2.2-1.2l2.2-2.9l2.2-4.8l2.3 1.7l2.2 3.1l2.2-.2l2.2 1.4l2.2-.2l2.2-2.8M40.5 781.4l2.2-1.8l2.2-1.2l2.2-4.7l2.3-2.2l2.2 3.8l2.2 .9l2.2 .6l2.2 2l2.2-2.3l2.3-2.7l2.2-.8l2.2 .1l2.2 1.9l2.2-1.4l2.2-3.1l2.2-1.1l2.3-4.5l2.2-2.8l2.2 3.5l2.2 1.4l2.2-.1l2.2 .7l2.3-1.9l2.2-1.5l2.2-.5l2.2 .6l2.2 3l2.2-1.5l2.2-4.3l2.3-1.2l2.2-3.8l2.2-3l2.2 2.9l2.2 1.4l2.2-.5l2.3-.7l2.2-2.2l2.2 0l2.2 .1l2.2 .5l2.2 3.8l2.2-1.2l2.3-5l2.2-1.4l2.2-2.7l2.2-2.7l2.2 1.9l2.2 .8l2.3-.6l2.2-1.9l2.2-2.9l2.2 1.1l2.2 1.1l2.2 .2l2.2 3.8l2.3-.4l2.2-5.2l2.2-1.7l2.2-1.7l2.2-1.7l2.2 1.1l2.3-.3l2.2-.8l2.2-2.6l2.2-3.9l2.2 1.8l2.2 2.1l2.2-.1l2.3 3.3l2.2 0l2.2-4.6l2.2-1.8M38.2 779.7l2.2-1.1l2.3-2.1l2.2-4.8l2.2 .5l2.2 3.3l2.2-.1l2.2 2.3l2.3 1.1l2.2-4l2.2-2.1l2.2-.8l2.2 .3l2.2 .8l2.3-2.2l2.2-1.4l2.2-2.5l2.2-5.1l2.2 1.2l2.3 3.4l2.2-.2l2.2 1.7l2.2 .1l2.2-3.2l2.2-1.4l2.3-.5l2.2 1.6l2.2 .7l2.2-3.4l2.2-1.7l2.3-2.7l2.2-4.9l2.2 1.7l2.2 3.1l2.2-.3l2.2 .9l2.3-1l2.2-2.1l2.2-.6l2.2-.2l2.2 2.6l2.2 .4l2.3-4.4l2.2-1.7l2.2-2.8l2.2-4.3l2.2 1.9l2.3 2.4l2.2-.4l2.2-.1l2.2-1.8l2.2-.9l2.2 .1l2.3 0l2.2 3.5l2.2-.1l2.2-5l2.2-1.7l2.3-2.7l2.2-3.4l2.2 1.9l2.2 1.5l2.2-.6l2.2-1.2l2.3-2.5l2.2 .4l2.2 .7l2.2 .3l2.2 3.9l2.2-.7l2.3-5.3l2.2-1.5l2.2-2.4M35.9 778.4l2.3-.9l2.2-3l2.2-3.7l2.2 2.4l2.2 1.8l2.3 .2l2.2 3.5l2.2-1.3l2.2-4.5l2.2-1.2l2.3-1.2l2.2 .2l2.2 0l2.2-1.6l2.2-1l2.3-4.3l2.2-2.6l2.2 3.6l2.2 1l2.2 .8l2.3 2.7l2.2-2.7l2.2-3.3l2.2-.8l2.2-.5l2.3 1.1l2.2-1.3l2.2-1.9l2.2-1.5l2.2-5.1l2.3-.9l2.2 3.9l2.2 .3l2.2 1.3l2.2 1.3l2.3-3.2l2.2-2l2.2-.7l2.2 .8l2.2 1.1l2.3-2.7l2.2-1.9l2.2-2.2l2.2-5.2l2.2 1l2.3 3.4l2.2-.1l2.2 1.3l2.2-.2l2.2-2.8l2.3-1.1l2.2-.3l2.2 2l2.2 .4l2.3-3.9l2.2-1.5l2.2-3.2l2.2-4.5l2.2 2.6l2.3 2.4l2.2-.3l2.2 .8l2.2-1.5l2.2-1.7l2.3-.5l2.2 .3l2.2 3l2.2-1.2l2.2-4.3l2.3-1.2l2.2-4l2.2-3M33.6 777.3l2.3-1l2.2-3.6l2.2-1.8l2.2 2.9l2.3 .2l2.2 2l2.2 3l2.2-4l2.3-3.6l2.2-1l2.2-1.8l2.2 .4l2.2 0l2.3-.9l2.2-2l2.2-4.3l2.2 .8l2.3 2.7l2.2-.1l2.2 3.3l2.2 .4l2.3-4.9l2.2-1.8l2.2-1.3l2.2-.6l2.2 .5l2.3-1.1l2.2-.9l2.2-3.7l2.2-3.2l2.3 3.1l2.2 1.3l2.2 .7l2.2 3.3l2.2-2.5l2.3-3.9l2.2-1l2.2-1l2.2 .6l2.3-.6l2.2-1.5l2.2-1.5l2.2-5l2.3-.5l2.2 3.7l2.2 0l2.2 2.2l2.2 1.4l2.3-3.9l2.2-2.3l2.2-.8l2.2 0l2.3 .6l2.2-2l2.2-1.2l2.2-3l2.2-4.6l2.3 2.4l2.2 2.6l2.2-.1l2.2 2.7l2.3-1l2.2-3.7l2.2-1.2l2.2-.4l2.3 1.1l2.2-.7l2.2-2.5l2.2-1.1l2.2-4.7l2.3-2.4l2.2 4M31.4 776.3l2.2-1.3l2.2-3.6l2.2 .1l2.3 2.1l2.2-.2l2.2 3.7l2.2 .6l2.3-5.4l2.2-1.9l2.2-2l2.2-1.9l2.3 1.3l2.2 0l2.2-.8l2.2-2.9l2.3-2.4l2.2 2.4l2.2 .4l2.2 1.6l2.3 3.5l2.2-3.7l2.2-3.9l2.2-1.1l2.3-2.6l2.2 .2l2.2 .8l2.2-.7l2.3-1.7l2.2-3.8l2.2 .7l2.2 2.1l2.3 0l2.2 3.8l2.2-.2l2.2-5.2l2.3-1.6l2.2-2l2.2-1.3l2.3 1.1l2.2-.4l2.2-.9l2.2-3.5l2.3-2l2.2 2.8l2.2 .3l2.2 2l2.3 3l2.2-4.1l2.2-3.5l2.2-1.1l2.3-2.1l2.2 .5l2.2 .1l2.2-.7l2.3-2.2l2.2-3.9l2.2 1.4l2.2 2l2.3 .1l2.2 3.9l2.2-.9l2.2-5l2.3-1.3l2.2-1.9l2.2-.7l2.2 .7l2.3-.7l2.2-1.1l2.2-4l2.2-1.5l2.3 3.2l2.2 .1M29.1 775.4l2.2-1.7l2.2-2.8l2.3 1.1l2.2 .7l2.2 .9l2.2 4l2.3-2.6l2.2-4.7l2.2-1.1l2.3-3.5l2.2-.6l2.2 2l2.2-.3l2.3-1l2.2-2.9l2.2-.2l2.3 1.4l2.2 0l2.2 3.8l2.2 0l2.3-5.4l2.2-1.6l2.2-2.8l2.2-2.3l2.3 2.1l2.2 .4l2.2-.7l2.3-2.3l2.2-1.6l2.2 1.6l2.2-.2l2.3 2.7l2.2 2.4l2.2-5l2.3-2.8l2.2-1.8l2.2-3.6l2.2 1.3l2.3 1.4l2.2-.6l2.2-1.5l2.2-2.5l2.3 1.1l2.2 .3l2.2 1.2l2.3 3.8l2.2-3.2l2.2-4.3l2.2-1.2l2.3-3.9l2.2-.2l2.2 2.2l2.3-.3l2.2-1l2.2-2.5l2.2-.2l2.3 1.1l2.2 .1l2.2 3.9l2.2-.7l2.3-5.3l2.2-1.4l2.2-3.2l2.3-2.2l2.2 2.5l2.2 .4l2.2-.7l2.3-2.1l2.2-1.4l2.2 1.3l2.3-.2l2.2 2.9M26.8 774.4l2.2-1.7l2.3-1.8l2.2 1.1l2.2-.2l2.2 2.5l2.3 2.5l2.2-4.9l2.2-2.7l2.3-2.1l2.2-4l2.2 1.6l2.3 1.8l2.2-.6l2.2-1l2.2-2l2.3 .4l2.2 0l2.2 1.6l2.3 3.2l2.2-4l2.2-3.4l2.3-1.7l2.2-4.6l2.2 .9l2.3 2.5l2.2-.4l2.2-.4l2.2-1.9l2.3-.4l2.2 0l2.2 .9l2.3 3.5l2.2-2.8l2.2-4.1l2.3-1.3l2.2-4.8l2.2-.3l2.2 3.2l2.3-.1l2.2 0l2.2-1.5l2.3-1.1l2.2-.1l2.2 .3l2.3 3.4l2.2-1.5l2.2-4.5l2.2-1.2l2.3-4.7l2.2-1.6l2.2 3.6l2.3 .3l2.2 .2l2.2-.8l2.3-1.7l2.2-.3l2.2-.2l2.2 3l2.3-.3l2.2-4.6l2.2-1.3l2.3-4.2l2.2-2.9l2.2 3.7l2.3 .9l2.2 .2l2.2 0l2.3-2.1l2.2-.7l2.2-.5l2.2 2.3l2.3 .8M24.5 773.6l2.2-1.6l2.3-1.1l2.2 .5l2.2-.1l2.3 3.5l2.2-.3l2.2-5.1l2.3-1.3l2.2-4.1l2.2-2.4l2.3 3.4l2.2 .6l2.2-.1l2.3-.9l2.2-1.6l2.2-.1l2.3-.2l2.2 3.1l2.2-.1l2.3-4.8l2.2-1.3l2.2-4.3l2.3-2.7l2.2 3.7l2.2 .8l2.3 .2l2.2-.1l2.2-2.1l2.3-.7l2.2-.3l2.2 2.6l2.3-.1l2.2-4.3l2.2-1.2l2.3-4.4l2.2-3l2.2 4l2.3 .9l2.2 .5l2.2 .6l2.3-2.6l2.2-1.2l2.2-.4l2.2 1.9l2.3 .1l2.2-3.7l2.2-1.3l2.3-4.4l2.2-3.1l2.2 4.1l2.3 .9l2.2 .9l2.2 1.3l2.3-3l2.2-1.8l2.2-.5l2.3 1.2l2.2 .2l2.2-3.1l2.3-1.2l2.2-4.3l2.2-3.2l2.3 4l2.2 1l2.2 1.2l2.3 1.9l2.2-3.4l2.2-2.3l2.3-.7l2.2 .5l2.2 .3l2.3-2.4M22.2 773.1l2.3-1.6l2.2-.8l2.2-.2l2.3 .8l2.2 3.2l2.2-3l2.3-3.6l2.2-1.6l2.2-5.3l2.3 .7l2.2 3.3l2.2-.2l2.3 .9l2.2-1.4l2.3-1.7l2.2-.6l2.2 .8l2.3 2.3l2.2-3.1l2.2-2.6l2.3-2.2l2.2-5.4l2.2 1.8l2.3 3.1l2.2-.2l2.2 1.9l2.3-1.7l2.2-2.5l2.2-.7l2.3 .5l2.2 1.5l2.3-2.8l2.2-1.8l2.2-2.9l2.3-4.9l2.2 2.8l2.2 2.3l2.3 .3l2.2 2.7l2.2-2.4l2.3-3.1l2.2-.7l2.2-.1l2.3 .7l2.2-2l2.2-1.2l2.3-3.4l2.2-4.1l2.3 3.3l2.2 1.6l2.2 .9l2.3 3.1l2.2-3.4l2.2-3.2l2.3-.9l2.2-1l2.2 .6l2.3-1.2l2.2-.9l2.2-3.5l2.3-3.1l2.2 3.3l2.2 .8l2.3 1.8l2.2 3l2.2-4.4l2.3-3l2.2-1.3l2.3-1.8l2.2 .8l2.2-.3l2.3-.9M19.9 772.8l2.3-1.8l2.2-.9l2.3-.5l2.2 1.7l2.2 1.7l2.3-4.2l2.2-1.9l2.2-3.4l2.3-4.4l2.2 3.6l2.3 1.6l2.2 .4l2.2 1.3l2.3-2.7l2.2-1.6l2.2-.5l2.3 1.4l2.2 .1l2.3-3.3l2.2-1.2l2.2-4.8l2.3-2.3l2.2 4.3l2.2 .4l2.3 2l2.2 1l2.3-3.9l2.2-1.7l2.2-.8l2.3 .6l2.2-.5l2.2-1.9l2.3-1.4l2.2-5.1l2.3 .1l2.2 3.5l2.2 0l2.3 3.5l2.2-.5l2.2-4.8l2.3-1.2l2.2-1.7l2.3 0l2.2 0l2.2-.9l2.3-2l2.2-4.1l2.2 1.6l2.3 1.9l2.2 .6l2.3 4.1l2.2-2.7l2.2-4.5l2.3-1.1l2.2-3l2.3 .4l2.2 .9l2.2-.6l2.3-2.1l2.2-2.7l2.2 1.8l2.3 .4l2.2 1.9l2.3 3.3l2.2-4.6l2.2-3.2l2.3-2l2.2-3.7l2.2 1.7l2.3 1.3l2.2-.5l2.3-1.4M166.2 831.9l-2.1 0l-2-.9l-2-1l-2-.9l-2.1-.8l-2-.4l-2 .7l-2.1 1l-2 .1l-2-1.8l-2.1-3.2l-2-3.4l-2-2.4l-2-.9l-2.1 0l-2 .2l-2-.4l-2.1-.7l-2-.8l-2-.8l-2-.9l-2.1-1.3l-2-2.1l-2-2.5l-2.1-2.5l-2-1.9l-2-.9l-2.1 .2l-2 .7l-2 .7l-2 .3l-2.1-.4l-2-.7l-2-.9l-2.1-.7l-2-.8l-2-.9l-2-1.3l-2.1-1.8l-2-1.9l-2-1.8l-2.1-1.3l-2-.7l-2-.1l-2 .2l-2.1 0l-2-.3l-2-.6l-2.1-.9l-2-.7l-2-.2l-2.1 .2l-2 .5l-2 .5l-2 0l-2.1-.7l-2-1.4l-2-2l-2.1-2.2l-2-2.1l-2-1.6l-2-1.3l-2.1-1l-2-.9l-2-.9l-2.1-1l-2-.9l-2-.9l-2.1-.7l-2-.5l-2-.5l-2-.5M168.5 831.3l-2-.4l-2-.8l-2.1-.9l-2-1.3l-2-1.4l-2.1-.6l-2 1.2l-2 2.1l-2 1.2l-2.1-1l-2-2.9l-2-3.3l-2-2.4l-2.1-1.3l-2-.7l-2-.7l-2-.9l-2.1-.7l-2-.3l-2 0l-2.1-.5l-2-1.2l-2-2.1l-2-2.5l-2.1-2.1l-2-1.2l-2-.3l-2 .1l-2.1 0l-2-.5l-2-.7l-2-.8l-2.1-.6l-2-.1l-2-.1l-2.1-.3l-2-.9l-2-1.4l-2-1.9l-2.1-1.7l-2-1.4l-2-.9l-2-.7l-2.1-.6l-2-.7l-2-.8l-2.1-.8l-2-.3l-2 .3l-2 .7l-2.1 .7l-2 .4l-2-.5l-2-1.4l-2.1-2.2l-2-2.5l-2-2.4l-2-1.8l-2.1-1.3l-2-1l-2-.9l-2.1-1.1l-2-1.4l-2-1.7l-2-1.5l-2.1-1.3l-2-.8l-2-.4l-2-.2l-2.1-.1l-2-.4l-2-.6M170.9 831l-2.1-.8l-2-.8l-2-1l-2-2l-2.1-2.9l-2-1.8l-2 .7l-2 2.5l-2.1 2l-2-.2l-2-2.1l-2-2.5l-2.1-1.9l-2-1.2l-2-.8l-2-.9l-2.1-.4l-2 .2l-2 .9l-2 .7l-2.1-.2l-2-1.6l-2-2.5l-2-2.7l-2.1-2l-2-1.3l-2-.8l-2-.7l-2.1-.8l-2-.8l-2-.3l-2 .3l-2.1 .7l-2 .7l-2-.1l-2-1l-2.1-2l-2-2.4l-2-2.2l-2-1.8l-2-1.3l-2.1-.9l-2-.9l-2-.9l-2-.6l-2.1-.3l-2 .2l-2 .5l-2 .4l-2.1-.1l-2-1l-2-1.8l-2-2.3l-2.1-2.2l-2-1.8l-2-1.2l-2-.9l-2.1-1l-2-1.4l-2-2l-2-2.2l-2.1-2.2l-2-1.7l-2-.8l-2 0l-2.1 .4l-2 .4l-2 .2l-2-.3l-2.1-.6l-2-.9l-2-.8M173.2 830.3l-2-.8l-2.1-.3l-2-.3l-2-2.2l-2-4.2l-2-3.6l-2.1-.6l-2 1.9l-2 2.1l-2 .4l-2-1.1l-2.1-1.4l-2-1.1l-2-.9l-2-1l-2.1-.8l-2-.1l-2 1l-2 1.4l-2 .6l-2.1-.9l-2-2.3l-2-2.9l-2-2.5l-2.1-1.7l-2-1.1l-2-.8l-2-.9l-2-.5l-2.1 0l-2 .7l-2 1l-2 .5l-2.1-.4l-2-1.7l-2-2.5l-2-2.7l-2-2.2l-2.1-1.5l-2-1l-2-.9l-2-1l-2-1l-2.1-1l-2-.5l-2-.1l-2 0l-2.1-.2l-2-.8l-2-1.4l-2-1.6l-2-1.5l-2.1-1.1l-2-.9l-2-1l-2-1.5l-2.1-2.1l-2-2.6l-2-2.5l-2-1.9l-2-.8l-2.1 .2l-2 .8l-2 .8l-2 .4l-2.1-.3l-2-.7l-2-.8l-2-.6l-2-.2l-2.1 0l-2-.1M175.5 829.4l-2-.8l-2 .6l-2 1.4l-2-.8l-2.1-4.3l-2-4.9l-2-2.2l-2 .7l-2 1.4l-2.1 .3l-2-.7l-2-.9l-2-1l-2-1.4l-2.1-1.9l-2-1.5l-2-.2l-2 1.1l-2 1.3l-2.1 .2l-2-1.3l-2-2.1l-2-2l-2-1.4l-2.1-1l-2-.9l-2-1.1l-2-1l-2-.5l-2 .3l-2.1 .7l-2 .2l-2-.7l-2-1.6l-2-2.2l-2.1-2l-2-1.4l-2-.9l-2-1l-2-1.4l-2.1-1.8l-2-1.9l-2-1.5l-2-.7l-2 0l-2.1 .2l-2 0l-2-.5l-2-.8l-2-.9l-2.1-.9l-2-.9l-2-1.2l-2-1.8l-2-2.3l-2.1-2.4l-2-2.1l-2-1.1l-2 0l-2 .6l-2.1 .8l-2 .4l-2-.4l-2-.7l-2-.8l-2-.3l-2.1 .4l-2 .7l-2 .4l-2-.2l-2-1.2l-2.1-2M177.9 828.1l-2-1.8l-2.1 .6l-2 3.2l-2 1.7l-2-2.8l-2-4.8l-2-3.1l-2.1-.7l-2 .2l-2-.5l-2-.8l-2-.9l-2-1.5l-2.1-2.5l-2-3.1l-2-2.1l-2-.1l-2 1.3l-2 1.3l-2.1 .3l-2-.8l-2-1.2l-2-1l-2-.9l-2.1-1.4l-2-1.9l-2-2.1l-2-1.5l-2-.3l-2 .6l-2.1 .5l-2-.1l-2-.8l-2-1.3l-2-1.1l-2-.9l-2.1-1l-2-1.6l-2-2.4l-2-2.8l-2-2.2l-2-1.1l-2.1 .1l-2 .8l-2 .8l-2 .3l-2-.4l-2-.8l-2.1-.8l-2-.8l-2-1l-2-1.4l-2-1.8l-2-1.9l-2.1-1.5l-2-.8l-2-.1l-2 .2l-2 0l-2-.4l-2.1-.8l-2-.7l-2-.2l-2 .6l-2 1l-2 .8l-2.1-.1l-2-1.4l-2-2.3l-2-2.7l-2-2.5l-2-1.7M180.2 827.3l-2-3.8l-2-1.5l-2 3.2l-2 3.8l-2.1-.4l-2-3.5l-2-2.9l-2-1.3l-2-.7l-2-.8l-2-.6l-2.1-.4l-2-1.6l-2-3.1l-2-3.6l-2-2.1l-2 .2l-2 1.4l-2.1 1.1l-2-.1l-2-.7l-2-.8l-2-1.1l-2-1.7l-2-2.7l-2.1-2.9l-2-2.1l-2-.6l-2 .8l-2 1.2l-2 .6l-2-.2l-2.1-.8l-2-.8l-2-1l-2-1.4l-2-2.2l-2-2.7l-2.1-2.6l-2-1.6l-2-.1l-2 .9l-2 1l-2 .5l-2-.3l-2.1-.8l-2-.7l-2-.4l-2-.2l-2-.5l-2-1l-2-1.5l-2.1-1.6l-2-1.4l-2-.9l-2-.6l-2-.7l-2-.8l-2-.8l-2.1-.3l-2 .3l-2 .8l-2 .8l-2 0l-2-1.1l-2-2.3l-2.1-2.6l-2-2.4l-2-1.6l-2-1.1l-2-.9l-2-1.4M182.6 829l-2.1-5l-2-5l-2 .8l-2 3.9l-2 1.2l-2-1.7l-2-1.9l-2-1l-2.1-.8l-2-.5l-2 .7l-2 .7l-2-1l-2-3.2l-2-3.7l-2-2l-2-.2l-2.1 .5l-2 0l-2-.8l-2-.8l-2-.7l-2-1.3l-2-2.4l-2-3l-2.1-2.5l-2-.8l-2 .7l-2 1.1l-2 .6l-2-.3l-2-.9l-2-.7l-2.1-.7l-2-1.1l-2-1.8l-2-2.3l-2-2l-2-1.1l-2 .1l-2 .5l-2 .2l-2.1-.5l-2-.8l-2-.5l-2 .2l-2 .7l-2 .5l-2-.4l-2-1.6l-2.1-2.3l-2-2.2l-2-1.8l-2-1.1l-2-1l-2-.8l-2-.8l-2-.4l-2.1 0l-2 .3l-2 .1l-2-.6l-2-1.5l-2-2l-2-2.1l-2-1.5l-2-.9l-2.1-1l-2-1.5l-2-2.4l-2-2.9l-2-2.5M184.9 831.4l-2-3.2l-2-6.9l-2-2.5l-2 2l-2.1 1.3l-2-.7l-2-1l-2-.9l-2-1.1l-2 0l-2 1.7l-2 1.9l-2-.5l-2-3.2l-2-3.7l-2.1-2.2l-2-.9l-2-.6l-2-.8l-2-.5l-2 .1l-2 .1l-2-1.1l-2-2.5l-2-2.7l-2.1-1.7l-2-.4l-2 .2l-2-.2l-2-.7l-2-.7l-2-.2l-2 .3l-2-.1l-2-1.1l-2-2.1l-2.1-2.1l-2-1.5l-2-.8l-2-.4l-2-.7l-2-.8l-2-.4l-2 .4l-2 1.2l-2 1.1l-2.1-.1l-2-1.7l-2-2.7l-2-2.9l-2-2.2l-2-1.3l-2-.9l-2-1l-2-1.2l-2-1.2l-2-.8l-2.1-.3l-2-.1l-2-.5l-2-.9l-2-1.3l-2-1.1l-2-1l-2-.9l-2-1.3l-2-2.2l-2.1-2.6l-2-2.5l-2-1.6l-2-.2l-2 .9M187.2 829.7l-2 1.3l-2-5.6l-2-4.3l-2-.2l-2 .2l-2-.7l-2-.9l-2-1.6l-2-2.1l-2-.6l-2 2.1l-2 2.4l-2.1-.2l-2-2.7l-2-3l-2-1.8l-2-1l-2-.8l-2-.3l-2 .8l-2 1.4l-2 .4l-2-1.6l-2-3l-2-2.9l-2-1.8l-2.1-.8l-2-.8l-2-.8l-2-.2l-2 .7l-2 1.3l-2 .5l-2-1l-2-2.5l-2-2.9l-2-2.2l-2-1.3l-2-1l-2-.8l-2.1-.6l-2 0l-2 .8l-2 1.1l-2 .1l-2-1.3l-2-2.6l-2-2.8l-2-2.1l-2-1.2l-2-.9l-2-1.3l-2-2l-2-2.2l-2.1-1.6l-2-.6l-2 .2l-2 .4l-2 0l-2-.6l-2-.8l-2-.8l-2-1l-2-1.3l-2-1.9l-2-2.1l-2-1.8l-2-.8l-2.1 .2l-2 .5l-2 .1l-2-.5M189.6 823.5l-2 4.9l-2-2.2l-2-3.7l-2-1.3l-2-.7l-2.1-.8l-2-.9l-2-2.6l-2-3.8l-2-1.7l-2 1.8l-2 2.6l-2 .3l-2-1.6l-2-1.7l-2-1l-2-.9l-2-.9l-2 .2l-2 1.6l-2 1.5l-2-.5l-2-2.6l-2-3.2l-2-2.4l-2-1.3l-2-.9l-2.1-.8l-2-.1l-2 .9l-2 1.4l-2 .6l-2-1.3l-2-2.8l-2-3.1l-2-2.1l-2-1.2l-2-.9l-2-1l-2-1l-2-.5l-2 .3l-2 .3l-2-.4l-2-1.5l-2-2l-2-1.7l-2-1l-2-1l-2.1-1.6l-2-2.7l-2-2.9l-2-2.1l-2-.5l-2 .8l-2 1.1l-2 .6l-2-.3l-2-.8l-2-.8l-2-.6l-2-.6l-2-1.1l-2-1.5l-2-1.4l-2-1l-2-.6l-2-.4l-2-.6l-2-.8l-2-.6l-2.1 .2M191.9 818.8l-2 4.6l-2 .4l-2-2l-2-1.2l-2-.8l-2-.1l-2 0l-2-2.7l-2-4.9l-2-2.9l-2 1.1l-2 2.2l-2 .4l-2-.8l-2-.9l-2-1.2l-2-2l-2-1.7l-2 .1l-2 1.6l-2 1l-2-.9l-2-2.3l-2-2l-2-1.1l-2-1l-2-1.2l-2-1.1l-2 0l-2 .9l-2 .6l-2.1-.9l-2-2.2l-2-2.2l-2-1.4l-2-.9l-2-1.3l-2-2l-2-2.1l-2-1.1l-2 0l-2 .5l-2 .1l-2-.7l-2-1l-2-1l-2-.9l-2-1.6l-2-2.7l-2-3.1l-2-2.2l-2-.6l-2 1l-2 1.4l-2 .6l-2-.4l-2-.8l-2-.4l-2 .2l-2 .4l-2-.4l-2-1.3l-2-2l-2-1.9l-2-1.3l-2-1l-2-.9l-2-.8l-2-.5l-2 0l-2 .4l-2 .1M194.3 819.3l-2 1.5l-2 .9l-2-1l-2-.9l-2-.8l-2 1l-2 1.9l-2-1.6l-2-5.1l-2-3.6l-2-.1l-2 .9l-2-.3l-2-.8l-2-1.1l-2-2.4l-2-3.4l-2-2.3l-2 .4l-2 1.9l-2 1l-2-.6l-2-1.1l-2-.9l-2-1.3l-2-2.2l-2-2.5l-2-1.4l-2 .4l-2 1.1l-2 .3l-2-.8l-2-1.2l-2-1l-2-1.1l-2-2.1l-2-3l-2-2.8l-2-1.1l-2 .6l-2 1.3l-2 .8l-2-.3l-2-.8l-2-.9l-2-1l-2-1.8l-2-2.5l-2-2.2l-2-1l-2 .3l-2 .9l-2 .3l-2-.6l-2-.8l-2 .1l-2 1l-2 1.2l-2 0l-2-1.7l-2-2.8l-2-2.6l-2-1.9l-2-1.1l-2-.8l-2-1.1l-2-1.1l-2-.8l-2-.3l-2-.3l-2-.6l-2-1.1M196.6 821.9l-2-1.1l-2-.1l-2-.8l-2-1.4l-2-1.7l-2 1.3l-2 3.6l-2 .2l-2-4.3l-2-3.8l-2-1.1l-2-.5l-2-.8l-2-.5l-2-1l-2-3l-2-4l-2-1.9l-1.9 .9l-2 1.9l-2 .5l-2-.6l-2-.9l-2-1.3l-2-2.6l-2-3.5l-2-2.4l-2 0l-2 1.6l-2 1.3l-2 0l-2-.7l-2-.9l-2-1.3l-2-2.4l-2-3.2l-2-2.6l-2-.6l-2 1.2l-2 1.4l-2 .5l-2-.6l-2-.8l-2-.4l-2-.4l-2-1.1l-2-1.8l-2-1.8l-2-1l-2-.2l-2-.3l-2-.8l-2-.7l-1.9 .3l-2 1.3l-2 1.4l-2 0l-2-1.9l-2-3.1l-2-3l-2-1.8l-2-1l-2-1.1l-2-1.7l-2-2.1l-2-1.6l-2-.6l-2 .2l-2 .2l-2-.2l-2-.8l-2-.8M198.9 822.5l-2-1.8l-2-.7l-1.9-.8l-2-2.1l-2-3.8l-2-.1l-2 4.2l-2 1.7l-2-2.7l-2-2.9l-2-1.2l-2-.8l-2-.2l-2 .9l-2-.1l-2-3l-2-3.9l-2-1.8l-2 .5l-2 .5l-1.9-.6l-2-.8l-2-.7l-2-1.7l-2-3.2l-2-2.9l-2-.9l-2 1.2l-2 1.2l-2 .1l-2-.8l-2-.7l-2-.7l-2-1.6l-2-2.6l-2-2.2l-2-.7l-2 .6l-2 .6l-1.9-.4l-2-.8l-2 0l-2 .8l-2 .6l-2-.8l-2-2.2l-2-2.5l-2-1.7l-2-1.1l-2-.8l-2-.8l-2-.1l-2 .7l-2 1.1l-2 .1l-2-1.6l-2-2.8l-2-2.7l-1.9-1.5l-2-.9l-2-1.5l-2-2.5l-2-3l-2-2l-2-.2l-2 1l-2 1l-2 .2l-2-.7l-2-.8l-2-.6l-2-.5M201.3 821.2l-2-1.2l-2-.7l-2 .3l-2-1.7l-2-5.8l-2-2.7l-2 3.2l-2 2.4l-2-1.1l-1.9-1.5l-2-.9l-2-.8l-2 .9l-2 2.3l-2 .5l-2-3.2l-2-4l-2-2l-2-.6l-2-.7l-2-.6l-1.9 .5l-2 .3l-2-1.7l-2-3.1l-2-2.4l-2-.4l-2 .2l-2-.5l-2-.7l-2 0l-2 .7l-2-.3l-2-1.9l-1.9-2.6l-2-1.7l-2-.7l-2-.5l-2-.8l-2-.3l-2 .9l-2 1.7l-2 .7l-2-1.6l-2-3.2l-2-3l-2-1.9l-1.9-1l-2-.9l-2-1l-2-.5l-2 .2l-2 .2l-2-.7l-2-1.8l-2-1.9l-2-1.2l-2-.9l-2-1.7l-2-2.9l-1.9-3.3l-2-2l-2 .1l-2 1.5l-2 1.3l-2 .1l-2-.7l-2-.5l-2 .2l-2 .5l-2-.3l-2-1.5M203.6 820.1l-2-.9l-2-.8l-1.9 1.9l-2 .7l-2-5.8l-2-5l-2 1.1l-2 1.7l-2-.5l-2-.9l-2-1.5l-2-1.6l-1.9 1l-2 2.9l-2 .5l-2-3.1l-2-3.4l-2-1.6l-2-.8l-2-.6l-2 .9l-2 2l-1.9 .3l-2-2.6l-2-3.6l-2-2.3l-2-1l-2-.8l-2-.5l-2 .7l-2 1.8l-2 .7l-1.9-1.8l-2-3.3l-2-2.8l-2-1.6l-2-.9l-2-.7l-2-.1l-2 1.1l-2 1.5l-1.9-.1l-2-2.3l-2-3.3l-2-2.5l-2-1.2l-2-1l-2-1.7l-2-2l-2-1.3l-2 0l-1.9 .3l-2-.2l-2-.8l-2-1l-2-.9l-2-1.4l-2-2.6l-2-3l-2-2l-2 0l-1.9 1.4l-2 1.1l-2-.2l-2-.8l-2 0l-2 1.1l-2 1.2l-2-.2l-2-2.1l-2-3l-1.9-2.4M206 819.3l-2-1.2l-2-2.2l-2 2.5l-2 4l-2-3.7l-2-5.5l-1.9-.9l-2 .2l-2-.8l-2-1.2l-2-2.9l-2-3.2l-2 .5l-2 3.1l-1.9 .7l-2-2l-2-1.8l-2-.9l-2-1l-2-.3l-2 1.8l-2 1.8l-1.9-1l-2-3.4l-2-3.1l-2-1.5l-2-.9l-2-.7l-2 .4l-2 1.8l-1.9 1.1l-2-1.5l-2-3.3l-2-3.1l-2-1.5l-2-.9l-2-1.1l-2-.8l-1.9 .2l-2 .8l-2-.3l-2-1.9l-2-2.2l-2-1.4l-2-1l-2-1.8l-1.9-3l-2-2.8l-2-1l-2 .9l-2 1.3l-2 .3l-2-.6l-2-.8l-1.9-1l-2-1.4l-2-2.2l-2-1.9l-2-.7l-2 .4l-2 .4l-1.9-.5l-2-.7l-2 .3l-2 1.6l-2 1.5l-2-.5l-2-2.6l-2-3.5l-1.9-2.5l-2-1.2l-2-1M208.3 818.7l-2-1.2l-2-4.8l-2 .3l-1.9 5.9l-2-.5l-2-4.3l-2-1.6l-2-.7l-2-.5l-1.9-.9l-2-4l-2-4.4l-2 .2l-2 2.8l-2 .9l-2-.9l-1.9-.9l-2-1.6l-2-2.4l-2-.6l-2 1.8l-2 1.2l-1.9-1.4l-2-2.4l-2-1.4l-2-.9l-2-1.5l-2-1.1l-2 .6l-1.9 1.2l-2-.4l-2-2.2l-2-2.2l-2-1.1l-2-1.2l-2-2.1l-1.9-2.3l-2-.7l-2 .7l-2 .5l-2-.6l-2-1.1l-1.9-.9l-2-1.3l-2-2.7l-2-3.6l-2-2.3l-2 .2l-2 1.8l-1.9 1.3l-2-.2l-2-.8l-2-.3l-2 0l-2-.8l-1.9-1.6l-2-1.8l-2-1l-2-.6l-2-.7l-2-.7l-2 .1l-1.9 1.3l-2 1.2l-2-.5l-2-2.6l-2-3.2l-2-2.2l-1.9-1l-2-1.3l-2-2.6l-2-3.3M210.6 818.5l-1.9 .6l-2-6.2l-2-4l-2 4.7l-2 1.6l-2-2.2l-1.9-1.2l-2-.7l-2 .9l-2 .6l-2-3.9l-1.9-4.9l-2-.5l-2 1.6l-2 .1l-2-.8l-2-1.4l-1.9-3.3l-2-3.5l-2-.3l-2 2.2l-2 1.3l-2-.8l-1.9-1l-2-1.1l-2-2.4l-2-3l-2-1.1l-1.9 1.2l-2 1.2l-2-.4l-2-1.1l-2-1l-2-1.5l-1.9-3.2l-2-3.3l-2-1.2l-2 1.3l-2 1.6l-2 .3l-1.9-.7l-2-.9l-2-1.4l-2-2.6l-2-2.9l-1.9-1.4l-2 .7l-2 1.4l-2 .2l-2-.7l-2-.2l-1.9 1.1l-2 .9l-2-.9l-2-2.5l-2-2.6l-1.9-1.7l-2-.9l-2-.9l-2-.5l-2 .3l-2 .6l-1.9-.3l-2-1.8l-2-2.5l-2-1.7l-2-.9l-2-1.5l-1.9-3.1l-2-3.5l-2-1.8l-2 .6M213 817.1l-2 4l-2-4.1l-2-7.2l-1.9 1.4l-2 1.6l-2-.9l-2-1l-2-.8l-1.9 2.3l-2 2.4l-2-3.2l-2-5l-2-1.5l-1.9-.1l-2-.7l-2-.5l-2-1.6l-2-4.1l-1.9-3.3l-2 .6l-2 2.2l-2 .6l-2-.7l-1.9-1l-2-2.4l-2-3.9l-2-2.7l-2 .7l-1.9 2.2l-2 .9l-2-.6l-2-.9l-2-1.5l-1.9-3.2l-2-3.4l-2-1.2l-2 1.4l-2 1.8l-1.9 .2l-2-.8l-2-.5l-2-.4l-2-1.6l-1.9-2.2l-2-1.4l-2-.1l-2 .1l-1.9-.7l-2-.4l-2 1.1l-2 1.9l-2 .4l-1.9-2.2l-2-3.6l-2-2.7l-2-1.3l-2-.9l-1.9-1.4l-2-1.2l-2-.4l-2 0l-2-.5l-1.9-1.2l-2-1.1l-2-.9l-2-1.5l-2-2.8l-1.9-3.2l-2-1.7l-2 .7l-2 1.7l-2 .6M215.3 813.3l-2 5.8l-1.9 1l-2-7.1l-2-1.3l-2 .2l-1.9-.8l-2-1.8l-2-2.3l-2 2.5l-2 3.6l-1.9-2.1l-2-4.1l-2-1.7l-2-.8l-1.9-.2l-2 1.1l-2-1l-2-4.1l-1.9-2.9l-2 .3l-2 .6l-2-.6l-2-.6l-1.9-.9l-2-2.9l-2-3.5l-2-.9l-1.9 1.5l-2 1l-2-.5l-2-.7l-2-.5l-1.9-1.8l-2-2.9l-2-1.7l-2 .4l-1.9 .8l-2-.4l-2-.6l-2 .7l-1.9 1l-2-.8l-2-2.5l-2-2.4l-2-1.4l-1.9-.8l-2-.7l-2 .1l-2 1.5l-1.9 1.5l-2-.9l-2-3.3l-2-3.2l-2-1.7l-1.9-1l-2-1.8l-2-2.7l-2-1.9l-1.9 .1l-2 .8l-2 .3l-2-.6l-2-.9l-1.9-1l-2-1.8l-2-2.4l-2-1.7l-1.9 0l-2 .8l-2 .1l-2-.7l-1.9-.1M217.7 810l-2 3l-2 5.2l-2-4.1l-1.9-2.2l-2-.7l-2-.7l-2-2.8l-1.9-4.6l-2 1.3l-2 4.1l-2-.7l-1.9-2.3l-2-1.1l-2-.7l-2 1.2l-1.9 2.6l-2-.9l-2-4.5l-2-3l-1.9-.7l-2-.7l-2-.2l-2 1l-1.9-.3l-2-3.1l-2-3l-2-.6l-1.9 .1l-2-.7l-2-.2l-2 1.1l-1.9 0l-2-2.3l-2-2.8l-2-1.4l-1.9-.4l-2-.8l-2-.1l-2 1.6l-1.9 1.8l-2-.7l-2-3.3l-2-3.4l-1.9-1.8l-2-.9l-2-.9l-2-.2l-1.9 .7l-2 .5l-2-1.4l-2-2.6l-1.9-1.9l-2-1l-2-1.7l-2-3.3l-1.9-3.3l-2-.8l-2 1.6l-2 1.5l-1.9 .1l-2-.8l-2-.5l-2-.4l-1.9-1.2l-2-1.7l-2-1.2l-2-.5l-1.9-.5l-2-.8l-2-.2l-2 1.2l-1.9 1.5M220 811.8l-2-3.2l-1.9 5.3l-2-1.2l-2-1.4l-2-.7l-1.9 .7l-2-2.6l-2-6.3l-1.9-.4l-2 3.4l-2 .1l-2-1l-1.9-1.2l-2-1.5l-2 1.7l-2 2.9l-1.9-1.4l-2-4l-2-2.4l-1.9-.9l-2-.4l-2 1.6l-2 2.2l-1.9-1.2l-2-4l-2-3l-2-1.1l-1.9-.8l-2 0l-2 2l-1.9 1.6l-2-1.6l-2-3.9l-2-2.8l-1.9-1.3l-2-.8l-2-.1l-1.9 1.5l-2 1.6l-2-.8l-2-3.5l-1.9-3.2l-2-1.4l-2-1.1l-2-1.8l-1.9-1.6l-2 0l-2 .4l-1.9-.4l-2-1.3l-2-1l-2-1.2l-1.9-2.7l-2-3.8l-2-2.1l-2 .9l-1.9 2.1l-2 .7l-2-.7l-1.9-.2l-2 .8l-2 .4l-2-1.3l-1.9-2.5l-2-2l-2-1.1l-1.9-.8l-2-.7l-2 .2l-2 .7l-1.9-.3l-2-1.9M222.3 816.7l-1.9-7.5l-2 2.3l-2-.1l-1.9-1l-2-.5l-2 2.8l-1.9-.5l-2-6.7l-2-2.2l-2 1.5l-1.9-.2l-2-1l-2-2.8l-1.9-3l-2 1.5l-2 2.9l-1.9-1l-2-2.3l-2-1.1l-2-1.1l-1.9-.2l-2 2.3l-2 1.4l-1.9-2.7l-2-3.8l-2-1.8l-1.9-.9l-2-.6l-2 1.3l-2 2l-1.9-.5l-2-3.6l-2-3.2l-1.9-1.3l-2-1l-2-1.1l-1.9 .1l-2 1.1l-2-.3l-2-2.4l-1.9-2.1l-2-1l-2-1.7l-1.9-3.3l-2-2.6l-2 0l-1.9 1.6l-2 .6l-2-.6l-2-.8l-1.9-1.4l-2-2.6l-2-2.8l-1.9-.9l-2 1.2l-2 1.1l-1.9-.5l-2-.4l-2 1.3l-2 1.8l-1.9-.4l-2-3l-2-3.3l-1.9-1.9l-2-.9l-2-1.2l-1.9-1.2l-2-.5l-2 0l-2-.6l-1.9-1.3l-2-1.1M224.7 818.5l-2-6.9l-1.9-.6l-2-.5l-2-1.3l-2-1.9l-1.9 4l-2 2.2l-2-5.5l-1.9-3.1l-2-.3l-2-.7l-1.9-1l-2-4.1l-2-4.1l-1.9 1.5l-2 2.9l-2-.2l-1.9-1l-2-1.5l-2-2.7l-1.9-.6l-2 2.3l-2 .6l-1.9-2.2l-2-1.8l-2-1l-1.9-1.8l-2-1l-2 1.2l-1.9 .9l-2-1.7l-2-2.3l-1.9-1.1l-2-1.5l-2-2.7l-1.9-1.7l-2 .8l-2 .9l-1.9-.6l-2-1.1l-2-1l-1.9-2.3l-2-3.9l-2-2.7l-2 .7l-1.9 2.3l-2 .8l-2-.7l-1.9-.5l-2-.5l-2-1.5l-1.9-2.1l-2-1l-2 .1l-1.9-.4l-2-.7l-2 .7l-1.9 2.3l-2 .9l-2-2.3l-1.9-4l-2-2.6l-2-1l-1.9-1.5l-2-2.6l-2-1.9l-1.9-.2l-2 .8l-2 .2l-1.9-.7l-2-.9l-2-1.2M227 815.2l-1.9-3.1l-2-1.5l-2-.7l-1.9-1.9l-2-4.8l-2 3l-1.9 4.2l-2-3.2l-2-2.5l-1.9-.8l-2 .2l-2 .4l-1.9-4.3l-2-4.4l-1.9 1l-2 1.7l-2-.5l-1.9-1.1l-2-3.2l-2-4.1l-1.9 0l-2 2.7l-2 .7l-1.9-.9l-2-1l-2-2.6l-1.9-3.5l-2-.7l-2 2l-1.9 .8l-2-.9l-2-.9l-1.9-1.8l-2-3.8l-1.9-3.1l-2 .5l-2 2.2l-1.9 .8l-2-.7l-2-1l-1.9-2l-2-3.5l-2-2.3l-1.9 .9l-2 1.8l-2 .2l-1.9-.7l-2 .5l-2 1l-1.9-.9l-2-2.6l-2-2.2l-1.9-1l-2-.9l-1.9-.3l-2 1l-2 1.5l-1.9-.6l-2-3.2l-2-3l-1.9-1.3l-2-1.3l-2-3.1l-1.9-3.5l-2-.9l-2 1.6l-1.9 1.5l-2-.2l-2-.8l-1.9-.3l-2-.5l-2-1.4M229.4 811.4l-2-.5l-2-1.1l-1.9 .1l-2-.8l-1.9-7.2l-2 0l-2 4.3l-1.9-1l-2-1.3l-2-.7l-1.9 1.7l-2 2.2l-1.9-3.9l-2-4.6l-2-.4l-1.9-.2l-2-.6l-2-1l-1.9-4l-2-3.7l-1.9 1.1l-2 2.3l-2 0l-1.9-.8l-2-2l-2-4.2l-1.9-2.9l-2 1.4l-1.9 2.4l-2 .2l-2-.8l-1.9-1.4l-2-3.4l-2-3.6l-1.9-.2l-2 2.3l-1.9 1.1l-2-.7l-2-.4l-1.9-.7l-2-2.2l-2-2.2l-1.9-.3l-2 .4l-1.9-.5l-2-.2l-2 1.8l-1.9 1.7l-2-1.4l-2-3.7l-1.9-2.9l-2-1.2l-1.9-1l-2-.8l-2 .2l-1.9 .4l-2-1l-2-2.2l-1.9-1.5l-2-1l-1.9-2.7l-2-4l-2-2.3l-1.9 1.3l-2 2.3l-2 .4l-1.9-.7l-2 .2l-1.9 1.1l-2-.4l-2-2.2l-1.9-2.4M231.7 810l-2-.1l-1.9-1l-2 .8l-1.9 2.5l-2-7.3l-2-3.2l-1.9 2.7l-2-.4l-1.9-1.1l-2-1.8l-2 2.4l-1.9 3.3l-2-3.4l-1.9-4.2l-2-1.1l-2-.7l-1.9 1l-2 .1l-1.9-4l-2-3.2l-2 .6l-1.9 .3l-2-.7l-1.9-.4l-2-2.2l-2-3.9l-1.9-1l-2 1.8l-1.9 .5l-2-.8l-2-.2l-1.9-1.4l-2-3.2l-1.9-1.6l-2 .8l-2 .4l-1.9-.7l-2 .6l-1.9 1.2l-2-1l-2-3l-1.9-2.1l-2-.8l-1.9-.8l-2 .2l-2 2.1l-1.9 1.5l-2-2.2l-1.9-4.1l-2-2.5l-2-1l-1.9-1.7l-2-2.2l-1.9-.7l-2 .6l-2 0l-1.9-1l-2-.8l-1.9-1.6l-2-3.1l-2-3.2l-1.9-.3l-2 1.9l-1.9 1l-2-.6l-2 .2l-1.9 2l-2 1l-1.9-2.1l-2-3.7l-2-2.3l-1.9-1M234 809.8l-1.9-.7l-2-2l-1.9-.3l-2 6.1l-1.9-4.6l-2-4.7l-2 .3l-1.9-.7l-2-1.9l-1.9-4l-2 1.6l-1.9 3.8l-2-2l-2-2.5l-1.9-.9l-2 .1l-1.9 2.9l-2 .5l-1.9-4.6l-2-3.3l-2-.7l-1.9-.7l-2 .8l-1.9 1.1l-2-2.4l-1.9-3.6l-2-.9l-2-.1l-1.9-.7l-2 .9l-1.9 1.2l-2-2l-2-3.3l-1.9-1.5l-2-.5l-1.9-.7l-2 1.2l-1.9 2.5l-2-.4l-2-3.7l-1.9-3.4l-2-1.4l-1.9-.9l-2-.3l-1.9 1.2l-2 .8l-2-2l-1.9-3.1l-2-1.6l-1.9-1.2l-2-3.1l-1.9-3.3l-2-.4l-2 1.8l-1.9 .9l-2-.6l-1.9-.8l-2-1.3l-1.9-2.3l-2-1.9l-2 .2l-1.9 .7l-2-.5l-1.9-.3l-2 1.8l-2 2.2l-1.9-1.1l-2-4l-1.9-3.3l-2-1.2l-1.9-1.4l-2-2.8M236.4 809.2l-2-.6l-1.9-2.7l-2-4.1l-1.9 6.9l-2-.6l-1.9-4l-2-.8l-2-.4l-1.9-2.1l-2-6l-1.9 .5l-2 3.7l-1.9-.6l-2-1l-1.9-1.5l-2 .1l-1.9 3.4l-2-.2l-2-4.4l-1.9-2.4l-2-.9l-1.9 .2l-2 2.8l-1.9 .8l-2-3.9l-1.9-3.7l-2-1.2l-2-.8l-1.9 1l-2 2.7l-1.9-.2l-2-4l-1.9-3.4l-2-1.2l-1.9-.8l-2 .7l-1.9 2.3l-2 .2l-2-3.5l-1.9-3.5l-2-1.3l-1.9-1.3l-2-1.8l-1.9-.3l-2 .7l-1.9-.6l-2-1.6l-2-1l-1.9-1.8l-2-4l-1.9-3.3l-2 .7l-1.9 2.5l-2 .8l-1.9-.8l-2 0l-2 0l-1.9-1.5l-2-2l-1.9-1l-2-.6l-1.9-.7l-2 .6l-1.9 1.9l-2 .5l-1.9-2.9l-2-3.6l-2-1.6l-1.9-1.3l-2-3.3l-1.9-3.6l-2-.5M238.7 808.4l-1.9 .4l-2-1.1l-1.9-8.3l-2 4.2l-1.9 1.8l-2-2l-1.9-.8l-2 1.3l-1.9-.7l-2-6.8l-1.9-.8l-2 2.3l-2-.4l-1.9-1.4l-2-3.5l-1.9-.8l-2 3.5l-1.9-.1l-2-2.6l-1.9-1l-2-1.3l-1.9 .7l-2 2.8l-1.9-.9l-2-4.1l-1.9-2.2l-2-1l-1.9-.4l-2 2l-1.9 1.5l-2-2.7l-2-3.8l-1.9-1.5l-2-1.2l-1.9-1l-2 .9l-1.9 .8l-2-1.9l-1.9-2.5l-2-1l-1.9-2l-2-3.6l-1.9-1.5l-2 1.4l-1.9 1.1l-2-.5l-1.9-.9l-2-1.9l-1.9-3.6l-2-2.4l-2 1.1l-1.9 2l-2-.2l-1.9-.3l-2 1.5l-1.9 .9l-2-2l-1.9-3.2l-2-1.8l-1.9-.9l-2-.8l-1.9 .3l-2 .8l-1.9-.9l-2-2.6l-1.9-1.9l-2-1l-1.9-2.7l-2-4.2l-2-1.9l-1.9 1.9l-2 2.1M241.1 807.3l-2 .4l-1.9 3.6l-2-9.3l-1.9-.2l-2 1.7l-1.9-.9l-2-1.2l-1.9 3l-2 1.6l-1.9-6.4l-2-2.3l-1.9 .2l-2-.7l-1.9-2.1l-2-5.2l-1.9-.9l-2 3.6l-1.9 .4l-2-1l-1.9-1.7l-2-3l-1.9 .6l-2 2.4l-1.9-1.2l-2-2l-1.9-1.1l-2-2.1l-1.9-.9l-2 1.7l-1.9 .1l-2-2.3l-1.9-1.4l-2-1.5l-1.9-3.1l-2-1.3l-1.9 1.5l-2 .5l-1.9-1.1l-2-.9l-1.9-2.4l-2-4.4l-1.9-2.1l-2 2l-1.9 2.1l-2-.2l-1.9-.7l-2-.8l-1.9-2.3l-2-2.1l-1.9 .2l-2 .5l-1.9-.6l-2 .5l-1.9 2.6l-2 .7l-1.9-3.3l-2-3.9l-1.9-1.7l-2-1l-1.9-1.7l-2-.9l-1.9 .2l-2-.3l-1.9-1.2l-2-1l-1.9-1.6l-2-3.4l-1.9-3l-2 .4l-1.9 2.1l-2 .5l-1.9-.6M243.4 806l-1.9-2.4l-2 7.7l-1.9-5.7l-2-3.2l-1.9 .2l-2-1.1l-1.9-3.1l-2 2.9l-1.9 3.6l-2-4.8l-1.9-2.6l-2-.7l-1.9 .4l-2-1.4l-1.9-5.7l-2-.7l-1.9 2.5l-1.9-.2l-2-1.1l-1.9-3.7l-2-3.9l-1.9 1.6l-2 2.6l-1.9-.5l-2-.9l-1.9-2.7l-2-4l-1.9-.1l-2 2.5l-1.9 .3l-2-1l-1.9-1.5l-2-4l-1.9-3.3l-2 1.3l-1.9 2.4l-2 .1l-1.9-.9l-1.9-1.8l-2-3.8l-1.9-2.4l-2 1.6l-1.9 1.8l-2-.4l-1.9 0l-2 .9l-1.9-1l-2-2.7l-1.9-1.6l-2-.6l-1.9-.7l-2 1l-1.9 2.4l-2-.3l-1.9-3.9l-2-3.3l-1.9-1.1l-2-2l-1.9-3.2l-1.9-1.3l-2 1.2l-1.9 .8l-2-.5l-1.9-.9l-2-1.6l-1.9-2.6l-2-1.4l-1.9 .7l-2 .6l-1.9-.7l-2 .7l-1.9 2.6M245.8 806.6l-2-7.4l-1.9 7.3l-2-.7l-1.9-3.2l-2-.7l-1.9-1.1l-2-5.7l-1.9 1.1l-2 4.6l-1.9-2.5l-1.9-1.5l-2-.4l-1.9 2.7l-2-.4l-1.9-5.7l-2-1.5l-1.9 .3l-2-.7l-1.9-.9l-2-4.5l-1.9-2.9l-1.9 2.4l-2 1.4l-1.9-.7l-2-1.5l-1.9-4.4l-2-3.1l-1.9 2.2l-2 2.2l-1.9-.4l-1.9-1l-2-2.9l-1.9-4.2l-2-.1l-1.9 2.6l-2 .5l-1.9-.6l-2-.3l-1.9-1.9l-2-2.7l-1.9-.2l-1.9 .6l-2-.7l-1.9 .8l-2 2.4l-1.9-.4l-2-3.8l-1.9-2.9l-2-1.1l-1.9-.8l-2 .2l-1.9 1.3l-1.9-.7l-2-3.1l-1.9-2l-2-1.1l-1.9-3.3l-2-4l-1.9-.2l-2 2.5l-1.9 1l-2-.7l-1.9-.3l-1.9-.4l-2-1.7l-1.9-1.5l-2-.5l-1.9-.7l-2-.3l-1.9 1.5l-2 1.6l-1.9-1.8M248.1 809.2l-2-9.6l-1.9 1.9l-1.9 2.2l-2-1.8l-1.9-.3l-2 .7l-1.9-7l-1.9-1.6l-2 3.9l-1.9-.7l-2-1.1l-1.9-.7l-2 4l-1.9 .1l-1.9-5.4l-2-2l-1.9-.7l-2 .9l-1.9 .4l-2-4.5l-1.9-2.4l-1.9 1l-2-.5l-1.9-.2l-2-1.3l-1.9-4.2l-2-1.1l-1.9 1.8l-1.9 0l-2-.4l-1.9-.3l-2-3l-1.9-2.4l-2 .8l-1.9 .2l-1.9-.5l-2 1.5l-1.9 .4l-2-3l-1.9-2.6l-2-.8l-1.9-.8l-1.9 1l-2 2.8l-1.9-.2l-2-4.3l-1.9-3.3l-2-1.1l-1.9-1.6l-1.9-1.4l-2 .4l-1.9 .1l-2-1.4l-1.9-1.1l-2-1.6l-1.9-4l-1.9-3.3l-2 1.1l-1.9 2.6l-2 .2l-1.9-.4l-2 1.3l-1.9 .5l-1.9-2.4l-2-2.7l-1.9-1.3l-2-.9l-1.9-.3l-2 .9l-1.9-.1l-1.9-2.3l-2-2.3M250.4 809.7l-1.9-5.8l-1.9-3.6l-2 1.7l-1.9-.9l-2-.2l-1.9 4l-1.9-6l-2-4l-1.9 1.8l-2-.6l-1.9-2.3l-2-2.6l-1.9 4.2l-1.9 .6l-2-3.6l-1.9-1.3l-2-.3l-1.9 3.1l-1.9 .6l-2-5.1l-1.9-2.7l-2-.6l-1.9 0l-1.9 2l-2-1.3l-1.9-4.2l-2-1.2l-1.9-.4l-1.9-.2l-2 2l-1.9-.2l-2-3.8l-1.9-2.2l-1.9-.6l-2-.5l-1.9 2.1l-2 2.2l-1.9-2.6l-1.9-4.3l-2-1.9l-1.9-.9l-2 .1l-1.9 1.8l-1.9 .1l-2-3.4l-1.9-2.7l-2-1l-1.9-2.9l-1.9-3.1l-2 .3l-1.9 1.7l-2-.1l-1.9-.8l-1.9-1.6l-2-3.2l-1.9-2.2l-2 1.2l-1.9 1.4l-1.9-.6l-2 .7l-1.9 2.7l-2-.2l-1.9-3.9l-1.9-3.2l-2-1.1l-1.9-1.4l-2-1.4l-1.9-.1l-1.9 0l-2-1.2l-1.9-1l-2-1.3M252.8 805l-2 1.6l-1.9-5.4l-1.9 0l-2-1.4l-1.9-1.9l-2 6.4l-1.9-3.2l-1.9-4.6l-2-.3l-1.9-.7l-1.9-3.7l-2-4.5l-1.9 3.9l-2 1.4l-1.9-1.4l-1.9-1.3l-2-.5l-1.9 3.7l-1.9-.4l-2-4.7l-1.9-1.9l-2-.6l-1.9 2l-1.9 2.6l-2-3.2l-1.9-4.4l-1.9-1.4l-2-.6l-1.9 2.1l-2 2.5l-1.9-2.9l-1.9-4.4l-2-1.7l-1.9-.8l-1.9 1l-2 2.6l-1.9-1.2l-2-4.4l-1.9-2.2l-1.9-1.1l-2-1.9l-1.9 .1l-2 .8l-1.9-1.3l-1.9-1.6l-2-1.2l-1.9-3.7l-1.9-4l-2 .7l-1.9 2.8l-2 .3l-1.9-.7l-1.9-.4l-2-1.8l-1.9-2l-1.9 0l-2-.1l-1.9-.6l-2 1.8l-1.9 2.5l-1.9-1.7l-2-4.5l-1.9-2.5l-1.9-1.1l-2-2.8l-1.9-2.4l-2 .4l-1.9 1.2l-1.9-.3l-2-.9l-1.9-1.3l-1.9-2.4M255.1 798.8l-1.9 6.1l-2-3.7l-1.9-.7l-1.9-1.7l-2-5.3l-1.9 6l-1.9 .1l-2-3.3l-1.9-.8l-1.9 .9l-2-3.6l-1.9-5.4l-1.9 2.8l-2 1l-1.9-.9l-2-3.2l-1.9-1.7l-1.9 3.6l-2-.3l-1.9-2.4l-1.9-1.1l-2-1.1l-1.9 2.5l-1.9 1.2l-2-4l-1.9-2.6l-1.9-1l-2-.2l-1.9 2.6l-1.9 0l-2-4.1l-1.9-2.3l-2-1.1l-1.9-1.3l-1.9 1.1l-2 .7l-1.9-2.5l-1.9-1.9l-2-1.4l-1.9-3.6l-1.9-2l-2 1.7l-1.9 1l-1.9-.8l-2-1.1l-1.9-3.4l-1.9-3.8l-2 .6l-1.9 2.7l-2 0l-1.9-.1l-1.9 1.3l-2-.7l-1.9-2.8l-1.9-1.9l-2-.8l-1.9-.4l-1.9 1.5l-2 1.4l-1.9-2.5l-1.9-3.6l-2-1.4l-1.9-2l-1.9-4.4l-2-1.9l-1.9 2.1l-2 1.7l-1.9-.5l-1.9-.3l-2-.2l-1.9-1.6l-1.9-1.6M257.5 797.1l-2 4.8l-1.9-1.4l-1.9-.4l-2 .2l-1.9-8.4l-1.9 3.2l-2 1.9l-1.9-1.5l-1.9-.6l-2 3.4l-1.9-2.2l-1.9-6l-2 .7l-1.9-.4l-1.9-1.2l-2-5.2l-1.9-1.9l-1.9 3.9l-2 .4l-1.9-1l-1.9-2.7l-2-2.4l-1.9 2.6l-1.9 .6l-2-2.1l-1.9-1.1l-1.9-2.6l-2-.7l-1.9 2.1l-1.9-.8l-2-2l-1.9-1.2l-1.9-3.3l-2-1.8l-1.9 1.9l-1.9 .4l-2-1.1l-1.9-1.3l-1.9-4.1l-2-3.6l-1.9 1.7l-1.9 2.6l-2-.3l-1.9-.7l-1.9-1.7l-2-3.1l-1.9-.4l-1.9 1.3l-2-.4l-1.9 .6l-1.9 2.7l-2-.3l-1.9-4.2l-1.9-2.8l-2-1l-1.9-1l-1.9 .2l-1.9 .5l-2-1.7l-1.9-2.1l-1.9-1l-2-3.2l-1.9-4.5l-1.9-.3l-2 3l-1.9 .9l-1.9-.6l-2 1.4l-1.9 .6l-1.9-2.4l-2-2.8l-1.9-1.2M259.8 799.5l-1.9 .9l-2-.7l-1.9-.5l-1.9 4.1l-2-8.5l-1.9-.7l-1.9 1.4l-1.9-1l-2-1.6l-1.9 4.9l-1.9-.8l-2-5.5l-1.9-1l-1.9-.3l-2-.2l-1.9-5.6l-1.9-1.5l-2 2.8l-1.9-.2l-1.9-1.5l-1.9-4.9l-2-2l-1.9 3.5l-1.9 .8l-2-.9l-1.9-2.7l-1.9-4.5l-2 .7l-1.9 2.7l-1.9-.4l-1.9-1l-2-3.4l-1.9-4.4l-1.9 1l-2 2.9l-1.9-.1l-1.9-.9l-2-3l-1.9-4l-1.9 .5l-1.9 2.6l-2-.2l-1.9 0l-1.9 .7l-2-2.1l-1.9-2.3l-1.9-.6l-2-.7l-1.9 .9l-1.9 3l-2-.5l-1.9-4.7l-1.9-2.8l-1.9-1.1l-2-2.4l-1.9-1.4l-1.9 .7l-2 0l-1.9-.9l-1.9-1.2l-2-3.2l-1.9-3.3l-1.9 .7l-1.9 2.3l-2-.3l-1.9 .5l-1.9 2.8l-2-.2l-1.9-4.1l-1.9-3l-2-1l-1.9-1.7M262.1 801.2l-1.9-1.5l-1.9-1l-1.9-2.7l-2 7.2l-1.9-5.2l-1.9-3.1l-2-.2l-1.9-1.7l-1.9-4.3l-1.9 4.7l-2 .9l-1.9-3.6l-1.9-.9l-2 1.4l-1.9 1.6l-1.9-5.6l-1.9-2.1l-2 .5l-1.9-.6l-1.9-1.4l-1.9-5.2l-2-.4l-1.9 2.8l-1.9-.2l-2-1.2l-1.9-4.4l-1.9-3.2l-1.9 2.8l-2 1.7l-1.9-.7l-1.9-1.7l-2-4.5l-1.9-1.5l-1.9 2.8l-1.9 .7l-2-.5l-1.9-.4l-1.9-2.9l-2-1.8l-1.9 .9l-1.9-.3l-1.9 .6l-2 2.6l-1.9-1.1l-1.9-4.2l-1.9-2.1l-2-.8l-1.9 .2l-1.9 2l-2-.4l-1.9-3.9l-1.9-2.1l-1.9-1.5l-2-4l-1.9-2.2l-1.9 1.9l-2 1.4l-1.9-.6l-1.9-.8l-1.9-2.1l-2-2.2l-1.9 .3l-1.9 .6l-1.9-.7l-2 1.8l-1.9 2.7l-1.9-2l-2-4.7l-1.9-2.1l-1.9-1.4l-1.9-3.4l-2-1.7M264.5 800.4l-1.9-1.4l-2-.6l-1.9-6.5l-1.9 6.6l-2-.7l-1.9-3l-1.9-.6l-1.9-1.4l-2-6.9l-1.9 3.3l-1.9 2l-1.9-1.4l-2-1.1l-1.9 2.7l-1.9 2.3l-1.9-5.7l-2-2.4l-1.9-.7l-1.9 1.5l-1.9-.6l-2-5l-1.9-.5l-1.9 .3l-1.9-.3l-2-.4l-1.9-4.2l-1.9-1.3l-1.9 1.7l-2-.4l-1.9 .2l-1.9-1.4l-1.9-3.5l-2-.1l-1.9 .5l-1.9-.3l-1.9 1.9l-2-.5l-1.9-3.6l-1.9-1.7l-1.9-.7l-2 .4l-1.9 3.2l-1.9-.1l-1.9-4.7l-2-3l-1.9-1l-1.9-1.4l-1.9 .2l-2 .4l-1.9-1.9l-1.9-1.3l-1.9-1.9l-2-4.8l-1.9-2.1l-1.9 2.8l-1.9 1.7l-2-.6l-1.9 .4l-1.9-.4l-1.9-2.3l-2-1.3l-1.9-.7l-1.9-.4l-1.9 1.9l-2 1.4l-1.9-3.1l-1.9-3.6l-2-1.2l-1.9-2.9l-1.9-4.4l-1.9-.2l-2 2.8M266.8 799.1l-1.9-.9l-1.9 1.9l-2-8.6l-1.9 2.1l-1.9 2l-1.9-1.6l-1.9 .4l-2 .9l-1.9-7.9l-1.9 1.1l-1.9 1.4l-2-1.1l-1.9-3.2l-1.9 2.5l-1.9 2.4l-1.9-4.1l-2-1.5l-1.9-.1l-1.9 3.7l-1.9-1.1l-2-5.3l-1.9-1.4l-1.9-.6l-1.9 2.2l-2 .1l-1.9-4.6l-1.9-1.6l-1.9-.5l-1.9 .6l-2 2.4l-1.9-2.5l-1.9-3.8l-1.9-.9l-2-.5l-1.9 2.3l-1.9 2.2l-1.9-3.8l-2-4l-1.9-1.2l-1.9-.5l-1.9 1.9l-1.9 1l-2-3.7l-1.9-2.8l-1.9-1.2l-1.9-3.3l-2-1.6l-1.9 1.6l-1.9 .3l-1.9-.8l-2-1.8l-1.9-4.2l-1.9-1.9l-1.9 2.6l-1.9 1.1l-2-.4l-1.9 2l-1.9 .6l-1.9-3.3l-2-2.9l-1.9-1l-1.9-.7l-1.9 .7l-2 .3l-1.9-2.4l-1.9-2l-1.9-1.3l-1.9-4.1l-2-3.7l-1.9 1.8l-1.9 2.6l-1.9-.3M269.2 798.2l-2-1.5l-1.9 4.6l-1.9-5.9l-1.9-3l-1.9 1.7l-2-1.1l-1.9 .7l-1.9 4.2l-1.9-7.4l-1.9-1.2l-2-.2l-1.9-1.7l-1.9-5.6l-1.9 2l-1.9 2.9l-2-1.8l-1.9-1.2l-1.9-.3l-1.9 4l-2-2.2l-1.9-4.2l-1.9-1.1l-1.9 .6l-1.9 3.8l-2-2l-1.9-5l-1.9-1.5l-1.9-.3l-1.9 3.1l-2 1l-1.9-4.9l-1.9-3l-1.9-.9l-1.9 .6l-2 3l-1.9-1.7l-1.9-4.5l-1.9-1.6l-1.9-1.6l-2-.9l-1.9 1.3l-1.9-1l-1.9-1.9l-1.9-1.3l-2-4.4l-1.9-3l-1.9 2.4l-1.9 1.9l-1.9-.6l-2-.8l-1.9-2.5l-1.9-2l-1.9 1l-1.9 .1l-2 0l-1.9 3.1l-1.9 .6l-1.9-4.5l-1.9-3.3l-2-1l-1.9-1.9l-1.9-.9l-1.9 .5l-2-.7l-1.9-1.1l-1.9-1.6l-1.9-4l-1.9-2l-2 2.3l-1.9 1.2l-1.9-.4l-1.9 2.5M271.5 797.5l-1.9-3.3l-1.9 4l-2 .3l-1.9-5.3l-1.9 .1l-1.9-2l-1.9-1.3l-1.9 6.4l-2-5.1l-1.9-2.2l-1.9-.4l-1.9-.8l-1.9-6.8l-2 1.5l-1.9 2.4l-1.9-.9l-1.9-3.3l-1.9-1.4l-1.9 3.8l-2-1.5l-1.9-1.7l-1.9-1.5l-1.9 .7l-1.9 2.8l-2-3.2l-1.9-2.9l-1.9-1.1l-1.9 0l-1.9 2.8l-1.9-1.8l-2-3.8l-1.9-1.2l-1.9-1.8l-1.9 .7l-1.9 1.2l-1.9-2.6l-2-1.6l-1.9-2.1l-1.9-3.9l-1.9 .4l-1.9 2l-2-.6l-1.9-1.1l-1.9-3.8l-1.9-3.8l-1.9 2l-1.9 2.3l-2-.5l-1.9 .7l-1.9-.3l-1.9-2.7l-1.9-1.3l-2-.6l-1.9 .1l-1.9 2.9l-1.9 .2l-1.9-4.6l-1.9-2.8l-2-1.3l-1.9-3.6l-1.9-1.7l-1.9 1.8l-1.9 .6l-2-.8l-1.9-1.2l-1.9-2.7l-1.9-1.1l-1.9 1.1l-1.9-.2l-2 .5l-1.9 3.2l-1.9-.3M273.8 797.2l-1.9-3.5l-1.9-1.6l-1.9 5.3l-1.9-4.1l-1.9-.6l-2-2.6l-1.9-4.8l-1.9 6.5l-1.9-2.1l-1.9-1.3l-1.9 1l-1.9 1.4l-2-6.9l-1.9-.1l-1.9 .4l-1.9-1.1l-1.9-5.4l-1.9-1.3l-2 4l-1.9-.3l-1.9-1.4l-1.9-3.9l-1.9 .7l-1.9 2.4l-1.9-1.8l-2-1.2l-1.9-3l-1.9-.4l-1.9 2.2l-1.9-1.5l-1.9-1.3l-2-2.7l-1.9-3.3l-1.9 1.8l-1.9 1.1l-1.9-1l-1.9-1.8l-2-5.1l-1.9-1.6l-1.9 3.4l-1.9 .9l-1.9-.8l-1.9-1.7l-1.9-3.5l-2 .1l-1.9 1.6l-1.9-.5l-1.9 1.9l-1.9 1.6l-1.9-3.5l-2-3.3l-1.9-1l-1.9-.5l-1.9 1.5l-1.9 .1l-1.9-3.4l-1.9-1.9l-2-1.9l-1.9-4.9l-1.9-1.4l-1.9 3.1l-1.9 .9l-1.9-.5l-2 .2l-1.9-1.4l-1.9-1.9l-1.9-.6l-1.9-.7l-1.9 1l-1.9 2.3l-2-1.9l-1.9-4.2M276.2 796.6l-1.9 .4l-1.9-8.2l-2 5.6l-1.9-1.8l-1.9 .1l-1.9-.8l-1.9-7.9l-1.9 4.7l-1.9-.3l-2-1.2l-1.9 1.9l-1.9 3.2l-1.9-6.5l-1.9-1.6l-1.9-.5l-1.9-.1l-1.9-5.7l-2-.7l-1.9 2.7l-1.9-.6l-1.9-2.9l-1.9-5.2l-1.9 2.3l-1.9 2.4l-1.9-.8l-2-2.6l-1.9-4.9l-1.9 1.5l-1.9 2.5l-1.9-.6l-1.9-1.9l-1.9-5.3l-2-.8l-1.9 3.5l-1.9 .3l-1.9-1l-1.9-3.5l-1.9-3.5l-1.9 2.3l-1.9 1.5l-2-.4l-1.9 .8l-1.9-1.9l-1.9-2.4l-1.9-.3l-1.9-.6l-1.9 2.1l-1.9 2.7l-2-3.5l-1.9-4.4l-1.9-1.2l-1.9-1.7l-1.9-.7l-1.9 .7l-1.9-1.2l-2-1.2l-1.9-2.2l-1.9-4.9l-1.9-.9l-1.9 3.3l-1.9 .5l-1.9 .2l-1.9 2l-2-1.3l-1.9-3.4l-1.9-1.6l-1.9-.8l-1.9 .2l-1.9 .8l-1.9-1.9l-1.9-2.4l-2-1.1M278.5 793.7l-1.9 6.7l-1.9-10.3l-1.9 2.5l-1.9-.9l-1.9 .5l-1.9 3.2l-2-8.8l-1.9 1.4l-1.9-.4l-1.9-2.9l-1.9 .8l-1.9 4.1l-1.9-4.6l-1.9-1.5l-1.9 .9l-1.9 2l-2-5.8l-1.9-1.4l-1.9 .1l-1.9-.2l-1.9-3.2l-1.9-4.2l-1.9 2.9l-1.9 .6l-1.9-.9l-2-4.2l-1.9-3.3l-1.9 3.3l-1.9 .9l-1.9-.7l-1.9-3.2l-1.9-3.9l-1.9 2.2l-1.9 1.5l-1.9-.5l-2-.3l-1.9-3.3l-1.9-1l-1.9 .9l-1.9-.5l-1.9 2.5l-1.9 .6l-1.9-4.3l-1.9-2.4l-2-.8l-1.9 .9l-1.9 2.5l-1.9-2.3l-1.9-4.1l-1.9-1.3l-1.9-3.1l-1.9-2.7l-1.9 1.6l-2 .9l-1.9-.7l-1.9-1.7l-1.9-3.7l-1.9-.8l-1.9 2.2l-1.9-.2l-1.9 1.1l-1.9 3.1l-1.9-2l-2-4.7l-1.9-1.6l-1.9-1.5l-1.9-1.5l-1.9 .3l-1.9-.4l-1.9-1.1l-1.9-1.4l-1.9-3.8M280.9 789.6l-1.9 9.3l-2-6.5l-1.9-.6l-1.9-1.3l-1.9-1.6l-1.9 6.7l-1.9-6.9l-1.9-1l-1.9-.7l-1.9-5l-1.9-1.1l-1.9 4.7l-1.9-2l-2-1.1l-1.9 2.2l-1.9 2.8l-1.9-6l-1.9-2.1l-1.9-.4l-1.9 2.2l-1.9-3.1l-1.9-3.6l-1.9 .7l-1.9-.4l-1.9 .4l-1.9-4l-2-1.6l-1.9 1.4l-1.9-.5l-1.9 .7l-1.9-3l-1.9-2.2l-1.9 .8l-1.9-.4l-1.9 2.1l-1.9-.4l-1.9-4l-1.9-1.3l-2-.7l-1.9 2.2l-1.9 2.6l-1.9-4l-1.9-4l-1.9-1.1l-1.9-1.2l-1.9 1.1l-1.9-.3l-1.9-2.6l-1.9-1.2l-1.9-3.8l-2-4.1l-1.9 2.2l-1.9 2.3l-1.9-.6l-1.9-.3l-1.9-1.9l-1.9-1.7l-1.9 .3l-1.9-.5l-1.9 1.5l-1.9 3.1l-1.9-2.9l-1.9-4.6l-2-1.4l-1.9-2.8l-1.9-2.9l-1.9 1.2l-1.9 1.1l-1.9-.7l-1.9-1l-1.9-2.5l-1.9-1.1M283.2 788.9l-1.9 4.6l-1.9-1.1l-1.9-1.3l-1.9-1.3l-1.9-5.8l-1.9 7.7l-1.9-3.4l-1.9-1.4l-1.9 .9l-2-5.3l-1.9-2.7l-1.9 3.7l-1.9-.7l-1.9-2.8l-1.9 1.7l-1.9 2.8l-1.9-4.5l-1.9-1.4l-1.9 .9l-1.9 3.9l-1.9-4.4l-1.9-3.7l-1.9-.8l-1.9 1.7l-1.9 1.6l-1.9-4.8l-2-2l-1.9-.6l-1.9 1.8l-1.9 1.7l-1.9-4.5l-1.9-2.4l-1.9-.7l-1.9 1.7l-1.9 3l-1.9-3.9l-1.9-4l-1.9-1l-1.9 .2l-1.9 2.6l-1.9-1.7l-1.9-4.1l-1.9-1.3l-1.9-3l-2-1.5l-1.9 1.7l-1.9-.3l-1.9-1l-1.9-3.3l-1.9-4.4l-1.9 1.7l-1.9 2.6l-1.9-.5l-1.9 1.4l-1.9-.1l-1.9-3.2l-1.9-1.6l-1.9-.7l-1.9 1l-1.9 2l-1.9-2.7l-1.9-3.6l-2-1.2l-1.9-4.2l-1.9-3.3l-1.9 2.6l-1.9 1.8l-1.9-.6l-1.9 .3l-1.9-1.1l-1.9-2l-1.9-.7M285.5 793.2l-1.9-3.5l-1.9 1.5l-1.9-.8l-1.9 1.2l-1.9-9.3l-1.9 5.3l-1.9-.6l-1.9-.8l-1.9 3.5l-1.9-3.8l-1.9-4.4l-1.9 1.3l-1.9-1.1l-1.9-5.4l-1.9 1.1l-1.9 3.1l-1.9-1.8l-1.9-1.4l-1.9 1l-1.9 3.2l-1.9-4.6l-1.9-2.3l-1.9-.5l-1.9 3.8l-1.9-.3l-1.9-5.6l-1.9-1.6l-1.9 .1l-1.9 3.8l-2-1.2l-1.9-5.3l-1.9-1.5l-1.9-.3l-1.9 3.1l-1.9-.7l-1.9-4.8l-1.9-1.5l-1.9-1.9l-1.9 .1l-1.9 1.1l-1.9-2.2l-1.9-1.3l-1.9-3.6l-1.9-4l-1.9 2.4l-1.9 1.9l-1.9-.7l-1.9-1.6l-1.9-3.6l-1.9 0l-1.9 1.7l-1.9-.4l-1.9 2.6l-1.9 1.2l-1.9-4.4l-1.9-2.9l-1.9-1l-1.9-.7l-1.9 .9l-1.9-1.3l-1.9-2.1l-2-1.3l-1.9-4.8l-1.9-2.7l-1.9 3.3l-1.9 1.3l-1.9-.1l-1.9 2.2l-1.9-1.1l-1.9-3.6l-1.9-1.5l-1.9-.8M287.9 797l-1.9-7.5l-1.9 .8l-1.9-1.1l-1.9 5.1l-1.9-9.3l-1.9 1.3l-1.9-.1l-1.9-2l-1.9 4.9l-1.9-1.7l-1.9-4.8l-1.9-.5l-1.9-.4l-1.9-6.6l-1.9 .9l-1.9 2.7l-1.9-.9l-1.9-3.9l-1.9 .4l-1.9 2.9l-1.9-2.5l-1.9-1.2l-1.9-1.2l-1.9 3.4l-1.9-2l-1.9-3.2l-1.9-1.2l-1.9 .3l-1.9 2.6l-1.9-3.3l-1.9-2.5l-1.9-1.6l-1.9-.8l-1.9 2l-1.9-2l-1.9-1.8l-1.9-2.5l-1.9-3.7l-1.9 1.8l-1.9 1.1l-1.9-.8l-1.9-2.7l-1.9-5.1l-1.9 1.1l-1.9 3l-1.9-.4l-1.9 .5l-1.9-1.5l-2-2.3l-1.9-.1l-1.9-.6l-1.9 2.7l-1.9 1.9l-1.9-4.6l-1.9-3.5l-1.9-1.3l-1.9-2.8l-1.9-.1l-1.9 .9l-1.9-.8l-1.9-1.3l-1.9-4l-1.9-1.9l-1.9 2.6l-1.9 .4l-1.9 .8l-1.9 3.3l-1.9-2l-1.9-4.7l-1.9-1.5l-1.9-1.8l-1.9-1.5M290.2 795.6l-1.9-5.5l-1.9-.5l-1.9-3.5l-1.9 7.3l-1.9-5.5l-1.9-1.8l-1.9-.7l-1.9-4.8l-1.9 4.1l-1.9 .7l-1.9-3.3l-1.9-.1l-1.9 2.2l-1.9-6.7l-1.8-.2l-1.9 .7l-1.9-1.4l-1.9-6.1l-1.9 1.2l-1.9 3l-1.9-.9l-1.9-3.2l-1.9-2.3l-1.9 3.5l-1.9-1l-1.9-1.2l-1.9-3.6l-1.9 .1l-1.9 2.1l-1.9-1.7l-1.9-1.4l-1.9-4.4l-1.9 0l-1.9 2.4l-1.9-.8l-1.9-1.8l-1.9-5.4l-1.9-.5l-1.9 3.6l-1.9 0l-1.9-1l-1.9-3.6l-1.9-1.5l-1.9 2.3l-1.9-.3l-1.9 1.8l-1.9 1.1l-1.9-4l-1.9-2.3l-1.9-.7l-1.9 1.2l-1.9 1.9l-1.9-3.4l-1.9-3.1l-1.9-1.6l-1.9-4.7l-1.9-.6l-1.9 2.8l-1.9 0l-1.9-.8l-1.9-2.1l-1.9-1.9l-1.9 1l-1.9-.4l-1.9 1.4l-1.9 3.3l-1.9-3.1l-1.9-4.6l-1.9-1.3l-1.9-3.4l-1.8-2.4l-1.9 2M292.6 791.4l-1.9-1.8l-1.9-.3l-1.9-6l-1.9 4.9l-1.9-.5l-1.9-2.2l-1.9-.1l-1.9-6.8l-1.9 1.8l-1.9 2.3l-1.9-1.4l-1.9 .4l-1.9 4.5l-1.9-6.4l-1.9-1.9l-1.9-.4l-1.9-.5l-1.9-6.2l-1.9 1.7l-1.9 1.4l-1.8-1.2l-1.9-5.5l-1.9-.9l-1.9 3.9l-1.9-.4l-1.9-2.6l-1.9-5.3l-1.9 2.4l-1.9 2.1l-1.9-.8l-1.9-3.7l-1.9-4.5l-1.9 3.3l-1.9 1.6l-1.9-.8l-1.9-3.5l-1.9-3.5l-1.9 2.8l-1.9 .9l-1.9 .1l-1.9-.1l-1.9-3.1l-1.9-.6l-1.8-.4l-1.9 1.7l-1.9 3.1l-1.9-3.9l-1.9-4.1l-1.9-1l-1.9-1.1l-1.9 1l-1.9-1.1l-1.9-2l-1.9-1.7l-1.9-5.3l-1.9-1.2l-1.9 3.8l-1.9 .2l-1.9 .3l-1.9 .1l-1.9-2.5l-1.9-1.2l-1.9-.8l-1.9 1.2l-1.9 2.2l-1.9-3.1l-1.8-3.5l-1.9-1.4l-1.9-5l-1.9-1.9l-1.9 3.4l-1.9 .7M294.9 788.9l-1.9-.1l-1.9 .9l-1.9-5l-1.9-1l-1.9 2.2l-1.9-1.2l-1.8 2.5l-1.9-6.4l-1.9-1.2l-1.9 1.8l-1.9-1.5l-1.9-1l-1.9 5.2l-1.9-5l-1.9-1.8l-1.9 1.1l-1.9 1.4l-1.9-6.2l-1.9 0l-1.9-.3l-1.9-.5l-1.8-5.5l-1.9 .7l-1.9 1.8l-1.9-.7l-1.9-3.8l-1.9-3.5l-1.9 3.6l-1.9 .3l-1.9-.9l-1.9-4.6l-1.9-1l-1.9 2.9l-1.9-.4l-1.9 .2l-1.9-3.2l-1.8-1.2l-1.9 .8l-1.9 0l-1.9 3.1l-1.9-2.2l-1.9-4l-1.9-1l-1.9 .3l-1.9 3.3l-1.9-2.1l-1.9-4.6l-1.9-1.2l-1.9-3.3l-1.9-.8l-1.9 1.6l-1.8-.7l-1.9-1.3l-1.9-4.4l-1.9-1.8l-1.9 3.2l-1.9 .2l-1.9 1.3l-1.9 2l-1.9-3.5l-1.9-3l-1.9-.9l-1.9-.3l-1.9 1l-1.9-1.9l-1.8-2.1l-1.9-1.7l-1.9-5.3l-1.9-.9l-1.9 3.7l-1.9 .1l-1.9 1.2M297.2 788.4l-1.8-.5l-1.9 .8l-1.9 .3l-1.9-6l-1.9 1.7l-1.9-1.4l-1.9 4.7l-1.9-3.8l-1.9-3.6l-1.9 0l-1.9-3l-1.8-3.3l-1.9 5.5l-1.9-2.4l-1.9-1l-1.9 2.6l-1.9 1.8l-1.9-6.3l-1.9-1.3l-1.9 .8l-1.9 1.3l-1.9-5.5l-1.8-.2l-1.9-.4l-1.9 1.1l-1.9-3.7l-1.9-1.9l-1.9 1.1l-1.9-.1l-1.9 .5l-1.9-4.1l-1.9-.3l-1.9-.1l-1.8 1.6l-1.9 .9l-1.9-4.3l-1.9-1.6l-1.9-.5l-1.9 3.3l-1.9 .9l-1.9-5.5l-1.9-2.3l-1.9-1.1l-1.8 .9l-1.9 .4l-1.9-3.1l-1.9-1.3l-1.9-4.3l-1.9-3l-1.9 3.2l-1.9 .9l-1.9-.7l-1.9-2.2l-1.9-2.4l-1.8 1.3l-1.9-.1l-1.9 1.7l-1.9 3.1l-1.9-4l-1.9-4l-1.9-1.2l-1.9-2.3l-1.9 .1l-1.9 .2l-1.9-1l-1.8-1.8l-1.9-4.3l-1.9-.3l-1.9 2.7l-1.9-.3l-1.9 2.6l-1.9 1.8M299.6 788.1l-1.9-1l-1.9-2.8l-1.9 6.6l-1.9-6.9l-1.9 0l-1.8-3.5l-1.9 4.3l-1.9-.3l-1.9-3.9l-1.9-.3l-1.9-3l-1.9-5l-1.9 4.9l-1.9-.7l-1.8-2.5l-1.9 2.4l-1.9 1.4l-1.9-4.4l-1.9-.9l-1.9 3.1l-1.9 .9l-1.9-6.1l-1.8-1.3l-1.9 1l-1.9 2.9l-1.9-4.9l-1.9-2.4l-1.9-.5l-1.9 3.1l-1.9-.3l-1.9-5l-1.8-1.3l-1.9 .4l-1.9 4l-1.9-2.6l-1.9-4.8l-1.9-1.1l-1.9 .6l-1.9 2.7l-1.8-3.4l-1.9-3.2l-1.9-1.7l-1.9-2.9l-1.9 1.5l-1.9 0l-1.9-1l-1.9-3.6l-1.9-4.5l-1.8 2.8l-1.9 2l-1.9-.3l-1.9 .7l-1.9-2.5l-1.9-1.4l-1.9-.6l-1.9 1.2l-1.8 3.1l-1.9-3.6l-1.9-3.9l-1.9-1.5l-1.9-4.3l-1.9-.4l-1.9 2.3l-1.9-.3l-1.9-1l-1.8-2.7l-1.9-.7l-1.9 1l-1.9-.4l-1.9 3.2l-1.9 .8l-1.9-5.3M301.9 787.3l-1.9 .4l-1.8-8.2l-1.9 8.7l-1.9-4.2l-1.9-.5l-1.9-5.1l-1.9 1.1l-1.9 2.6l-1.8-2.2l-1.9 1.3l-1.9-1l-1.9-6.1l-1.9 2.4l-1.9-.9l-1.9-5.4l-1.8 1.9l-1.9 2.1l-1.9-1.7l-1.9-1.7l-1.9 3.5l-1.9-.7l-1.9-4.3l-1.8-.9l-1.9 2.8l-1.9 1.4l-1.9-5.8l-1.9-1.7l-1.9 .5l-1.9 4l-1.8-3.7l-1.9-4.1l-1.9-.9l-1.9 1.8l-1.9 1.8l-1.9-4.9l-1.9-1.9l-1.8-2l-1.9 .4l-1.9 .7l-1.9-2.4l-1.9-1.5l-1.9-5.1l-1.9-.3l-1.8 3.1l-1.9-.3l-1.9-1.7l-1.9-4.2l-1.9 .6l-1.9 1.9l-1.9-.1l-1.9 3l-1.8-1.7l-1.9-4.1l-1.9-1.1l-1.9-.2l-1.9 1.9l-1.9-1.9l-1.9-3.1l-1.8-1.6l-1.9-5.4l-1.9-.7l-1.9 3.7l-1.9-.1l-1.9 .3l-1.9-.7l-1.8-2.3l-1.9-.7l-1.9-.4l-1.9 2.4l-1.9 0l-1.9-4.5l-1.9-1.6M304.3 786.4l-1.9 3.1l-1.9-10.1l-1.9 5.2l-1.9-1.4l-1.8 .8l-1.9-3.9l-1.9-3.1l-1.9 3.1l-1.9-1.2l-1.9 2.4l-1.8 1.2l-1.9-6.5l-1.9-.2l-1.9-.5l-1.9-6.9l-1.9 2.1l-1.8 2.1l-1.9-1.4l-1.9-4.4l-1.9 3.4l-1.9-.2l-1.9-1.6l-1.8-2.1l-1.9 2.6l-1.9-.4l-1.9-3.3l-1.9-1.4l-1.9 .5l-1.9 2.1l-1.8-4l-1.9-1.5l-1.9-2.3l-1.9 1.6l-1.9-.2l-1.9-2.3l-1.8-2.2l-1.9-4.1l-1.9 2.3l-1.9 .8l-1.9-1l-1.9-4.4l-1.8-3.3l-1.9 3.8l-1.9 .7l-1.9 0l-1.9-1.5l-1.9-2.3l-1.8 .5l-1.9-.3l-1.9 3.6l-1.9 0l-1.9-5.6l-1.9-1.8l-1.8-1.8l-1.9-.2l-1.9 .3l-1.9-1.5l-1.9-1.5l-1.9-5.2l-1.8-1.1l-1.9 3.8l-1.9-.1l-1.9 1.9l-1.9 .6l-1.9-4l-1.8-1.9l-1.9-.8l-1.9 .7l-1.9-.2l-1.9-2.7l-1.9-1.2l-1.8-4.4M306.6 785.1l-1.9 3.5l-1.9-5.4l-1.8-.3l-1.9-.5l-1.9 1.4l-1.9 .2l-1.9-6.1l-1.8 1.3l-1.9-2.5l-1.9 1.1l-1.9 3l-1.9-4.9l-1.8-.5l-1.9 2l-1.9-6.8l-1.9 .9l-1.9 .3l-1.8-2.6l-1.9-5.6l-1.9 4.3l-1.9 .6l-1.9-1.9l-1.9-4.6l-1.8 3.3l-1.9 .2l-1.9-1.3l-1.9-4.1l-1.9 .7l-1.8 1.7l-1.9-1.4l-1.9-2.9l-1.9-3.7l-1.9 3.1l-1.8 .2l-1.9-1.3l-1.9-5.5l-1.9-1l-1.9 3.9l-1.8-.2l-1.9-1.5l-1.9-4.2l-1.9 1l-1.9 1.4l-1.9 .4l-1.8 2.2l-1.9-3.5l-1.9-2.4l-1.9-.7l-1.9 2.2l-1.8 1.5l-1.9-4.9l-1.9-2.2l-1.9-2.9l-1.9-2.8l-1.8 2.1l-1.9 .3l-1.9-1l-1.9-3.5l-1.9-1.8l-1.8 2.5l-1.9-.2l-1.9 2.8l-1.9 1.5l-1.9-5.2l-1.8-2.5l-1.9-1.6l-1.9-1.6l-1.9 .7l-1.9-.7l-1.9-1.1l-1.8-3.6l-1.9-2.3M308.9 784.6l-1.8-1.4l-1.9 2.4l-1.9-3.2l-1.9-1.3l-1.8-1l-1.9 5l-1.9-6.2l-1.9-.4l-1.9-4l-1.8-1.5l-1.9 4.3l-1.9-2.2l-1.9 .2l-1.8 4.4l-1.9-6.7l-1.9-1.2l-1.9-.2l-1.9-2.1l-1.8-4.9l-1.9 3.4l-1.9-.3l-1.9-3.6l-1.9-4.4l-1.8 4.5l-1.9 .2l-1.9-2.5l-1.9-5.6l-1.8 3.3l-1.9 1.5l-1.9-1.2l-1.9-5.6l-1.9-.6l-1.8 3.8l-1.9-.4l-1.9-2.5l-1.9-4.5l-1.9 2.7l-1.8 1l-1.9 .4l-1.9-1.1l-1.9-2.9l-1.8 .2l-1.9 0l-1.9 4l-1.9-1.8l-1.9-5.1l-1.8-1.2l-1.9-.5l-1.9 1.6l-1.9-2.3l-1.9-2l-1.8-3l-1.9-4.9l-1.9 2.6l-1.9 2l-1.8-.6l-1.9-.8l-1.9-2.3l-1.9 .1l-1.9-.4l-1.8 2.6l-1.9 1.9l-1.9-5.4l-1.9-2.5l-1.8-2.6l-1.9-3.5l-1.9 2l-1.9 .8l-1.9-.8l-1.8-1.9l-1.9-1.8l-1.9 .9M311.3 786.6l-1.9-8.8l-1.9 6.5l-1.8-2.6l-1.9-1l-1.9-5.7l-1.9 7.2l-1.8-3.8l-1.9 .2l-1.9-3.2l-1.9-4l-1.8 3.8l-1.9-1.1l-1.9-1l-1.9 5.2l-1.8-5.7l-1.9-1.5l-1.9 2.1l-1.9-1l-1.9-5l-1.8 .6l-1.9 0l-1.9-3.6l-1.9-2.6l-1.8 2.8l-1.9-.6l-1.9-3.3l-1.9-3.5l-1.8 3.6l-1.9-.2l-1.9-1.4l-1.9-4.8l-1.8 2.1l-1.9 .8l-1.9 .3l-1.9-2.2l-1.8-2.3l-1.9 .9l-1.9 .3l-1.9 3.1l-1.8-3.5l-1.9-3.1l-1.9-.8l-1.9 2.6l-1.9 1.3l-1.8-5.4l-1.9-1.9l-1.9-2.7l-1.9-.6l-1.8 1.1l-1.9-1l-1.9-2.2l-1.9-5.4l-1.8 1.3l-1.9 2.9l-1.9-.2l-1.9 1.9l-1.8-2.3l-1.9-2.6l-1.9-.8l-1.9 1.2l-1.8 1.7l-1.9-4.1l-1.9-2.1l-1.9-3.3l-1.8-4.6l-1.9 3l-1.9 1.6l-1.9-.2l-1.9 .4l-1.8-2.3l-1.9-1.2l-1.9-.7M313.6 788.7l-1.8-11.2l-1.9 4.6l-1.9-1.2l-1.9 1.9l-1.8-9.7l-1.9 5.9l-1.9-1.4l-1.9 1.6l-1.8-.4l-1.9-5.9l-1.9 1.5l-1.9-2.2l-1.8-3.6l-1.9 5.5l-1.9-2.9l-1.8-1l-1.9 4.2l-1.9-1.6l-1.9-5l-1.8-.6l-1.9 3l-1.9-3.7l-1.9-2.7l-1.8-.1l-1.9 1.5l-1.9-3.1l-1.9-2.3l-1.8 .6l-1.9 .8l-1.9-.6l-1.8-3.9l-1.9 .4l-1.9 .2l-1.9 2.9l-1.8-3.9l-1.9-2.5l-1.9-.5l-1.9 3.6l-1.8 .1l-1.9-5.7l-1.9-1.5l-1.9-.7l-1.8 2.1l-1.9-2.5l-1.9-2.2l-1.8-3.1l-1.9-4l-1.9 3l-1.9 .8l-1.8-1l-1.9-3.7l-1.9-1l-1.9 2.3l-1.8-.2l-1.9 3.7l-1.9-1.4l-1.9-4.9l-1.8-1.2l-1.9-.9l-1.9 .9l-1.9-1.7l-1.8-1.5l-1.9-3.3l-1.9-4.8l-1.8 3.1l-1.9 1.7l-1.9 .5l-1.9 2.4l-1.8-3.3l-1.9-2.9l-1.9-.9l-1.9 0" fill="none" stroke="#000" stroke-width="0.55" stroke-opacity="1" filter="url(#blw)"/></g></g><path d="M164 837.3l1.7-2.2m3.8-3.7l-1.3-1.3m3.7-3.2l1.8-.2m3.3 3.2l-3.1-1.5m5.6-1.8l2.7-1m1 6.9l1.2-1.6m.9-1.5l2.9-.1m3.5-6l-2.7-1m7 .2l.4-2.3m3.1 2.1l-1.6-1.3m4.4-.6l2.6-1.4m2 .3l1.8-.6m2 1.5l-1.3-1.6m6.6-4l-2.9-.5m5.5-3.4l.3-2.2m6.7 11.3l-3.4-.7m3.9-3l-1.9-.1m5.1-2.3l-.4-2.3m6.9-4.1l-.5-1.5m2.7 1.7l2-.7m1.2 .6l-1.6-.1m5.3 1.1l-.4-1.5m6.8 6.8l-2.7-1.7m4.8-4.1l-2.3-.2m5.8-11.3l-.7-1.2m5.2 3.8l1.9-1.6m1.7 1.1l2.6-.4m-1.1 .3l1.2-.7m3.5 .6l2.4-1.2m4.6-2.4l-.9-1.6m3.4-6.7l1.3-.8m.3 3.2l-1.4-1.4m7.7 4.5l-2.1-2.2m3.7 5.5l-.1-2.6m4.7-3.1l-.2-2.7m1.4 2.9l1.4-1.6m2.8 1.9l3.2-.9m3.4-5.7l1.6-1.1m3.3 2.3l-1.9-.2m4.7 4.2l-1-1.7m-150.3 48.1l-3.5-.2m6.8-7.1l2.1-.2m.4 4.1l-.8-1.7m1.1 1.4l2.8-1.5m5-9.6l-1.8-.5m4.5-.8l.2-2.5m5.2 14.5l.3-2.2m2-2.3l2.3-.5m2.8-5.9l-.7-2m3.2 2.1l-1.5-1.7m7.8-1.7l-1-1.1m4.7-3.4l-1.4-1m1.2 1.9l-.2-2.5m3.8 7.7l3.1-1.4m3.9 .6l1.5-2m.8-3.9l2.2-1.8m2 .4l.5-2.5m4.1 2.7l2.6-1.6m3.3-4.4l-1.9-.7m2.8 4.1l3-.4m3.1 2.2l-2.3-1.8m3.3-1.2l2.3-1.5m3.5-.9l.9-2.3m3.2 1.2l-1.2-1.3m5.5-1.4l-.5-1.4m3.9 .4l-1.9-1m5.3-1.8l-1.9-1m7-1l2.2-.5m2.1-1.8l-3.3-.9m6.6-1.1l-.5-1.4m1.6 2.3l-1.5-.8m8.3 4.2l-2.8-.8m6.2-3.2l-1.8-1.8m4.6 1.7l.5-1.6m4 1.5l1.4-2.5m1.9-2.8l-.7-1.1m5.8-3.4l-3.1-1.3m5.4 14.2l.8-1.1m2.3-10.3l2.5 0m.2-.7l3-.4m-156.1 51.1l.7-2.8m1.7 .6l1.4-.8m6-.4l-.5-1.6m2.4 4.8l-.3-1.6m8.5-8.5l-2.8-1.1m4.1 .5l-2.6-.5m4.2 2.8l.8-1.2m5.8-.6l-2-1.8m5.4 .9l0-1.5m4.8 2.1l.2-1.5m1.3 4.5l1.4-2m5.5-8l-1.4-.7m.8 1.7l.9-2.7m8.1 .4l-1.4-2.3m2.1 1.3l1.6-.2m1.2-1.9l3.4-.6m4.2 3.2l-1.5-2.1m1.1-3.4l.3-1.3m5.7 5.1l-2.2-.5m4.7-10.7l2.3-.3m2.2 4.5l2.5-.1m2.4 1.7l-1.7-1.3m5.7-2l-3-.4m3.3-1.1l1.9-.1m4.3 1.5l-.9-1.6m6.3 2.4l-3.4-.6m6.8-11.3l-1.6-.5m3.6 .8l1.4-1.6m5.6 7.1l-.7-2m3.9 1.4l-2.3-1.8m5.6-2.8l-.8-2.7m4.7 2.4l-1-2.6m4.6-1.3l3.3-.1m2.4-3.9l-2.1-1.6m3.5-1.8l1.5-.4m3.9 5.5l-2.8-1.1m3.6 1.9l2.1 0m2.5-6.9l1.7 0m3.7 3.8l-2.1-1m6.3 .4l-1.5-.6m-151.2 49.5l-1.4-1.8m4.9-2.7l-.3-2m2.7-1.7l1.6-.2m4.5 7.4l-.9-1.1m3.7 1.7l-1.4-1.8m4.5-5.2l2-.3m-.1-3.3l-.2-1.7m3.5 1.5l1.5-.1m6.5-2.1l-2.3-2m3.1 .1l-3-.7m6-4.9l-1.3-2m5.2 6.5l-1.5-.6m7.2-2.4l-2.2-.3m5.7 .1l-3.2-1.1m2.7 1.2l2.7-1.4m5.6 .1l0-2.1m3-4.2l3.5-.2m-.4 .2l-1.8-1.3m9.1 4.9l-2.2-1.8m6.4-1.2l-2.7-1.8m3.6-2l-1-1m5.1-.5l.5-2.1m5 12.6l-1.3-2.3m4.1-5l-1.9-1.3m5.9-7.6l.5-1.3m3.5 4.9l-.8-1.3m3.7-1l1.7-1.6m-1.2 1.6l1.6-.8m6.9 1l1.3-.8m1.9-.5l-1.4-.8m6.1-.8l-3-1.5m5.2-2.4l1.7-1.8m3.6-1.6l3.3-.8m-.6 2.2l1.3-2.5m5.4 1.4l-2.2-1.1m3.7 .6l1.6-2.6m3.9 5.7l-1.1-1.4m6-.4l-2.7 0m4.1-4.6l-.7-2.1m3.5-4.5l1.1-1m-155.3 58.8l.6-2.4m4.3-4.5l.2-1.6m3.9-6.8l-2.7-.2m4.6 3.6l-.8-1.1m7.2 1.5l-1.1-2m2.3 2.9l.9-2.2m6.7-1.6l.3-1.2m1 5.2l2.1-1.2m1.1 3.3l-.2-1.2m5.8-4l-.7-1.6m5.6-6.7l-2.4-.4m4.5 2.8l.4-2.3m3.6-.1l1-.9m3.1 2.4l1.6-1.5m2.4 1.3l-.6-2.3m6.4-.9l-2.9-.4m4.1-.9l1.4-2m2.4 1.3l-1.8-.3m5.4 .6l1.4-1.8m1.8 1l.7-2.2m5.7-.4l-2.8-1.4m6.1-8.2l-.9-1.7m3.6 5.5l1.8-2m1.4 10.3l1.7-.9m4.1-8.6l-1.8-.7m3.9 .3l.5-2.1m1.6-.4l1.6-1.6m5.7-.1l2.4-.2m.9 1.7l-3.5-.1m4.9-3.9l2.4-.8m3.5-1.4l.8-2.6m4.5 3.9l1-2.4m-1.9-2.2l2.5-.8m2.1-1.4l1.1-.9m5 6.2l2.1-.7m3.2 2.2l-2.3-.2m8.7-8.8l-2.5-1.1m-.3 1.3l1.2-2.1m6.6 4.3l-1.7-1.3m3.7-4.5l.4-1.6m-151 51.7l-3.2-.4m4 2.8l1.6-1.5m.1-3.9l2-1.8m5.7-1.1l-3.2-.2m7.7-.3l-2 0m4.8-.6l-2.1-.7m5.3-4.1l2-.8m.6-.8l1.2-1.3m2.3 5.6l1.2-2.6m2.7-1.3l3-.5m1.6 1l-.4-2.4m3 0l1-.9m2.8 2l1.6-2.2m5 .4l-1.9-.5m4.6-5.5l2.1-.9m3.2 3.5l-2-.1m2-3l2.5-.3m3.6 .9l-.6-2.1m6.2-3.6l-1.5-1.5m5 3.4l-1.4-.9m5.4 4.1l2.6-.2m.4-1.6l3.1-1.3m-1.4-1.8l-.3-1.3m4.2-5.4l2-.1m4.3 1.5l.9-1.6m2 3.1l-1.5-2.1m4.8-5.3l2.8-.7m5 5.9l-2.1-2.1m.8-1.4l1.5-1.4m4.9 4.5l-.8-2.6m2.9-6.2l1.7-1.1m6.7 6l.1-1.8m1.2 4.8l-2.5-1.2m9.9-14.7l-2-1.1m1.7 9.8l-1.3-.8m7.5-2.3l-.3-2m3 3l2-2m.7-5l1.5-.8m1.7-4.4l1.7-.8m6.3 13.7l-3.1-.5m-152.9 42.7l.4-1.6m-.6 3.7l2.3-2.2m2.9-3.6l1.3-1m2.9 1.4l-2.2-.5m8.3-.4l-1.6-1.6m6.9 2.8l-3.2-.4m3.5-5l1.4-2m5-5.4l.1-1.7m2.8 3l-1.5-.9m6.1 2.8l-2.3-.4m3.8-2l2.6-.1m1.9-.7l2.1-.6m2.1 1.1l.2-1.9m4.9-.4l-2.3-.7m5.7-2.4l-1.5-1.6m3.8 2.5l2.1-.4m2.5-2l-2.4-1.5m6.6 1.2l-.8-2.4m7.9-8l-2-.6m1.7 7.2l-2.1-.8m6.4-1l1.1-1.3m2.6 0l-.2-1.7m2.4 .5l2.6-1.1m4.3-.2l1.9-.8m-1.7-2l1.3-2.1m7.9 5.7l-1.8-.4m.5-1.8l2.4-.8m3.5-1.8l-2.9-.2m8.3-1.6l1.1-2.2m4.4 1.6l-2.2-2.2m4.2-4.1l-.6-2.3m6.7 2l-.7-1.9m1.6 7.5l-.2-2.6m2.9-.5l-.7-2.3m5.9-1l-1.3-.6m4.7-1.4l1.6-.3m3.7 6.9l2.1-1m.6-5.1l.6-2m3.8-1l2.6-.1m-1.1-2.2l3-1m-154.5 44.6l-1.6-2.6m6.4 7.3l-.9-1.9m4 .1l-1.6-.3m1.8-1.7l1.6-1.1m4.8 7.3l2-1.8m1.5 .8l.1-2.9m1.2 1.5l1.8-2.3m5.2-6.8l-1.6-.2m2.9-1.5l1.7-2m3.7 3l3-1.1m0 .7l.7-1.8m4.6-5.3l.8-1.5m2.5 2.6l-1.1-2.6m6.7 1.9l-1.7-.6m7.1 .6l-2.9-.5m5.7-3.8l-1.2-1.2m2.5-3.1l-.4-1.9m3.9 8.8l-.6-1.2m5.1-.8l1.3-1.3m3.1 1l1.5-1.1m1.8-4.9l-1.4-1.2m6.1 4.5l-1.7-.2m6.6-3.9l.8-1.4m1.4 2.6l-.8-1.4m5.6-5.6l-1.5-.5m4.1 3.6l-2-2.1m5.2-.1l.7-1.2m4.8-3.8l-.5-2.1m3 1.6l3.3-1m.3 1.8l-.6-1.1m6.4 3.2l1.2-.7m-.5-4.1l.8-2m3.7 2.5l2.5-2m4.2 8.9l1.9-.6m1.7-2.9l.1-2.5m3.6-3.3l-.2-2.3m4 1.1l-.7-2.5m8 1.4l-2.3-.4m3.3-2.7l-1.3-1.9m4.1-4.4l.5-2m-154.3 55.7l-1.5-2.1m5.7 3l-2.4-1.8m7.7-.8l-2.7-1.2m3.7-6.8l-.3-2m3.3 2.1l-.1-1.7m3.9 7.1l2.2-1.7m2.3-6.4l-2.9-1.4m9.1 3.9l-2-1.4m3.2-.1l-2.4-1.5m7.3 3.3l-.8-2.2m5.4 .8l2.6-1.2m1-1.3l-.5-2.3m3.6-.2l2.1-.6m-1.3-1.7l2.8-.3m2.5 3.9l2.2-1.4m4.9-4.2l-3.1-1m7.1-.8l-2.1-2.1m4.6 .9l-1.7-.8m4.9 .4l1.9-.8m3.6-2.3l-1.6-.2m5.9-5.4l-3.5-.2m4.1 2.9l2.2-1.9m5 1.1l-3.1-.4m8-1.3l-3.1-.9m2 2.2l2-1.6m7.3 1.2l-.2-1.5m2.4 3.5l-1.3-.9m4.1-7.1l2.9-.3m1.6 1l.5-1.5m3 1.1l.6-1.8m.5-2.5l3.1-.5m2.8-1.3l1.9-1.2m1.9-2.8l2.5-1m.2 6.1l-.4-1.3m8.6-2.7l-1.8-.9m3.4-.5l2.4-.4m1.7-3.8l-.1-2.4m6 10.8l-1.2-1m4.2 .2l-2.7-.2m7.2-5.5l-2.7-.9m-154.8 49.2l1.9-.7m.7-3.7l2.1-.4m2.9 .8l-3.1-1.3m7.6-2.8l1.9-.8m2.8-5.3l-1.6 0m3.9 6.3l2-2m1.9-.2l-.2-1.5m5.7 .2l-2.8-1.7m4-3.8l1.9-.1m4.3 4l-1.1-.9m6.1 3.7l-.7-2.6m3-4.8l-2.8-.9m6.1 1.1l-1.7-1.1m6.7 4l-.5-1.6m1.5 2.5l1.1-1.8m5.3 .5l1.3-2.6m2.2-3.4l3.1-1.2m2.8 2.6l-.3-1.6m2.5 2.3l-2.3-1.2m5.2-4.8l-.3-2m5.9-6.2l1.2-1.8m.1 9.3l1.6-.7m2.6-1.6l-.5-2.3m5.3 .8l-2.4-.3m5.2-9.2l1.7-2.5m5.3 8.8l-.4-1.9m3.2-2.9l-1.7-.2m6.4 .7l-.9-1.8m4-.2l1.7-.1m2.3 2.7l-.8-2.4m1.8 1.3l2.2-1.2m2.6-2.8l2.4-.3m3 .4l2.1-1.6m.4 0l2.5-1.4m.8 6.4l-.5-2m5.1-.4l1.4-.7m4.5-10.7l-.3-2.1m2.6 5.9l1.6-1.4m5.7 1l-2-1.4m4-.8l.8-1.8m-156.2 50.9l1.3-1.4m5.3 1.7l-2.3-1.5m4.4 1l-1.7-.1m1-9l3.2-1.1m3.7 1.9l1.9-.6m4.8-.3l-2.6-1.8m5.8 2.7l.2-1.2m3.7-4.1l-2.7-.9m3.2-3.5l.1-1.9m4.3 3l2.4-2m3.5 2.2l-1.4-.5m2.9 .2l-2.1-.4m6.1 .4l-.2-2.3m5.5-1.8l-.9-1.2m4.3 5.2l-.6-2.2m4.3-1.5l-1.2-.8m8.3-.5l-2-.5m1.5-2l2.2 0m1.6 2.9l-.2-2.5m5.5 5.8l-.6-1.7m6.1-8.3l-.7-1.1m3.5 3.7l.6-1.7m4.3 6.4l-.1-1.8m4.4-5.7l-.4-1.2m4.7-3.4l-1.4-2.4m4.3 1.7l1.9-1.4m2.9 3.3l-1-1m2.9 2.9l-1.7-1.4m5-6.4l-1-2.5m6 2.4l-1.2-1.9m4.2 1.1l2-.9m3.6 .3l-1.3-1.9m4.3-3.8l.5-1.2m5.1-3l-2.6-1.6m4.1 8.1l.4-2.6m4.9 .9l-1-1.2m3.6-7l2-2m0 3.1l1.4-.4m4.1 .3l1.6-2m2.4 2.8l-1.8-.4m-153.5 51l.1-1.8m5.4-.8l1.5-.3m-3.7 5.1l2.7-1.6m5.4 .3l-2.5-.4m3.9-6.2l1.7-.9m4.8-3.1l3.5-.5m-.9 4.1l2.7-.2m5.6-7.7l-3.4-.6m5.9-1.5l-3.3-1.1m7.5 3.2l-.9-1.1m1.6 2.9l.6-2.1m3.1-.9l1.9-.9m6.4-6.9l-2.1-.4m.6 2.3l2.5-.9m2.5 1.4l2-.3m6.5-1.1l-1.9-.8m2.1-2.6l.5-1.4m3-1l-1.5-.7m4.2 3.1l2.8-.9m.9-.6l1.8-1.1m2.6-3.6l1.7-1.1m4-4.3l-2-1.5m7.8 11.9l-3.3-.5m5.6-6.6l2.5-.1m1 1.1l2.6-1.2m-.2-2.1l2.5-1.8m4.3 8.4l.6-2.3m2.4-3.8l.9-1.4m3.9-.3l-2.2-2.1m5.8 3.4l1-1.2m2.6-2.4l-.4-1.6m6.2 5.3l-1.4-1.1m3.5-3.2l.4-2.8m.7-3l2.2-1.9m3.8 3.3l2.6-.6m3.9 1.3l-.3-1.7m2.6-2.7l-1.5-.3m6.7-1.5l.2-1.3m2.6 4.2l.5-1.8m1.7-4.3l2.8-.9m-158.1 49.9l1.8-1.3m1.4 3.4l1.7-1m2.9 2.7l.1-1.3m4.4-2.3l-2.1-2.1m4.1-3.8l2.7-.2m2.5 3.4l-1.7-1.8m5.7-.7l-1.8 0m5.5-3.1l-1.7-1.7m8.7-1.7l-2.6-1.6m.4 2.9l2.8-1.4m4 .6l-2.8-.5m5.2 3.1l-.7-1.7m5.2-2.6l1.4-1.1m.9-2.4l2.2-2.1m3.5 3.6l1.7-.9m1.8-1.8l2.1-1.8m3-1.5l-2-1m6.2-1.1l1.8-2m3.2 1.6l-2.8-1.2m2.8 3.5l2.3-1m3.1-1l-.9-1.1m5.4-3.7l0-1.6m3.7 4.6l2.4-1.2m1.3-3.1l1.8-.1m2.3-5.3l1.4-1m1.4-1l1-1.3m4.9 3.1l-.8-2.5m4.9 4l-.7-1.1m2.6-4.4l2.8-.6m2.1-2.1l2.3-.7m.7 2.8l-.4-1.9m6 4.2l-1.3-1.5m7.4-5l-2.5-1.4m4.4 1.1l-1.5-.9m6.3-1.1l-2.4-1.8m4.2 1.9l-1.5-2.5m4.7 6.1l2-.6m3-9.6l.3-2.6m4.8 5.7l-1.2-.8m5.4 .7l-1.7-.5m-155.3 44l3-.3m.3 2.7l-.1-1.6m3.7-.2l-2.8-.2m5.8-.2l-.7-2.5m5.5-.4l-3.2-.6m6.4 1.9l2.9-.3m1.9 3.1l.2-1.8m3.6-3.6l2-2.3m1.7-1.3l1-1.3m5.4 3.1l.9-1.4m2.3 1.2l.1-1.2m2.7-4l2-.5m3 .8l2.1-2.2m-.6 3.7l2.3-.3m3.9-.8l-1.6-.5m5.6 2.1l-2 0m5-4.6l.3-1.2m3.7-2.9l-2.4-.8m6.4 1.4l-.9-1.6m7.5 3.6l-2.4-1m3.6-5.3l.2-2.4m3.8 1.2l-2.6-.1m6.5 2.2l-.4-1.5m6.4 2.3l-1-2.3m2.1-3.5l-.9-1.7m5.5 .3l.5-2.4m3.6 1.5l2.5-1.8m-.2 2.5l2.2-1m4-.8l-2.2-2.1m5.7-.1l1.6-1.8m2.8 1.4l0-2.5m1.7 5.4l2.2-2m5.4-2.1l.2-1.3m-.6-4.3l2.8-1.2m3.2-.5l-2-.2m8.2 2.9l-.4-2.8m2.1-.3l2-1.4m2.9-3.3l.9-2.3m.8 3.1l2.7-.2m.9 2.3l2.6-1.3m-156.5 39l-2.8-1.7m4.8 4.4l-2.7-.9m5.8-.5l1.1-.9m5.4 .2l-2.2-1.5m2.5 1.5l2.1-1.4m4.9-1.2l-3.3-.7m6.9 2.5l-.6-1.9m5.3 .7l-.5-1.9m1.9-.5l2-1.7m1-4.2l.8-2.7m2.4 5.7l1.6-1m6.2-.2l.3-1.5m1.2 .5l-.8-2.3m6.3-3.4l-1.1-.9m6.1 8.3l.4-2.7m1.4-.6l2.6-.8m1.4 .5l1-1.1m3.3-7.6l.7-1.7m6.6 8.1l-2.6-1.3m.5 1.5l2.2-.3m7.3-5.6l-.5-1.9m1.7-1.5l.7-1.5m3.4 4.2l1.3-2.3m5.3-3l-1.8-.1m4.8 1l-2.2 0m7.1-6.5l-2.3-.1m5.6 7.8l.2-2.7m2.9 .3l-1.9-1.5m4.2-.4l2.6-1.1m3.4-1l-1.7-.1m5.5-7.8l-2.4-1.3m4.3 5.8l2.8-.2m2.4 0l.9-1.6m2.4 .9l-1.9-2.3m6.7 2.9l1.7-.2m3.7 2.4l-2.1-2.1m6.1-6.1l-2.7-1.7m4.5 2.3l1-2.3m4.7-1.6l-1.7-1.9m2.9 1.2l-.8-2.2m-154.5 44.2l-1.9-1.5m2.2 6.4l2.2-1.7m4.7 2.9l-2.1-2m5.7-.1l2.6-1.8m.7-5.1l-2.2-2.2m5.5 5.3l-2.6-.7m7.1-.8l-.8-1.6m7.7 .1l-1.2-.8m3.6-3.3l-.1-2.8m4.4-1.4l.4-2.7m3.7 6.2l-2.3-.8m6.2 1.2l.3-2.6m2.4-3l1.9-2.4m-.2 1.6l1.9-1.1m1.5 6.2l2.5-1.6m5.2 .1l.8-2.3m4.2-2.7l-.9-1.7m4.3 1.6l-.7-2.3m1.7 2.6l1.3-2.2m4-2.1l1.9-1.1m1.6 3.1l1.6-1.2m4.9-4.6l-2.8-.9m5.9 3.2l1.3-1.4m1 2.8l.3-2.4m4.1-6l2.9-1m2-5.7l1.5-.3m0 6.9l-1.6-.2m8.8-.1l-2.2-.2m7.3-3.3l-2.6-1.7m1.5 .8l2.4-.6m5.9-3.3l-2.3-.2m4.2 4.7l-1.6-2.2m6 0l-.1-1.9m3.7-2l-3.1-.6m7.8 .5l2.1-.2m2.9-1.8l-1.4-2.2m3.6 6.6l1.1-.9m2.9-6.4l.1-1.8m5.7 1.4l-2.9-.5m6.5-2.9l-2.4-.3m-157 45.3l1.6-.3m1.5 5.9l1.5-1m3 .5l2.4-1.1m3-3l-.9-2.2m3.5-2.2l1.6-1.4m3.5 2.4l1.5-1.4m3.3 3.1l-.7-2.1m4-2.9l1.8-.7m.7-.7l1.9-1.5m2.2 3l2.4-.9m2 3.1l.8-2.2m3-.1l-2 0m4.4-5.4l3.3-.2m2.2 3.1l.6-2.5m2.7 0l2.5-.9m2.8 4l1.1-1.9m-.4-2.3l1.4-2.4m7.4 3.3l-2.7-.3m4.9-5.4l1.1-1.2m2.5 8.3l-1.2-1.7m3.5-1.4l.4-1.9m6.3-3.8l-.2-2.8m5.9 3.3l-1.2-.9m4.1-2.1l-3-1.5m5.7-1.7l-1.1-1.7m2.5-.4l1.1-1.4m7.7 1.5l-2.3-1.9m2.9 6.7l1.9-1.7m2.4-7.8l.3-2.1m3.1 1.3l0-1.4m4.9 3.7l-.7-2.1m3.3 4.1l.5-1.9m4.4-4.1l2.2-.5m1.4-1.8l.1-2.8m4.1 1.6l-1.4-.5m6.7 3.7l-1.1-1.2m5.3 2.7l0-2.7m3.4-4.1l-1.1-2.3m2 1.6l1.6-1.6m4.9 3.4l-1.2-2.3m-159.5 42.9l3.2-.7m3.4 2l-.7-1.5m3.9-.2l-2.6-.8m4 4.6l1.9-2m4.2-5.4l1.6-1.9m3.8 2.5l2.1-1.5m2.9 3.2l1.2-2.3m.7 .7l.3-1.3m4.2-2.1l1.7-.6m-.1-2.9l3.5-.5m1.5 4.3l2.9-.2m4.9-.2l-.3-1.8m.8-5.9l1.9-.5m2.3-1.1l1-1.6m2.9 13.9l2.2-1.9m3.3-6.7l.2-1.2m0-.3l3.4-.2m6.3 1.1l-2.1-.2m4.8-2l-1.7-1.1m10.9-5l-1.9-.6m5-7.4l0-1.2m3 9.4l-.3-1.5m4 2.9l1.8 0m.9-9.9l1.2-1.5m1.3 5.5l1.6-1.9m3.3-2.2l2.5-1.2m2.1-2.4l-.8-1.6m3.6-.2l2.3-.1m2.8 0l1.4-.7m2.7-2.2l.2-1.2m7.6 1.3l-2.3-.2m2.2-2.7l1.3-.7m1.5-5.3l.7-1.4m5.5 5.8l1.2-2.3m2.1 2.7l-2.6-.7m6.8 1.1l1.1-2.4m1.2-5.3l2.2-2m6.8-.3l-2.1-.3m1.1 5.6l2.3-1m-157.5 48l-3.4-.2m5.6-1.6l1.6-1.5m2 4.8l-2-2.1m4.3-1.3l2.2-1.2m6.1-1.8l.4-1.3m-1.1 .2l3-1.4m7 4.5l-3-.1m1-2.5l2.6-.2m4.9-5l1.6-.5m-1.4-.7l3.2-.9m3.6 3.1l-1.1-1.4m3.2-2.7l2.4-.5m3.9-1.6l-2.6-1.9m4-3.4l1.7-.8m2.5 9.7l2.7-.3m2.4-5.2l-.7-1.1m4.2-3.1l1.7-2m2.6 2.3l1.1-2.4m16-8.6l2.4-1.9m3.1 10.7l.2-2m-.5 .8l1.7-1.9m5.1-2.8l-2.1-2.1m8-5.6l-1.5 0m4.7 2.5l-2.6-1.7m6.6 1.4l-3.3-.6m6.2-3.4l1.2-1.2m3.4 .6l-2.2-1m8 2.4l-2.8-.4m4.5 1.3l-1.5-1.9m4.7 2l1.1-2.5m-.3-2.7l1.8-1.6m4.2 2.4l.9-1.7m3.9 4.1l.4-1.5m5.1-3.7l1-1.9m1.2 1.6l.9-2m2.2 .1l-2.5-1.6m8.5 3.8l-.2-1.7m-158.2 45.2l-2.3-.7m6.4 3.3l-2.4-.8m5.5 3.2l-.7-2.3m5.3-6.4l-3.2-.1m7.2-2.3l3.5-.4m.8 2.3l-.9-2.1m2.9-.1l1.5-1.1m2.9-.6l-2.2-1.7m7.4 1l1.7-.7m.8-4.2l.7-2.2m4.1 7.6l-.9-2.5m4.6-3.3l1.5-.4m3.4-9.7l-2.5-.4m4.2 3.1l3.1-1.2m5.4 2.8l-2.8-.7m4 7.6l2.3-1.3m-.5-19.8l2-.2m12.1 8.4l.4-1.9m11.7-.1l-.3-1.3m5.4 2.3l1.8-2.1m3.9 .6l-2.4-.3m5.1-3.1l-3.3-.8m7-1.6l-.4-1.9m1.4 6.3l2.1-1.3m5.6-5.1l1.2-1.9m3.3 4.5l-.7-2.1m2.5-2.3l-3.1-.1m7.6 2.8l0-2.2m3.6 1.9l1-2.1m1.9-6.1l2.2-.4m.6-.6l-1.6-1.9m4.4 2.9l.6-1.7m5.6 1.7l-.9-2m3.3-2.2l-1-1.8m6.2-.3l-1.4-1.7m4.1 3.4l2.1-.6m-157.6 46.6l-3.1-.9m5.9 4.1l2.8-.7m.3-1.1l-3.1-.1m6.6-5.1l-.3-1.4m2.3-4l3.2-.8m5.6 3.5l-1.2-1.6m5.6 4.3l-2.3-2m4-7.7l-.4-1.3m3.9 2.2l-1.1-2.1m8.3 3.3l-2-1m6.6-2.5l-.9-1.5m1.5-1.1l1.5-.2m2-2.9l-1.9-1.9m5.7 2.9l2.1-1.7m4.1 5.3l2.2-.1m1.3 2.9l.3-2.6m-.7-9.8l2.8-.3m21.3 3.9l2.9-1.5m2.9 3.5l-1.7-.3m6.1 0l-.3-2.2m3-2.6l-.9-2.5m1.5 1.1l1-1.3m3.2-3.3l-1-1.3m5.4-2.2l1.3-2m4.8-2.2l-1.7-1.3m4.2-.8l1.5-2m1.9 5.7l1-1.1m4.5 1l1.5-1.8m.9-6.9l3.5-.4m4.2-.7l-2.3-1.9m2.6 5.6l.1-2.6m6.7 3.8l2.4-1.4m-1.3-3.5l2.8-.5m3-2.9l1.6-2.1m2.9 3.2l-1.6-.4m4.2 1.8l2.5-1.3m-158.6 44.9l-2.9-1.3m4.4 5.3l-.6-2.6m1.4-1l.1-2m6.3 2.1l.9-1.8m5.1-4.3l-1.5-1.6m.9-1.1l3.3-.3m5.5 4l-2-1m6.1-2.8l-2.1-1.6m1.3-3.6l1.9-.7m3.3 6.7l0-2m7.9 2.1l-1.7-1.4m2.2-.7l3-.3m4.3-3.7l-1.8-.4m4.1 5.8l1.1-1.7m0 4l1.5-1.5m7.1-6.4l-2-1.2m5.1-1.4l-.2-2.4m.7-1.6l2.6-.2m8 5l-2.2 0m14.3-3.4l.8-1.2m5.6-9l-1.8-1.2m5.4 3.8l-1.6-.1m1.1-6l2.4-1.7m4.2 5l1.3-1.1m4.7 1.8l-3-.7m5.7-6.5l-2.6-.7m4.6 3.3l1.8-2m1.8 0l3.3-.3m3.3 .4l-1.9-.4m4.2-1.7l1.6-.3m4.5-3.6l-3.5-.5m7.3 2.5l.7-1.4m2.2 .8l-1.8-1.3m5 3.3l-2.4-.9m6.4-6.1l1.5-.3m2.7 1.5l.3-2.6m5.7 9l-3.5-.5m-154.9 38l-2.2-2m3.3 4.6l.1-2.8m.7 2.8l1-2.6m5.2-6.5l-2.3-1m6.8-3.3l1.5-.8m2.7 4.4l-1.4-.7m8.2 .9l-1.6-1.3m3-3l-3-.7m5.6 1.2l3-.6m5.8 3.4l-3.3-.6m1.9 .4l2.9-1.3m4.8 1.9l.5-2.2m1.6-3.8l-2.8-.3m10.6 1.7l-2.8-1.4m5.1 5.8l-2.3-1.3m3.3-8.4l-1.5-.1m5.9-3.6l-2.8-.1m7.9 2.8l1.4-.7m15.1-5.6l-.4-2.1m2.2 5.6l-3-.8m6.8-8.1l2-.9m3.9-1.2l-2.2-.5m6.9 4.4l-.3-2.7m5.4 .8l-.5-2.4m2.4 1.4l.9-1.3m2.8 .1l-2.1-.2m6-5.2l-1.7-1.1m7.2 6l-1.3-1.3m5.5 1.2l-1.2-2.4m2.8-3.8l1.6-2.4m3.4 4.3l.9-1.7m1.8 6.3l3.4-.6m.1-9.4l-1.5-1.1m7.7 3.3l.9-2.2m2.8-6.2l0-2.2m4.6 5.2l-2.4-1.9m5 .8l1.7 0m-160.2 45.7l1-2.7m.8-.4l1.9-.8m4.1 4.4l2.3-1.1m1.9-9.1l-1-2.6m4.1 5.8l.5-1.1m1 3.2l2.8-.1m2-2.2l1.4-.5m2.5 2.1l-.3-2.2m3.2-1.6l1.8-.6m6.5 5.1l-1.4-1.9m4.7 1.7l-1.5-1.6m8.5-6.4l-2.5-1.2m1.9 .5l2.5-.6m3.1 2.6l1.2-1m4.4-4.4l-1.7-2.4m4.7 5.3l1.5-.8m4.9-7.3l-2.8-.5m4.4-.4l1.4-2.6m3.8 6.2l-.2-2m3.3 .1l1.5-1.6m.2-8.4l1.7-.7m1.3 3.7l-.8-1.4m5.6 4.4l2.8-.5m1.5-2.9l2.7-1.4m2.5-.5l-.3-1.6m2.8 4.2l2.4-2.1m-.3 1.9l2.3-.7m8-3.7l-1.5-1.6m1.1-1.2l.5-2.7m5.5 6.2l-2-2.3m5.5 5.9l1.1-1m.1-9.2l1.9-.5m4.2-2l-2-1.9m7 .5l2.4-.9m1.4 2.8l1.2-2.6m4.7 3.1l-2.9-.5m4.6-6.3l-.8-1.8m5.5 .1l-.7-1.4m4.6 3.6l.4-1.8m4.2 1.3l-1.1-1.5m-161.3 41.9l2.7-.2m4 6.1l-1.3-1.3m5.6-2l-.3-1.9m4.8-1l-1.2-1.8m4.5 4l2.1-1.7m2.1 1.1l-1.8-.4m5.5-.1l-3.1-1.3m5.3-2.2l-1.2-2.3m4 2.4l1.3-2.2m3.2 1.5l.3-1.4m5.1-.5l1.5-.5m3.4-2l-1.9-1m6.7-4l.5-1.7m2.3 3.8l-3.1-1.2m7.4-1.4l-.9-1.5m1.7-1.3l1.8-.3m4-5.9l1.7-.2m6.5 12.5l-2.4-1.4m2.3 4.7l.8-1.7m3.8-12.3l1.6-2.2m2.8 3.6l1.5-.8m1.3-1.4l2.4-1.5m3.1 10.7l-1.6-.8m2.5-4.9l2.6-1.8m5.3-4.8l1.2-1.2m-.4 2.8l2.3-.3m4.4 1.1l-.6-1.3m3.7-5l-.3-2.3m5.7-.6l-2.1-1.1m5.2 2.2l.8-2.5m3.5 .8l-1.3-.9m7.7-2.7l-3.1-.5m3-3.6l1-1.6m3.4 7.8l3.2-1.2m2.5-1.7l.5-1.3m4.6-3l.7-2.3m-.7 4.1l1.6-.4m5-1.4l1.6-.7m1.9 10.9l.8-2.1m3.9-6.6l-.5-2.7m-158.2 44.6l-1.6-1m-.5-1l1.4-2.4m7.2 4.3l-2.8-.7m3.8-1.8l2.4-.7m2.5-1.4l2.8-.6m4 6.8l2-.2m1.5 .4l-1.6-1.2m5.8-9.1l-.9-1.5m3.9-1.1l-2.7-1.7m6.9 1.8l1.2-.8m3.2 .6l-3.5-.6m6-6.4l-1.2-2.3m7.6 2.8l-.4-1.4m3 4.1l-2.5-1.9m5.8-3.2l.6-2.1m.6-.7l1.7-1.6m5.3 5.8l-.5-1.9m6.2 1.5l1.3-2.1m1.4 6.5l1.9-1.5m2.5-7.6l-1.4-2.6m4.2 11.5l2.5-.1m1.5-2.9l1.4-2m3-2.3l1.1-1.9m-.1-4.7l3.5-.3m5.4 .6l-.3-1.6m2.3-.4l-2.4-.8m7.1-1.4l2.8-1m2.3-3.1l-1.4-1m3.4 3.1l0-2.9m5.4 3.1l2.9-.8m1.1 2.5l-1.2-1.6m4.7 .3l-.2-2.3m2.9-3.6l2.9-.5m1.5 3.2l2.1-.7m3.1-.1l2.3-1.2m1.8-5.7l-1.7-1m4.2 .5l0-2.5m5.4 7l2-1.1m4.5-4.4l-.1-1.2m1.4-2.7l1.2-1.7m-160.2 52.8l-1.6-1.3m3.5-.4l1.8-.5m3.4-.9l-.9-1.4m4.7 2.8l-2.8-.1m6.9-3.5l1.6-.5m2.6 1l-1.2-2.5m3 1.8l1.2-1m2.3 1.3l1.5-.4m2.7-7.2l-.4-2.1m3.6 1.8l3-1.2m2 .8l1.1-1.3m4-5l-.7-1.3m9.2 7.6l-2.1-2m1.7-1.2l.6-1.1m5.9 .5l-3.4 0m1.9-.7l2.8-1.6m7.7-1.3l-.6-1.4m4.9 3.7l-2.5-.3m3.4 1.7l.4-1.4m6.6 .7l-2.4-1.6m1.2-8.1l.7-1.1m2.2 3l2.3-1.5m4.5-2.9l2.7-1.5m2.4-3.8l.1-2.1m4.8 8.1l1.9-1.3m2.4-3l-1.8-.8m1.8 2.2l2.7-1.2m3.7-.3l2.1-.6m4.1 2.6l-.2-2.4m1.5 3.3l-.9-1m4.8-5.7l-1.1-1.9m7-3l-.7-1.2m4.7 2.5l-2.5-.9m3.7-.4l1.6-1.3m5.9-6.7l-1.2-.9m2.9 1l.7-1.1m4.5 4.8l-1.5-.7m5.4 3.6l.3-2.7m5.3-3.7l-.3-1.2m2-.7l1.6-.2m-161.4 49.4l.2-1.3m4 4.9l2.3-.5m1.7-5.5l.3-1.2m1.6-.7l1.7-2.4m5 1.8l-1.2-1.8m5.5 3.4l-.2-1.6m-.2-1l2.5-1m4.2-3.6l2.1-.6m2.6-.4l1-2.1m4.5 3.9l-2.1-1.5m7.1-4.8l-2-1.5m3.9 2.2l-.4-1.2m5.1 2.7l-.2-1.3m1.1 2.8l1.8-1.9m5.8-2.8l2.2-.9m-.2-1.8l1.8-.2m.5 4.5l2.2-.5m3.6-3.2l-2.8-1.4m7.7 .7l-1.8-1m2.5-6.4l2.1-.4m5.5 4.5l2.5-1m.1-2l1.5-.6m.8 .6l.2-2m6.5 3.4l-.1-2.7m.9-3.8l2.8-1.1m3.6 1.8l1.5-.6m2.8 1.2l1.3-1.4m.7-4.1l3.3-.8m2.6 5.5l2.1-.9m1.2 .5l1.5-1.4m2.8-4.2l2.8-1.6m1-1.9l.1-2.6m4.4 6.1l-.3-2.7m4.1-.4l1.9-1.2m2-4.9l2.9-.4m2.8 4.6l-2.4-.8m7.5-4.6l-1.3-.8m6 8l-2.8-.1m7.2-7.9l-2.1-.6m5.7 3.1l-2.4-.3m-162.1 45.5l3-1.4m3.2 5.3l-2.5-1.7m6-6.2l1.6-.7m2.2 2l-.6-1.3m5.7-.9l-1.4-.6m4.1 4.3l.4-2.7m1.4-3.6l.6-1.4m4.2-5.8l1.8-.6m2.7 3.9l-2.5-.1m10.2 3.1l-2.3-1m1.6-6.3l2.2-.5m2.3 2l3.2-.8m1.9 1.4l2.4-.4m.7 3.4l1.4-1.2m3.6-8l1.3-1.5m4 2.6l-.7-2.7m5.9 2.8l-1.8-.2m3.3-5.4l2.5-1.9m3.2-2.5l-1.3-.8m5.2 .4l.6-2.1m1.9 5l.8-1.3m5.4-1.1l-2.3-1.9m3 1.1l2.3-.3m4.4 2.6l2-.6m-.6 .6l2.6-1.1m4.3-4.6l-1.7-.5m3.4-4.7l2.5-1.8m2.4-.3l1-1.3m3.4 4.2l-3.3-.7m4.8 0l2.9-1.2m7.8-4.6l-3.2-.3m3.3 2.8l.4-1.4m5.9 4.7l-2.9-.1m5.9 .6l-1.8-.5m2.3-8.7l1.9-.2m4.1 2.3l.8-1m4.3 4.6l-2.5 0m7.2-5.9l1.4-1.7m1.2-2l-.1-2.9m6.3 2.5l-2.2-.1m-162.1 53.9l.4-2m4.6-3.2l2.7 0m4.1-.6l-2.9-1.6m4.5-2.8l.1-2m1.6 1.2l.1-1.7m4.8-.3l-1.9-1.3m9.8-3.1l-.9-2.7m3 1.8l-2.1-1.4m4.7 4.5l1.4-2.2m2.8 3.7l1.6 0m3.1-4.4l-1.1-2m6-1.6l1.8-.1m4.3 6.8l-1.5-2m5.6-1.9l-2.5-1.4m3.8-4.1l-2-1.3m3.5-2.4l3-.7m5.6 5.8l-.3-1.8m-2-2.3l3.2-.1m7.5-3.1l-.5-1.8m-.9 3.7l2.1 0m2.1 5l2.4-.8m3.4-6.3l2.1-1.9m.2-1.1l2.7-1.6m7 1.8l-3-.9m2.8-1.9l1.5-.7m3.7-2.7l1.4-1.2m1.6-4.5l1.5-.8m6.4 4.7l.9-2.1m1 4.8l-1.9-1m3.1-.7l2.8-.8m3.6 .5l1.3-1m2.5 1.3l-.4-2m4-1.4l-1.4-1.9m8.7 .3l-1.2-.9m2.6-2l1.7-.4m2.6-.6l-2.3-2.1m5.4-.2l2.8-1.1m2.6-3.2l-1.7-.6m3.5 3.9l2.4-1m5.5-.2l-1.4-1.5m-162.9 53.5l2.8-.1m3.1-4.1l-1-1.3m3.6-2.3l-1.6-.7m6.6-1.7l-1.4-1.9m4.9 1.4l-1.3-1.9m3.2 1.6l-.7-2.6m8.2-3.6l-1.1-.9m5.6 3.2l-.4-2.3m2.7 1.1l-.6-2.4m5.6 1.7l-2-.1m5.1 1.3l-1.4-2.4m6.2 0l1.7-.9m2.6-3.1l-2.2-.4m5.8-.4l-1.2-.8m6-6.3l1.4-.8m2.7 3.8l-1.3-2.6m2.6 5.9l1.2-1.1m5.4-.6l-2.2-.8m4.5-.9l-.2-2m2.7 1.9l0-1.8m6.2 4.7l-2.7-1.7m8.4-5l-2.5-1.5m5.7-4.5l-1.6-1.7m4.8 1.3l.2-2.8m3.5 6.9l-2-1.5m9.5-5.9l-2.3-1.8m4.8 4.5l-1.7-.9m5.7 .2l-1.4-.6m2.9 5.9l.2-2.5m3.8-5.3l1.2-.8m3.8 .3l.4-1.8m1 0l2.4-1m5.4-6.6l-2.1-.2m4.4 .2l-.5-2.2m4.8 6.1l1.9-1.3m.4-1.3l1.8-.1m6 2l-1.4-1.4m7.7-2l-2.3-1.5m.9 2.3l1.6-.8m2.8-.4l1.7-2m-163.2 54.7l-.7-2.4m6.8-5.6l.8-2.4m2.9 2l-2.6-.4m4.2-10.1l1-2.1m5.2 7.8l.6-1.2m1.4 2.7l3.3-1m.7-5.1l.8-1.4m2.5 .8l2.4-.8m4.3 7.7l-.3-1.7m6.2-5.2l-1.7-1.5m3.8-2.5l3.4-.1m1.7 2l-1.1-.9m1.1 1.7l1.9-.7m.9-4.2l3.3-.1m3-4.6l-.8-1.6m6.7 6.3l1.6-2.4m3.4 3.8l.9-1.9m2-2.8l1.2-1.2m3.2-2.9l3.1-.7m.2 3.6l2.7 0m3-2.7l-2.8-.8m4.8-6l1.6-1.5m3.5 2l-1.4-1.6m8.9 2.3l-2.3-.8m4.3 2.2l-3-1.1m4.1-2.9l-1-2.3m6.7 1.1l.6-1.2m3.2 9.5l-2.2-1.2m6.8-2.9l-1.3-.7m3.7-11.9l2.5-.1m5.3 1.6l.4-1.5m-.5 1.5l-.4-1.5m8.2-2.7l-3.6-.3m7.9 1.2l-3.2-.1m5.4 4.3l.3-2.6m2.6 4.5l3.1-.3m2.1-3.8l2.4-2.1m4-1l-.2-2.6m3.5 3l-.4-1.6m3.7-2.8l-2.1-.1m-160.2 47.5l2.4-.6m1.6-.5l-3.3-1.2m7.8-5.5l1.7-.3m.8 1.7l1.4-2.1m1.1 1.7l3.4 0m.2 2.9l-.8-2.5m7.1-2.1l-2.4-1.2m4.7 3.5l1.2-2.7m4.7 2.6l2.1-2.3m4.3-4.1l.6-1.8m1.5-.8l2.2-.6m3.4 2.9l-2.5-2.1m3.2 .1l2.2-1.1m4.4-1.6l-1.6-1.2m5.5 1.9l-.6-2.1m2.7 4.7l2.9-1.1m1.9-7.6l2-1.8m5.4 3.1l.1-1.3m-.7-3.5l2.2-1.7m2.6 2.7l.4-1.4m5.8 0l1.7-.4m1.4-6.6l-.7-1.2m6.9 6.7l-3.3-.6m7.6 1.4l-2.6-1.2m5.9-.7l1.9-1.3m3.1 2.2l-.2-2.4m1.2-1.5l1.6-.3m3.7 2.2l-1.4-1.1m5.7-9.8l-1.9-1.1m6.6 2.6l1.9-2.4m1.8 4.5l-.9-2m5.7 2.5l0-1.5m2.8-2.1l1.4-2.5m2.8 1.7l2.3-.4m.9 2.7l-2.2-.4m7.4-5.2l.3-2.2m3.5 2.2l-2.4-1.2m5.4-2.4l1.8-.2m3.4 1.2l1.7-1.2m.4 4.1l-.5-2.2m-163.2 46.6l2.9-.5m3.7-.5l-1.5-1.5m6.4-8.7l-2.1-.3m3.9 7.5l3-1m2 2.2l1.1-1m0-4.5l3-.6m2.8 1.4l.7-1.6m3.7 .3l1.9-1.2m1.6-1.1l.1-2.1m5.1 .4l2.5-1m-.4-8l1.8-.7m4.2 5.5l2-.2m5.6 2.3l-1-1.2m.1-2.7l1.9-.7m6.4 2.6l-1.3-1.4m6.4 3.4l-.2-2.2m1.2-5.2l1.9 0m1.8-6.1l.9-1.1m4.5 4.3l-1.5-.5m6.6 .3l-.8-1.1m1.9-2.4l.2-1.4m3.7 1.1l2.9-.6m3.5 6.6l-.3-1.2m4.3-1.9l-2-2.2m7.1-1.4l-2.1-1.8m5.4-1.9l.3-1.9m.8-2.2l1.5-1.5m6.2 6l-2.7 0m3.9-3.4l-1-2.5m6.1 1.2l-2.3-1.1m8.2 4.8l.5-1.3m1.6-3.7l1.4-1.8m4.2 .7l1-2.2m2.5 1.8l-1.2-1.4m5-1.3l2-1m1-3.7l1.2-.9m4.3 2.4l-1.7-.2m5.3-.3l2.9-1.4m.6 4.5l.3-2.1m3.8-6.1l-.3-1.2m-164 51.8l2 0m2.3-2.3l.1-1.5m5.6-6.4l2.1-1.1m2.6 9.9l-.1-1.5m2.5-3.3l2.2 0m2.3-.6l-3.1-.5m7.5-.1l.7-2m1.8-.5l1.6-.9m6.3-.3l-1.6-2.6m4.8-6.2l2.1-1.3m-1 7.1l2.2-.4m3.9-1.5l3-.8m.1 4.5l1.8-1.7m5.6-2.7l-3.3-.4m3.4-.7l-1.1-.9m7.4 .9l1.5-2m4-4l1.2-1m1-.1l-.5-1.6m4.1 1.9l-1.2-.9m5.9 3.5l-1.3-1.9m8.7-3.7l-1.6-.5m.4 .2l2 0m3.6 3.1l-2-1.9m6 .5l3.6-.1m-1.2-7.7l-1.3-1.4m5.7 2l-1.1-1.7m8.7 2.7l-1.7-.1m3.2-.9l-1.6-.9m7.4-3.3l-2.7-1.8m7.6 4.5l-2.2-1.1m5.6 .4l1.4-2.3m3.4-3.6l2.6-1.3m-1.7 .2l.4-2.5m5.7 6.2l.1-2.5m2-2.8l1.6-.3m5.4 .1l-1.4-.8m4.2 1.3l-1.1-2.7m2 4l2.8-.5m5.2-2.8l.7-1.2m1.4-6l1.3-.7m-163 51.3l.5-1.1m2.3-2.5l1.6-.5m3.6-1.6l.7-2.2m5.1 1.9l.5-2.3m1.3 7.1l3.3-.5m4.1-4.7l-3.3-.6m4.3 .6l-1.4-2.2m5-2.8l-1.7-.6m6.7-.2l-2.9-1.2m4.6-2.7l3.2-.5m5.7 3.4l-2.5-1.2m5.6 7.6l-.8-2.5m6.4-8.4l-2.7-.4m4.7 .5l-1.2-.8m3.4 1.3l-2.3-1.3m3.9-1.7l1.5-.3m5.6-2.1l-3-.2m7.7-3.9l-2.1-1.5m3.9 5.9l2.9-.3m1.9 .2l3-.5m1.2-4.4l1.6-.5m3.1 3.1l-.1-1.5m3.8-2.2l1.1-1.4m4.2-5.7l-.1-2.2m5.5 2.4l-.3-1.6m1.9 9l.7-2.3m2.2 4.8l0-2.6m6.3-6.1l-3-.5m5.3-3.3l1.8 0m4.7 3.4l-2.2-.6m6.4-2.6l-2.4-1.4m4-7.5l1.7-2.1m6 8.9l-1.1-1.7m4 3.9l.5-1.4m1.7-1.2l.5-2m6.5-1.2l-2.2-.8m.7-.2l2.9-1.3m5.6-.2l1.9-2.4m.7 2.8l-.5-1.7m6.2-.3l-.5-2.8m-163.9 44.3l-1.4-1.8m5.8 6.4l-.3-2.3m4.5-3.3l1.4-.8m2.6 9.2l.9-2.4m2.8 .5l-1.3-1.3m7.6-6.9l.4-1.3m2.3 2.5l.6-1.7m3.2-1.7l.3-2.2m1.9 1.2l-1.3-1.9m8-1.9l-1-1.3m6 2.9l.2-2.6m2.3 8.6l3.1-1.4m-.5-5.3l2.2-1.2m5-5.8l-1.3-2.2m2.9 4.5l1.8-1.4m3.5 .4l-2.7 0m6.1-8.2l1.9-.4m2.5 5.4l-2.4-.9m5 8.6l1.5-2.6m5.1-6.3l-2-.8m5.2-.2l1.5-1.3m1.6-4.1l1.8-1.6m.7 3.6l3.1 0m3.7-5.6l-2.9-.8m5.5 3l-2.4-1.2m5.3 6.9l1.5-2.3m4.7-4.4l-2.7-1.8m9 1.7l1.3-1.6m-.8-3l.4-1.9m7.9 1.3l-2.5 0m5.7-.1l1-1.6m.1-.4l2.7-.3m1.3 5.7l1.2-2m4.8-5.1l2.6-.6m1.2 1.2l-3.1-.4m6.5-3.1l1.7-1.7m3 0l2.4-.3m4.6-.9l-2.4-1.8m3.3 .5l1-2.3m4 6.8l-.7-2.3m-164.1 44.3l.9-2.5m4.5-2.9l-1.4-.6m.7 1.7l2.7-1.4m6.5 8.2l1.6-1.4m2.5-6.1l2.4-.6m-1.1 .6l2.9-.6m2.3-5.7l.1-2.9m6.8 6.5l-1.4-.7m2.9-2l-1.7-.6m5.6-1.6l1.8 0m2.7 4.4l2.3-.7m.1-4.8l-1.7-.2m8.2-1.7l1.8-1.1m2.8-4.5l-2.2-.3m4.8 3.2l2.2-2.1m1.7 4.3l.3-1.3m3.7-2.9l1.4-1.9m6.3 7.7l0-2.7m-.2-2.8l2.2-.7m1.4-5.1l1.8-1.6m7.1-1.6l-3.1-.4m6 3.1l-.1-1.4m2.4 0l2.6-1.5m3.8-.2l1.8-.6m1 .2l-.1-1.3m2.5 .8l1.9-1m5.1 2.2l-1.3-.8m3.5-8.8l.9-1.1m4.9 5.7l1.5-.7m3.2-3.8l-1.6-1.3m4.1-.2l.5-1.4m3.7 3.9l2-1.1m-.9 1.8l3-.6m4.9-3.5l-2-.8m4.4-6.4l1.8-.6m2.6 2.1l1.9-1.2m-1.2 6l2.9-1.1m2.5-6.1l2.4 0m3.9 3.3l-2.3-.3m7.4 2.7l-.5-2.8m-165 43.7l-1.6-1.6m5.9 .7l-1.7-.7m6-1.9l-.5-2.3m5.1 8.6l-.9-2.2m3.4-8.3l-.5-2.2m3.9 .3l-.6-1.3m5.7 4.1l1.3-1.6m4 1.9l-.5-2.2m6.4 .1l-.1-2.7m3.3 .1l2-1.9m1.7 9.5l-2.2-1.4m3.5-8.7l-.3-2.2m8-4.3l1.6-.1m2.9 4.9l-.5-2.6m3.4 1.8l-2.6-.4m7.7 .1l.2-1.7m3.5-3.2l-2.4-.1m6.8 4.3l-1.5-.4m4.3-4.9l-2-2.3m7.3-.6l-.9-2.2m2.7 4.7l-.1-1.8m5.5 .6l1.4-1.6m4.3-.1l-3.4-.6m6.9-.3l.8-1.5m.5-1.5l-.2-1.4m10.7 2.2l-3.4-1m2.9-6.7l.5-1.5m4.2 4.1l-1.7-2.4m6.1 8.3l.9-2.7m4.1-6.7l-1.7-1.7m1.7 2.6l2.5 0m2.1-.8l-1.2-1.3m8.7-.1l.4-1.8m-.6-7.7l2-2m4.2 8.6l2.5-.1m2.3 1l-1.1-2.7m5.3 .3l.1-2.7m2.1 2.4l2.5-.9m6 1l-1-2.6m4.1-3.2l-1.4-.9m-162.7 50.6l-.5-2.2m-.1-.2l2.9-.5m5.3 1.3l1.8-.8m3.3-3.8l-3.2-.8m7.2 1.4l-1.3-.9m3.7-6.6l-2.8-1.5m9.3 4l-2.4-.5m4.4 .8l-3-.1m6.9-1.9l-1.4-.8m5 0l-2.4-.1m7.1 2l-1.7-1.8m6.8-7.8l-2.3-.1m4.1-2.1l1.6-.6m3.7 5.4l2.6-1.4m1.5 4.3l2-1.3m-1-2.4l3.1-.9m5.9-1.1l-2.5-2m4 3.7l1.6-2.3m6-10.5l-1.5-2m2 4.7l0-2.3m5.9 3.9l-1.5-.1m5 6.9l-1-1.6m5.8-6.2l-1.7-.5m6.7-4.9l-1.5-1m2.7 5.3l0-2.5m5.6-5.1l-.1-1.4m3.4 2.6l2.2-.6m2.4 3.5l.3-2.2m2.2 7.5l1.2-2m5.5-10.4l-2.9-.2m8.1-.9l-3.2-.1m8.8 2.9l-1.5-.4m4.5-3l-2.4-1.3m2 1.2l3-.6m7.1 7.1l-2.7-1.4m4.5-2.8l-.5-1.2m4-4.6l1.3-2.4m2.4-1.6l2-1m1.7 4.2l.2-2.4m3.5 2l.4-1.9" stroke="#1f77c8" stroke-width="0.55" opacity="0.6" fill="none"/><path d="M17.6 833.2L17.6 701.6M17.6 833.2L150.3 893.5M150.3 893.5L319.3 847.2M17.6 833.2l-2.6 -0.8M17.6 806.9l-2.6 -0.8M17.6 780.5l-2.6 -0.8M17.6 754.2l-2.6 -0.8M17.6 727.9l-2.6 -0.8M17.6 701.6l-2.6 -0.8M150.3 893.5l-2.6 0.8M150.3 893.5l2 1M117.1 878.4l-2.6 0.8M192.6 881.9l2 1M83.9 863.3l-2.6 0.8M234.8 870.3l2 1M50.8 848.3l-2.6 0.8M277.1 858.8l2 1M17.6 833.2l-2.6 0.8M319.3 847.2l2 1" stroke="#333" stroke-width="0.6" fill="none"/><text x="11" y="833.5" text-anchor="end" class="T">0</text><text x="11" y="807.2" text-anchor="end" class="T">0.2</text><text x="11" y="780.8" text-anchor="end" class="T">0.4</text><text x="11" y="754.5" text-anchor="end" class="T">0.6</text><text x="11" y="728.2" text-anchor="end" class="T">0.8</text><text x="11" y="701.9" text-anchor="end" class="T">1</text><text x="138.8" y="902.2" text-anchor="middle" class="T">0</text><text x="156.3" y="903.1" text-anchor="middle" class="T">0</text><text x="106.2" y="887.4" text-anchor="middle" class="T">1</text><text x="198.7" y="891.2" text-anchor="middle" class="T">1</text><text x="73.3" y="872.3" text-anchor="middle" class="T">2</text><text x="241.4" y="880.2" text-anchor="middle" class="T">2</text><text x="40.9" y="857.3" text-anchor="middle" class="T">3</text><text x="283.7" y="868.7" text-anchor="middle" class="T">3</text><text x="8.3" y="842" text-anchor="middle" class="T">4</text><text x="326.1" y="856.8" text-anchor="middle" class="T">4</text>
</svg>
</body></html>
